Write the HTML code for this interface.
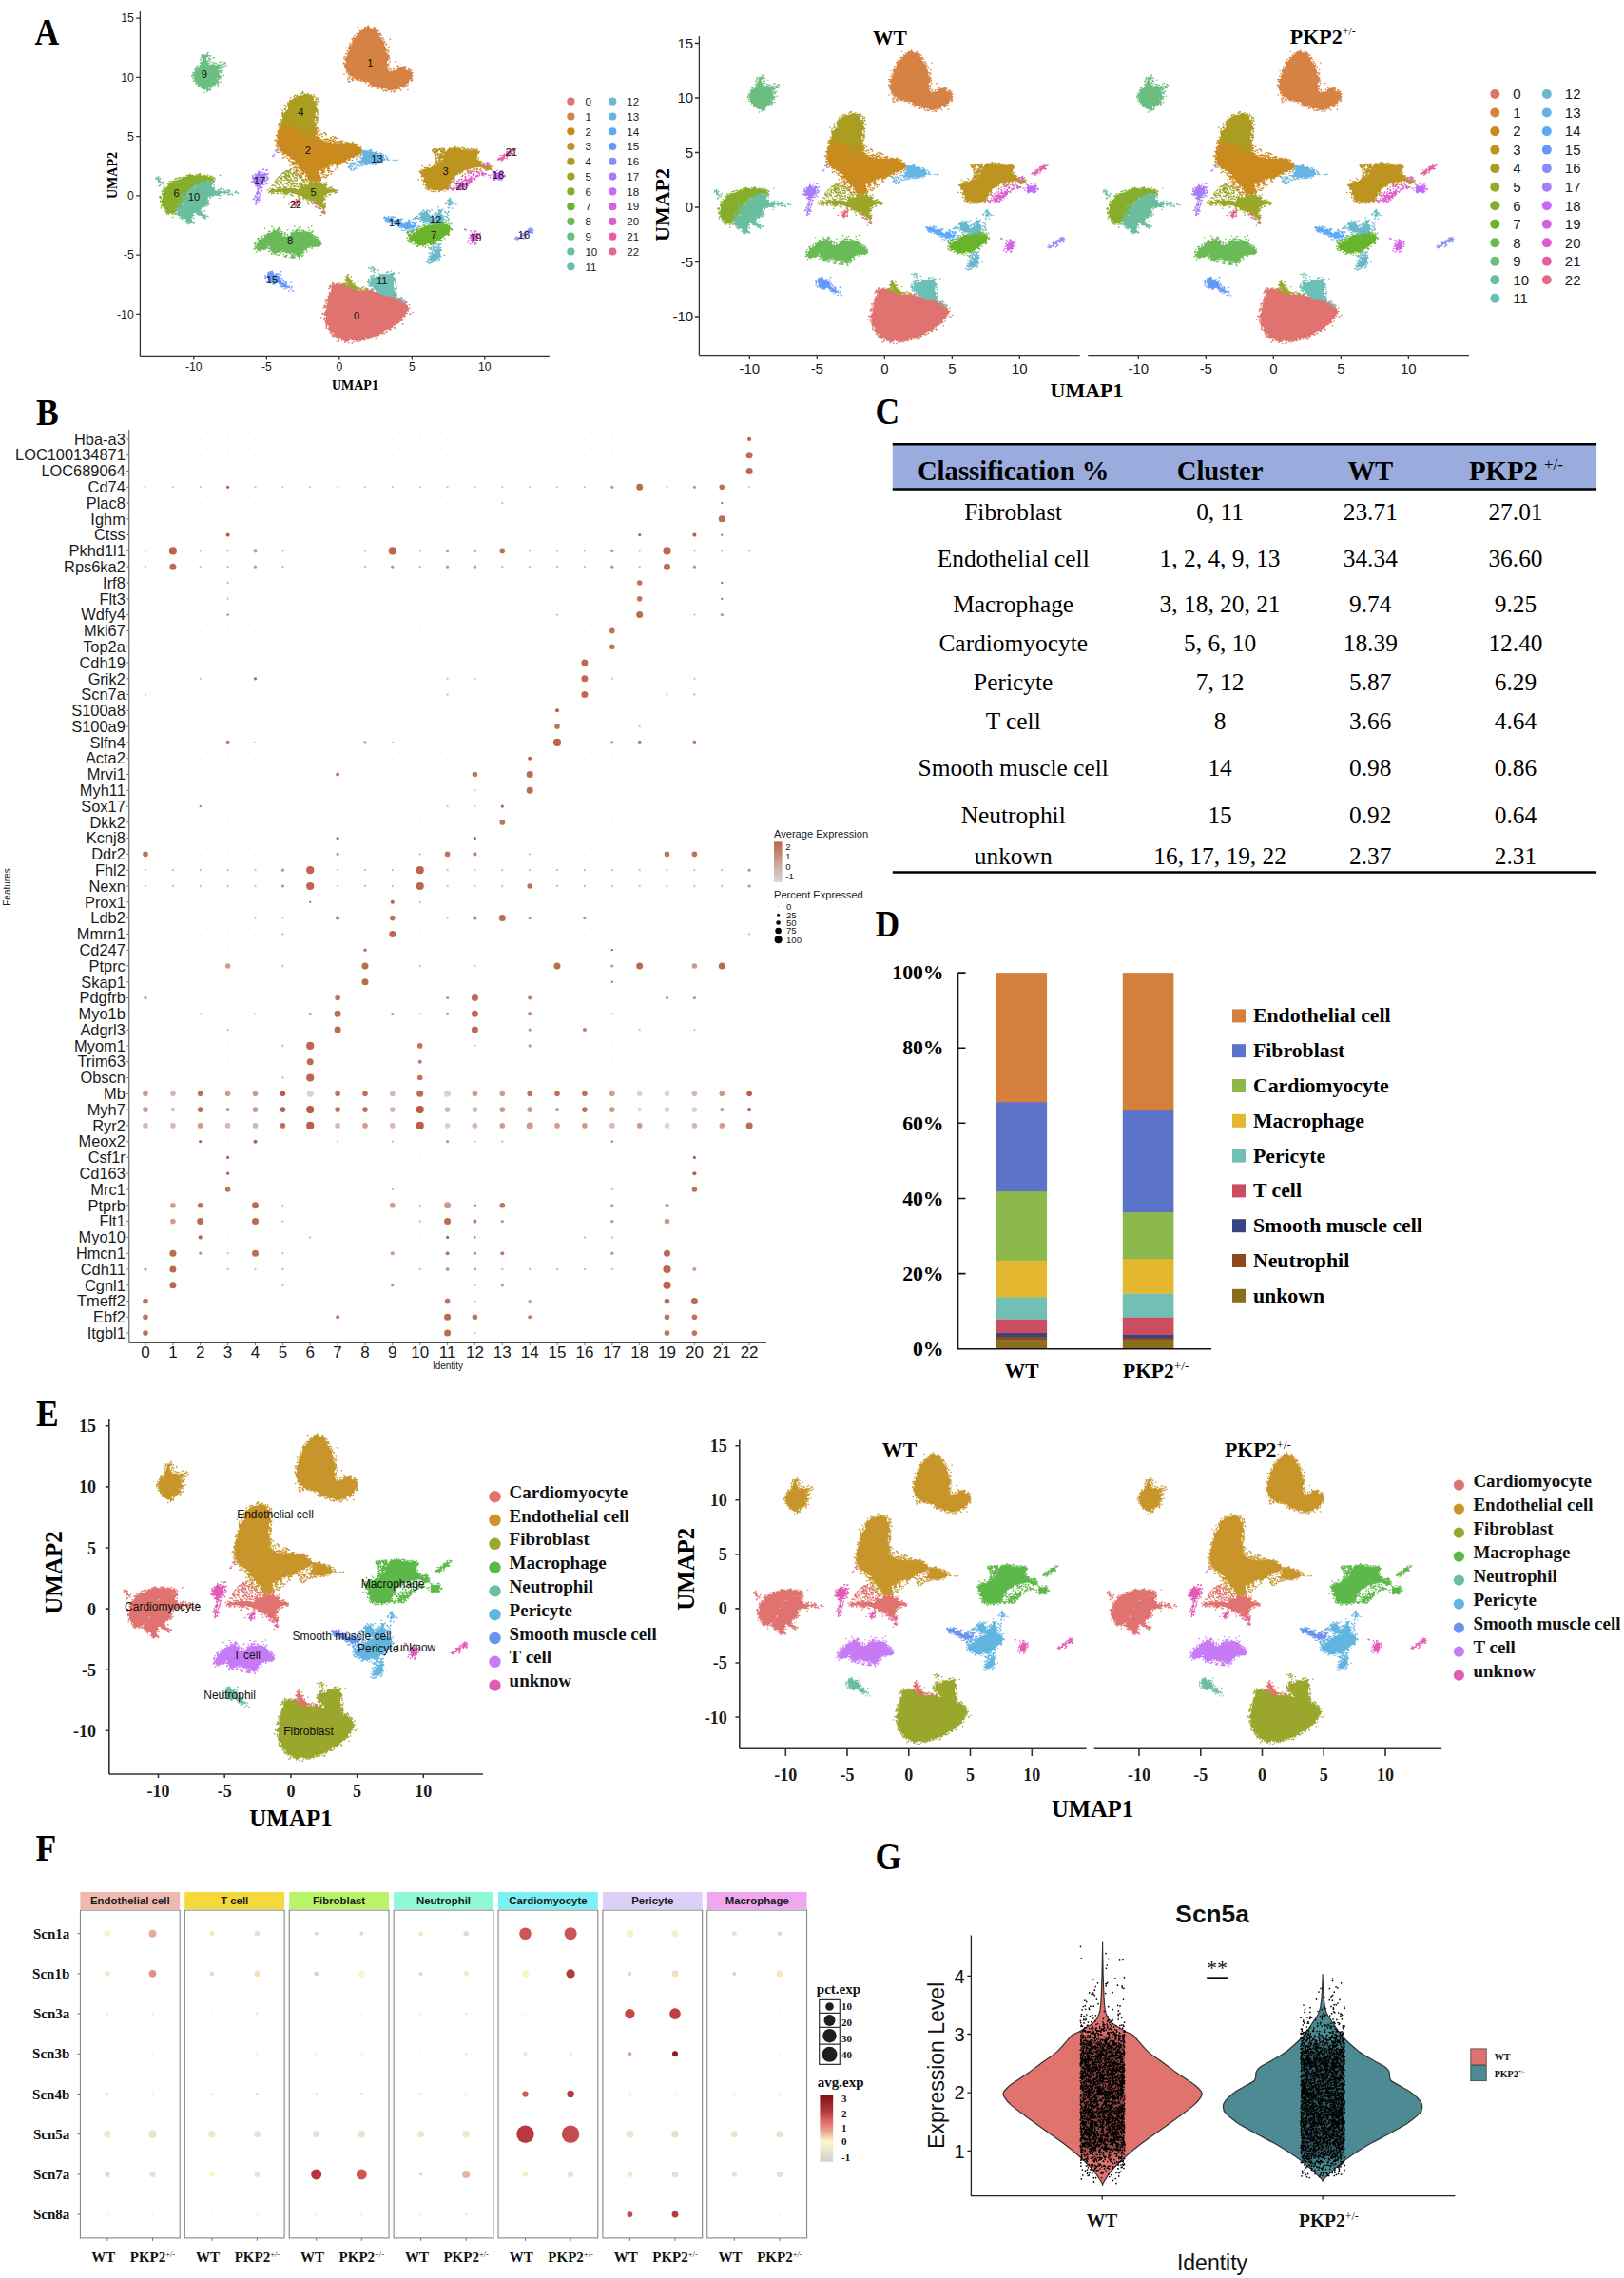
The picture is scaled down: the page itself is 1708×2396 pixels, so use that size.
<!DOCTYPE html>
<html><head><meta charset="utf-8"><title>Figure</title><style>html,body{margin:0;padding:0;background:#fff}svg{display:block}</style></head><body>
<svg width="1708" height="2396" viewBox="0 0 1708 2396">
<rect width="1708" height="2396" fill="#fff"/>
<defs><g id="c0"><path d="M-5,-75.1 -2.7,-75.2 -2.7,-74.5 -0.6,-73.6 0,-75.1 2.4,-74.5 4.2,-74.5 4.9,-75.4 7.3,-76.2 6.8,-77.5 8.4,-77.6 9.3,-78.5 10.9,-78.5 12.6,-79.2 12.4,-79.3 13.9,-80.1 15.1,-80 16.8,-79.8 20.1,-79.8 20.2,-80.4 20.9,-79.3 22.3,-79.9 23.7,-81 25.2,-81.3 27.1,-81.5 27.8,-81.7 29.2,-82.5 30.5,-82.8 32,-82.9 32.8,-83.8 34.6,-83.4 36.5,-84 37.4,-83.8 38.3,-85 39.4,-86.4 39.8,-87.4 41.6,-87.2 42.8,-88.2 43.6,-89.2 44.3,-90 46.1,-91.6 45.8,-91.5 47.2,-93 47.3,-95.7 47.9,-95.8 46.5,-97.9 45.9,-99.8 45.2,-100.3 45.3,-101.2 44.2,-102 43.2,-103.4 43.2,-104.9 40.9,-106.1 41,-106.4 40.7,-108.1 39.1,-108.2 37.9,-110.7 37.4,-109.3 36.5,-111.9 34.7,-112.2 35.1,-113 32.9,-113.2 31.7,-113.7 30.3,-115.5 30,-115.2 28.9,-116.4 26.6,-117.6 25.9,-118.1 25.2,-118.7 24,-119.1 22.1,-119.7 21.2,-120 19.5,-120.8 17.8,-120.2 17.9,-121.5 15.6,-122.3 14.7,-121.9 14.4,-122 11.6,-123.5 11.4,-122.4 8.6,-122.5 7.3,-121 7.4,-122.3 5.5,-123.4 4.2,-122.9 3.3,-122.9 1.3,-121 1.5,-121.5 -1.1,-119.7 -1,-120 -2.8,-119.1 -4,-118.4 -3.6,-116.6 -4,-115.9 -5.8,-115.2 -6.6,-114.3 -8.2,-112.2 -6.9,-110.9 -7.3,-110 -8.6,-108.9 -8.8,-108.3 -9.8,-107.3 -9.2,-105.3 -9.6,-103.3 -9.3,-102.4 -8.9,-101.8 -10.6,-99.7 -10,-98.1 -9.6,-97 -9.1,-97.2 -8.8,-95.2 -9.2,-93.7 -8.2,-91.7 -7.7,-91.7 -8.2,-90.7 -7.7,-87.9 -7.8,-86.8 -7,-85.1 -7.3,-84.7 -7,-82.1 -5.8,-81.7 -5.8,-80.3 -5.5,-79.2 -5.4,-78.5 -5.1,-75.7Z" stroke="none"/><path fill="none" stroke-width="1.25" stroke-linecap="round" d="M-4.4,-73.7h0M-3.7,-74.6h0M-4.6,-74.2h0M3.9,-74.6h0M3.2,-74.3h0M-0.8,-73.9h0M3.3,-74.7h0M3.3,-74.1h0M8.7,-77.2h0M6.3,-74.2h0M8.8,-76.7h0M9.3,-77.8h0M7.9,-76.5h0M13.3,-77.8h0M13.4,-78.8h0M10.8,-77.8h0M14.9,-78.7h0M11.2,-78.5h0M16.7,-77.1h0M19.5,-79.2h0M14.7,-78.7h0M15.7,-79.3h0M19.6,-79h0M19.2,-78.9h0M26,-80.7h0M22.2,-79.7h0M22.7,-79.4h0M25.6,-80.2h0M22.9,-79.2h0M31.1,-81.6h0M29,-81.8h0M29.1,-81.3h0M26.6,-80.5h0M30.4,-82.6h0M35.7,-81.3h0M36.9,-83.6h0M33,-82.7h0M36.2,-83.1h0M34.2,-83.1h0M38.3,-83.6h0M37.4,-83.8h0M39,-84.1h0M39.4,-85.7h0M41.7,-87.5h0M42.8,-88.3h0M42.8,-88.3h0M41.6,-87.2h0M44.2,-89.2h0M45.4,-90.6h0M46.3,-90.3h0M48.1,-92.1h0M44.8,-90.6h0M48.3,-94.9h0M47.4,-97.4h0M47.5,-95.5h0M46.9,-96.8h0M50.4,-98.6h0M44.7,-102.2h0M48.9,-100h0M45.3,-101.3h0M46.6,-99.3h0M44.9,-104.4h0M48.5,-100h0M42.4,-105.6h0M41.5,-106.4h0M40.6,-107.3h0M42.9,-104.8h0M43.3,-105.3h0M43.7,-108.5h0M35.3,-113.4h0M38.5,-112.1h0M35.1,-112.6h0M34.6,-113.2h0M38,-111.5h0M34.7,-113h0M37.9,-111.5h0M32.1,-115.4h0M29.9,-116h0M32.7,-114.7h0M30,-116.5h0M31.1,-116.4h0M29.5,-116.2h0M27.4,-117.5h0M25.7,-120.2h0M26.5,-118.4h0M21.9,-120.6h0M25.2,-120.9h0M23.9,-120.3h0M27.1,-117.7h0M20.1,-121.1h0M20,-121.1h0M15,-122.3h0M17.8,-121.8h0M17,-122.1h0M19.3,-121.1h0M14.3,-122.3h0M9.9,-123.7h0M14.4,-122.9h0M8.8,-124.9h0M11.6,-123h0M13.2,-123.4h0M1.7,-122.2h0M3.9,-124h0M6.5,-124.5h0M4.5,-123.3h0M5.1,-122.8h0M4.3,-122.4h0M-3.8,-119.1h0M-1.4,-123.4h0M-2.1,-120.2h0M-0.3,-121.5h0M-1.9,-119.8h0M-0.3,-122.4h0M-4.3,-118.3h0M-4.8,-116.8h0M-6.3,-115.6h0M-4.7,-118.2h0M-5.3,-116.3h0M-4.5,-117h0M-9,-112h0M-8.9,-108.2h0M-8.7,-110.9h0M-8.8,-110.1h0M-8.6,-108.7h0M-9.5,-106.1h0M-10.2,-104.8h0M-10,-100.9h0M-11.6,-99.4h0M-10.1,-103.7h0M-10.1,-99.7h0M-10.3,-103.2h0M-12.4,-102.7h0M-11.3,-99.9h0M-10,-93.8h0M-10.7,-94.7h0M-9.3,-90.1h0M-9.7,-94.5h0M-9.8,-94.2h0M-10.2,-92.7h0M-9.3,-92.9h0M-8.6,-91.4h0M-7.4,-85.2h0M-6.7,-81.8h0M-7.5,-85.1h0M-8.4,-88.8h0M-9.5,-88.5h0M-8.2,-88.3h0M-8.2,-87.7h0M-6,-76.5h0M-6.7,-76.9h0M-5.9,-78.1h0M-7.2,-78.5h0M-5.7,-77.2h0M-6,-75.6h0"/></g>
<g id="c1"><path d="M20.7,142.7 21.9,141.4 22.6,141.6 24.5,141.2 25.5,139.6 26.2,139.1 26.2,137.9 27.3,136.6 27.7,135.7 27.8,133.7 29,133.5 28.9,132.4 30.1,130.9 30.7,129.9 30.9,128.8 31.2,126.5 31.8,126.2 32.1,124.9 32.4,122.9 31.8,121.8 32.5,120.9 33.9,118.8 33,118.8 34.1,116.9 33.5,115.9 34.2,114.2 32.8,113.6 32.8,111.9 33.9,110.6 33.1,109.5 33,108 34.2,105.7 34.2,104.9 36.2,104.9 37.4,105 37.7,105.2 39.7,106.5 39.9,107.7 41.3,108.8 42.8,109.1 43.5,109.1 44.3,109.4 45.8,108.2 45.1,107.5 46.5,105.8 48.1,106.1 48.4,104.9 51.1,103.9 50.3,102.8 49.6,100.9 49.9,99.4 49.4,98.7 48.5,98 47.8,95.9 47,95 45.8,94.5 46.4,92.9 44.4,92.4 42.8,92.3 42.3,91.8 41.2,90.5 41.1,89.8 39.1,90.1 37.6,89.6 36.1,88.7 35,88.9 33.8,88.5 32.9,90 30.7,90.7 29.2,89.7 28.2,91.2 27.6,91.2 26.6,92.1 24.6,92.1 22.6,93.6 22.1,93.6 21.3,94.6 20.6,95.3 20.2,96.1 17.6,96.5 16.6,96.2 16.1,96.9 14.4,98.2 13.9,98.2 11.7,97.3 11.1,98.3 9.9,99.7 8.7,100.8 7.8,100.9 6.5,102.2 6.7,102.1 5.9,104.1 5.7,104.5 4.7,106.7 4.5,108.1 4,108 3.4,110.7 4.3,111.8 4.6,113.2 3.9,115 4.3,116.8 4.6,117 5.6,118.4 5.4,120 6.3,121.1 7,122.1 6.3,123.5 7.2,126.1 8.5,126.2 7.8,127.4 8.5,128.4 9,129.8 8.6,130.7 10.3,132.8 10.8,133.4 12,135.8 12.7,135.2 12.5,137.3 13.7,137.2 14,138.3 16,139.9 16.4,141 17.3,141.9 19.2,142.6 20,143.2Z" stroke="none"/><path fill="none" stroke-width="1.25" stroke-linecap="round" d="M24.8,140.9h0M26.2,139.4h0M24.1,141.8h0M25.5,140.5h0M24.1,141.7h0M24,142.4h0M30,133.3h0M29.5,133h0M27.2,138.9h0M28.9,135.3h0M27.5,137h0M27.9,136h0M28.4,136.7h0M31.3,130.2h0M35,132.1h0M32.4,127.6h0M31,129.2h0M32.3,128.4h0M30.6,131.8h0M34.1,125.7h0M34.1,122.6h0M34,118.5h0M33,122h0M33.6,117.8h0M33.8,121h0M32.8,123.1h0M34.1,117.7h0M34.8,113.3h0M33.6,110.3h0M34.6,115.5h0M34,116.6h0M33.9,110.1h0M34,111.5h0M38.5,113.3h0M33.8,108.2h0M34,108.5h0M35.1,106.2h0M35.2,107.2h0M37.4,104.4h0M35.1,106.1h0M35.9,104.9h0M38.1,105.2h0M38.8,107.6h0M37.1,105.7h0M37.4,107.1h0M40.2,109.8h0M40.6,109.1h0M45.1,108.3h0M45.6,109h0M45.9,107.9h0M44.9,109.1h0M49.7,105.8h0M48.4,105.9h0M48.3,107.3h0M47.5,106.7h0M48.9,105.1h0M49.8,99.1h0M50.2,100.9h0M50.2,101.2h0M50,98.9h0M50.1,100.7h0M49.8,97.9h0M47.2,95h0M50,97.4h0M49.4,97.1h0M47,93.3h0M49.6,97.9h0M45.5,92.5h0M41.8,90h0M42.6,88.8h0M44.5,91.7h0M44.3,91.5h0M47.2,89.4h0M39.1,89.3h0M37.9,87.4h0M38.5,88.8h0M35.6,87.7h0M37.2,88.2h0M30.3,88.4h0M32,88.4h0M29.6,89.8h0M32.8,88.5h0M31.6,89.2h0M32,88.7h0M23.1,92.6h0M26,90.2h0M24.9,92h0M27.5,90.6h0M26.4,91.1h0M22,93h0M20.9,94.1h0M22.3,91.7h0M20.1,93.1h0M18.2,95.5h0M22.9,93.1h0M13.2,97.4h0M15,97h0M12.7,98.1h0M12.5,98h0M15.2,96.9h0M14.5,97.3h0M9.2,99.5h0M9.6,97.4h0M7.2,100.5h0M9.4,99.4h0M4.8,106.7h0M4.3,108.3h0M5.4,104.9h0M6.2,102h0M5.3,103.6h0M5.2,104.6h0M3.4,102.6h0M3,111.6h0M3.3,112.3h0M3.9,109.5h0M3.3,111.5h0M3.3,112h0M3.6,115.1h0M6,121.7h0M3.2,116.7h0M4.7,119.8h0M5.5,122.3h0M4.8,119.9h0M4,117.1h0M6.8,125.5h0M7.4,126.4h0M6.9,125.3h0M6.5,124.4h0M4.8,124.9h0M6.7,124.4h0M7.2,127.6h0M7.6,129h0M9.6,132.7h0M10.5,135.2h0M12,136.7h0M9.8,133.8h0M10,132.6h0M8.8,132.2h0M9.5,132.5h0M12.8,137.1h0M12.7,142.3h0M14.2,139.1h0M15.6,140.8h0M14.5,139.1h0M19.7,142.8h0M17.8,142.4h0M20,143.6h0M19.6,142.9h0M6.3,98h0M9.2,97.3h0M6.6,96.4h0M9.3,98.2h0M9,98.1h0M5.9,99.4h0M6.3,96.5h0M7.2,99.5h0M7.4,96.5h0M8.5,98.4h0"/></g>
<g id="c2"><path d="M-40.3,61.3 -38.5,60.4 -37.6,62.1 -36.9,61.3 -34.6,62.1 -34.1,61.9 -32.5,62.5 -31.3,63.3 -29.8,63.2 -29.2,63.7 -27.7,63.3 -26.7,62.7 -25.5,62.1 -23.9,62.5 -23,61.8 -21.3,61.1 -19.9,60.4 -18.7,60.4 -19.5,60 -16.2,60.3 -16.9,58.2 -16.1,56.5 -15.6,55.9 -16.5,53.9 -16.2,54.5 -14.9,50.9 -16.7,51.2 -15.8,49.4 -15.3,48.5 -14.4,48.1 -14,48 -12.5,47.4 -10.9,46.3 -9.9,46 -9.6,45.7 -7.2,44.8 -6.9,45.9 -4.5,44.4 -3.4,44.9 -1.9,44.5 -1.2,44.3 0.3,44.7 1.1,44.6 2.3,45.2 3.5,44.1 4.8,45.5 6.3,45.3 8.3,44.3 9.8,44.3 10.9,43.2 12,42 13,41.4 14.5,40.9 15,40.2 16.2,38.3 15.6,37.1 15,35.1 15.5,35.7 13.8,34.9 14.2,34.4 10.8,33.3 11,32.6 9.4,31.5 7.9,32.2 6.9,30.9 5.6,30.7 4.6,29.4 2.9,28.2 1.9,27.5 0.1,26.8 0.1,26.7 -2.1,27 -1.9,27.3 -4,25.9 -5.3,25.7 -6.5,25.7 -8,24.5 -8.9,24.2 -10.3,23.2 -11.8,22.5 -11.6,21.7 -14.1,21 -13.2,19.2 -14,17 -14.7,17.6 -12.8,16.6 -14.2,14.1 -13.5,11.9 -14.4,12.1 -16.5,11.8 -17.9,12.2 -19,11.5 -21,12.9 -22,13.5 -21.6,14.3 -22.4,16.5 -22.1,17.4 -23,17.8 -23.6,20.5 -24,19.9 -26.4,21.1 -26.2,22.1 -27.2,23.5 -27.3,24.3 -27.9,24.4 -29.1,26.3 -30.8,27.6 -31.6,27.2 -30.2,29.5 -32.3,30.6 -32.8,30.5 -34,32.8 -35.2,33.3 -36.2,34.7 -37.3,34.9 -38.7,35.6 -39.1,37.2 -40.4,37.3 -41.1,38.8 -41.1,39.9 -42.4,41.8 -41.9,43 -42.6,43.8 -42.6,45.9 -41.9,47.3 -43,48.3 -42.6,49.4 -43.2,50.3 -42.3,52.2 -41.7,53.5 -41.7,55.2 -41.4,56.5 -41.1,56.4 -40.1,58.1 -40.3,58.9Z" stroke="none"/><path fill="none" stroke-width="1.25" stroke-linecap="round" d="M-39.4,61.5h0M-29.6,64.5h0M-32.3,63.1h0M-38.7,62.2h0M-37.4,62.5h0M-30.9,64.5h0M-34.2,63.4h0M-36.1,62.3h0M-32.2,63.9h0M-30.5,67.6h0M-22.8,62.4h0M-20.5,61.1h0M-16.6,60.3h0M-18.6,60.3h0M-19.9,61.5h0M-23.8,62.4h0M-26.1,63.1h0M-26.9,63.9h0M-19.1,62.2h0M-20.8,62h0M-25.7,62.9h0M-27,64.5h0M-15.4,50h0M-15.9,55.5h0M-15.4,53.6h0M-15.3,53.9h0M-15.1,53.2h0M-15.6,56.2h0M-15.6,56.7h0M-15.8,54.5h0M-14.8,54.4h0M-10.9,47.3h0M-13.2,48.8h0M-11.8,51.7h0M-14.8,48.4h0M-5.8,49.1h0M-10,47.3h0M-3.5,45.8h0M-7.5,45.9h0M-3,45.3h0M-6.6,46.9h0M-5.9,46.6h0M-3.1,45.4h0M0.9,46.1h0M1.8,45.7h0M-1.9,45.2h0M-1.8,45.5h0M-0.4,45.6h0M0.9,45.5h0M4.3,45.1h0M-2.3,44.9h0M10.8,43.8h0M9.3,44.6h0M9.4,45.2h0M8.8,44.5h0M12.3,42.9h0M14.9,41h0M12.7,43h0M11.6,43.6h0M12.8,42.9h0M16.2,37h0M16.3,37.1h0M18,36.1h0M16.4,36.6h0M12.9,32.1h0M14.5,27.3h0M12.2,32.7h0M14.3,33.2h0M15.7,34.8h0M7.3,30.8h0M8.9,30h0M6.8,30.5h0M7.1,30.2h0M6.3,30.1h0M5.7,27.8h0M3.8,28.5h0M5,28.5h0M6.6,29.9h0M-2,26.4h0M-0.3,26.7h0M-1.3,25.6h0M-0.3,26.4h0M-1.2,26.3h0M0.7,26.3h0M-7.9,23h0M-7,24.3h0M-6.8,23h0M-10.2,22.4h0M-7.9,24.4h0M-6.7,24.7h0M-4.8,25.2h0M-11.1,21.9h0M-12.2,18.9h0M-11,21.5h0M-11.7,20h0M-12.8,13.2h0M-12.6,14.4h0M-13.3,16.8h0M-13.7,14.2h0M-13.5,15.3h0M-15.6,11.7h0M-15.9,12.1h0M-17.4,11.3h0M-19.8,10.7h0M-17.6,11.1h0M-20.3,11.6h0M-22,12.1h0M-22.6,13.4h0M-22.9,14.5h0M-22.9,16.2h0M-23,13.3h0M-26.1,15.8h0M-24.5,18.5h0M-24.7,20.2h0M-24,19.5h0M-25.3,21h0M-25.7,21.2h0M-29.9,25.1h0M-29.6,25.4h0M-30.2,26.8h0M-31.2,23.6h0M-31.6,28.5h0M-27.6,22.8h0M-32.1,27.8h0M-35.9,33.7h0M-33.9,31.4h0M-35.7,31.7h0M-32.9,28.5h0M-38.7,31.8h0M-38.2,32.1h0M-32.1,28.7h0M-40.6,36.9h0M-37.2,32.9h0M-41.7,36.4h0M-38.7,34.7h0M-37.6,35.2h0M-39.1,36.2h0M-43.3,42.2h0M-42.9,38.9h0M-42.1,40h0M-42.9,41.3h0M-42.8,44.9h0M-42.7,46h0M-43.2,50.9h0M-42.8,43.8h0M-43,47.1h0M-44.3,46.8h0M-43.6,46.9h0M-42.8,50.8h0M-43.6,46.9h0M-40.7,58.9h0M-41.2,57h0M-42.1,53.5h0M-40.8,60.1h0M-40.6,60.5h0M-40.8,58.7h0M-42.2,54.6h0M-41.9,59.1h0M-4.5,50.1h0M-13.3,48.7h0M-11.6,49.8h0M-15.2,49.2h0M-14.4,47.9h0M-14.5,49.2h0M-3.1,47h0M-4.2,47.5h0M-15.9,55.9h0M-5.9,45.4h0M-12.2,47.2h0M-12.2,52.1h0M-10.3,53.2h0M-9,46.1h0M-3.3,48.6h0M-4.2,46h0M-9.1,51.2h0M-14.3,56.4h0M-3.7,48.9h0M-7.4,47.5h0M-8.5,48.2h0M-2.9,49.7h0M0.6,45.6h0M1.2,46.3h0M-8.3,47.4h0M-13.2,55.3h0M-15,57.4h0M-2.8,49.3h0M-9.3,47.4h0M-9.1,52.3h0M-3.6,45.2h0M-9.9,47.6h0M-1.1,48.2h0M-7.8,45.7h0M-15.1,49.9h0M-5.7,48.1h0M-13.3,51h0M-9.8,52.6h0M-1.9,48.7h0M-13.7,51.6h0M-4.9,46.5h0M-0.2,45.3h0M2.4,46.5h0M-15.1,51.6h0M-8.4,47.9h0M-29.8,20.9h0M-29.3,20.2h0M-29.4,22.1h0M-31.3,25.9h0M-29.8,18.8h0M-29.2,20.4h0M-31.5,28.2h0M-25.9,21.7h0M-26.2,17.1h0M-32.1,25.7h0M-22.3,13.3h0M-27.3,17.6h0M-33.9,29.4h0M-31.1,28.2h0M-27.5,23.8h0M-26,18.5h0M-33.8,25.5h0M-29.1,23.8h0M-24.6,13.7h0M-31.5,27.4h0M-30.6,24h0M-26.1,15.3h0M-34.7,29.7h0M-24.9,17.9h0M-23.1,16.7h0M-32.7,22.6h0M-31.3,21.9h0M-26.7,15.4h0M-29.4,21.6h0M-25.8,15.8h0M-30.7,27.8h0M-22.9,17.1h0M-25.2,13.1h0M-25.5,13.4h0M-23,13.4h0M-25.5,15.9h0M-31.9,26.9h0M-25.5,19.2h0M-29,18.5h0M-27.6,19.9h0M-27.1,18h0M-34.3,30.9h0M-28.9,23.4h0M-28.5,21.2h0M-30.1,23.3h0M-28.9,23.8h0M-26.7,18.4h0M-29.2,20.9h0M-23.4,13.7h0M-27.8,23.5h0M-7.3,22.3h0M-12,21.1h0M-6.3,20.8h0M-8.2,21.4h0M-10.2,22.6h0M-1.7,24.1h0M-12.9,13.1h0M-11.1,19.8h0M-10.8,22.2h0M-9.6,23.4h0M-10.7,20.1h0M-10.7,16.2h0M-2.6,22.1h0M-7.4,23.5h0M-5.6,18.4h0M-7.6,17.6h0M-11.4,21.6h0M-5.4,20.2h0M-9.8,15.4h0M-10.7,19.7h0M-1.3,24.1h0M-13.2,14.3h0M-9,15.5h0M-12,15.6h0M-11,20.7h0M-4.3,20.3h0M-7.3,19.8h0M-10.6,17.7h0M-11.6,18.4h0M-2,26.4h0M-13.2,16.9h0M-8.9,24h0M-0.7,23.2h0M-7.1,21.1h0M-9.2,17.5h0M-7.7,23.1h0M-10.5,21h0M-8.3,16.7h0M-10,19.9h0M-1.7,25.6h0"/></g>
<g id="c3"><path d="M73.4,36.8 73.8,38.2 74.8,39.3 75.5,39.4 77.9,40.7 79.2,40 80.1,40 82.3,40.4 83.4,40.5 83.8,38.9 85.9,38.6 87.2,38.2 87.7,38.7 89.8,38.3 91.8,38.8 93.2,39.3 94.2,38.5 95.3,38.2 95.5,37.2 95.4,36.2 95,34.1 95.2,33.8 94.5,31.1 94.8,30.8 96.7,29.4 97.3,28.8 97.8,27.1 98.8,27.1 99.7,26.4 100.8,25.3 102.3,25.1 104.1,25 104.2,22.6 104,22.2 102.5,21.4 102,21.2 101.2,21.8 99,22.8 97.1,24.4 97.6,23.4 96.6,24 94.9,23.7 92.9,23.5 92.3,22.5 90.9,23.2 90,22.3 89.5,22.1 86.8,21.5 86.5,21.7 84.4,20.2 83.2,19.2 81.6,18.8 82.2,18 79.9,16.9 79.4,15.1 79.4,14.2 77,13 77.4,11.1 77.3,10.4 75.6,9.1 75.7,7.6 74.6,6.4 74.6,5.5 72,5.2 71,3.9 69.9,4.7 68.2,4.8 66,4.3 66.1,4.3 63.9,4.8 63.3,5.9 61.4,5 60.1,7.1 60,7.4 59.6,9.3 59.2,11.2 57.8,11.7 57.9,13.4 58.6,15.5 57.5,15.4 57.2,16.3 56.3,17.8 55.7,19.2 56.6,21.2 57,21.4 58.1,22.6 59.4,22.5 60.2,24.2 62.1,23.3 63.2,24.1 63.8,24.8 65.1,25.8 66.6,25.1 67.2,27.2 68.7,27.4 68.6,27.7 70.4,29.9 70.8,30.6 71.9,31.8 71.6,33.4 72.1,35.1 72.4,36.6Z" stroke="none"/><path fill="none" stroke-width="1.25" stroke-linecap="round" d="M75.5,39.3h0M72.6,38.6h0M75.9,40.2h0M75.4,39h0M79.2,41h0M81.4,40.6h0M79.9,40.5h0M79.7,41.3h0M84.4,40.4h0M86.6,38.6h0M86.3,39.9h0M85.5,39.2h0M85.1,40.4h0M89.5,39h0M90.6,39.6h0M87.7,38.7h0M88.2,39.5h0M94.4,38.7h0M94.8,39.3h0M91.9,39.3h0M96,36.4h0M95.6,35.6h0M95.2,36.9h0M96.3,37.4h0M95.2,36.9h0M97.4,28.6h0M95.6,31.8h0M97.2,29h0M97.9,28.4h0M95.7,31.4h0M99.7,27.2h0M100.3,26.9h0M101,26.9h0M99.2,27.3h0M104,25h0M101.6,25.9h0M103.5,27.1h0M104.8,24.6h0M104.5,22.9h0M104.2,22.1h0M100.5,17.9h0M101.3,21.5h0M97.1,22.3h0M97.3,22.4h0M100.7,21.3h0M97.1,22.4h0M96.8,21.7h0M95.1,22.2h0M94.8,22.8h0M93.3,22.6h0M92,21.6h0M93.3,20.3h0M94.5,21.7h0M86.5,18.2h0M88.6,21.6h0M90,21h0M87.9,20.8h0M88.9,20.2h0M83.3,18.7h0M84.6,19.7h0M84.9,17.2h0M84.6,20.1h0M83.1,18.8h0M78.1,12.5h0M78.9,14h0M78.8,12.1h0M78.1,11.8h0M79.4,13.5h0M76.3,6.8h0M76.2,8.2h0M77,5.9h0M75.1,6.7h0M76,8.6h0M74,5.2h0M74.8,6.2h0M72.6,3.8h0M74.5,6.2h0M68.4,3.8h0M68.7,3.4h0M66.3,3.5h0M68.8,4.4h0M69.4,4.3h0M63.6,3.3h0M61.7,4.6h0M64.6,3.7h0M63.1,4.7h0M59.3,6.3h0M59.1,8.8h0M61.1,5.6h0M57.8,9.2h0M60,5.4h0M59.8,7.6h0M56.9,13.5h0M58,12.4h0M58.2,11.3h0M56.8,16.5h0M56.6,16.2h0M54.5,13.4h0M55.9,20.4h0M56.2,20h0M55.1,20.4h0M56,19.6h0M57.1,25.1h0M58.6,23.4h0M56.6,22.1h0M59.2,23.8h0M60.6,23.7h0M62.3,25.2h0M61.6,26.4h0M66.4,27.2h0M65.3,26.3h0M66.9,26.9h0M66.7,27.3h0M66.8,28.5h0M67.6,27.9h0M69.3,30.9h0M67.1,28.1h0M69,31h0M69.5,31.9h0M71.1,32.3h0M71.4,34h0M71.3,35.9h0M71.2,33.9h0M67.6,37.1h0M66.4,38.5h0M66.3,32.6h0M68.5,29.4h0M66.9,29.7h0M71.2,36.7h0M70.1,34.2h0M71.7,36.3h0M70.6,37.7h0M72.8,36.7h0M69.4,34.3h0M68.4,29.5h0M66,28.7h0M66.4,34.3h0M66.6,35.2h0M72,39.8h0M71.9,38.8h0M66,37.4h0M70.3,33.2h0M64.2,38.3h0M71.2,32.7h0M68.5,38.9h0M70.3,35.7h0M66.7,36.7h0M69,31.6h0M68.5,29.6h0M66.3,38.4h0M66.9,36.7h0M67,28.3h0M70.6,39.7h0M69.3,34.5h0M65.8,28.8h0M68.2,31.6h0M67,39.3h0M66.5,37.5h0M70,37.6h0M72.1,38.9h0M67.1,38.7h0M64,38.3h0M66.9,26.8h0M66.9,28.5h0M67.7,34.5h0M67.7,37.2h0M66.1,37.4h0M68.8,33.3h0M70.3,39.2h0M66.2,33.6h0M64.7,39h0M71.5,38.3h0M65.2,36h0M64.4,37.2h0M69.3,32.5h0M69.1,34.9h0M71.1,37.5h0M70,37.2h0M68.2,38.7h0M71.4,37.5h0M70.7,32.4h0M67.6,38.1h0M72.6,36.5h0M71.8,38.9h0M66.2,34.5h0M71.2,36.2h0M71.6,32.2h0M71,33.8h0M67.4,27.7h0M67.6,27.6h0M71.3,34.4h0M71.7,33.6h0M71.4,34h0M69.6,34.7h0M67.6,37.7h0M66,26.3h0M68.8,31.5h0M65.5,25.8h0M65.9,34.4h0M72.1,36.3h0M66.2,34.3h0M66.3,36.5h0M66,38.1h0M69.9,38.4h0M66.8,39.3h0M69,29.3h0M69.6,30.1h0M69.3,29.1h0M64.6,36.8h0M64.9,36.5h0M66.2,30.8h0M72.3,37.5h0M71.4,39.7h0M69.2,39h0M69.4,34h0M66.6,31.1h0M68.9,29.2h0M69.6,38h0M67.7,37.8h0M68.7,33.1h0M69.3,33.6h0M69.9,33.6h0M68.8,29h0M71.9,39.2h0M66.4,33.9h0M68.4,32.1h0M65.3,36.9h0M66.2,28.5h0M65.4,26.8h0M68.5,28.1h0M69.6,34.2h0M69.4,32.5h0M69.3,29.9h0M67.9,35.5h0M65.6,36.1h0M69.1,39.6h0M69.4,33.5h0M67.1,31.8h0M70.5,35.9h0M65.3,39.3h0M67.2,26.9h0M70.3,34.5h0M70.9,31.9h0M70.5,34.3h0M69.5,33.5h0M69.8,33.7h0M70.2,31.8h0M67,28h0M64.5,37.9h0M69.6,32.2h0M67.7,38.1h0M68,33.6h0M71,34.2h0"/></g>
<g id="c4"><path d="M-27.1,84.4 -25,84.9 -24.9,84.5 -23.6,86.4 -21.6,85.6 -20.5,85.5 -18.9,84.1 -17.6,83.5 -17.8,82.2 -17.6,81.6 -17.7,80.3 -15.2,78.5 -16.6,77.7 -15.6,75.7 -16,75.2 -15.3,73.9 -15.2,72.2 -16,70.9 -16.4,69.6 -16.4,69.8 -16.6,69 -15.6,66.7 -16.6,65.4 -17.1,64.3 -16.8,61.8 -16.9,61.8 -16.8,60.3 -16.7,58.6 -16.1,58.1 -16.7,56.5 -18.2,56 -19.3,54.7 -19.6,53.7 -21.3,55.1 -22.8,55.4 -23.2,56 -25.4,56.3 -26.4,57.2 -27.1,56.8 -28.6,58 -29,57.5 -31.4,59.1 -32.2,59.5 -33.4,59 -34.7,60.2 -35.6,59.9 -37.2,60.5 -38.3,60.3 -39.6,60.5 -40.3,62.2 -38.9,63.8 -39.3,63.9 -38.9,65.6 -39.5,67.3 -38.4,68.6 -37.7,70.4 -36.5,71.6 -35.9,72.4 -35,73.1 -35.4,75.7 -35.7,76.6 -35.7,77.6 -34.2,78.3 -34.5,79.8 -33.2,80.6 -32.1,81.5 -30.4,83.4 -29.8,83.3 -28.7,84.2Z" stroke="none"/><path fill="none" stroke-width="1.25" stroke-linecap="round" d="M-26.3,85.9h0M-25.3,86.7h0M-24.8,87.5h0M-24.9,86.1h0M-25.2,87.2h0M-19.1,85h0M-21.5,86.4h0M-17.4,85.1h0M-19,85h0M-17.4,83.6h0M-16.2,83h0M-16.2,80.1h0M-17.5,83.6h0M-16,81.6h0M-15.8,73.3h0M-14.5,71.7h0M-14.6,71.8h0M-16,72.9h0M-15.7,73.2h0M-15.5,73.6h0M-15.8,76.9h0M-15.8,72.9h0M-15.7,66.4h0M-16.1,63.6h0M-15.7,61.6h0M-15.8,66.3h0M-15,66.4h0M-15.8,65.6h0M-16.3,66.1h0M-14.8,68.9h0M-16.5,61.4h0M-15.8,61.2h0M-16,57.1h0M-16.1,60.6h0M-16.2,58.9h0M-18.8,54.4h0M-18.3,54.4h0M-18.4,53.5h0M-18.2,54.3h0M-22.6,53.4h0M-25.9,53.1h0M-26.2,56.5h0M-24.6,54.8h0M-23.9,54.8h0M-22.4,54.7h0M-28.9,55h0M-31.6,58.4h0M-32.8,58.6h0M-32.8,58.5h0M-32.6,57.8h0M-27.7,57.1h0M-36,59.2h0M-34.5,58.8h0M-34.1,58.6h0M-36.4,58.7h0M-39.4,59.3h0M-39.8,58.9h0M-40.6,60.9h0M-41,60.6h0M-41.4,61.1h0M-39.7,63.9h0M-40.1,64.2h0M-38.7,68.6h0M-38.9,67.7h0M-38.5,69h0M-38.8,71.7h0M-39.1,69h0M-39,70.1h0M-36.9,72.6h0M-40.5,73.1h0M-37.4,72.6h0M-37.4,76.6h0M-37.2,73.5h0M-36.3,74.7h0M-34.2,79.7h0M-35.3,78.6h0M-35.1,78.3h0M-33.3,82.7h0M-33.7,80.8h0M-29.3,84.2h0M-31.1,83.7h0M-28.9,84.7h0M-30.4,84.8h0M-15.5,77.5h0M-15.1,70.2h0M-15,68.5h0M-15,64.9h0M-15.7,70.8h0M-14.6,79.9h0M-16.1,79.5h0M-14.6,82.3h0M-15.6,77.8h0M-13.7,75.7h0M-15.7,73h0M-16,64.1h0M-15.1,81.5h0M-15,64.1h0M-15.6,71.6h0M-14.9,66.1h0M-15,71.8h0M-14.5,79.1h0M-14.6,79.3h0M-15.2,62.5h0M-14.6,64h0M-14.3,75.9h0M-19.5,48.1h0M-22.4,54.6h0M-19.6,49.6h0M-25.4,55.6h0M-17.3,54.2h0M-24.1,54.7h0M-18.5,54.8h0M-16.6,52.9h0M-25.4,54.6h0M-18.2,52.3h0M-21.5,53.6h0M-17.9,53.1h0M-16.3,50h0M-19.9,53.4h0M-18.6,54.8h0M-24.5,53.9h0M-21.6,49.5h0M-23.3,50.9h0M-18.5,52.8h0M-17.9,54.8h0M-17.4,55.1h0M-21.3,50.3h0M-17.5,49.4h0M-19.8,53.3h0M-20.5,48.1h0M-20.3,52.5h0M-23,49.6h0M-24.6,52.1h0M-22.4,53.1h0M-19.1,50.1h0M-19.8,49.9h0M-18.3,49.4h0M-17.8,52.6h0M-17.8,50.9h0M-23.4,53.5h0M-25.3,53.7h0M-17.7,52.6h0M-22.6,50.5h0M-17,50.3h0M-26.2,57h0"/></g>
<g id="c5"><path d="M-21.6,11.7 -20.9,11.6 -17.8,11.5 -17,11.3 -15.2,11.2 -14.4,11.4 -12.8,11.7 -11.5,9.6 -10.1,9.5 -8.7,9.4 -9.4,7.8 -8.1,6.3 -6.6,5.9 -5,5.5 -4.4,6 -2,4.7 -1.3,4.2 -2.5,3.3 -4.7,2.6 -5.8,2.7 -6.3,2.4 -8.4,1.6 -8.9,0.3 -10.5,0 -10.6,-1.2 -11,-1.7 -10.6,-3.5 -11,-4.8 -11.8,-6.4 -10.8,-7 -10.9,-8.3 -9.4,-10.1 -10.3,-11.7 -9.9,-12.4 -8.5,-13.9 -10.1,-13 -10.4,-12.3 -11.3,-11.6 -12,-10 -13.2,-9.8 -13.7,-7.8 -14.7,-7.3 -16,-7.3 -16.2,-6.2 -17.5,-4.3 -19.3,-4.6 -20.3,-4.1 -20.9,-2.7 -22.3,-2.6 -24.1,-2.4 -24.5,-2.9 -25.7,-0.1 -27.6,-0.4 -29,0.8 -29.9,1.5 -31.1,1.6 -33,1.8 -33.7,3 -34.7,1.6 -36.3,1.8 -37.8,1.5 -39.5,3.2 -40.5,3 -41.8,3 -43,2.7 -45.1,3.3 -46.3,2.8 -46.8,2.9 -48,3.1 -48.7,3.7 -48.4,3.8 -48.1,4.5 -45.8,5.4 -45,5.5 -43.5,5.1 -41.9,6.2 -41.1,6 -39.6,5.9 -37.4,7 -36.3,6.6 -35.6,6.3 -34.3,6.4 -34.1,6.7 -31,6.4 -29.9,6.1 -28.3,5.1 -27.1,7.2 -25.9,8.4 -24.2,7.7 -24.6,8.7 -22.8,8.8 -20.9,9.6ZM3.5,-67.7 6,-68 6.7,-68.8 7.5,-70.2 8.1,-71.9 8.9,-73.4 9.7,-75 11.1,-76.3 11.3,-76.5 11.8,-77.4 12.3,-78.2 11.2,-79 10,-79.4 8.5,-77.2 7.3,-76.6 6.8,-75.5 5.7,-75.6 5.8,-72.8 4.3,-72.6 4,-70.7 5.3,-69.7Z" stroke="none"/><path fill="none" stroke-width="1.25" stroke-linecap="round" d="M-13.3,12.7h0M-18.7,12.2h0M-13.8,12.1h0M-16,11.7h0M-13.3,11.9h0M-19.6,11.7h0M-16.4,11.8h0M-9.8,9.8h0M-10.7,10.8h0M-8.7,11.3h0M-9.7,9.5h0M-5.2,7.3h0M-8.8,9h0M-8.7,8.5h0M-7.1,6.5h0M-3.6,5.1h0M-6,6.6h0M-4.8,5.9h0M-6.1,6.6h0M-1.8,4.6h0M-3,2.3h0M-6,1.3h0M-1.8,2.8h0M-2.4,2.9h0M-2.9,2.2h0M-8.6,-0.4h0M-9.7,-1h0M-6.9,0.8h0M-6.7,0.7h0M-10.7,-5.9h0M-11,-2.8h0M-10.3,-2h0M-9.8,-3.2h0M-10.5,-3.4h0M-9.6,-9.5h0M-10.2,-8.3h0M-10.2,-9h0M-10.5,-8.2h0M-10.1,-7.6h0M-9.5,-7.1h0M-9.8,-8.7h0M-12.6,-16.7h0M-11.3,-13.3h0M-10.1,-14h0M-10.8,-13.9h0M-11,-14.8h0M-11.3,-14.2h0M-14.4,-8.2h0M-16.6,-5.5h0M-15.2,-7.5h0M-16.4,-6.1h0M-17,-5.7h0M-17.7,-5.3h0M-21.1,-7.1h0M-20.8,-3.5h0M-19.2,-5.1h0M-24.8,-2.6h0M-22.6,-3.2h0M-21.6,-5h0M-24.6,-2.4h0M-21.3,-3.3h0M-27.7,-1.2h0M-26.7,-2.6h0M-27.5,-1.1h0M-27.4,-2.4h0M-28.3,-0.9h0M-37,0.8h0M-32.8,0.3h0M-35.6,1.4h0M-36.4,1.6h0M-37.8,-1h0M-31.8,-0.1h0M-37,1.9h0M-33.4,1h0M-46.4,1.7h0M-45.1,2.8h0M-40.1,2.3h0M-46.6,2.6h0M-48.4,2.6h0M-46.4,2.8h0M-42.7,1.7h0M-42.2,1.9h0M-38.9,1.4h0M-45.3,1.8h0M-49.2,4.9h0M-45.9,5.8h0M-43.1,6.6h0M-47.5,6.1h0M-46.3,5.2h0M-45.5,5.7h0M-37.1,7h0M-40,6.8h0M-37.9,7.6h0M-36.1,7.1h0M-40.7,6.5h0M-41.7,6.8h0M-30.3,7.9h0M-33.5,7.9h0M-29.1,7.6h0M-33,9.4h0M-33.1,7.6h0M-31.2,7.7h0M-28.9,10.4h0M-27.2,8.5h0M-28.2,7.3h0M-25.9,8.3h0M-25,8.6h0M-23.7,8.9h0M-23.2,10.6h0M-23.3,9.3h0M-39.9,10.4h0M-30.6,8.2h0M-31.2,18.8h0M-41.9,15.1h0M-45.9,8.6h0M-43.8,12.4h0M-35.7,10.3h0M-44.8,8.7h0M-25.6,9h0M-39.3,18.7h0M-28.5,18.2h0M-36.9,16.1h0M-29.2,10.4h0M-36.7,20.6h0M-39.6,10.3h0M-31.5,19.7h0M-44,11.4h0M-37.4,19.7h0M-26.5,15.4h0M-34.6,17.8h0M-30.3,20.1h0M-29.2,9.4h0M-32.3,9.3h0M-25.7,10.3h0M-34,21.7h0M-36.4,13.5h0M-24.8,12h0M-33,13.5h0M-35.3,19.8h0M-37.9,13h0M-38.4,19.2h0M-31.4,7.9h0M-35.8,13.6h0M-36,15.8h0M-30.7,13.3h0M-34.7,20.2h0M-31,9.9h0M-43.4,11.2h0M-24.7,13.1h0M-30.5,12.8h0M-29.5,14.9h0M-32,17.9h0M-32.1,9.6h0M-33.5,13.7h0M-31,19.4h0M-41.9,12.8h0M-35.3,14.1h0M-26.9,14.9h0M-43.7,12.8h0M-36.2,14.6h0M-42.8,9.7h0M-31,15.2h0M-37.2,14.8h0M-37.2,17.8h0M-33,7.5h0M-35.2,10.8h0M-33.2,14.3h0M-29.5,16.8h0M-34.9,8.6h0M-29.8,9.9h0M-37.9,16.3h0M-39.2,16.1h0M-31.7,16.4h0M-38.1,19h0M-33.9,11.1h0M-25.4,10.4h0M-27.8,16.7h0M-34.9,11.5h0M-42.8,14h0M-27.4,15.8h0M-34.1,16.4h0M-27.5,9.6h0M-38.3,18.9h0M-36.9,18.1h0M-35,17h0M-35.6,13.1h0M-30.2,17.6h0M-40.2,17.3h0M-42.8,11.6h0M-40.8,11.3h0M-33.6,20.8h0M-31.9,17.3h0M-29.1,13.1h0M-36.8,17.4h0M-41.5,8.9h0M-32.4,12.4h0M-34.3,15.5h0M-34.9,16.8h0M-35.8,17.2h0M-44,8.1h0M-36.2,17.8h0M-40,14.8h0M-43.1,10.8h0M-32,12.6h0M-38.7,8.9h0M-25.5,14h0M-33.3,10.7h0M-25.1,8.5h0M-30.6,7.8h0M-34.4,12h0M-38.1,7.4h0M-40.7,12.7h0M-34.5,13h0M-39.6,14.5h0M-35.8,9.7h0M-34.7,16.2h0M-33.4,18.8h0M-36.2,10.2h0M-24.9,8.7h0M-39.6,13.5h0M-37.1,10.2h0M-26.8,11.7h0M-34,16.7h0M-25,8.6h0M-36.1,17.6h0M-35.2,20.9h0M-35.2,20.7h0M-29.1,13.5h0M-30.3,15.2h0M-39.7,15h0M-37.8,15.7h0M-36.6,19.1h0M-31.5,11.3h0M-42.1,10.6h0M-39.1,13.7h0M-35,19.2h0M-24,11h0M-39.8,15.2h0M-33.1,13h0M-23.8,11.8h0M-46.2,8.5h0M-29.6,12.5h0M-26.3,9.4h0M-41.4,16.1h0M-34.4,19.6h0M-32.1,18h0M-33.4,10.2h0M-33.7,22.1h0M-39.5,10.9h0M-28.9,17.3h0M-26.4,7.8h0M-35,13.4h0M-33.6,21.6h0M-32.9,18.9h0M-35.9,21.2h0M-28.9,15h0M-39.7,11.6h0M-36.8,16.5h0M-35.5,20.3h0M-34,15.6h0M6.2,-66.4h0M5.7,-67.5h0M8.2,-68.5h0M8.1,-71.3h0M8.7,-71.8h0M9.4,-71.3h0M10.6,-75h0M12.9,-72.7h0M10.1,-73.8h0M8.9,-71.7h0M9,-71.6h0M13.3,-78.6h0M12.4,-77.9h0M11.5,-76.7h0M11.4,-79.6h0M10.5,-79.4h0M10,-79.8h0M7,-78.3h0M8.6,-79h0M8.5,-79.4h0M5.2,-73.6h0M5.3,-74.6h0M5.6,-75.9h0M4.8,-73.5h0M3.8,-71.2h0M4.4,-71.1h0M4.9,-71.9h0M4.7,-70.5h0M19.5,-79.8h0M4.3,-75.7h0M1.6,-75.2h0M6.6,-76.4h0M11.2,-77.6h0M0.7,-74h0M18.4,-80h0M12.1,-78h0M18.6,-79.9h0M10.9,-77.2h0M9.7,-76.1h0M18.3,-78h0M8.1,-77.7h0M2.5,-74.8h0M14.2,-78.2h0M19.6,-78.8h0M7.4,-77.8h0M3.4,-74.7h0M5.4,-76.8h0M15.7,-77.7h0M18.7,-78.8h0M7.4,-77.4h0M11.7,-78.4h0M9.2,-77.5h0M10,-78.8h0M14.6,-79.8h0M18.2,-79.7h0M10.8,-78.8h0M7.1,-76.6h0M17.2,-78.8h0"/></g>
<g id="c6"><path d="M-117.2,10 -117.2,10.9 -115.5,11.4 -114.5,11.8 -113.8,13.1 -112.4,12.8 -109.7,14 -109.5,13.9 -108.5,14.7 -107.1,16.4 -106.3,15.9 -105.1,16 -103.9,17.6 -102.1,17.5 -101.2,17.7 -100.2,17.5 -98.7,16.5 -96.9,18.1 -95.7,17.6 -94.6,16.9 -93.6,17.1 -92.4,16.7 -91.8,17.8 -90.3,16.3 -88.2,15.6 -86.8,15.3 -86.5,13.8 -85.5,12.8 -87.8,11.8 -89.3,12.5 -91.2,11.6 -91.9,11.7 -93.8,10.8 -94.8,10.3 -95.6,10.1 -96.5,9 -97.5,9 -99.4,7.7 -100.3,7.1 -102.2,6.1 -101.6,6.3 -103.1,3.7 -103.5,2.4 -104.6,0.4 -104.7,-0.1 -104.2,-1.1 -105.3,-3.1 -105.1,-4.5 -105.7,-4.6 -106.6,-6.3 -107.5,-7.1 -108.2,-8.5 -108.3,-9.7 -109.5,-11.1 -109.4,-12.1 -111.4,-12.8 -111.8,-14.1 -112.2,-13.7 -114.3,-15.4 -115.1,-15.1 -117.5,-15.3 -118.7,-13.4 -119.1,-11.2 -119.1,-11.8 -120.6,-11.1 -120.8,-10.5 -121.9,-8.1 -121.8,-7.4 -121.7,-5.8 -123,-4.8 -121.8,-3.6 -121.5,-1.4 -121.3,-0.1 -122,1 -120.8,2.6 -121.2,3.7 -119.8,5.5 -120.8,5.5 -118.6,7.1 -117.6,9Z" stroke="none"/><path fill="none" stroke-width="1.25" stroke-linecap="round" d="M-116.5,12.2h0M-116.4,12h0M-112.4,14.1h0M-112.9,14.1h0M-114.9,12.5h0M-106.7,16.1h0M-110.9,14.9h0M-109.3,15.1h0M-112.1,14.6h0M-110,15.1h0M-109.2,15.4h0M-102.6,17.4h0M-102.4,18.1h0M-102.8,17.1h0M-98.4,17.7h0M-98.4,17.5h0M-105,16.9h0M-103.8,17.4h0M-95.8,18.6h0M-96.9,17.9h0M-95.7,17.8h0M-92.9,17.2h0M-96.9,17.8h0M-88.6,16.5h0M-90.2,17.5h0M-87.6,16.4h0M-88.3,16.2h0M-86.3,15.4h0M-81.9,17.3h0M-85.5,14.3h0M-86.5,11.7h0M-88.7,11.5h0M-89.8,11.4h0M-91.1,10.8h0M-92.5,10.8h0M-91,7.8h0M-89.5,11.4h0M-96.8,9.1h0M-93.6,9.7h0M-94.9,9.8h0M-94.1,10.5h0M-95.7,9h0M-99.7,5.4h0M-97.6,7.8h0M-100.8,6.1h0M-100.7,5.3h0M-103.2,1.5h0M-102.1,3.9h0M-102.4,1.9h0M-100.9,3.3h0M-102.6,2.6h0M-104.7,-2.3h0M-105.3,-3.1h0M-105.1,-3.6h0M-104.3,-0.8h0M-105.3,-4.2h0M-105,-4.7h0M-107.8,-8.9h0M-105.4,-5.3h0M-106,-5.1h0M-105.8,-5.5h0M-108.3,-10.4h0M-110.5,-13.8h0M-110.7,-14.2h0M-110,-13.4h0M-112.8,-15.6h0M-112.9,-15.3h0M-112.3,-15.1h0M-114.4,-18.3h0M-117.3,-15.6h0M-114.6,-15.8h0M-118.4,-14h0M-118.3,-15.4h0M-120.2,-12.2h0M-118.9,-14.3h0M-119.3,-13h0M-122.4,-10.5h0M-122.6,-5.6h0M-121.7,-8.1h0M-122.3,-8.7h0M-122.6,-6h0M-122.4,-5.8h0M-123.6,-1.2h0M-121.6,1.9h0M-122.9,-0.6h0M-122.8,-1.7h0M-122.6,-2.3h0M-122.7,-0.8h0M-122.9,-4.5h0M-121.8,3.9h0M-119.7,7.3h0M-121.2,3.5h0M-121.1,5.4h0M-123.7,8h0M-117.4,10.3h0M-122.1,11h0M-118.1,10.3h0"/></g>
<g id="c7"><path d="M47.2,-35.1 48.1,-36.5 48.4,-34.8 50,-33.6 52.2,-32.6 52.1,-32.3 53.4,-30.6 54.6,-29.9 55.7,-28.3 56,-27.7 57.8,-26.7 57.7,-26.4 59.2,-25.2 60.2,-25.3 61.3,-24.5 63.6,-24.8 64.1,-24.2 64.6,-22.4 65.9,-22.7 68.3,-22.9 69.1,-22.9 70.5,-22.5 72,-22.7 72.4,-24 74.7,-23.8 74.6,-24.5 76,-26.1 76.8,-27.2 75.9,-29.3 76.1,-30.7 74.8,-32.4 74.5,-32.9 73,-33.6 71.6,-34.8 70.7,-36.1 69.7,-36.7 69.4,-37.9 68.1,-37.8 66.4,-39.5 64.7,-39.9 65.5,-40.7 62.8,-41.4 61.6,-41 60.6,-40.4 59.3,-42.1 57.4,-42.2 55.9,-42.1 55.4,-42.4 53.8,-41.1 51.6,-40.2 51.9,-39.2 50,-39.1 49.1,-38.3 47.9,-37.1Z" stroke="none"/><path fill="none" stroke-width="1.25" stroke-linecap="round" d="M48.9,-33.8h0M49.1,-34h0M48.6,-32.3h0M48.9,-33.5h0M49.9,-33.3h0M53.2,-29.6h0M53.6,-30.2h0M53.7,-28.9h0M53.8,-29.6h0M54.4,-29.3h0M51.9,-32.3h0M55.3,-28.2h0M57.7,-25.1h0M56.4,-26.5h0M55.1,-27.6h0M62.5,-23.9h0M63.7,-23.1h0M62.8,-23.6h0M63.8,-23.2h0M58.6,-24.9h0M65.8,-22.8h0M66.2,-21.6h0M65,-23h0M64.8,-23.1h0M69.9,-22.4h0M64.2,-22.7h0M71.3,-21.7h0M71.3,-21.8h0M73.3,-22.9h0M72.7,-22.7h0M77,-23.6h0M75.4,-23.6h0M75.8,-25h0M77.2,-28.2h0M76.9,-28.7h0M77.3,-28h0M77.5,-28.8h0M75.5,-32.7h0M74.8,-32.6h0M75.5,-32.5h0M75,-33.4h0M69.7,-37.7h0M70.6,-38.4h0M70.5,-38.3h0M72.4,-36.1h0M70.3,-37.5h0M64.6,-41h0M66.2,-39.7h0M66.9,-40.9h0M65.8,-39.9h0M59.2,-43.6h0M63,-41.5h0M63.1,-44.2h0M60.7,-42.2h0M61.5,-44.2h0M54,-42.9h0M53.4,-42.7h0M54.2,-42.4h0M57.6,-42.7h0M54.4,-41.7h0M49.7,-39.8h0M51.7,-40.9h0M51.3,-41h0M48.8,-39.4h0M47.2,-37.7h0M47.8,-39h0M47.3,-38h0M46.5,-31h0M46.8,-35.8h0M52.3,-31.5h0M48.4,-35.2h0M47.7,-30.6h0M47.2,-31.5h0M53.4,-28.6h0M49,-30h0M51.2,-31.4h0M51.6,-31.9h0M47.3,-31.3h0M51.7,-32.5h0M49.8,-30h0M49.6,-31.4h0M50.8,-30.1h0M47.1,-30.6h0M51.1,-32.4h0M47.7,-33.8h0M53.8,-28.9h0M49.9,-31h0M50.3,-30h0M53.4,-27.5h0M50.5,-32.9h0M48.2,-32.8h0M47.2,-32.3h0"/></g>
<g id="c8"><path d="M-56.7,-41.7 -57.1,-40.7 -55.6,-39.7 -55.8,-38.8 -56,-37.1 -54.1,-37.1 -53.7,-36.1 -51.7,-35.6 -51.2,-33.4 -49.9,-33 -49.2,-32.1 -48,-31.3 -46.8,-31 -45.1,-29.7 -45.1,-29.7 -43.6,-29.9 -42,-28.7 -40.9,-31.1 -40.2,-31.2 -39,-31.2 -38.9,-34.2 -38.2,-34.1 -36.6,-34.7 -35.1,-33.9 -33.9,-33.4 -33.2,-32.5 -32.7,-31.3 -30.4,-31.3 -30.5,-30.4 -29.2,-29.9 -27.9,-30.6 -26.2,-30.1 -25.4,-31.3 -25.4,-31 -23.5,-30.4 -21.5,-30.2 -21.5,-30.2 -19.7,-31.3 -18.3,-32.7 -17.4,-33.9 -17.9,-34.6 -17,-35.2 -15.5,-36.2 -14.3,-36.8 -14.3,-37.9 -12.8,-38.9 -12.3,-40.5 -13.1,-41.6 -14.6,-43.1 -16.3,-43 -17.7,-43 -18.8,-44 -19.9,-42.8 -20.6,-43.6 -22.5,-44.9 -24.4,-46.2 -23.7,-45.6 -24.7,-47.6 -24.5,-48.3 -25.4,-48.9 -26.5,-50.8 -27.4,-51.6 -28.9,-51.4 -30,-49.6 -31.3,-48.7 -32.1,-48.4 -33.2,-48.4 -35.3,-48.7 -37.3,-47.8 -38,-46.6 -41,-46.7 -40.4,-47.4 -42.2,-48.3 -43.3,-48.4 -43.8,-48.4 -45.7,-48 -46.5,-47.8 -46.7,-46.5 -47.2,-44.6 -48.3,-42.3 -49.1,-43.5 -50.2,-44.8 -51.4,-46.2 -52.7,-45.6 -54.1,-46.4 -55.6,-46.1 -56.7,-45 -58,-44.1Z" stroke="none"/><path fill="none" stroke-width="1.25" stroke-linecap="round" d="M-58.2,-40.6h0M-55.8,-36.2h0M-57.7,-40.3h0M-57.7,-41.6h0M-55.9,-36.5h0M-57.2,-38.8h0M-55,-36.1h0M-53.2,-35.3h0M-51.3,-33.1h0M-51,-33.3h0M-52.8,-34.1h0M-51.1,-27.7h0M-48.4,-30.1h0M-48.6,-32h0M-49.5,-32.3h0M-47.8,-30.1h0M-44.4,-29.5h0M-45.1,-27.6h0M-45.4,-29.2h0M-43.7,-29.3h0M-39.4,-30.4h0M-40.5,-28.7h0M-39.7,-30.4h0M-37.2,-31.2h0M-37.3,-32.5h0M-38.7,-32h0M-35.7,-33h0M-37.4,-33.6h0M-35.6,-32.7h0M-35.5,-28.9h0M-32.9,-31.8h0M-31.7,-31.2h0M-33,-31.6h0M-30.3,-30.5h0M-29.5,-29.5h0M-30.6,-30.4h0M-25.5,-30.7h0M-28.6,-29h0M-27.3,-29.1h0M-27.5,-29.6h0M-24.6,-29.6h0M-23.3,-30.1h0M-21.2,-27h0M-20.4,-29.2h0M-24.2,-30.3h0M-18.1,-33.2h0M-18.1,-29.8h0M-19.3,-30.9h0M-18.8,-31h0M-16.3,-34.8h0M-15.7,-34.9h0M-14.7,-35.5h0M-17,-34.1h0M-13.8,-37.3h0M-12.6,-38.4h0M-14.1,-36.5h0M-13.4,-41.9h0M-12.5,-40.8h0M-12.7,-41.3h0M-14.9,-43h0M-18.8,-44.6h0M-14.1,-42.5h0M-16.9,-43.1h0M-18.5,-43.3h0M-14,-42.7h0M-22.6,-45.6h0M-23.4,-45.7h0M-20.3,-43.8h0M-24.8,-50h0M-22.3,-47.2h0M-22.3,-47.4h0M-25.6,-51.1h0M-24.2,-48.1h0M-25.3,-50.9h0M-27.6,-52.2h0M-27.1,-53.4h0M-30.2,-50.8h0M-31.3,-51.5h0M-30.7,-49.7h0M-32.4,-49.7h0M-33.5,-49.2h0M-34.1,-48.3h0M-31.8,-49.2h0M-36.1,-47.7h0M-38.7,-47.5h0M-38.3,-47.3h0M-39.4,-47.1h0M-36.8,-48.2h0M-40.5,-49h0M-40.9,-49.4h0M-40.4,-48.1h0M-46.4,-49.4h0M-43.5,-49.6h0M-46.5,-48.8h0M-47.5,-44.3h0M-47.3,-45.2h0M-48.3,-47.1h0M-47.7,-46.5h0M-49.2,-44.4h0M-49.4,-44.3h0M-50.6,-45h0M-48,-44.5h0M-48.4,-44.3h0M-56.3,-45.9h0M-56.9,-47.6h0M-55.1,-45.9h0M-54.6,-46.8h0M-57.9,-43.2h0M-57.9,-44.9h0M-58.6,-45.1h0M-28.3,-28.9h0M-29.6,-28.6h0M-30.8,-26h0M-27.9,-27.3h0M-32,-29.4h0M-19,-25.7h0M-41.3,-26.9h0M-41.1,-28.5h0M-46.3,-26h0M-26.5,-26.5h0M-42.4,-28.4h0M-25.5,-29.1h0M-41.8,-27.7h0M-41.8,-28.8h0M-43.4,-49.4h0M-44.6,-49h0M-36.4,-50.8h0M-38.2,-49.6h0M-32.3,-51.6h0M-36.5,-51.8h0M-37,-50.8h0M-32.1,-52.5h0M-30.6,-52.4h0M-45.2,-48.2h0M-32.5,-50.1h0M-36,-50.1h0M-32.2,-52h0M-33.3,-52.2h0M-37.6,-51.3h0M-25.4,-50.7h0M-42.1,-50.2h0M-32.5,-50.8h0M-30.9,-52h0M-40.9,-50.2h0M-31.7,-52.3h0M-43.8,-48.1h0M-27.4,-52.3h0M-31.8,-50.5h0M-33.7,-52h0"/></g>
<g id="c9"><path d="M-93.3,119.3 -92.5,119.1 -90.6,118.8 -88.8,119 -90.3,117 -91.3,116.7 -91.1,114 -90.8,113.4 -90.3,112.5 -89.5,110.7 -88.1,111 -85.9,111.3 -84.8,110 -83.1,111.5 -82.9,111 -80.8,110.9 -80.2,111.8 -78.6,111.5 -78.4,111 -79.6,110.7 -80.8,110 -81.9,109.1 -83.4,107.6 -83.5,105.9 -81.6,105.7 -80.9,106.1 -80.1,104.9 -81.8,104.3 -82.8,104.5 -82.4,102.1 -81.7,101.2 -80.9,99.8 -83.1,99.1 -84.9,98.9 -83.3,97.4 -83.5,96.7 -81.9,94.6 -83.2,95 -84.3,95.2 -85.1,93.8 -87.2,93.2 -87.9,91.4 -89.8,92.1 -89.6,90.5 -89.3,89 -90.6,88.2 -91,88.3 -91.5,89.9 -92.7,89.6 -94.7,90.5 -95.2,92.6 -96.8,92.4 -97.4,93.2 -97.7,95.2 -98.7,96.1 -99.5,96.6 -99.6,98.2 -100.2,100.2 -99.9,100.7 -101,102.6 -99.9,103.5 -98.7,106.4 -98.5,106 -98.3,107.6 -96.9,108.8 -96.4,108.8 -94.9,110.8 -95,112.1 -94.3,113 -94,115.3 -93.3,115.7 -93.5,117.9Z" stroke="none"/><path fill="none" stroke-width="1.25" stroke-linecap="round" d="M-90.9,119.5h0M-90.1,120.8h0M-90.6,119.6h0M-90.1,114h0M-88.5,115.3h0M-89.5,115.3h0M-88.6,118h0M-89.5,116.3h0M-89.4,111.8h0M-88.7,113.4h0M-90.2,113.5h0M-86.2,116.4h0M-85,111.9h0M-87.3,112.5h0M-86.2,112.2h0M-82.2,112.6h0M-84.8,111.6h0M-81,113.3h0M-84.6,111.8h0M-78.2,112h0M-78.9,112.4h0M-80,109.1h0M-81.2,108.7h0M-78.9,109.3h0M-77.6,110.2h0M-82.5,107.9h0M-81.4,108.3h0M-83.1,106.9h0M-80.2,105.9h0M-82.7,107.2h0M-81.8,106.9h0M-83,103.1h0M-81.1,103.7h0M-81.5,103.9h0M-82.9,103.2h0M-83,103.3h0M-81.2,100.9h0M-79.5,101.6h0M-81.8,98.6h0M-83.1,96.6h0M-83.8,98.3h0M-81.4,96.1h0M-83.2,98.7h0M-83,98.7h0M-83.4,94.2h0M-83.3,92.8h0M-83.8,94.3h0M-85.4,93.8h0M-88.4,91.3h0M-87.8,91.8h0M-86.5,92.9h0M-88.3,91.3h0M-88.6,90h0M-89.1,89.5h0M-88.6,88.8h0M-90.7,88.4h0M-92.4,89.8h0M-92.7,87h0M-90.8,88h0M-96.9,92.2h0M-96.2,92h0M-96.7,93.5h0M-96.8,93.6h0M-95,91.5h0M-98.2,95.3h0M-98.5,94.7h0M-98.3,95.4h0M-100.1,96.9h0M-101.3,100.8h0M-101.1,100.4h0M-101,101.8h0M-100.5,98.9h0M-99.4,106.2h0M-99,106.3h0M-100.5,104.1h0M-98.4,107.5h0M-99.1,106.2h0M-97.4,109.6h0M-95.7,110.1h0M-97.9,109.2h0M-98.2,108.8h0M-94.8,112.1h0M-94.9,111.5h0M-95.5,112.5h0M-95,114.3h0M-94.4,117.5h0M-94.4,116.5h0M-95.4,115.5h0M-94.5,118.6h0"/></g>
<g id="c10"><path d="M-102,6.4 -99.1,7.3 -99.4,8.4 -97.5,10 -96.3,9.3 -95.4,10.5 -94.5,10.3 -93.6,10.9 -92.8,11.8 -91.9,12 -90,11.5 -87.7,11.7 -86.8,11.6 -85.7,11.7 -86,10.8 -87.7,8.2 -87,6.9 -86.1,6 -85.4,4.7 -83.6,3.9 -82.9,4.1 -81.4,4.3 -80.3,3.3 -78.6,3.8 -76.5,3.1 -76.5,4.1 -75.7,3.6 -74.2,3.3 -72.5,2.9 -71.6,3.4 -70.6,2.6 -68.9,2.6 -69.7,1.9 -71.6,2 -72,2.7 -74.4,3.4 -75.7,2.3 -75.8,2.2 -77.9,2.1 -79.2,1.9 -80.5,2.6 -81.7,1.5 -82.5,0.9 -84.3,1 -84.1,0.2 -86.2,0.3 -87,-0.6 -89.2,-0.5 -90.2,-1.4 -90.3,-3.8 -91.3,-4.7 -90.6,-5.2 -91,-5.8 -88.9,-7.2 -90.3,-7.3 -91.9,-8.1 -92.5,-8.6 -93.4,-9.3 -94.7,-10.1 -95.4,-10.2 -95.4,-12.4 -95.4,-13.6 -95.3,-14.9 -93.6,-15 -92.5,-16.2 -92,-18.5 -91.7,-19.4 -92.4,-19 -93.6,-17.2 -94.8,-17.3 -96.2,-16.5 -97.7,-15.2 -98.6,-14.9 -99.8,-14.4 -100.6,-15.9 -100.4,-16.8 -101.7,-19.2 -101.4,-20.3 -101.1,-19.8 -101,-21.9 -100.4,-23.9 -100.9,-23.3 -101.9,-23.4 -103.7,-23.1 -105.2,-22 -105.4,-21.1 -105.4,-19.9 -106.9,-19.3 -108.1,-18.9 -109.6,-17.1 -109.8,-17.1 -111.1,-15.7 -112.4,-14.3 -110.7,-14.5 -110.8,-12.4 -109,-12.1 -110.2,-11.1 -108.2,-9.8 -108.1,-7.8 -107.5,-8 -106.3,-6.3 -107.2,-5.6 -106.1,-4.8 -105.9,-2.8 -104.5,-0.7 -104.3,-0.4 -104,1.1 -104.4,2.5 -102.8,2.7 -102.8,5.7ZM-124.4,16.1 -124,15.1 -123.7,13.9 -123,12.5 -122.2,11.3 -121.8,10.5 -122.3,9.5 -122.8,10.7 -125,12.6 -124.8,13.1 -125,14.5Z" stroke="none"/><path fill="none" stroke-width="1.25" stroke-linecap="round" d="M-100.4,9.9h0M-104.1,12.4h0M-99.5,8.8h0M-99.3,9h0M-98.1,9.3h0M-94.5,12.1h0M-94.8,10.7h0M-95.1,10.8h0M-90,12.7h0M-93.6,12.2h0M-90.5,13h0M-90.8,12.9h0M-89,12.5h0M-86.1,12.1h0M-85.8,12.3h0M-85.7,10.9h0M-86,8.6h0M-86,8.7h0M-86,6.4h0M-86.5,6.6h0M-85.8,6h0M-86.4,6.3h0M-83.4,4.7h0M-81.4,6h0M-82.2,4.9h0M-81.7,5.2h0M-78.9,4h0M-83.4,5.1h0M-79.3,5.6h0M-70.7,3.9h0M-75.9,3.8h0M-75.3,4h0M-76.5,4.9h0M-71.2,3.4h0M-75.9,4.6h0M-70.7,3.9h0M-77.5,4.1h0M-74.1,1.5h0M-73.7,1.8h0M-76.2,1.4h0M-69.5,2.1h0M-73.2,0.4h0M-75.6,0.8h0M-76.5,1.3h0M-75.3,1h0M-81.5,0h0M-83,1.1h0M-82.7,0.4h0M-82.4,-2.2h0M-78.8,1.5h0M-83.5,0.4h0M-84.6,0.7h0M-88.8,-1h0M-84.1,0.8h0M-86.7,-0.4h0M-88.7,-1.9h0M-89.8,-4.2h0M-90.7,-4.1h0M-90.6,-4.6h0M-90.9,-4.1h0M-90.4,-4.3h0M-88.8,-6.4h0M-90.2,-5.4h0M-91.1,-8.8h0M-91.5,-8.4h0M-90,-8h0M-95.1,-10.5h0M-92.8,-9.1h0M-95.1,-11.3h0M-93.4,-9.9h0M-92.6,-12.9h0M-94.8,-13.7h0M-95.2,-13.2h0M-92.1,-16.3h0M-90.6,-17.2h0M-94.8,-14.2h0M-90.2,-17.6h0M-91.8,-17.3h0M-92.1,-18.6h0M-91.8,-19.4h0M-92.7,-18.8h0M-94.1,-18.2h0M-93.8,-17.9h0M-96.5,-16.2h0M-96.8,-16.3h0M-97.8,-15.7h0M-100.2,-16.5h0M-99.8,-18.9h0M-100.1,-16.7h0M-100.1,-16.5h0M-100,-23.7h0M-101.2,-18.7h0M-99.9,-23h0M-100.5,-22.2h0M-100.6,-22.3h0M-103.9,-22.5h0M-102.9,-23.4h0M-104.6,-23.5h0M-103.5,-24.1h0M-104.9,-22.2h0M-108,-20.1h0M-107.9,-19.1h0M-106.1,-21.8h0M-108.8,-18.7h0M-104.9,-22.2h0M-110.6,-16.5h0M-109.7,-18.7h0M-110.2,-16.8h0M-111.8,-15.6h0M-111.1,-10.9h0M-110.9,-12.2h0M-109.5,-9.8h0M-110.1,-9.8h0M-110.2,-11.5h0M-110.3,-5.7h0M-108.4,-8h0M-108.2,-7h0M-108.9,-7.5h0M-109,-8.7h0M-107.5,-4.7h0M-107.1,-3.7h0M-105.9,-2.2h0M-105.5,0h0M-105.4,-0.7h0M-106.1,-2h0M-103,4.3h0M-103.9,4.1h0M-102.8,5.3h0M-103.2,4.7h0M-104.6,1.9h0M-124.4,16.1h0M-123,14.2h0M-123.3,14.7h0M-120.5,12.7h0M-121.1,11.3h0M-121.2,9.6h0M-123.9,11.5h0M-123.1,8.9h0M-123.8,11.4h0M-125,14.8h0M-125.8,15.2h0M-125.9,13.9h0M-124.3,12.2h0M-107.1,-2.6h0M-107.9,-8.6h0M-107,-5.4h0M-110.6,-6.2h0M-110.6,-8h0M-111,-7.2h0M-105.4,2.6h0M-102.1,5h0M-108.7,-9.7h0M-108,1.6h0M-103.9,1.5h0M-107.5,-1.8h0M-112.4,-11.9h0M-104.4,-0.9h0M-106.2,-5.3h0M-107.4,1.9h0M-108.7,-5.2h0M-107.3,-4.5h0M-109,-10.2h0M-108.9,-6.8h0M-104.5,2.2h0M-106.2,-5.4h0M-106.7,-3.2h0M-108.5,0h0M-106.1,-4h0M-106.9,0.7h0M-108.5,-7.2h0M-102,4.3h0M-103.9,-3.3h0M-111.8,-12.4h0M-106.5,-3.4h0M-107.7,-1h0M-108.9,-3.8h0M-111.2,-11.8h0M-103.6,-1.9h0M-112.1,-11.3h0M-105.1,-3.6h0M-111.8,-11.4h0M-110.2,-6h0M-110.8,-10h0"/></g>
<g id="c11"><path d="M20.7,-74.2 22,-72.9 21.3,-71.4 22.1,-70.6 23.2,-69.7 25.3,-68.5 26.6,-68.9 26.7,-68.5 27.5,-67.4 29,-66.1 29.6,-66.4 31.9,-66 33.1,-66.6 34.7,-65.7 37.1,-65.1 37.7,-66.1 36.8,-68.1 37.9,-68.7 38.1,-69.5 38.8,-72.1 37.6,-72.6 37.3,-75.5 37.1,-76.6 37.8,-77.2 37.8,-79.3 37.8,-80.2 38,-81.6 38.4,-83.3 37,-84.4 37.1,-84.8 34.6,-85.3 34.4,-84.3 33,-84.4 31,-83.5 30,-83.6 28.5,-82.3 28.4,-82.3 26.8,-81.4 26.2,-81 24.9,-79.4 23.5,-78.4 23,-76.9 22.5,-76.3 21.6,-75.5ZM22.5,-61.1 23.1,-60.1 23.5,-61.5 23.6,-62.6 24.1,-64.2 23.4,-64.8 23.1,-63.3 22.6,-61.9Z" stroke="none"/><path fill="none" stroke-width="1.25" stroke-linecap="round" d="M20.6,-73.9h0M22,-70.5h0M20.8,-72.8h0M20.9,-73.8h0M22.2,-70h0M22.5,-69.9h0M23,-68.6h0M25.6,-67.6h0M27.4,-66h0M30.1,-66.5h0M28.1,-66.9h0M26.9,-63h0M35.8,-63.8h0M32.8,-64.5h0M32.6,-65.3h0M33.2,-64.4h0M33.9,-64.4h0M37.6,-65.3h0M37.7,-65.7h0M37.2,-66.5h0M41.3,-65.2h0M38.5,-73.5h0M38.4,-70.2h0M38.4,-70.5h0M38.8,-73.5h0M39.5,-77.1h0M38.4,-71.3h0M38.8,-75.2h0M38.2,-82.1h0M38.3,-78.9h0M38.6,-78.5h0M39,-80.9h0M38.6,-82.3h0M38.3,-81.4h0M39.3,-78.7h0M32.8,-84.3h0M34.5,-84.8h0M36.1,-85.3h0M37.3,-85.2h0M30.5,-83.6h0M30.5,-84.6h0M28,-82.9h0M32.1,-84.3h0M28.3,-83.1h0M23.2,-79.4h0M23.4,-79.9h0M23,-79.9h0M23.1,-83.5h0M23.5,-79.2h0M20.4,-76.3h0M21.9,-76.5h0M21.8,-76.9h0M22.3,-78.6h0M21.4,-75.8h0M22.4,-60.2h0M24.7,-61.8h0M23.5,-60.6h0M24,-62.7h0M24.2,-64.9h0M21.6,-61.8h0M21.4,-61.3h0M22,-63.7h0M20.1,-61.1h0M20.5,-72.4h0M22.5,-69.1h0M23.2,-71h0M23.9,-69.5h0M21.8,-73.9h0M20.6,-74.6h0M22.4,-67.5h0M23.9,-67.1h0M21.8,-69.7h0M19.4,-73h0M22.3,-72.9h0M24,-67.4h0M22.1,-72h0M20,-72.8h0M21.4,-68.3h0M23.6,-67.7h0M20.2,-70.5h0M20.1,-71.6h0M43.2,-86.6h0M39.1,-84.5h0M41.5,-86.6h0M39.1,-82.9h0M41.8,-89h0M42.6,-85.8h0M44.5,-88.8h0M40.6,-86.7h0M46,-89.8h0M43.5,-87h0M38.9,-86.4h0M39.3,-82.9h0M44.2,-90.9h0M39.1,-85.9h0M45.6,-89.4h0M38.9,-84.9h0M45.6,-92.3h0M41.1,-87.5h0M39.2,-85.1h0M41.5,-88.9h0M39.4,-83.4h0M43.2,-90.2h0"/></g>
<g id="c12"><path d="M54.4,-18.4 56.1,-17.5 56,-15.5 57.6,-14.1 58.4,-14.3 59.6,-13.1 60.5,-12.6 61.1,-14.8 62.2,-16.3 62.7,-16.6 63,-18.1 63.1,-19.4 65.4,-18.1 66.8,-17 66.8,-16.3 68.2,-14.3 68.2,-13.4 67.5,-11.6 69.6,-11.8 70.4,-12.7 70.7,-14.1 69.7,-15.1 71.6,-16.4 71.7,-17.5 71.7,-18.9 71,-21.7 72.1,-21.8 70.8,-22.6 68.9,-23.4 67.8,-23 66.5,-23.4 65.3,-23.9 63.7,-24.1 62.4,-23.1 59.8,-23.1 58.3,-22.3 58.6,-22.2 57.5,-21.3 56.4,-20.8 55.9,-18.8ZM75.6,-3.2 77,-2.7 76.8,-4.8 77.4,-7.3 77.3,-7.3 76.2,-7.9 75.9,-10 76,-9.6 75.5,-8.9 74.3,-6.9 75.9,-5.8 74.5,-4.6ZM62,-51.7 62.9,-50.2 64.6,-48.9 65.6,-48 65.2,-46.9 66.7,-46.2 67.4,-45.3 68.9,-45.1 70,-46.4 69.2,-46.9 69.6,-48.5 69.8,-51.3 69.2,-51.5 68.6,-52.1 67.3,-54.6 67.1,-54 65.9,-55.4 64.3,-55 63.7,-54.8 61.7,-56 62,-55.1 62,-53.5 62.2,-51.9Z" stroke="none"/><path fill="none" stroke-width="1.25" stroke-linecap="round" d="M56.4,-15.1h0M55.3,-16.1h0M56.7,-13.7h0M55.8,-15.3h0M58.5,-13.3h0M57.7,-12.3h0M60.3,-12.5h0M63.6,-12.1h0M61.7,-12.7h0M62.2,-13.7h0M63.9,-16.3h0M63.7,-17.5h0M64.1,-17.5h0M65.6,-15.5h0M65.7,-16.5h0M66,-16.8h0M66.2,-16.5h0M66.9,-14.9h0M66.7,-14.3h0M65.4,-16.2h0M66.1,-16.4h0M68.3,-9.6h0M71.2,-11.6h0M72.6,-13.5h0M72.6,-17.4h0M75.2,-13.5h0M70.4,-12.4h0M72.5,-20.2h0M73.7,-21.1h0M72.4,-20.1h0M71.8,-19.5h0M70,-24.2h0M68.6,-23.6h0M71.9,-23.5h0M72.4,-24.9h0M65.7,-24.1h0M64.3,-24.5h0M65.9,-23.7h0M66.1,-24.7h0M62,-25.3h0M59.4,-23.6h0M62.7,-24.3h0M61.2,-24.3h0M58.1,-23.1h0M57.5,-23h0M56.4,-20.6h0M55.8,-21.4h0M55.1,-19.4h0M76.2,-2.1h0M75.6,-3h0M77.8,-5.6h0M77.4,-4.8h0M77.9,-6.3h0M77.5,-10.7h0M80.4,-7.4h0M77.2,-7.8h0M78.9,-7.2h0M75.1,-10.4h0M75.3,-10.3h0M74.8,-10.3h0M73.8,-5.6h0M73.2,-7h0M74.7,-3.7h0M72.8,-6.4h0M64.1,-48.7h0M63.1,-48.1h0M62.5,-49.4h0M61.5,-48.6h0M67.1,-46h0M67.5,-44.1h0M65.8,-46.6h0M66,-46.6h0M70.2,-46.1h0M69.9,-46.4h0M69.7,-45.5h0M70,-46.1h0M72.3,-50.2h0M69.9,-51.3h0M68.9,-54.2h0M69,-52.8h0M67.7,-55.5h0M64.5,-56.2h0M68.2,-55.2h0M64.3,-56.1h0M62.7,-56.9h0M63.3,-56.6h0M61.9,-57.1h0M60.9,-56.3h0M60.4,-56.1h0M61.2,-53.2h0M61.4,-54.1h0M61.7,-51.4h0M65.1,-47.1h0M69,-45.2h0M64.4,-41.5h0M64.4,-46.3h0M67.1,-44.8h0M69,-41.3h0M66.4,-43.3h0M69.8,-43.9h0M68.5,-41.4h0M63.5,-45.1h0M67,-43.5h0M65.5,-43.5h0M69.8,-40.9h0M64.6,-45.6h0M65.8,-41.3h0M68.6,-44.3h0M65.8,-42.1h0M68.6,-43.3h0M62.7,-44.6h0M64.8,-44.5h0M68,-42.7h0M68.4,-42.1h0M64.2,-42.9h0M63.2,-44.9h0M67.1,-44.6h0M64.6,-43.8h0M65,-41.2h0M66,-46.4h0M68.6,-44.3h0M67.2,-40.7h0M62.9,-45.4h0M65.1,-45.8h0M62.6,-45.3h0M69.1,-41.1h0M63.8,-47.8h0M55.5,-15h0M52.2,-19.7h0M54.2,-19h0M56.4,-14.6h0M53.3,-19.1h0M52.2,-19.9h0M52.1,-18.3h0M54.6,-19.3h0M53.9,-17.3h0M55.3,-15.3h0M53.1,-17.9h0M55.1,-19.7h0M75.2,-20.2h0M73.2,-14.3h0M75.1,-19.3h0M74.3,-15.3h0M75,-14h0M74.8,-16.5h0M74.3,-18.4h0M72.8,-20.5h0M73.8,-17.5h0M74.9,-20.8h0"/></g>
<g id="c13"><path d="M17.3,37.1 18.5,37.9 20.1,38.2 20.2,37.1 22.2,37.6 23.4,36.9 24.8,36.7 26.3,36.6 27.4,34.4 28.3,34.5 29.1,35.4 30.5,33.3 31.3,31.6 31.5,32.3 31.6,30.8 30.4,30 29.8,28.6 28.8,28.1 28.1,28.1 25.9,27.5 24.9,27 23.3,27.1 21.5,27.6 21.4,26.9 19.9,26.9 17.6,27 17.3,27.5 16.1,27.7 14.5,28.1 14.2,28.2 15.4,31 15.6,32.1 16.4,33.3 15.9,34.5 16.2,36.2Z" stroke="none"/><path fill="none" stroke-width="1.25" stroke-linecap="round" d="M17.4,37.9h0M17.9,37.7h0M16.7,37.7h0M17.5,37.5h0M21.8,37.8h0M20.9,38h0M21.5,38.7h0M20.5,37.8h0M22.1,38.4h0M29.4,34.9h0M27.8,35.8h0M25.4,36.9h0M28.8,35.7h0M30.5,34.2h0M31.9,33.8h0M32.5,32.4h0M29.6,28.1h0M30.8,29.9h0M31.1,30.2h0M30.8,30h0M24.9,26.2h0M26.2,27.2h0M28,26.8h0M24.1,27h0M19,25.9h0M21.1,26.6h0M22.4,26.4h0M23.1,26.6h0M18.7,26h0M14.1,25.1h0M17.6,26.1h0M17,26.6h0M15,31.9h0M11.7,31h0M14.9,31.6h0M14.4,28.5h0M15.7,36.6h0M15.1,34.2h0M15,34.4h0M15.5,37.1h0M15,34.7h0M6.8,24.3h0M10.9,27.7h0M15.3,26.4h0M12,25.5h0M17.3,26.2h0M13.1,28.8h0M11.6,22.9h0M6.3,27h0M10.5,27.3h0M10,21.5h0M10.1,27h0M10.3,27.4h0M7.1,24h0M15.2,28.5h0M8.5,21.4h0M7.8,27.8h0M9.2,24.6h0M11.3,23.9h0M12,29.2h0M10.2,22.6h0M7.5,24.9h0M8.9,27.7h0M6.4,24.2h0M8.1,22.9h0M10,22.5h0M14.6,25.1h0M13,24.7h0M6.9,24.3h0M10.3,22.9h0M13.9,29.4h0M12.4,26.2h0M10.3,25.9h0M9.6,27.6h0M5.6,27.1h0M7,23.3h0M15.5,27.9h0M10.3,27.6h0M7.1,26.3h0M16.2,25.5h0M7.9,22.3h0M8.4,25.9h0M13.9,28.7h0M10.8,26.9h0M16.1,25.3h0M8.6,24.4h0M38.7,29.8h0M39.9,30.2h0M32.5,30.5h0M33.2,31.9h0M34.1,30.1h0M32.9,30.7h0M37.1,30h0M33.7,30.1h0"/></g>
<g id="c14"><path d="M31,-18.9 31.3,-18.4 31.6,-18.1 33.6,-18.2 34.5,-18.3 35.9,-18.6 37.2,-18.6 37.3,-20.5 39.3,-20.3 41.1,-21.2 41.9,-21.5 42.8,-22.8 45,-24.1 45,-22.4 46.5,-23.5 48.5,-23.3 49.2,-24.4 50.2,-24.9 52.3,-24.3 52.5,-25.3 54.8,-24.3 52.9,-25.1 51.3,-27.9 51.5,-28.3 49.9,-27.4 48.8,-27.7 48.5,-28.1 46.2,-28.3 45.8,-27.8 43.9,-27.3 43.2,-26.6 41.5,-25.7 41.4,-25.5 39.2,-24.7 38.6,-24 38.3,-24 35.5,-22.5 33.9,-22.2 33.4,-22.4 31.8,-20.2Z" stroke="none"/><path fill="none" stroke-width="1.25" stroke-linecap="round" d="M30.7,-18.6h0M31.1,-18.8h0M31.3,-17.8h0M37.4,-18.1h0M33.9,-17.5h0M35.8,-18.1h0M36.3,-17.4h0M38.4,-18.3h0M41.2,-20.9h0M41.9,-21h0M39.4,-20h0M40.4,-20.4h0M45.5,-22.8h0M47.7,-23.1h0M46.9,-22.7h0M48.3,-23h0M46.5,-22.7h0M47,-23h0M50.9,-22.9h0M50.6,-23.5h0M50.4,-23.3h0M51.7,-24h0M52.4,-23.6h0M50.2,-23.1h0M55.3,-25.9h0M54.1,-25.6h0M54.3,-26.9h0M50.9,-28.8h0M50.1,-28.8h0M51.8,-29.1h0M48.4,-29h0M52.4,-28.8h0M48.2,-28.5h0M45.5,-28.1h0M42.5,-27.1h0M42.2,-26.9h0M42.8,-27.2h0M40.5,-25.7h0M38.5,-24.7h0M41.3,-26.7h0M37.9,-23.8h0M39.1,-24.6h0M36.5,-24.1h0M32.9,-22.7h0M34.6,-23.2h0M33.5,-22.1h0M31.6,-20.9h0M32.6,-21.8h0M32.6,-22h0M50.7,-19.6h0M51.9,-25.7h0M53.4,-22.5h0M52.6,-22.8h0M42.2,-19.5h0M48.6,-23.9h0M48,-24h0M49.4,-26h0M43.4,-19.9h0M44.6,-29.5h0M42.4,-21.1h0M48.3,-21.7h0M49.7,-21.9h0M45.6,-27.4h0M47.1,-30h0M50.3,-29.7h0M49.9,-22.3h0M47.6,-21h0M43.9,-24.3h0M48.7,-25.2h0M43.1,-29.3h0M50.3,-25.9h0M49.8,-27.5h0M46.4,-28.5h0M51.7,-18.9h0M51.7,-22.4h0M42.7,-25.2h0M42.2,-19.9h0M48,-20.5h0M46.6,-23.8h0"/></g>
<g id="c15"><path d="M-49.3,-66.7 -48.5,-65.2 -47.5,-65 -47,-64.2 -45.5,-64.5 -44.3,-67.1 -42.6,-66.1 -42.6,-67.5 -40.8,-67.8 -40.4,-69.3 -40,-70.8 -39.8,-72.1 -39.3,-72.8 -38.3,-74.1 -37.2,-74.2 -35.9,-75.7 -34.9,-76.8 -34,-77.1 -33.2,-78.8 -32.1,-78.7 -33.1,-80.1 -33.9,-78.1 -35,-78 -35.8,-77.7 -38.6,-76.9 -39.2,-76.1 -40.1,-75 -41.2,-75 -42.4,-73.5 -44.2,-74.6 -45.4,-74.1 -45,-73.9 -48,-73.6 -49,-72.4 -48.6,-71.9 -50,-70.8 -48.4,-70.2 -50,-68.7Z" stroke="none"/><path fill="none" stroke-width="1.25" stroke-linecap="round" d="M-47.1,-64.3h0M-49.2,-66h0M-48.6,-64.7h0M-47.4,-64.6h0M-43,-66.2h0M-43.4,-66.1h0M-46.1,-63.9h0M-41.6,-66.2h0M-40.3,-67h0M-42.2,-66.2h0M-40,-64.2h0M-38.4,-71.8h0M-39.4,-69.6h0M-39,-71h0M-36.2,-74.7h0M-37.8,-73.3h0M-36.5,-73.1h0M-36.5,-73.6h0M-34.3,-76.4h0M-33.1,-73.3h0M-32.7,-77.1h0M-32.7,-77.2h0M-31.6,-80.6h0M-36.2,-78.1h0M-37.2,-77.3h0M-37.8,-78.8h0M-34.6,-80.5h0M-36.3,-78.3h0M-39.4,-77h0M-39.7,-76.7h0M-40.4,-75.6h0M-38.5,-76.9h0M-44.5,-74.2h0M-44.4,-74.9h0M-44.9,-74.8h0M-45.6,-74.6h0M-49.5,-73h0M-47.5,-73.9h0M-49.7,-72.9h0M-50.8,-71.3h0M-50.8,-67.6h0M-50.9,-67.5h0M-50.5,-68.8h0M-50.8,-69.5h0"/></g>
<g id="c16"><path d="M121.8,-35.4 122.1,-35.1 123.7,-34.9 124.6,-34 125.6,-33.7 126.4,-33.1 127.6,-31.7 129,-31.4 129.6,-29.5 129.4,-29.5 130.6,-28 132.5,-27.5 132.9,-29.5 132.5,-29.9 131.1,-31.6 130.4,-32.8 128.8,-31.8 128.4,-32.6 128.1,-33.8 125.3,-34.4 125.2,-36.2 124.4,-35.8 122,-37Z" stroke="none"/><path fill="none" stroke-width="1.25" stroke-linecap="round" d="M121.9,-34.9h0M124.7,-32.5h0M121.7,-34.8h0M125.4,-33.4h0M125,-33.4h0M131.1,-27.3h0M128.9,-29.7h0M130,-28.2h0M126.8,-32.2h0M125.6,-32.3h0M128,-30.2h0M126.4,-32.1h0M127.4,-31h0M132.7,-27.6h0M132.9,-31.4h0M131.9,-30.8h0M132.5,-32h0M133.3,-29.4h0M132.1,-30.3h0M128.4,-34.6h0M127.7,-34.7h0M127.6,-35.7h0M126.8,-36.4h0M121.9,-36.7h0M122,-37.1h0M123.1,-36.8h0M122,-37.1h0M120.9,-36.2h0"/></g>
<g id="c17"><path d="M-57.9,17.6 -56.5,18.6 -55,20.2 -53.5,18.8 -53,18.3 -49.6,18.2 -51.1,16.6 -50.9,15.3 -50.3,14.3 -50.6,12.8 -52.1,11.8 -51.7,11.1 -53.5,10 -53.5,9.1 -55.5,8.4 -56.8,10.4 -58.8,11.2 -59.3,12.8 -58.7,13.9 -59.5,15.2 -57.8,16.4ZM-55.2,8.3 -54.1,7.6 -53.7,6.5 -55.1,5.3 -55.5,3.4 -54.5,2.7 -55.5,1.4 -56.3,-0.2 -55.4,-1.5 -55,-2.2 -56.4,-4.4 -56.8,-6.1 -56,-6.1 -57.9,-7.5 -57.9,-6.7 -57.5,-5.4 -57.8,-3.3 -57,-2.9 -56.3,-1.5 -56.6,-0.1 -56.8,0.8 -56.8,3.6 -55.5,4.7 -56.6,5 -55,6.4 -55.8,8.5Z" stroke="none"/><path fill="none" stroke-width="1.25" stroke-linecap="round" d="M-57.9,18h0M-55.4,19.4h0M-55.3,20.6h0M-51.8,18.7h0M-53.5,19.7h0M-50.4,18.5h0M-53.1,19.8h0M-49.7,17.8h0M-49.4,15.1h0M-49.8,15.4h0M-49.3,15h0M-49.6,9.9h0M-50.8,10.6h0M-49.9,13h0M-53.1,9.2h0M-52.8,9.6h0M-51.7,9.2h0M-54.4,9.1h0M-58.4,10.7h0M-56.6,9.2h0M-57.3,8.1h0M-59.3,11.9h0M-59.4,11.4h0M-60.3,11.9h0M-59.6,11.6h0M-59.5,16.9h0M-59.3,15.4h0M-59.2,16.6h0M-53.4,8.9h0M-54.3,9h0M-54,1.9h0M-53.9,3.1h0M-52.9,6.8h0M-53.2,4h0M-53.6,5.3h0M-52.8,6.6h0M-54.3,-3.6h0M-54.9,-0.7h0M-54.6,0.7h0M-55.4,-3.7h0M-55,-2.4h0M-56.1,-6.2h0M-55.5,-5.8h0M-55.5,-6.1h0M-55.7,-6.2h0M-57.3,-7.4h0M-57.2,-0.9h0M-57.9,0.1h0M-58.4,-2.1h0M-57.2,-1.6h0M-58.5,-2.9h0M-57.4,-0.7h0M-59,-2.9h0M-56.5,1.9h0M-55.7,8.9h0M-56.9,2.2h0M-56.1,8.6h0M-56,7.5h0M-56.8,1.7h0M-56.1,6h0M-55.6,7.5h0M-57.5,8.6h0M-56.9,15.2h0M-50.7,11.1h0M-57.5,12.3h0M-55,9.3h0M-51.4,18.9h0M-54.9,7.9h0M-57.8,11.7h0M-52.4,21.9h0M-56,18.5h0M-50.3,21.4h0M-48.7,14.7h0M-49.2,13.5h0M-51.1,12.4h0M-59.5,14.3h0M-49.8,16.2h0M-56.1,13.6h0M-50.8,18.4h0M-57.3,14.5h0M-51.9,22.3h0M-55.5,12.5h0M-51.3,16.8h0M-50.5,18h0M-54.1,12.1h0M-56.3,9h0M-55.2,19.2h0M-50.6,10.9h0M-56.5,15.3h0M-49.4,22h0M-56.2,8.4h0M-57,8.4h0M-52.1,22.2h0M-48.6,18.5h0M-55.9,16.9h0M-42.7,36.5h0M-44.7,34.7h0M-41.7,38.6h0M-45.2,33.2h0M-41.8,38.5h0M-44,37.9h0M-42.9,37.6h0M-45.9,33.5h0"/></g>
<g id="c18"><path d="M104.9,18 107.3,20 108.3,19.6 109.4,19.6 110.6,20 111.8,19.6 112.5,19.3 112.7,17.2 111.9,15.6 112,14 110.2,13.7 109.8,14.1 108.3,13.6 106.9,13.8 105.1,14.2 105.6,16.2 104.9,18.5Z" stroke="none"/><path fill="none" stroke-width="1.25" stroke-linecap="round" d="M105.9,19.6h0M106.3,20.3h0M105.2,20.9h0M111.9,20.9h0M110.8,20.7h0M108.6,21.3h0M113.7,17.2h0M112.7,19.6h0M112.2,14.4h0M112.9,16.2h0M113.9,16.3h0M109.8,13.5h0M111.5,13.7h0M111.1,13.2h0M106.1,14.2h0M107,13.5h0M106.2,13.3h0M102.6,17.1h0M104,17.3h0M103.9,15.5h0M101.6,25h0M101.4,27.5h0M99.4,26.2h0M103,25.6h0M102.1,28.2h0M100.1,25h0M98.7,26.6h0M102.2,27.2h0M103.1,26.4h0M101.9,26.7h0M102.7,25.5h0M99.5,25.5h0M102.8,25.6h0M101.9,27.2h0M101.3,24.9h0M102.4,26.8h0M102.2,27.9h0M102.4,25.3h0"/></g>
<g id="c19"><path d="M92.2,-30.1 94,-31.7 95.4,-31.3 95.7,-32.1 95.5,-34.2 95.6,-35.4 95.5,-36.2 94.4,-37.9 93.8,-38.6 92.4,-38.9 91,-40.9 90.8,-38.9 89.8,-37.6 90.5,-37.2 90.3,-35.6 90.7,-34.8 91.6,-32.6 92.4,-32.3Z" stroke="none"/><path fill="none" stroke-width="1.25" stroke-linecap="round" d="M93.4,-29.8h0M92.8,-29.5h0M93.9,-30.2h0M96.5,-33.4h0M96.9,-34.5h0M95.7,-32.4h0M96.8,-31.7h0M94.3,-37.8h0M95,-37.5h0M94.2,-38.2h0M96.2,-35.8h0M93.3,-40h0M93.4,-41.4h0M94.3,-40.3h0M90.1,-40.9h0M88.5,-39.5h0M89.4,-35.8h0M90.3,-34.8h0M90.6,-34.4h0M89,-37.9h0M91.2,-31.7h0M90,-33.3h0M90.2,-33.3h0M87.2,-28.9h0M90.3,-29.9h0M86.2,-28.3h0M86.2,-28.6h0"/></g>
<g id="c20"><path fill="none" stroke-width="1.25" stroke-linecap="round" d="M83.1,7.2h0M78.6,6.2h0M85.4,8.3h0M88.9,16.9h0M82.9,9h0M86.4,9.4h0M89.8,12h0M98.5,17.6h0M91.3,20.5h0M98.3,19.7h0M95.8,19.8h0M95.1,19.4h0M90.7,20.4h0M93.2,14.4h0M97.6,20.7h0M79.5,6.5h0M92.7,18h0M82.2,9.9h0M99.2,18.3h0M92.1,17.2h0M87.3,10.9h0M91.9,14.4h0M90.3,18.7h0M90.8,16.1h0M85.4,7.1h0M94.4,16.7h0M83.6,5.5h0M78.8,11.2h0M79.1,8.1h0M93.2,13.4h0M80.7,8.1h0M96.2,18.1h0M91.9,18.4h0M91.6,20.5h0M89,12.9h0M98.3,18.6h0M89.8,19.1h0M83.8,10.8h0M87.9,12.3h0M78.3,6.3h0M88.9,10.3h0M85.7,10.6h0M77.6,4.8h0M79.5,10.6h0M84.5,14.1h0M100.9,18.4h0M85.6,5.8h0M86.5,15.9h0M89,19.3h0M98.9,19.1h0M82,6.1h0M94.2,16.4h0M78.1,5.1h0M88.2,9.5h0M95,17.2h0M83.4,9h0M88.3,18.9h0M99,16.9h0M94.1,15.7h0M74.6,4.9h0M80.8,9.6h0M95.6,16.3h0M86.3,7.3h0M84.8,10.4h0M81.1,12.3h0M85,5h0M78.3,4.7h0M85.5,12.4h0M82.8,13.9h0M90.6,19.8h0M87.4,13.3h0M79.6,6.3h0M83.3,7.4h0M85.3,8.5h0M87,15.4h0M86.5,14h0M84.5,16.3h0M85.5,9.2h0M86.1,13.1h0M84.3,13.8h0M80.9,6.7h0M85.6,8.6h0M99.9,18.6h0M76.1,6.6h0M86.2,8.1h0M86.5,16.1h0M85.2,10.2h0M82.5,10.8h0M76.6,6.2h0M83.2,10.3h0M81.8,8.3h0M96.6,19.1h0M81.6,11.1h0M87.1,9.3h0M82.2,12.9h0M84.7,5h0M90.3,15h0M80.2,9.9h0M89.6,11.6h0M96.6,17.1h0M85.5,7.4h0M79.5,10.8h0M83.5,8.2h0M86.9,13.8h0M85,10.4h0M76,6.2h0M94.6,20.4h0M83,9.7h0M77.8,5.4h0M98.1,18h0M89.5,12.9h0M90.2,14.9h0M86.3,8.7h0M89.6,11.9h0M90.9,12.4h0M83.1,6.5h0M88.3,12.7h0M84.4,9.1h0M84.3,12.1h0M82.8,5.7h0M82.7,5.9h0M87,13.6h0M89.8,11.1h0M84.1,7.7h0M86.9,12.8h0M89.8,13.7h0M87,6.7h0M84.2,11.8h0M87.3,12.6h0M85.7,9h0M88.8,10.4h0M81.1,5.1h0M89.1,13.6h0M88.5,8.4h0M88,12.5h0M88.1,11.3h0M90.7,13.2h0M84.7,10.8h0M85.5,8.6h0M89.1,10.3h0M87.7,8.8h0M86.8,12.7h0M89.8,10.8h0M81.7,7.3h0M90.4,14.1h0M83.7,6.6h0M83.3,5.3h0M87.5,10.4h0M88.6,10.4h0M84.3,9.6h0M87.4,13.3h0M90.9,13.5h0M90.6,13.1h0M89.1,10.1h0M87.4,13.6h0M90.8,11.7h0M84.5,11.1h0M83.9,5.4h0M85.1,10.3h0M83.1,6.8h0M85.6,9.5h0M83.4,5.3h0M82.9,7.3h0M84.7,10.6h0M90.4,13.7h0M87.1,10.2h0M90.2,15.1h0M88.2,11.6h0M82.2,7.3h0M90.2,12.3h0M81.5,5.1h0M82,6.6h0M83.1,9.1h0M90,11.6h0M86,10.7h0M82.2,8.2h0M88.9,14.3h0M88.4,10.3h0M84.8,9.8h0M90.9,15.2h0"/></g>
<g id="c21"><path d="M109.1,31.3 110.1,32 111.7,33 113,33.4 113.3,33.7 114.9,35 115.4,35.7 116,37 116.9,37.8 119,38.1 119.2,38.8 119.7,38.5 121.6,38 119.6,37.5 118.6,35.2 117.2,34.6 116.6,33.7 114.9,33.7 113.6,32.3 113.3,31.8 111.8,30.6 109.7,29.8Z" stroke="none"/><path fill="none" stroke-width="1.25" stroke-linecap="round" d="M112.7,33.8h0M109.6,31.5h0M112.3,33.8h0M110.8,34h0M113.3,34.1h0M113.5,34.9h0M115.1,36.7h0M114.9,35.6h0M116.1,37.2h0M117.9,38.2h0M119.6,39.6h0M117.9,39.2h0M120.7,39h0M121.3,39.3h0M119.5,35.3h0M118.6,35.3h0M118.4,34.9h0M119.3,35h0M115.6,33.2h0M113.2,31.3h0M115.4,32.7h0M115.2,31.3h0M113.7,31.7h0M112.5,30.6h0M111.6,29.4h0M112.3,30.1h0M109,30.4h0"/></g>
<g id="c22"><path d="M-29.8,-3.8 -28.2,-2.8 -26.8,-4.9 -29.1,-6.2 -28.2,-9 -29,-8.7 -31,-8.6 -31.5,-7.3 -31.1,-5.3 -30.8,-5.1Z" stroke="none"/><path fill="none" stroke-width="1.25" stroke-linecap="round" d="M-29.5,-3h0M-29.7,-3.1h0M-27.7,-4.7h0M-27.3,-4.5h0M-27.3,-3h0M-27.8,-7.5h0M-27.5,-8.3h0M-27.4,-6.7h0M-30.4,-9h0M-30,-9.6h0M-31.6,-7.6h0M-34.5,-7.4h0M-32.4,-5h0M-31.3,-4.4h0M-15.9,-6.9h0M-14.3,-10.6h0M-11.4,-14.2h0M-16.4,-9h0M-17,-6h0M-12,-13.8h0M-18.4,-6.6h0M-9.6,-14.6h0M-16.2,-9.4h0M-10.9,-13.1h0M-11.8,-13.8h0M-11.8,-13.8h0M-16.6,-6.8h0M-10.1,-15.2h0M-14.2,-10.2h0M-13.9,-10.3h0M-11,-13.4h0M-17.3,-6h0M-15.9,-9.7h0M-13.1,-11h0M-13.7,-9.9h0M-18.2,-7h0M-12.7,-11.1h0M-15.5,-9.6h0M-13.7,-9.7h0"/></g></defs>
<text transform="translate(36.5 47) scale(0.9 1)" font-family="Liberation Serif, serif" font-weight="bold" font-size="39.5" fill="#000">A</text>
<use href="#c0" fill="#E0736F" stroke="#E0736F" transform="matrix(1.5300 0 0 -1.2450 356.8 205.8)"/>
<use href="#c11" fill="#6BBFB6" stroke="#6BBFB6" transform="matrix(1.5300 0 0 -1.2450 356.8 205.8)"/>
<use href="#c1" fill="#D68244" stroke="#D68244" transform="matrix(1.5300 0 0 -1.2450 356.8 205.8)"/>
<use href="#c9" fill="#6BBD80" stroke="#6BBD80" transform="matrix(1.5300 0 0 -1.2450 356.8 205.8)"/>
<use href="#c2" fill="#CB8A1E" stroke="#CB8A1E" transform="matrix(1.5300 0 0 -1.2450 356.8 205.8)"/>
<use href="#c4" fill="#AB9C22" stroke="#AB9C22" transform="matrix(1.5300 0 0 -1.2450 356.8 205.8)"/>
<use href="#c13" fill="#66B4E3" stroke="#66B4E3" transform="matrix(1.5300 0 0 -1.2450 356.8 205.8)"/>
<use href="#c5" fill="#9CA628" stroke="#9CA628" transform="matrix(1.5300 0 0 -1.2450 356.8 205.8)"/>
<use href="#c22" fill="#E26A87" stroke="#E26A87" transform="matrix(1.5300 0 0 -1.2450 356.8 205.8)"/>
<use href="#c17" fill="#A97CF8" stroke="#A97CF8" transform="matrix(1.5300 0 0 -1.2450 356.8 205.8)"/>
<use href="#c6" fill="#86AE2B" stroke="#86AE2B" transform="matrix(1.5300 0 0 -1.2450 356.8 205.8)"/>
<use href="#c10" fill="#6BBE9D" stroke="#6BBE9D" transform="matrix(1.5300 0 0 -1.2450 356.8 205.8)"/>
<use href="#c3" fill="#BE9420" stroke="#BE9420" transform="matrix(1.5300 0 0 -1.2450 356.8 205.8)"/>
<use href="#c20" fill="#E05CCB" stroke="#E05CCB" transform="matrix(1.5300 0 0 -1.2450 356.8 205.8)"/>
<use href="#c18" fill="#C46CF5" stroke="#C46CF5" transform="matrix(1.5300 0 0 -1.2450 356.8 205.8)"/>
<use href="#c21" fill="#E35FA8" stroke="#E35FA8" transform="matrix(1.5300 0 0 -1.2450 356.8 205.8)"/>
<use href="#c8" fill="#6ABA58" stroke="#6ABA58" transform="matrix(1.5300 0 0 -1.2450 356.8 205.8)"/>
<use href="#c15" fill="#6498FA" stroke="#6498FA" transform="matrix(1.5300 0 0 -1.2450 356.8 205.8)"/>
<use href="#c7" fill="#68B42A" stroke="#68B42A" transform="matrix(1.5300 0 0 -1.2450 356.8 205.8)"/>
<use href="#c12" fill="#6AB8CC" stroke="#6AB8CC" transform="matrix(1.5300 0 0 -1.2450 356.8 205.8)"/>
<use href="#c14" fill="#5CAAF5" stroke="#5CAAF5" transform="matrix(1.5300 0 0 -1.2450 356.8 205.8)"/>
<use href="#c19" fill="#D561E5" stroke="#D561E5" transform="matrix(1.5300 0 0 -1.2450 356.8 205.8)"/>
<use href="#c16" fill="#8A8CF8" stroke="#8A8CF8" transform="matrix(1.5300 0 0 -1.2450 356.8 205.8)"/>
<path d="M147.4 11.9V374.4M147.4 374.4H578.0M203.8 374.4v4.2M280.3 374.4v4.2M356.8 374.4v4.2M433.3 374.4v4.2M509.8 374.4v4.2M147.4 330.3h-4.2M147.4 268.1h-4.2M147.4 205.8h-4.2M147.4 143.6h-4.2M147.4 81.3h-4.2M147.4 19.1h-4.2" fill="none" stroke="#333" stroke-width="1.3"/>
<g font-family="Liberation Sans, sans-serif" font-size="12.2" fill="#1a1a1a">
<text x="203.8" y="390.0" text-anchor="middle">-10</text>
<text x="280.3" y="390.0" text-anchor="middle">-5</text>
<text x="356.8" y="390.0" text-anchor="middle">0</text>
<text x="433.3" y="390.0" text-anchor="middle">5</text>
<text x="509.8" y="390.0" text-anchor="middle">10</text>
<text x="140.7" y="334.7" text-anchor="end">-10</text>
<text x="140.7" y="272.4" text-anchor="end">-5</text>
<text x="140.7" y="210.2" text-anchor="end">0</text>
<text x="140.7" y="147.9" text-anchor="end">5</text>
<text x="140.7" y="85.7" text-anchor="end">10</text>
<text x="140.7" y="23.4" text-anchor="end">15</text>
</g>
<text x="373.4" y="409.5" font-family="Liberation Serif, serif" font-weight="bold" font-size="14" text-anchor="middle">UMAP1</text>
<text transform="translate(123 184.5) rotate(-90)" font-family="Liberation Serif, serif" font-weight="bold" font-size="14" text-anchor="middle">UMAP2</text>
<g font-family="Liberation Sans, sans-serif" font-size="11.2" fill="#111" text-anchor="middle">
<text x="375.0" y="336.0">0</text>
<text x="389.4" y="69.6">1</text>
<text x="323.8" y="162.0">2</text>
<text x="468.5" y="183.5">3</text>
<text x="316.4" y="122.2">4</text>
<text x="329.7" y="206.3">5</text>
<text x="185.6" y="207.2">6</text>
<text x="456.2" y="250.6">7</text>
<text x="305.0" y="257.4">8</text>
<text x="214.8" y="81.6">9</text>
<text x="204.0" y="210.9">10</text>
<text x="401.7" y="299.0">11</text>
<text x="458.0" y="235.0">12</text>
<text x="396.5" y="170.9">13</text>
<text x="415.0" y="238.0">14</text>
<text x="286.0" y="298.0">15</text>
<text x="551.0" y="251.0">16</text>
<text x="273.0" y="194.0">17</text>
<text x="524.0" y="188.0">18</text>
<text x="500.2" y="254.0">19</text>
<text x="485.5" y="200.4">20</text>
<text x="537.8" y="163.5">21</text>
<text x="310.9" y="218.6">22</text>
</g>
<g font-family="Liberation Sans, sans-serif" font-size="11.6" fill="#1a1a1a">
<circle cx="600.4" cy="106.7" r="4.1" fill="#E0736F"/><text x="615.4" y="110.9">0</text>
<circle cx="600.4" cy="122.5" r="4.1" fill="#D68244"/><text x="615.4" y="126.7">1</text>
<circle cx="600.4" cy="138.3" r="4.1" fill="#CB8A1E"/><text x="615.4" y="142.5">2</text>
<circle cx="600.4" cy="154.0" r="4.1" fill="#BE9420"/><text x="615.4" y="158.2">3</text>
<circle cx="600.4" cy="169.8" r="4.1" fill="#AB9C22"/><text x="615.4" y="174.0">4</text>
<circle cx="600.4" cy="185.6" r="4.1" fill="#9CA628"/><text x="615.4" y="189.8">5</text>
<circle cx="600.4" cy="201.4" r="4.1" fill="#86AE2B"/><text x="615.4" y="205.6">6</text>
<circle cx="600.4" cy="217.2" r="4.1" fill="#68B42A"/><text x="615.4" y="221.4">7</text>
<circle cx="600.4" cy="232.9" r="4.1" fill="#6ABA58"/><text x="615.4" y="237.1">8</text>
<circle cx="600.4" cy="248.7" r="4.1" fill="#6BBD80"/><text x="615.4" y="252.9">9</text>
<circle cx="600.4" cy="264.5" r="4.1" fill="#6BBE9D"/><text x="615.4" y="268.7">10</text>
<circle cx="600.4" cy="280.3" r="4.1" fill="#6BBFB6"/><text x="615.4" y="284.5">11</text>
<circle cx="644.3" cy="106.7" r="4.1" fill="#6AB8CC"/><text x="659.3" y="110.9">12</text>
<circle cx="644.3" cy="122.5" r="4.1" fill="#66B4E3"/><text x="659.3" y="126.7">13</text>
<circle cx="644.3" cy="138.3" r="4.1" fill="#5CAAF5"/><text x="659.3" y="142.5">14</text>
<circle cx="644.3" cy="154.0" r="4.1" fill="#6498FA"/><text x="659.3" y="158.2">15</text>
<circle cx="644.3" cy="169.8" r="4.1" fill="#8A8CF8"/><text x="659.3" y="174.0">16</text>
<circle cx="644.3" cy="185.6" r="4.1" fill="#A97CF8"/><text x="659.3" y="189.8">17</text>
<circle cx="644.3" cy="201.4" r="4.1" fill="#C46CF5"/><text x="659.3" y="205.6">18</text>
<circle cx="644.3" cy="217.2" r="4.1" fill="#D561E5"/><text x="659.3" y="221.4">19</text>
<circle cx="644.3" cy="232.9" r="4.1" fill="#E05CCB"/><text x="659.3" y="237.1">20</text>
<circle cx="644.3" cy="248.7" r="4.1" fill="#E35FA8"/><text x="659.3" y="252.9">21</text>
<circle cx="644.3" cy="264.5" r="4.1" fill="#E26A87"/><text x="659.3" y="268.7">22</text>
</g>
<use href="#c0" fill="#E0736F" stroke="#E0736F" transform="matrix(1.4200 0 0 -1.1500 930.3 218.0)"/>
<use href="#c11" fill="#6BBFB6" stroke="#6BBFB6" transform="matrix(1.4200 0 0 -1.1500 930.3 218.0)"/>
<use href="#c1" fill="#D68244" stroke="#D68244" transform="matrix(1.4200 0 0 -1.1500 930.3 218.0)"/>
<use href="#c9" fill="#6BBD80" stroke="#6BBD80" transform="matrix(1.4200 0 0 -1.1500 930.3 218.0)"/>
<use href="#c2" fill="#CB8A1E" stroke="#CB8A1E" transform="matrix(1.4200 0 0 -1.1500 930.3 218.0)"/>
<use href="#c4" fill="#AB9C22" stroke="#AB9C22" transform="matrix(1.4200 0 0 -1.1500 930.3 218.0)"/>
<use href="#c13" fill="#66B4E3" stroke="#66B4E3" transform="matrix(1.4200 0 0 -1.1500 930.3 218.0)"/>
<use href="#c5" fill="#9CA628" stroke="#9CA628" transform="matrix(1.4200 0 0 -1.1500 930.3 218.0)"/>
<use href="#c22" fill="#E26A87" stroke="#E26A87" transform="matrix(1.4200 0 0 -1.1500 930.3 218.0)"/>
<use href="#c17" fill="#A97CF8" stroke="#A97CF8" transform="matrix(1.4200 0 0 -1.1500 930.3 218.0)"/>
<use href="#c6" fill="#86AE2B" stroke="#86AE2B" transform="matrix(1.4200 0 0 -1.1500 930.3 218.0)"/>
<use href="#c10" fill="#6BBE9D" stroke="#6BBE9D" transform="matrix(1.4200 0 0 -1.1500 930.3 218.0)"/>
<use href="#c3" fill="#BE9420" stroke="#BE9420" transform="matrix(1.4200 0 0 -1.1500 930.3 218.0)"/>
<use href="#c20" fill="#E05CCB" stroke="#E05CCB" transform="matrix(1.4200 0 0 -1.1500 930.3 218.0)"/>
<use href="#c18" fill="#C46CF5" stroke="#C46CF5" transform="matrix(1.4200 0 0 -1.1500 930.3 218.0)"/>
<use href="#c21" fill="#E35FA8" stroke="#E35FA8" transform="matrix(1.4200 0 0 -1.1500 930.3 218.0)"/>
<use href="#c8" fill="#6ABA58" stroke="#6ABA58" transform="matrix(1.4200 0 0 -1.1500 930.3 218.0)"/>
<use href="#c15" fill="#6498FA" stroke="#6498FA" transform="matrix(1.4200 0 0 -1.1500 930.3 218.0)"/>
<use href="#c7" fill="#68B42A" stroke="#68B42A" transform="matrix(1.4200 0 0 -1.1500 930.3 218.0)"/>
<use href="#c12" fill="#6AB8CC" stroke="#6AB8CC" transform="matrix(1.4200 0 0 -1.1500 930.3 218.0)"/>
<use href="#c14" fill="#5CAAF5" stroke="#5CAAF5" transform="matrix(1.4200 0 0 -1.1500 930.3 218.0)"/>
<use href="#c19" fill="#D561E5" stroke="#D561E5" transform="matrix(1.4200 0 0 -1.1500 930.3 218.0)"/>
<use href="#c16" fill="#8A8CF8" stroke="#8A8CF8" transform="matrix(1.4200 0 0 -1.1500 930.3 218.0)"/>
<path d="M735.4 38.0V373.6M735.4 373.6H1135.7M788.3 373.6v4.5M859.3 373.6v4.5M930.3 373.6v4.5M1001.3 373.6v4.5M1072.3 373.6v4.5M735.4 333.0h-4.5M735.4 275.5h-4.5M735.4 218.0h-4.5M735.4 160.5h-4.5M735.4 103.0h-4.5M735.4 45.5h-4.5" fill="none" stroke="#333" stroke-width="1.3"/>
<g font-family="Liberation Sans, sans-serif" font-size="15" fill="#1a1a1a">
<text x="788.3" y="393.0" text-anchor="middle">-10</text>
<text x="859.3" y="393.0" text-anchor="middle">-5</text>
<text x="930.3" y="393.0" text-anchor="middle">0</text>
<text x="1001.3" y="393.0" text-anchor="middle">5</text>
<text x="1072.3" y="393.0" text-anchor="middle">10</text>
<text x="729.1" y="338.4" text-anchor="end">-10</text>
<text x="729.1" y="280.9" text-anchor="end">-5</text>
<text x="729.1" y="223.4" text-anchor="end">0</text>
<text x="729.1" y="165.9" text-anchor="end">5</text>
<text x="729.1" y="108.4" text-anchor="end">10</text>
<text x="729.1" y="50.9" text-anchor="end">15</text>
</g>
<use href="#c0" fill="#E0736F" stroke="#E0736F" transform="matrix(1.4200 0 0 -1.1500 1339.3 218.0)"/>
<use href="#c11" fill="#6BBFB6" stroke="#6BBFB6" transform="matrix(1.4200 0 0 -1.1500 1339.3 218.0)"/>
<use href="#c1" fill="#D68244" stroke="#D68244" transform="matrix(1.4200 0 0 -1.1500 1339.3 218.0)"/>
<use href="#c9" fill="#6BBD80" stroke="#6BBD80" transform="matrix(1.4200 0 0 -1.1500 1339.3 218.0)"/>
<use href="#c2" fill="#CB8A1E" stroke="#CB8A1E" transform="matrix(1.4200 0 0 -1.1500 1339.3 218.0)"/>
<use href="#c4" fill="#AB9C22" stroke="#AB9C22" transform="matrix(1.4200 0 0 -1.1500 1339.3 218.0)"/>
<use href="#c13" fill="#66B4E3" stroke="#66B4E3" transform="matrix(1.4200 0 0 -1.1500 1339.3 218.0)"/>
<use href="#c5" fill="#9CA628" stroke="#9CA628" transform="matrix(1.4200 0 0 -1.1500 1339.3 218.0)"/>
<use href="#c22" fill="#E26A87" stroke="#E26A87" transform="matrix(1.4200 0 0 -1.1500 1339.3 218.0)"/>
<use href="#c17" fill="#A97CF8" stroke="#A97CF8" transform="matrix(1.4200 0 0 -1.1500 1339.3 218.0)"/>
<use href="#c6" fill="#86AE2B" stroke="#86AE2B" transform="matrix(1.4200 0 0 -1.1500 1339.3 218.0)"/>
<use href="#c10" fill="#6BBE9D" stroke="#6BBE9D" transform="matrix(1.4200 0 0 -1.1500 1339.3 218.0)"/>
<use href="#c3" fill="#BE9420" stroke="#BE9420" transform="matrix(1.4200 0 0 -1.1500 1339.3 218.0)"/>
<use href="#c20" fill="#E05CCB" stroke="#E05CCB" transform="matrix(1.4200 0 0 -1.1500 1339.3 218.0)"/>
<use href="#c18" fill="#C46CF5" stroke="#C46CF5" transform="matrix(1.4200 0 0 -1.1500 1339.3 218.0)"/>
<use href="#c21" fill="#E35FA8" stroke="#E35FA8" transform="matrix(1.4200 0 0 -1.1500 1339.3 218.0)"/>
<use href="#c8" fill="#6ABA58" stroke="#6ABA58" transform="matrix(1.4200 0 0 -1.1500 1339.3 218.0)"/>
<use href="#c15" fill="#6498FA" stroke="#6498FA" transform="matrix(1.4200 0 0 -1.1500 1339.3 218.0)"/>
<use href="#c7" fill="#68B42A" stroke="#68B42A" transform="matrix(1.4200 0 0 -1.1500 1339.3 218.0)"/>
<use href="#c12" fill="#6AB8CC" stroke="#6AB8CC" transform="matrix(1.4200 0 0 -1.1500 1339.3 218.0)"/>
<use href="#c14" fill="#5CAAF5" stroke="#5CAAF5" transform="matrix(1.4200 0 0 -1.1500 1339.3 218.0)"/>
<use href="#c19" fill="#D561E5" stroke="#D561E5" transform="matrix(1.4200 0 0 -1.1500 1339.3 218.0)"/>
<use href="#c16" fill="#8A8CF8" stroke="#8A8CF8" transform="matrix(1.4200 0 0 -1.1500 1339.3 218.0)"/>
<path d="M1144.2 373.6H1545.0M1197.3 373.6v4.5M1268.3 373.6v4.5M1339.3 373.6v4.5M1410.3 373.6v4.5M1481.3 373.6v4.5" fill="none" stroke="#333" stroke-width="1.3"/>
<g font-family="Liberation Sans, sans-serif" font-size="15" fill="#1a1a1a">
<text x="1197.3" y="393.0" text-anchor="middle">-10</text>
<text x="1268.3" y="393.0" text-anchor="middle">-5</text>
<text x="1339.3" y="393.0" text-anchor="middle">0</text>
<text x="1410.3" y="393.0" text-anchor="middle">5</text>
<text x="1481.3" y="393.0" text-anchor="middle">10</text>
</g>
<text x="936" y="46.8" font-family="Liberation Serif, serif" font-weight="bold" font-size="21.5" text-anchor="middle">WT</text>
<text x="1356.7" y="45.6" font-family="Liberation Serif, serif" font-weight="bold" font-size="22">PKP2<tspan font-weight="normal" font-size="12" dy="-9">+/-</tspan></text>
<text x="1143" y="417.5" font-family="Liberation Serif, serif" font-weight="bold" font-size="22" text-anchor="middle">UMAP1</text>
<text transform="translate(704 215.5) rotate(-90)" font-family="Liberation Serif, serif" font-weight="bold" font-size="22" text-anchor="middle">UMAP2</text>
<g font-family="Liberation Sans, sans-serif" font-size="15" fill="#1a1a1a">
<circle cx="1572.3" cy="99.0" r="5" fill="#E0736F"/><text x="1591.3" y="104.3">0</text>
<circle cx="1572.3" cy="118.5" r="5" fill="#D68244"/><text x="1591.3" y="123.8">1</text>
<circle cx="1572.3" cy="138.1" r="5" fill="#CB8A1E"/><text x="1591.3" y="143.4">2</text>
<circle cx="1572.3" cy="157.6" r="5" fill="#BE9420"/><text x="1591.3" y="162.9">3</text>
<circle cx="1572.3" cy="177.1" r="5" fill="#AB9C22"/><text x="1591.3" y="182.4">4</text>
<circle cx="1572.3" cy="196.7" r="5" fill="#9CA628"/><text x="1591.3" y="202.0">5</text>
<circle cx="1572.3" cy="216.2" r="5" fill="#86AE2B"/><text x="1591.3" y="221.5">6</text>
<circle cx="1572.3" cy="235.7" r="5" fill="#68B42A"/><text x="1591.3" y="241.0">7</text>
<circle cx="1572.3" cy="255.2" r="5" fill="#6ABA58"/><text x="1591.3" y="260.5">8</text>
<circle cx="1572.3" cy="274.8" r="5" fill="#6BBD80"/><text x="1591.3" y="280.1">9</text>
<circle cx="1572.3" cy="294.3" r="5" fill="#6BBE9D"/><text x="1591.3" y="299.6">10</text>
<circle cx="1572.3" cy="313.8" r="5" fill="#6BBFB6"/><text x="1591.3" y="319.1">11</text>
<circle cx="1626.8" cy="99.0" r="5" fill="#6AB8CC"/><text x="1645.8" y="104.3">12</text>
<circle cx="1626.8" cy="118.5" r="5" fill="#66B4E3"/><text x="1645.8" y="123.8">13</text>
<circle cx="1626.8" cy="138.1" r="5" fill="#5CAAF5"/><text x="1645.8" y="143.4">14</text>
<circle cx="1626.8" cy="157.6" r="5" fill="#6498FA"/><text x="1645.8" y="162.9">15</text>
<circle cx="1626.8" cy="177.1" r="5" fill="#8A8CF8"/><text x="1645.8" y="182.4">16</text>
<circle cx="1626.8" cy="196.7" r="5" fill="#A97CF8"/><text x="1645.8" y="202.0">17</text>
<circle cx="1626.8" cy="216.2" r="5" fill="#C46CF5"/><text x="1645.8" y="221.5">18</text>
<circle cx="1626.8" cy="235.7" r="5" fill="#D561E5"/><text x="1645.8" y="241.0">19</text>
<circle cx="1626.8" cy="255.2" r="5" fill="#E05CCB"/><text x="1645.8" y="260.5">20</text>
<circle cx="1626.8" cy="274.8" r="5" fill="#E35FA8"/><text x="1645.8" y="280.1">21</text>
<circle cx="1626.8" cy="294.3" r="5" fill="#E26A87"/><text x="1645.8" y="299.6">22</text>
</g>
<text transform="translate(38 446.6) scale(0.9 1)" font-family="Liberation Serif, serif" font-weight="bold" font-size="39.5" fill="#000">B</text>
<path d="M135.8 452V1412.5H806" fill="none" stroke="#4d4d4d" stroke-width="1"/>
<g font-family="Liberation Sans, sans-serif" font-size="16.4" fill="#1a1a1a" text-anchor="end">
<text x="131.8" y="467.6">Hba-a3</text>
<text x="131.8" y="484.4">LOC100134871</text>
<text x="131.8" y="501.2">LOC689064</text>
<text x="131.8" y="518.0">Cd74</text>
<text x="131.8" y="534.8">Plac8</text>
<text x="131.8" y="551.5">Ighm</text>
<text x="131.8" y="568.3">Ctss</text>
<text x="131.8" y="585.1">Pkhd1l1</text>
<text x="131.8" y="601.9">Rps6ka2</text>
<text x="131.8" y="618.7">Irf8</text>
<text x="131.8" y="635.5">Flt3</text>
<text x="131.8" y="652.3">Wdfy4</text>
<text x="131.8" y="669.1">Mki67</text>
<text x="131.8" y="685.9">Top2a</text>
<text x="131.8" y="702.7">Cdh19</text>
<text x="131.8" y="719.5">Grik2</text>
<text x="131.8" y="736.2">Scn7a</text>
<text x="131.8" y="753.0">S100a8</text>
<text x="131.8" y="769.8">S100a9</text>
<text x="131.8" y="786.6">Slfn4</text>
<text x="131.8" y="803.4">Acta2</text>
<text x="131.8" y="820.2">Mrvi1</text>
<text x="131.8" y="837.0">Myh11</text>
<text x="131.8" y="853.8">Sox17</text>
<text x="131.8" y="870.6">Dkk2</text>
<text x="131.8" y="887.4">Kcnj8</text>
<text x="131.8" y="904.1">Ddr2</text>
<text x="131.8" y="920.9">Fhl2</text>
<text x="131.8" y="937.7">Nexn</text>
<text x="131.8" y="954.5">Prox1</text>
<text x="131.8" y="971.3">Ldb2</text>
<text x="131.8" y="988.1">Mmrn1</text>
<text x="131.8" y="1004.9">Cd247</text>
<text x="131.8" y="1021.7">Ptprc</text>
<text x="131.8" y="1038.5">Skap1</text>
<text x="131.8" y="1055.2">Pdgfrb</text>
<text x="131.8" y="1072.0">Myo1b</text>
<text x="131.8" y="1088.8">Adgrl3</text>
<text x="131.8" y="1105.6">Myom1</text>
<text x="131.8" y="1122.4">Trim63</text>
<text x="131.8" y="1139.2">Obscn</text>
<text x="131.8" y="1156.0">Mb</text>
<text x="131.8" y="1172.8">Myh7</text>
<text x="131.8" y="1189.6">Ryr2</text>
<text x="131.8" y="1206.4">Meox2</text>
<text x="131.8" y="1223.1">Csf1r</text>
<text x="131.8" y="1239.9">Cd163</text>
<text x="131.8" y="1256.7">Mrc1</text>
<text x="131.8" y="1273.5">Ptprb</text>
<text x="131.8" y="1290.3">Flt1</text>
<text x="131.8" y="1307.1">Myo10</text>
<text x="131.8" y="1323.9">Hmcn1</text>
<text x="131.8" y="1340.7">Cdh11</text>
<text x="131.8" y="1357.5">Cgnl1</text>
<text x="131.8" y="1374.3">Tmeff2</text>
<text x="131.8" y="1391.0">Ebf2</text>
<text x="131.8" y="1407.8">Itgbl1</text>
</g>
<path d="M133.3 461.9h2.5M133.3 478.7h2.5M133.3 495.5h2.5M133.3 512.3h2.5M133.3 529.1h2.5M133.3 545.8h2.5M133.3 562.6h2.5M133.3 579.4h2.5M133.3 596.2h2.5M133.3 613.0h2.5M133.3 629.8h2.5M133.3 646.6h2.5M133.3 663.4h2.5M133.3 680.2h2.5M133.3 697.0h2.5M133.3 713.8h2.5M133.3 730.5h2.5M133.3 747.3h2.5M133.3 764.1h2.5M133.3 780.9h2.5M133.3 797.7h2.5M133.3 814.5h2.5M133.3 831.3h2.5M133.3 848.1h2.5M133.3 864.9h2.5M133.3 881.6h2.5M133.3 898.4h2.5M133.3 915.2h2.5M133.3 932.0h2.5M133.3 948.8h2.5M133.3 965.6h2.5M133.3 982.4h2.5M133.3 999.2h2.5M133.3 1016.0h2.5M133.3 1032.8h2.5M133.3 1049.5h2.5M133.3 1066.3h2.5M133.3 1083.1h2.5M133.3 1099.9h2.5M133.3 1116.7h2.5M133.3 1133.5h2.5M133.3 1150.3h2.5M133.3 1167.1h2.5M133.3 1183.9h2.5M133.3 1200.7h2.5M133.3 1217.4h2.5M133.3 1234.2h2.5M133.3 1251.0h2.5M133.3 1267.8h2.5M133.3 1284.6h2.5M133.3 1301.4h2.5M133.3 1318.2h2.5M133.3 1335.0h2.5M133.3 1351.8h2.5M133.3 1368.6h2.5M133.3 1385.3h2.5M133.3 1402.1h2.5M153.0 1412.5v2.5M181.9 1412.5v2.5M210.7 1412.5v2.5M239.6 1412.5v2.5M268.5 1412.5v2.5M297.4 1412.5v2.5M326.2 1412.5v2.5M355.1 1412.5v2.5M384.0 1412.5v2.5M412.8 1412.5v2.5M441.7 1412.5v2.5M470.6 1412.5v2.5M499.4 1412.5v2.5M528.3 1412.5v2.5M557.2 1412.5v2.5M586.0 1412.5v2.5M614.9 1412.5v2.5M643.8 1412.5v2.5M672.7 1412.5v2.5M701.5 1412.5v2.5M730.4 1412.5v2.5M759.3 1412.5v2.5M788.1 1412.5v2.5" stroke="#4d4d4d" stroke-width="0.8"/>
<g font-family="Liberation Sans, sans-serif" font-size="17" fill="#1a1a1a" text-anchor="middle">
<text x="153.0" y="1428.2">0</text>
<text x="181.9" y="1428.2">1</text>
<text x="210.7" y="1428.2">2</text>
<text x="239.6" y="1428.2">3</text>
<text x="268.5" y="1428.2">4</text>
<text x="297.4" y="1428.2">5</text>
<text x="326.2" y="1428.2">6</text>
<text x="355.1" y="1428.2">7</text>
<text x="384.0" y="1428.2">8</text>
<text x="412.8" y="1428.2">9</text>
<text x="441.7" y="1428.2">10</text>
<text x="470.6" y="1428.2">11</text>
<text x="499.4" y="1428.2">12</text>
<text x="528.3" y="1428.2">13</text>
<text x="557.2" y="1428.2">14</text>
<text x="586.0" y="1428.2">15</text>
<text x="614.9" y="1428.2">16</text>
<text x="643.8" y="1428.2">17</text>
<text x="672.7" y="1428.2">18</text>
<text x="701.5" y="1428.2">19</text>
<text x="730.4" y="1428.2">20</text>
<text x="759.3" y="1428.2">21</text>
<text x="788.1" y="1428.2">22</text>
</g>
<text x="471" y="1440" font-family="Liberation Sans, sans-serif" font-size="10" fill="#222" text-anchor="middle">Identity</text>
<text transform="translate(10.5 933) rotate(-90)" font-family="Liberation Sans, sans-serif" font-size="10" fill="#222" text-anchor="middle">Features</text>
<circle cx="153.0" cy="461.9" r="0.60" fill="#ecd8d0"/>
<circle cx="181.9" cy="461.9" r="0.60" fill="#ecd8d0"/>
<circle cx="210.7" cy="461.9" r="0.60" fill="#ecd8d0"/>
<circle cx="239.6" cy="461.9" r="0.60" fill="#ecd8d0"/>
<circle cx="268.5" cy="461.9" r="0.60" fill="#ecd8d0"/>
<circle cx="297.4" cy="461.9" r="0.60" fill="#ecd8d0"/>
<circle cx="326.2" cy="461.9" r="0.60" fill="#ecd8d0"/>
<circle cx="355.1" cy="461.9" r="0.60" fill="#ecd8d0"/>
<circle cx="384.0" cy="461.9" r="0.60" fill="#ecd8d0"/>
<circle cx="412.8" cy="461.9" r="0.60" fill="#ecd8d0"/>
<circle cx="441.7" cy="461.9" r="0.60" fill="#ecd8d0"/>
<circle cx="470.6" cy="461.9" r="0.60" fill="#ecd8d0"/>
<circle cx="499.4" cy="461.9" r="0.60" fill="#ecd8d0"/>
<circle cx="528.3" cy="461.9" r="0.60" fill="#ecd8d0"/>
<circle cx="557.2" cy="461.9" r="0.60" fill="#ecd8d0"/>
<circle cx="586.0" cy="461.9" r="0.60" fill="#ecd8d0"/>
<circle cx="614.9" cy="461.9" r="0.60" fill="#ecd8d0"/>
<circle cx="643.8" cy="461.9" r="0.60" fill="#ecd8d0"/>
<circle cx="672.7" cy="461.9" r="0.60" fill="#ecd8d0"/>
<circle cx="701.5" cy="461.9" r="0.60" fill="#ecd8d0"/>
<circle cx="730.4" cy="461.9" r="0.60" fill="#ecd8d0"/>
<circle cx="759.3" cy="461.9" r="0.60" fill="#ecd8d0"/>
<circle cx="788.1" cy="461.9" r="2.05" fill="#b95f44"/>
<circle cx="153.0" cy="478.7" r="0.60" fill="#ecd8d0"/>
<circle cx="181.9" cy="478.7" r="0.60" fill="#ecd8d0"/>
<circle cx="210.7" cy="478.7" r="0.60" fill="#ecd8d0"/>
<circle cx="239.6" cy="478.7" r="0.60" fill="#ecd8d0"/>
<circle cx="268.5" cy="478.7" r="0.60" fill="#ecd8d0"/>
<circle cx="297.4" cy="478.7" r="0.60" fill="#ecd8d0"/>
<circle cx="326.2" cy="478.7" r="0.60" fill="#ecd8d0"/>
<circle cx="355.1" cy="478.7" r="0.60" fill="#ecd8d0"/>
<circle cx="384.0" cy="478.7" r="0.60" fill="#ecd8d0"/>
<circle cx="412.8" cy="478.7" r="0.60" fill="#ecd8d0"/>
<circle cx="441.7" cy="478.7" r="0.60" fill="#ecd8d0"/>
<circle cx="470.6" cy="478.7" r="0.60" fill="#ecd8d0"/>
<circle cx="499.4" cy="478.7" r="0.60" fill="#ecd8d0"/>
<circle cx="528.3" cy="478.7" r="0.60" fill="#ecd8d0"/>
<circle cx="557.2" cy="478.7" r="0.60" fill="#ecd8d0"/>
<circle cx="586.0" cy="478.7" r="0.60" fill="#ecd8d0"/>
<circle cx="614.9" cy="478.7" r="0.60" fill="#ecd8d0"/>
<circle cx="643.8" cy="478.7" r="0.60" fill="#ecd8d0"/>
<circle cx="672.7" cy="478.7" r="0.60" fill="#ecd8d0"/>
<circle cx="701.5" cy="478.7" r="0.60" fill="#ecd8d0"/>
<circle cx="730.4" cy="478.7" r="0.60" fill="#ecd8d0"/>
<circle cx="759.3" cy="478.7" r="0.60" fill="#ecd8d0"/>
<circle cx="788.1" cy="478.7" r="3.50" fill="#bd6b50"/>
<circle cx="153.0" cy="495.5" r="0.60" fill="#ecd8d0"/>
<circle cx="181.9" cy="495.5" r="0.60" fill="#ecd8d0"/>
<circle cx="210.7" cy="495.5" r="0.60" fill="#ecd8d0"/>
<circle cx="239.6" cy="495.5" r="0.60" fill="#ecd8d0"/>
<circle cx="268.5" cy="495.5" r="0.60" fill="#ecd8d0"/>
<circle cx="297.4" cy="495.5" r="0.60" fill="#ecd8d0"/>
<circle cx="326.2" cy="495.5" r="0.60" fill="#ecd8d0"/>
<circle cx="355.1" cy="495.5" r="0.60" fill="#ecd8d0"/>
<circle cx="384.0" cy="495.5" r="0.60" fill="#ecd8d0"/>
<circle cx="412.8" cy="495.5" r="0.60" fill="#ecd8d0"/>
<circle cx="441.7" cy="495.5" r="0.60" fill="#ecd8d0"/>
<circle cx="470.6" cy="495.5" r="0.60" fill="#ecd8d0"/>
<circle cx="499.4" cy="495.5" r="0.60" fill="#ecd8d0"/>
<circle cx="528.3" cy="495.5" r="0.60" fill="#ecd8d0"/>
<circle cx="557.2" cy="495.5" r="0.60" fill="#ecd8d0"/>
<circle cx="586.0" cy="495.5" r="0.60" fill="#ecd8d0"/>
<circle cx="614.9" cy="495.5" r="0.60" fill="#ecd8d0"/>
<circle cx="643.8" cy="495.5" r="0.60" fill="#ecd8d0"/>
<circle cx="672.7" cy="495.5" r="0.60" fill="#ecd8d0"/>
<circle cx="701.5" cy="495.5" r="0.60" fill="#ecd8d0"/>
<circle cx="730.4" cy="495.5" r="0.60" fill="#ecd8d0"/>
<circle cx="759.3" cy="495.5" r="0.60" fill="#ecd8d0"/>
<circle cx="788.1" cy="495.5" r="3.50" fill="#bd6b50"/>
<circle cx="153.0" cy="512.3" r="1.15" fill="#dfb5a6"/>
<circle cx="181.9" cy="512.3" r="1.15" fill="#dfb5a6"/>
<circle cx="210.7" cy="512.3" r="1.15" fill="#dfb5a6"/>
<circle cx="239.6" cy="512.3" r="1.60" fill="#b95f44"/>
<circle cx="268.5" cy="512.3" r="1.15" fill="#dfb5a6"/>
<circle cx="297.4" cy="512.3" r="1.15" fill="#dfb5a6"/>
<circle cx="326.2" cy="512.3" r="1.15" fill="#dfb5a6"/>
<circle cx="355.1" cy="512.3" r="1.15" fill="#dfb5a6"/>
<circle cx="384.0" cy="512.3" r="1.15" fill="#dfb5a6"/>
<circle cx="412.8" cy="512.3" r="1.15" fill="#dfb5a6"/>
<circle cx="441.7" cy="512.3" r="1.15" fill="#dfb5a6"/>
<circle cx="470.6" cy="512.3" r="1.15" fill="#dfb5a6"/>
<circle cx="499.4" cy="512.3" r="1.15" fill="#dfb5a6"/>
<circle cx="528.3" cy="512.3" r="1.15" fill="#dfb5a6"/>
<circle cx="557.2" cy="512.3" r="1.15" fill="#dfb5a6"/>
<circle cx="586.0" cy="512.3" r="1.15" fill="#dfb5a6"/>
<circle cx="614.9" cy="512.3" r="1.15" fill="#dfb5a6"/>
<circle cx="643.8" cy="512.3" r="1.60" fill="#cf8e77"/>
<circle cx="672.7" cy="512.3" r="3.50" fill="#bd6b50"/>
<circle cx="701.5" cy="512.3" r="1.15" fill="#dfb5a6"/>
<circle cx="730.4" cy="512.3" r="1.60" fill="#cf8e77"/>
<circle cx="759.3" cy="512.3" r="2.80" fill="#c07258"/>
<circle cx="788.1" cy="512.3" r="1.15" fill="#dfb5a6"/>
<circle cx="153.0" cy="529.1" r="0.60" fill="#ecd8d0"/>
<circle cx="181.9" cy="529.1" r="0.60" fill="#ecd8d0"/>
<circle cx="210.7" cy="529.1" r="0.60" fill="#ecd8d0"/>
<circle cx="239.6" cy="529.1" r="0.60" fill="#ecd8d0"/>
<circle cx="268.5" cy="529.1" r="0.60" fill="#ecd8d0"/>
<circle cx="297.4" cy="529.1" r="0.60" fill="#ecd8d0"/>
<circle cx="326.2" cy="529.1" r="0.60" fill="#ecd8d0"/>
<circle cx="355.1" cy="529.1" r="0.60" fill="#ecd8d0"/>
<circle cx="384.0" cy="529.1" r="0.60" fill="#ecd8d0"/>
<circle cx="412.8" cy="529.1" r="0.60" fill="#ecd8d0"/>
<circle cx="441.7" cy="529.1" r="0.60" fill="#ecd8d0"/>
<circle cx="470.6" cy="529.1" r="0.60" fill="#ecd8d0"/>
<circle cx="499.4" cy="529.1" r="0.60" fill="#ecd8d0"/>
<circle cx="528.3" cy="529.1" r="1.15" fill="#dfb5a6"/>
<circle cx="557.2" cy="529.1" r="0.60" fill="#ecd8d0"/>
<circle cx="586.0" cy="529.1" r="0.60" fill="#ecd8d0"/>
<circle cx="614.9" cy="529.1" r="0.60" fill="#ecd8d0"/>
<circle cx="643.8" cy="529.1" r="0.60" fill="#ecd8d0"/>
<circle cx="672.7" cy="529.1" r="0.60" fill="#ecd8d0"/>
<circle cx="701.5" cy="529.1" r="0.60" fill="#ecd8d0"/>
<circle cx="730.4" cy="529.1" r="0.60" fill="#ecd8d0"/>
<circle cx="759.3" cy="529.1" r="1.15" fill="#b95f44"/>
<circle cx="788.1" cy="529.1" r="0.60" fill="#ecd8d0"/>
<circle cx="153.0" cy="545.8" r="0.60" fill="#ecd8d0"/>
<circle cx="181.9" cy="545.8" r="0.60" fill="#ecd8d0"/>
<circle cx="210.7" cy="545.8" r="0.60" fill="#ecd8d0"/>
<circle cx="239.6" cy="545.8" r="0.60" fill="#ecd8d0"/>
<circle cx="268.5" cy="545.8" r="0.60" fill="#ecd8d0"/>
<circle cx="297.4" cy="545.8" r="0.60" fill="#ecd8d0"/>
<circle cx="326.2" cy="545.8" r="0.60" fill="#ecd8d0"/>
<circle cx="355.1" cy="545.8" r="0.60" fill="#ecd8d0"/>
<circle cx="384.0" cy="545.8" r="0.60" fill="#ecd8d0"/>
<circle cx="412.8" cy="545.8" r="0.60" fill="#ecd8d0"/>
<circle cx="441.7" cy="545.8" r="0.60" fill="#ecd8d0"/>
<circle cx="470.6" cy="545.8" r="0.60" fill="#ecd8d0"/>
<circle cx="499.4" cy="545.8" r="0.60" fill="#ecd8d0"/>
<circle cx="528.3" cy="545.8" r="0.60" fill="#ecd8d0"/>
<circle cx="557.2" cy="545.8" r="0.60" fill="#ecd8d0"/>
<circle cx="586.0" cy="545.8" r="0.60" fill="#ecd8d0"/>
<circle cx="614.9" cy="545.8" r="0.60" fill="#ecd8d0"/>
<circle cx="643.8" cy="545.8" r="0.60" fill="#ecd8d0"/>
<circle cx="672.7" cy="545.8" r="0.60" fill="#ecd8d0"/>
<circle cx="701.5" cy="545.8" r="0.60" fill="#ecd8d0"/>
<circle cx="730.4" cy="545.8" r="0.60" fill="#ecd8d0"/>
<circle cx="759.3" cy="545.8" r="3.50" fill="#bd6b50"/>
<circle cx="788.1" cy="545.8" r="0.60" fill="#ecd8d0"/>
<circle cx="153.0" cy="562.6" r="0.60" fill="#ecd8d0"/>
<circle cx="181.9" cy="562.6" r="0.60" fill="#ecd8d0"/>
<circle cx="210.7" cy="562.6" r="0.60" fill="#ecd8d0"/>
<circle cx="239.6" cy="562.6" r="2.05" fill="#b95f44"/>
<circle cx="268.5" cy="562.6" r="0.60" fill="#ecd8d0"/>
<circle cx="297.4" cy="562.6" r="0.60" fill="#ecd8d0"/>
<circle cx="326.2" cy="562.6" r="0.60" fill="#ecd8d0"/>
<circle cx="355.1" cy="562.6" r="0.60" fill="#ecd8d0"/>
<circle cx="384.0" cy="562.6" r="0.60" fill="#ecd8d0"/>
<circle cx="412.8" cy="562.6" r="0.60" fill="#ecd8d0"/>
<circle cx="441.7" cy="562.6" r="0.60" fill="#ecd8d0"/>
<circle cx="470.6" cy="562.6" r="0.60" fill="#ecd8d0"/>
<circle cx="499.4" cy="562.6" r="0.60" fill="#ecd8d0"/>
<circle cx="528.3" cy="562.6" r="0.60" fill="#ecd8d0"/>
<circle cx="557.2" cy="562.6" r="0.60" fill="#ecd8d0"/>
<circle cx="586.0" cy="562.6" r="0.60" fill="#ecd8d0"/>
<circle cx="614.9" cy="562.6" r="0.60" fill="#ecd8d0"/>
<circle cx="643.8" cy="562.6" r="0.60" fill="#ecd8d0"/>
<circle cx="672.7" cy="562.6" r="1.60" fill="#b95f44"/>
<circle cx="701.5" cy="562.6" r="0.60" fill="#ecd8d0"/>
<circle cx="730.4" cy="562.6" r="2.05" fill="#b95f44"/>
<circle cx="759.3" cy="562.6" r="1.15" fill="#b95f44"/>
<circle cx="788.1" cy="562.6" r="0.60" fill="#ecd8d0"/>
<circle cx="153.0" cy="579.4" r="1.15" fill="#dfb5a6"/>
<circle cx="181.9" cy="579.4" r="4.10" fill="#bb674b"/>
<circle cx="210.7" cy="579.4" r="1.15" fill="#dfb5a6"/>
<circle cx="239.6" cy="579.4" r="1.15" fill="#dfb5a6"/>
<circle cx="268.5" cy="579.4" r="2.05" fill="#d09a87"/>
<circle cx="297.4" cy="579.4" r="1.15" fill="#dfb5a6"/>
<circle cx="326.2" cy="579.4" r="0.60" fill="#ecd8d0"/>
<circle cx="355.1" cy="579.4" r="0.60" fill="#ecd8d0"/>
<circle cx="384.0" cy="579.4" r="1.15" fill="#dfb5a6"/>
<circle cx="412.8" cy="579.4" r="4.10" fill="#bb674b"/>
<circle cx="441.7" cy="579.4" r="1.15" fill="#dfb5a6"/>
<circle cx="470.6" cy="579.4" r="1.60" fill="#cf8e77"/>
<circle cx="499.4" cy="579.4" r="1.60" fill="#cf8e77"/>
<circle cx="528.3" cy="579.4" r="2.80" fill="#c07258"/>
<circle cx="557.2" cy="579.4" r="1.15" fill="#dfb5a6"/>
<circle cx="586.0" cy="579.4" r="1.15" fill="#dfb5a6"/>
<circle cx="614.9" cy="579.4" r="1.15" fill="#dfb5a6"/>
<circle cx="643.8" cy="579.4" r="1.60" fill="#cf8e77"/>
<circle cx="672.7" cy="579.4" r="1.15" fill="#dfb5a6"/>
<circle cx="701.5" cy="579.4" r="4.10" fill="#bb674b"/>
<circle cx="730.4" cy="579.4" r="1.15" fill="#dfb5a6"/>
<circle cx="759.3" cy="579.4" r="1.15" fill="#dfb5a6"/>
<circle cx="788.1" cy="579.4" r="1.15" fill="#dfb5a6"/>
<circle cx="153.0" cy="596.2" r="1.15" fill="#dfb5a6"/>
<circle cx="181.9" cy="596.2" r="3.50" fill="#bd6b50"/>
<circle cx="210.7" cy="596.2" r="1.15" fill="#dfb5a6"/>
<circle cx="239.6" cy="596.2" r="1.15" fill="#dfb5a6"/>
<circle cx="268.5" cy="596.2" r="1.60" fill="#cf8e77"/>
<circle cx="297.4" cy="596.2" r="1.15" fill="#dfb5a6"/>
<circle cx="326.2" cy="596.2" r="0.60" fill="#ecd8d0"/>
<circle cx="355.1" cy="596.2" r="0.60" fill="#ecd8d0"/>
<circle cx="384.0" cy="596.2" r="1.15" fill="#dfb5a6"/>
<circle cx="412.8" cy="596.2" r="1.60" fill="#cf8e77"/>
<circle cx="441.7" cy="596.2" r="1.15" fill="#dfb5a6"/>
<circle cx="470.6" cy="596.2" r="1.60" fill="#cf8e77"/>
<circle cx="499.4" cy="596.2" r="1.60" fill="#cf8e77"/>
<circle cx="528.3" cy="596.2" r="1.15" fill="#dfb5a6"/>
<circle cx="557.2" cy="596.2" r="1.15" fill="#dfb5a6"/>
<circle cx="586.0" cy="596.2" r="1.15" fill="#dfb5a6"/>
<circle cx="614.9" cy="596.2" r="1.15" fill="#dfb5a6"/>
<circle cx="643.8" cy="596.2" r="1.60" fill="#cf8e77"/>
<circle cx="672.7" cy="596.2" r="1.15" fill="#dfb5a6"/>
<circle cx="701.5" cy="596.2" r="3.50" fill="#bd6b50"/>
<circle cx="730.4" cy="596.2" r="1.60" fill="#cf8e77"/>
<circle cx="759.3" cy="596.2" r="0.60" fill="#ecd8d0"/>
<circle cx="788.1" cy="596.2" r="0.60" fill="#ecd8d0"/>
<circle cx="153.0" cy="613.0" r="0.60" fill="#ecd8d0"/>
<circle cx="181.9" cy="613.0" r="0.60" fill="#ecd8d0"/>
<circle cx="210.7" cy="613.0" r="0.60" fill="#ecd8d0"/>
<circle cx="239.6" cy="613.0" r="1.15" fill="#dfb5a6"/>
<circle cx="268.5" cy="613.0" r="0.60" fill="#ecd8d0"/>
<circle cx="297.4" cy="613.0" r="0.60" fill="#ecd8d0"/>
<circle cx="326.2" cy="613.0" r="0.60" fill="#ecd8d0"/>
<circle cx="355.1" cy="613.0" r="0.60" fill="#ecd8d0"/>
<circle cx="384.0" cy="613.0" r="0.60" fill="#ecd8d0"/>
<circle cx="412.8" cy="613.0" r="0.60" fill="#ecd8d0"/>
<circle cx="441.7" cy="613.0" r="0.60" fill="#ecd8d0"/>
<circle cx="470.6" cy="613.0" r="0.60" fill="#ecd8d0"/>
<circle cx="499.4" cy="613.0" r="0.60" fill="#ecd8d0"/>
<circle cx="528.3" cy="613.0" r="0.60" fill="#ecd8d0"/>
<circle cx="557.2" cy="613.0" r="0.60" fill="#ecd8d0"/>
<circle cx="586.0" cy="613.0" r="0.60" fill="#ecd8d0"/>
<circle cx="614.9" cy="613.0" r="0.60" fill="#ecd8d0"/>
<circle cx="643.8" cy="613.0" r="0.60" fill="#ecd8d0"/>
<circle cx="672.7" cy="613.0" r="2.80" fill="#c07258"/>
<circle cx="701.5" cy="613.0" r="0.60" fill="#ecd8d0"/>
<circle cx="730.4" cy="613.0" r="0.60" fill="#ecd8d0"/>
<circle cx="759.3" cy="613.0" r="1.15" fill="#b95f44"/>
<circle cx="788.1" cy="613.0" r="0.60" fill="#ecd8d0"/>
<circle cx="153.0" cy="629.8" r="0.60" fill="#ecd8d0"/>
<circle cx="181.9" cy="629.8" r="0.60" fill="#ecd8d0"/>
<circle cx="210.7" cy="629.8" r="0.60" fill="#ecd8d0"/>
<circle cx="239.6" cy="629.8" r="1.15" fill="#dfb5a6"/>
<circle cx="268.5" cy="629.8" r="0.60" fill="#ecd8d0"/>
<circle cx="297.4" cy="629.8" r="0.60" fill="#ecd8d0"/>
<circle cx="326.2" cy="629.8" r="0.60" fill="#ecd8d0"/>
<circle cx="355.1" cy="629.8" r="0.60" fill="#ecd8d0"/>
<circle cx="384.0" cy="629.8" r="0.60" fill="#ecd8d0"/>
<circle cx="412.8" cy="629.8" r="0.60" fill="#ecd8d0"/>
<circle cx="441.7" cy="629.8" r="0.60" fill="#ecd8d0"/>
<circle cx="470.6" cy="629.8" r="0.60" fill="#ecd8d0"/>
<circle cx="499.4" cy="629.8" r="0.60" fill="#ecd8d0"/>
<circle cx="528.3" cy="629.8" r="0.60" fill="#ecd8d0"/>
<circle cx="557.2" cy="629.8" r="0.60" fill="#ecd8d0"/>
<circle cx="586.0" cy="629.8" r="0.60" fill="#ecd8d0"/>
<circle cx="614.9" cy="629.8" r="0.60" fill="#ecd8d0"/>
<circle cx="643.8" cy="629.8" r="0.60" fill="#ecd8d0"/>
<circle cx="672.7" cy="629.8" r="2.80" fill="#c07258"/>
<circle cx="701.5" cy="629.8" r="0.60" fill="#ecd8d0"/>
<circle cx="730.4" cy="629.8" r="0.60" fill="#ecd8d0"/>
<circle cx="759.3" cy="629.8" r="1.15" fill="#b95f44"/>
<circle cx="788.1" cy="629.8" r="0.60" fill="#ecd8d0"/>
<circle cx="153.0" cy="646.6" r="0.60" fill="#ecd8d0"/>
<circle cx="181.9" cy="646.6" r="0.60" fill="#ecd8d0"/>
<circle cx="210.7" cy="646.6" r="0.60" fill="#ecd8d0"/>
<circle cx="239.6" cy="646.6" r="1.15" fill="#b95f44"/>
<circle cx="268.5" cy="646.6" r="0.60" fill="#ecd8d0"/>
<circle cx="297.4" cy="646.6" r="0.60" fill="#ecd8d0"/>
<circle cx="326.2" cy="646.6" r="0.60" fill="#ecd8d0"/>
<circle cx="355.1" cy="646.6" r="0.60" fill="#ecd8d0"/>
<circle cx="384.0" cy="646.6" r="0.60" fill="#ecd8d0"/>
<circle cx="412.8" cy="646.6" r="0.60" fill="#ecd8d0"/>
<circle cx="441.7" cy="646.6" r="0.60" fill="#ecd8d0"/>
<circle cx="470.6" cy="646.6" r="0.60" fill="#ecd8d0"/>
<circle cx="499.4" cy="646.6" r="0.60" fill="#ecd8d0"/>
<circle cx="528.3" cy="646.6" r="0.60" fill="#ecd8d0"/>
<circle cx="557.2" cy="646.6" r="0.60" fill="#ecd8d0"/>
<circle cx="586.0" cy="646.6" r="1.15" fill="#dfb5a6"/>
<circle cx="614.9" cy="646.6" r="0.60" fill="#ecd8d0"/>
<circle cx="643.8" cy="646.6" r="0.60" fill="#ecd8d0"/>
<circle cx="672.7" cy="646.6" r="3.50" fill="#bd6b50"/>
<circle cx="701.5" cy="646.6" r="0.60" fill="#ecd8d0"/>
<circle cx="730.4" cy="646.6" r="1.15" fill="#dfb5a6"/>
<circle cx="759.3" cy="646.6" r="1.60" fill="#cf8e77"/>
<circle cx="788.1" cy="646.6" r="0.60" fill="#ecd8d0"/>
<circle cx="153.0" cy="663.4" r="0.60" fill="#ecd8d0"/>
<circle cx="181.9" cy="663.4" r="0.60" fill="#ecd8d0"/>
<circle cx="210.7" cy="663.4" r="0.60" fill="#ecd8d0"/>
<circle cx="239.6" cy="663.4" r="0.60" fill="#ecd8d0"/>
<circle cx="268.5" cy="663.4" r="0.60" fill="#ecd8d0"/>
<circle cx="297.4" cy="663.4" r="0.60" fill="#ecd8d0"/>
<circle cx="326.2" cy="663.4" r="0.60" fill="#ecd8d0"/>
<circle cx="355.1" cy="663.4" r="0.60" fill="#ecd8d0"/>
<circle cx="384.0" cy="663.4" r="0.60" fill="#ecd8d0"/>
<circle cx="412.8" cy="663.4" r="0.60" fill="#ecd8d0"/>
<circle cx="441.7" cy="663.4" r="0.60" fill="#ecd8d0"/>
<circle cx="470.6" cy="663.4" r="0.60" fill="#ecd8d0"/>
<circle cx="499.4" cy="663.4" r="0.60" fill="#ecd8d0"/>
<circle cx="528.3" cy="663.4" r="0.60" fill="#ecd8d0"/>
<circle cx="557.2" cy="663.4" r="0.60" fill="#ecd8d0"/>
<circle cx="586.0" cy="663.4" r="0.60" fill="#ecd8d0"/>
<circle cx="614.9" cy="663.4" r="0.60" fill="#ecd8d0"/>
<circle cx="643.8" cy="663.4" r="2.80" fill="#c07258"/>
<circle cx="672.7" cy="663.4" r="0.60" fill="#ecd8d0"/>
<circle cx="701.5" cy="663.4" r="0.60" fill="#ecd8d0"/>
<circle cx="730.4" cy="663.4" r="0.60" fill="#ecd8d0"/>
<circle cx="759.3" cy="663.4" r="0.60" fill="#ecd8d0"/>
<circle cx="788.1" cy="663.4" r="0.60" fill="#ecd8d0"/>
<circle cx="153.0" cy="680.2" r="0.60" fill="#ecd8d0"/>
<circle cx="181.9" cy="680.2" r="0.60" fill="#ecd8d0"/>
<circle cx="210.7" cy="680.2" r="0.60" fill="#ecd8d0"/>
<circle cx="239.6" cy="680.2" r="0.60" fill="#ecd8d0"/>
<circle cx="268.5" cy="680.2" r="0.60" fill="#ecd8d0"/>
<circle cx="297.4" cy="680.2" r="0.60" fill="#ecd8d0"/>
<circle cx="326.2" cy="680.2" r="0.60" fill="#ecd8d0"/>
<circle cx="355.1" cy="680.2" r="0.60" fill="#ecd8d0"/>
<circle cx="384.0" cy="680.2" r="0.60" fill="#ecd8d0"/>
<circle cx="412.8" cy="680.2" r="0.60" fill="#ecd8d0"/>
<circle cx="441.7" cy="680.2" r="0.60" fill="#ecd8d0"/>
<circle cx="470.6" cy="680.2" r="0.60" fill="#ecd8d0"/>
<circle cx="499.4" cy="680.2" r="0.60" fill="#ecd8d0"/>
<circle cx="528.3" cy="680.2" r="0.60" fill="#ecd8d0"/>
<circle cx="557.2" cy="680.2" r="0.60" fill="#ecd8d0"/>
<circle cx="586.0" cy="680.2" r="0.60" fill="#ecd8d0"/>
<circle cx="614.9" cy="680.2" r="0.60" fill="#ecd8d0"/>
<circle cx="643.8" cy="680.2" r="2.80" fill="#c07258"/>
<circle cx="672.7" cy="680.2" r="0.60" fill="#ecd8d0"/>
<circle cx="701.5" cy="680.2" r="0.60" fill="#ecd8d0"/>
<circle cx="730.4" cy="680.2" r="0.60" fill="#ecd8d0"/>
<circle cx="759.3" cy="680.2" r="0.60" fill="#ecd8d0"/>
<circle cx="788.1" cy="680.2" r="0.60" fill="#ecd8d0"/>
<circle cx="153.0" cy="697.0" r="0.60" fill="#ecd8d0"/>
<circle cx="181.9" cy="697.0" r="0.60" fill="#ecd8d0"/>
<circle cx="210.7" cy="697.0" r="0.60" fill="#ecd8d0"/>
<circle cx="239.6" cy="697.0" r="0.60" fill="#ecd8d0"/>
<circle cx="268.5" cy="697.0" r="0.60" fill="#ecd8d0"/>
<circle cx="297.4" cy="697.0" r="0.60" fill="#ecd8d0"/>
<circle cx="326.2" cy="697.0" r="0.60" fill="#ecd8d0"/>
<circle cx="355.1" cy="697.0" r="0.60" fill="#ecd8d0"/>
<circle cx="384.0" cy="697.0" r="0.60" fill="#ecd8d0"/>
<circle cx="412.8" cy="697.0" r="0.60" fill="#ecd8d0"/>
<circle cx="441.7" cy="697.0" r="0.60" fill="#ecd8d0"/>
<circle cx="470.6" cy="697.0" r="0.60" fill="#ecd8d0"/>
<circle cx="499.4" cy="697.0" r="0.60" fill="#ecd8d0"/>
<circle cx="528.3" cy="697.0" r="0.60" fill="#ecd8d0"/>
<circle cx="557.2" cy="697.0" r="0.60" fill="#ecd8d0"/>
<circle cx="586.0" cy="697.0" r="0.60" fill="#ecd8d0"/>
<circle cx="614.9" cy="697.0" r="3.50" fill="#bd6b50"/>
<circle cx="643.8" cy="697.0" r="0.60" fill="#ecd8d0"/>
<circle cx="672.7" cy="697.0" r="0.60" fill="#ecd8d0"/>
<circle cx="701.5" cy="697.0" r="0.60" fill="#ecd8d0"/>
<circle cx="730.4" cy="697.0" r="0.60" fill="#ecd8d0"/>
<circle cx="759.3" cy="697.0" r="0.60" fill="#ecd8d0"/>
<circle cx="788.1" cy="697.0" r="0.60" fill="#ecd8d0"/>
<circle cx="153.0" cy="713.8" r="0.60" fill="#ecd8d0"/>
<circle cx="181.9" cy="713.8" r="0.60" fill="#ecd8d0"/>
<circle cx="210.7" cy="713.8" r="1.15" fill="#dfb5a6"/>
<circle cx="239.6" cy="713.8" r="0.60" fill="#ecd8d0"/>
<circle cx="268.5" cy="713.8" r="1.60" fill="#b95f44"/>
<circle cx="297.4" cy="713.8" r="0.60" fill="#ecd8d0"/>
<circle cx="326.2" cy="713.8" r="0.60" fill="#ecd8d0"/>
<circle cx="355.1" cy="713.8" r="0.60" fill="#ecd8d0"/>
<circle cx="384.0" cy="713.8" r="0.60" fill="#ecd8d0"/>
<circle cx="412.8" cy="713.8" r="0.60" fill="#ecd8d0"/>
<circle cx="441.7" cy="713.8" r="0.60" fill="#ecd8d0"/>
<circle cx="470.6" cy="713.8" r="1.15" fill="#dfb5a6"/>
<circle cx="499.4" cy="713.8" r="1.15" fill="#dfb5a6"/>
<circle cx="528.3" cy="713.8" r="0.60" fill="#ecd8d0"/>
<circle cx="557.2" cy="713.8" r="0.60" fill="#ecd8d0"/>
<circle cx="586.0" cy="713.8" r="0.60" fill="#ecd8d0"/>
<circle cx="614.9" cy="713.8" r="3.50" fill="#bd6b50"/>
<circle cx="643.8" cy="713.8" r="1.15" fill="#dfb5a6"/>
<circle cx="672.7" cy="713.8" r="0.60" fill="#ecd8d0"/>
<circle cx="701.5" cy="713.8" r="0.60" fill="#ecd8d0"/>
<circle cx="730.4" cy="713.8" r="1.15" fill="#dfb5a6"/>
<circle cx="759.3" cy="713.8" r="0.60" fill="#ecd8d0"/>
<circle cx="788.1" cy="713.8" r="0.60" fill="#ecd8d0"/>
<circle cx="153.0" cy="730.5" r="1.15" fill="#dfb5a6"/>
<circle cx="181.9" cy="730.5" r="0.60" fill="#ecd8d0"/>
<circle cx="210.7" cy="730.5" r="0.60" fill="#ecd8d0"/>
<circle cx="239.6" cy="730.5" r="0.60" fill="#ecd8d0"/>
<circle cx="268.5" cy="730.5" r="0.60" fill="#ecd8d0"/>
<circle cx="297.4" cy="730.5" r="0.60" fill="#ecd8d0"/>
<circle cx="326.2" cy="730.5" r="0.60" fill="#ecd8d0"/>
<circle cx="355.1" cy="730.5" r="0.60" fill="#ecd8d0"/>
<circle cx="384.0" cy="730.5" r="0.60" fill="#ecd8d0"/>
<circle cx="412.8" cy="730.5" r="0.60" fill="#ecd8d0"/>
<circle cx="441.7" cy="730.5" r="0.60" fill="#ecd8d0"/>
<circle cx="470.6" cy="730.5" r="1.15" fill="#dfb5a6"/>
<circle cx="499.4" cy="730.5" r="0.60" fill="#ecd8d0"/>
<circle cx="528.3" cy="730.5" r="0.60" fill="#ecd8d0"/>
<circle cx="557.2" cy="730.5" r="0.60" fill="#ecd8d0"/>
<circle cx="586.0" cy="730.5" r="0.60" fill="#ecd8d0"/>
<circle cx="614.9" cy="730.5" r="3.50" fill="#bd6b50"/>
<circle cx="643.8" cy="730.5" r="0.60" fill="#ecd8d0"/>
<circle cx="672.7" cy="730.5" r="0.60" fill="#ecd8d0"/>
<circle cx="701.5" cy="730.5" r="1.15" fill="#dfb5a6"/>
<circle cx="730.4" cy="730.5" r="1.15" fill="#dfb5a6"/>
<circle cx="759.3" cy="730.5" r="0.60" fill="#ecd8d0"/>
<circle cx="788.1" cy="730.5" r="0.60" fill="#ecd8d0"/>
<circle cx="153.0" cy="747.3" r="0.60" fill="#ecd8d0"/>
<circle cx="181.9" cy="747.3" r="0.60" fill="#ecd8d0"/>
<circle cx="210.7" cy="747.3" r="0.60" fill="#ecd8d0"/>
<circle cx="239.6" cy="747.3" r="0.60" fill="#ecd8d0"/>
<circle cx="268.5" cy="747.3" r="0.60" fill="#ecd8d0"/>
<circle cx="297.4" cy="747.3" r="0.60" fill="#ecd8d0"/>
<circle cx="326.2" cy="747.3" r="0.60" fill="#ecd8d0"/>
<circle cx="355.1" cy="747.3" r="0.60" fill="#ecd8d0"/>
<circle cx="384.0" cy="747.3" r="0.60" fill="#ecd8d0"/>
<circle cx="412.8" cy="747.3" r="0.60" fill="#ecd8d0"/>
<circle cx="441.7" cy="747.3" r="0.60" fill="#ecd8d0"/>
<circle cx="470.6" cy="747.3" r="0.60" fill="#ecd8d0"/>
<circle cx="499.4" cy="747.3" r="0.60" fill="#ecd8d0"/>
<circle cx="528.3" cy="747.3" r="0.60" fill="#ecd8d0"/>
<circle cx="557.2" cy="747.3" r="0.60" fill="#ecd8d0"/>
<circle cx="586.0" cy="747.3" r="2.05" fill="#b95f44"/>
<circle cx="614.9" cy="747.3" r="0.60" fill="#ecd8d0"/>
<circle cx="643.8" cy="747.3" r="0.60" fill="#ecd8d0"/>
<circle cx="672.7" cy="747.3" r="0.60" fill="#ecd8d0"/>
<circle cx="701.5" cy="747.3" r="0.60" fill="#ecd8d0"/>
<circle cx="730.4" cy="747.3" r="0.60" fill="#ecd8d0"/>
<circle cx="759.3" cy="747.3" r="0.60" fill="#ecd8d0"/>
<circle cx="788.1" cy="747.3" r="0.60" fill="#ecd8d0"/>
<circle cx="153.0" cy="764.1" r="0.60" fill="#ecd8d0"/>
<circle cx="181.9" cy="764.1" r="0.60" fill="#ecd8d0"/>
<circle cx="210.7" cy="764.1" r="0.60" fill="#ecd8d0"/>
<circle cx="239.6" cy="764.1" r="0.60" fill="#ecd8d0"/>
<circle cx="268.5" cy="764.1" r="0.60" fill="#ecd8d0"/>
<circle cx="297.4" cy="764.1" r="0.60" fill="#ecd8d0"/>
<circle cx="326.2" cy="764.1" r="0.60" fill="#ecd8d0"/>
<circle cx="355.1" cy="764.1" r="0.60" fill="#ecd8d0"/>
<circle cx="384.0" cy="764.1" r="0.60" fill="#ecd8d0"/>
<circle cx="412.8" cy="764.1" r="0.60" fill="#ecd8d0"/>
<circle cx="441.7" cy="764.1" r="0.60" fill="#ecd8d0"/>
<circle cx="470.6" cy="764.1" r="0.60" fill="#ecd8d0"/>
<circle cx="499.4" cy="764.1" r="0.60" fill="#ecd8d0"/>
<circle cx="528.3" cy="764.1" r="0.60" fill="#ecd8d0"/>
<circle cx="557.2" cy="764.1" r="0.60" fill="#ecd8d0"/>
<circle cx="586.0" cy="764.1" r="2.80" fill="#c07258"/>
<circle cx="614.9" cy="764.1" r="0.60" fill="#ecd8d0"/>
<circle cx="643.8" cy="764.1" r="0.60" fill="#ecd8d0"/>
<circle cx="672.7" cy="764.1" r="1.15" fill="#dfb5a6"/>
<circle cx="701.5" cy="764.1" r="0.60" fill="#ecd8d0"/>
<circle cx="730.4" cy="764.1" r="0.60" fill="#ecd8d0"/>
<circle cx="759.3" cy="764.1" r="0.60" fill="#ecd8d0"/>
<circle cx="788.1" cy="764.1" r="0.60" fill="#ecd8d0"/>
<circle cx="153.0" cy="780.9" r="0.60" fill="#ecd8d0"/>
<circle cx="181.9" cy="780.9" r="0.60" fill="#ecd8d0"/>
<circle cx="210.7" cy="780.9" r="0.60" fill="#ecd8d0"/>
<circle cx="239.6" cy="780.9" r="2.05" fill="#c67c62"/>
<circle cx="268.5" cy="780.9" r="1.15" fill="#dfb5a6"/>
<circle cx="297.4" cy="780.9" r="0.60" fill="#ecd8d0"/>
<circle cx="326.2" cy="780.9" r="0.60" fill="#ecd8d0"/>
<circle cx="355.1" cy="780.9" r="0.60" fill="#ecd8d0"/>
<circle cx="384.0" cy="780.9" r="1.60" fill="#cf8e77"/>
<circle cx="412.8" cy="780.9" r="1.15" fill="#dfb5a6"/>
<circle cx="441.7" cy="780.9" r="0.60" fill="#ecd8d0"/>
<circle cx="470.6" cy="780.9" r="0.60" fill="#ecd8d0"/>
<circle cx="499.4" cy="780.9" r="0.60" fill="#ecd8d0"/>
<circle cx="528.3" cy="780.9" r="0.60" fill="#ecd8d0"/>
<circle cx="557.2" cy="780.9" r="0.60" fill="#ecd8d0"/>
<circle cx="586.0" cy="780.9" r="4.10" fill="#bb674b"/>
<circle cx="614.9" cy="780.9" r="0.60" fill="#ecd8d0"/>
<circle cx="643.8" cy="780.9" r="1.60" fill="#cf8e77"/>
<circle cx="672.7" cy="780.9" r="2.05" fill="#c67c62"/>
<circle cx="701.5" cy="780.9" r="0.60" fill="#ecd8d0"/>
<circle cx="730.4" cy="780.9" r="2.05" fill="#c67c62"/>
<circle cx="759.3" cy="780.9" r="0.60" fill="#ecd8d0"/>
<circle cx="788.1" cy="780.9" r="0.60" fill="#ecd8d0"/>
<circle cx="153.0" cy="797.7" r="0.60" fill="#ecd8d0"/>
<circle cx="181.9" cy="797.7" r="0.60" fill="#ecd8d0"/>
<circle cx="210.7" cy="797.7" r="0.60" fill="#ecd8d0"/>
<circle cx="239.6" cy="797.7" r="0.60" fill="#ecd8d0"/>
<circle cx="268.5" cy="797.7" r="0.60" fill="#ecd8d0"/>
<circle cx="297.4" cy="797.7" r="0.60" fill="#ecd8d0"/>
<circle cx="326.2" cy="797.7" r="0.60" fill="#ecd8d0"/>
<circle cx="355.1" cy="797.7" r="0.60" fill="#ecd8d0"/>
<circle cx="384.0" cy="797.7" r="0.60" fill="#ecd8d0"/>
<circle cx="412.8" cy="797.7" r="0.60" fill="#ecd8d0"/>
<circle cx="441.7" cy="797.7" r="0.60" fill="#ecd8d0"/>
<circle cx="470.6" cy="797.7" r="0.60" fill="#ecd8d0"/>
<circle cx="499.4" cy="797.7" r="0.60" fill="#ecd8d0"/>
<circle cx="528.3" cy="797.7" r="0.60" fill="#ecd8d0"/>
<circle cx="557.2" cy="797.7" r="2.05" fill="#b95f44"/>
<circle cx="586.0" cy="797.7" r="0.60" fill="#ecd8d0"/>
<circle cx="614.9" cy="797.7" r="0.60" fill="#ecd8d0"/>
<circle cx="643.8" cy="797.7" r="0.60" fill="#ecd8d0"/>
<circle cx="672.7" cy="797.7" r="0.60" fill="#ecd8d0"/>
<circle cx="701.5" cy="797.7" r="0.60" fill="#ecd8d0"/>
<circle cx="730.4" cy="797.7" r="0.60" fill="#ecd8d0"/>
<circle cx="759.3" cy="797.7" r="0.60" fill="#ecd8d0"/>
<circle cx="788.1" cy="797.7" r="0.60" fill="#ecd8d0"/>
<circle cx="153.0" cy="814.5" r="0.60" fill="#ecd8d0"/>
<circle cx="181.9" cy="814.5" r="0.60" fill="#ecd8d0"/>
<circle cx="210.7" cy="814.5" r="0.60" fill="#ecd8d0"/>
<circle cx="239.6" cy="814.5" r="0.60" fill="#ecd8d0"/>
<circle cx="268.5" cy="814.5" r="0.60" fill="#ecd8d0"/>
<circle cx="297.4" cy="814.5" r="0.60" fill="#ecd8d0"/>
<circle cx="326.2" cy="814.5" r="0.60" fill="#ecd8d0"/>
<circle cx="355.1" cy="814.5" r="2.05" fill="#c67c62"/>
<circle cx="384.0" cy="814.5" r="0.60" fill="#ecd8d0"/>
<circle cx="412.8" cy="814.5" r="0.60" fill="#ecd8d0"/>
<circle cx="441.7" cy="814.5" r="0.60" fill="#ecd8d0"/>
<circle cx="470.6" cy="814.5" r="0.60" fill="#ecd8d0"/>
<circle cx="499.4" cy="814.5" r="2.80" fill="#c07258"/>
<circle cx="528.3" cy="814.5" r="0.60" fill="#ecd8d0"/>
<circle cx="557.2" cy="814.5" r="3.50" fill="#bd6b50"/>
<circle cx="586.0" cy="814.5" r="0.60" fill="#ecd8d0"/>
<circle cx="614.9" cy="814.5" r="0.60" fill="#ecd8d0"/>
<circle cx="643.8" cy="814.5" r="0.60" fill="#ecd8d0"/>
<circle cx="672.7" cy="814.5" r="0.60" fill="#ecd8d0"/>
<circle cx="701.5" cy="814.5" r="0.60" fill="#ecd8d0"/>
<circle cx="730.4" cy="814.5" r="0.60" fill="#ecd8d0"/>
<circle cx="759.3" cy="814.5" r="0.60" fill="#ecd8d0"/>
<circle cx="788.1" cy="814.5" r="0.60" fill="#ecd8d0"/>
<circle cx="153.0" cy="831.3" r="0.60" fill="#ecd8d0"/>
<circle cx="181.9" cy="831.3" r="0.60" fill="#ecd8d0"/>
<circle cx="210.7" cy="831.3" r="0.60" fill="#ecd8d0"/>
<circle cx="239.6" cy="831.3" r="0.60" fill="#ecd8d0"/>
<circle cx="268.5" cy="831.3" r="0.60" fill="#ecd8d0"/>
<circle cx="297.4" cy="831.3" r="0.60" fill="#ecd8d0"/>
<circle cx="326.2" cy="831.3" r="0.60" fill="#ecd8d0"/>
<circle cx="355.1" cy="831.3" r="0.60" fill="#ecd8d0"/>
<circle cx="384.0" cy="831.3" r="0.60" fill="#ecd8d0"/>
<circle cx="412.8" cy="831.3" r="0.60" fill="#ecd8d0"/>
<circle cx="441.7" cy="831.3" r="0.60" fill="#ecd8d0"/>
<circle cx="470.6" cy="831.3" r="0.60" fill="#ecd8d0"/>
<circle cx="499.4" cy="831.3" r="1.15" fill="#dfb5a6"/>
<circle cx="528.3" cy="831.3" r="0.60" fill="#ecd8d0"/>
<circle cx="557.2" cy="831.3" r="3.50" fill="#bd6b50"/>
<circle cx="586.0" cy="831.3" r="0.60" fill="#ecd8d0"/>
<circle cx="614.9" cy="831.3" r="0.60" fill="#ecd8d0"/>
<circle cx="643.8" cy="831.3" r="0.60" fill="#ecd8d0"/>
<circle cx="672.7" cy="831.3" r="0.60" fill="#ecd8d0"/>
<circle cx="701.5" cy="831.3" r="0.60" fill="#ecd8d0"/>
<circle cx="730.4" cy="831.3" r="0.60" fill="#ecd8d0"/>
<circle cx="759.3" cy="831.3" r="0.60" fill="#ecd8d0"/>
<circle cx="788.1" cy="831.3" r="0.60" fill="#ecd8d0"/>
<circle cx="153.0" cy="848.1" r="0.60" fill="#ecd8d0"/>
<circle cx="181.9" cy="848.1" r="0.60" fill="#ecd8d0"/>
<circle cx="210.7" cy="848.1" r="1.15" fill="#b95f44"/>
<circle cx="239.6" cy="848.1" r="0.60" fill="#ecd8d0"/>
<circle cx="268.5" cy="848.1" r="0.60" fill="#ecd8d0"/>
<circle cx="297.4" cy="848.1" r="0.60" fill="#ecd8d0"/>
<circle cx="326.2" cy="848.1" r="0.60" fill="#ecd8d0"/>
<circle cx="355.1" cy="848.1" r="0.60" fill="#ecd8d0"/>
<circle cx="384.0" cy="848.1" r="0.60" fill="#ecd8d0"/>
<circle cx="412.8" cy="848.1" r="0.60" fill="#ecd8d0"/>
<circle cx="441.7" cy="848.1" r="0.60" fill="#ecd8d0"/>
<circle cx="470.6" cy="848.1" r="1.15" fill="#dfb5a6"/>
<circle cx="499.4" cy="848.1" r="1.15" fill="#dfb5a6"/>
<circle cx="528.3" cy="848.1" r="1.60" fill="#b95f44"/>
<circle cx="557.2" cy="848.1" r="0.60" fill="#ecd8d0"/>
<circle cx="586.0" cy="848.1" r="0.60" fill="#ecd8d0"/>
<circle cx="614.9" cy="848.1" r="0.60" fill="#ecd8d0"/>
<circle cx="643.8" cy="848.1" r="0.60" fill="#ecd8d0"/>
<circle cx="672.7" cy="848.1" r="0.60" fill="#ecd8d0"/>
<circle cx="701.5" cy="848.1" r="0.60" fill="#ecd8d0"/>
<circle cx="730.4" cy="848.1" r="0.60" fill="#ecd8d0"/>
<circle cx="759.3" cy="848.1" r="0.60" fill="#ecd8d0"/>
<circle cx="788.1" cy="848.1" r="0.60" fill="#ecd8d0"/>
<circle cx="153.0" cy="864.9" r="0.60" fill="#ecd8d0"/>
<circle cx="181.9" cy="864.9" r="0.60" fill="#ecd8d0"/>
<circle cx="210.7" cy="864.9" r="0.60" fill="#ecd8d0"/>
<circle cx="239.6" cy="864.9" r="0.60" fill="#ecd8d0"/>
<circle cx="268.5" cy="864.9" r="0.60" fill="#ecd8d0"/>
<circle cx="297.4" cy="864.9" r="0.60" fill="#ecd8d0"/>
<circle cx="326.2" cy="864.9" r="0.60" fill="#ecd8d0"/>
<circle cx="355.1" cy="864.9" r="0.60" fill="#ecd8d0"/>
<circle cx="384.0" cy="864.9" r="0.60" fill="#ecd8d0"/>
<circle cx="412.8" cy="864.9" r="0.60" fill="#ecd8d0"/>
<circle cx="441.7" cy="864.9" r="0.60" fill="#ecd8d0"/>
<circle cx="470.6" cy="864.9" r="0.60" fill="#ecd8d0"/>
<circle cx="499.4" cy="864.9" r="0.60" fill="#ecd8d0"/>
<circle cx="528.3" cy="864.9" r="2.80" fill="#c07258"/>
<circle cx="557.2" cy="864.9" r="0.60" fill="#ecd8d0"/>
<circle cx="586.0" cy="864.9" r="0.60" fill="#ecd8d0"/>
<circle cx="614.9" cy="864.9" r="0.60" fill="#ecd8d0"/>
<circle cx="643.8" cy="864.9" r="0.60" fill="#ecd8d0"/>
<circle cx="672.7" cy="864.9" r="0.60" fill="#ecd8d0"/>
<circle cx="701.5" cy="864.9" r="0.60" fill="#ecd8d0"/>
<circle cx="730.4" cy="864.9" r="0.60" fill="#ecd8d0"/>
<circle cx="759.3" cy="864.9" r="0.60" fill="#ecd8d0"/>
<circle cx="788.1" cy="864.9" r="0.60" fill="#ecd8d0"/>
<circle cx="153.0" cy="881.6" r="0.60" fill="#ecd8d0"/>
<circle cx="181.9" cy="881.6" r="0.60" fill="#ecd8d0"/>
<circle cx="210.7" cy="881.6" r="0.60" fill="#ecd8d0"/>
<circle cx="239.6" cy="881.6" r="0.60" fill="#ecd8d0"/>
<circle cx="268.5" cy="881.6" r="0.60" fill="#ecd8d0"/>
<circle cx="297.4" cy="881.6" r="0.60" fill="#ecd8d0"/>
<circle cx="326.2" cy="881.6" r="0.60" fill="#ecd8d0"/>
<circle cx="355.1" cy="881.6" r="1.60" fill="#b95f44"/>
<circle cx="384.0" cy="881.6" r="0.60" fill="#ecd8d0"/>
<circle cx="412.8" cy="881.6" r="0.60" fill="#ecd8d0"/>
<circle cx="441.7" cy="881.6" r="0.60" fill="#ecd8d0"/>
<circle cx="470.6" cy="881.6" r="0.60" fill="#ecd8d0"/>
<circle cx="499.4" cy="881.6" r="1.60" fill="#b95f44"/>
<circle cx="528.3" cy="881.6" r="0.60" fill="#ecd8d0"/>
<circle cx="557.2" cy="881.6" r="0.60" fill="#ecd8d0"/>
<circle cx="586.0" cy="881.6" r="0.60" fill="#ecd8d0"/>
<circle cx="614.9" cy="881.6" r="0.60" fill="#ecd8d0"/>
<circle cx="643.8" cy="881.6" r="0.60" fill="#ecd8d0"/>
<circle cx="672.7" cy="881.6" r="0.60" fill="#ecd8d0"/>
<circle cx="701.5" cy="881.6" r="0.60" fill="#ecd8d0"/>
<circle cx="730.4" cy="881.6" r="0.60" fill="#ecd8d0"/>
<circle cx="759.3" cy="881.6" r="0.60" fill="#ecd8d0"/>
<circle cx="788.1" cy="881.6" r="0.60" fill="#ecd8d0"/>
<circle cx="153.0" cy="898.4" r="2.80" fill="#c07258"/>
<circle cx="181.9" cy="898.4" r="0.60" fill="#ecd8d0"/>
<circle cx="210.7" cy="898.4" r="0.60" fill="#ecd8d0"/>
<circle cx="239.6" cy="898.4" r="0.60" fill="#ecd8d0"/>
<circle cx="268.5" cy="898.4" r="0.60" fill="#ecd8d0"/>
<circle cx="297.4" cy="898.4" r="0.60" fill="#ecd8d0"/>
<circle cx="326.2" cy="898.4" r="0.60" fill="#ecd8d0"/>
<circle cx="355.1" cy="898.4" r="1.60" fill="#cf8e77"/>
<circle cx="384.0" cy="898.4" r="0.60" fill="#ecd8d0"/>
<circle cx="412.8" cy="898.4" r="0.60" fill="#ecd8d0"/>
<circle cx="441.7" cy="898.4" r="1.15" fill="#dfb5a6"/>
<circle cx="470.6" cy="898.4" r="2.80" fill="#c07258"/>
<circle cx="499.4" cy="898.4" r="2.05" fill="#c67c62"/>
<circle cx="528.3" cy="898.4" r="0.60" fill="#ecd8d0"/>
<circle cx="557.2" cy="898.4" r="1.15" fill="#dfb5a6"/>
<circle cx="586.0" cy="898.4" r="0.60" fill="#ecd8d0"/>
<circle cx="614.9" cy="898.4" r="0.60" fill="#ecd8d0"/>
<circle cx="643.8" cy="898.4" r="0.60" fill="#ecd8d0"/>
<circle cx="672.7" cy="898.4" r="0.60" fill="#ecd8d0"/>
<circle cx="701.5" cy="898.4" r="2.80" fill="#c07258"/>
<circle cx="730.4" cy="898.4" r="2.80" fill="#c07258"/>
<circle cx="759.3" cy="898.4" r="0.60" fill="#ecd8d0"/>
<circle cx="788.1" cy="898.4" r="0.60" fill="#ecd8d0"/>
<circle cx="153.0" cy="915.2" r="1.15" fill="#dfb5a6"/>
<circle cx="181.9" cy="915.2" r="1.15" fill="#dfb5a6"/>
<circle cx="210.7" cy="915.2" r="1.15" fill="#dfb5a6"/>
<circle cx="239.6" cy="915.2" r="1.15" fill="#dfb5a6"/>
<circle cx="268.5" cy="915.2" r="1.15" fill="#dfb5a6"/>
<circle cx="297.4" cy="915.2" r="1.60" fill="#cf8e77"/>
<circle cx="326.2" cy="915.2" r="4.10" fill="#bb674b"/>
<circle cx="355.1" cy="915.2" r="1.15" fill="#dfb5a6"/>
<circle cx="384.0" cy="915.2" r="1.15" fill="#dfb5a6"/>
<circle cx="412.8" cy="915.2" r="1.15" fill="#dfb5a6"/>
<circle cx="441.7" cy="915.2" r="4.10" fill="#bb674b"/>
<circle cx="470.6" cy="915.2" r="1.15" fill="#dfb5a6"/>
<circle cx="499.4" cy="915.2" r="1.15" fill="#dfb5a6"/>
<circle cx="528.3" cy="915.2" r="1.15" fill="#dfb5a6"/>
<circle cx="557.2" cy="915.2" r="1.15" fill="#dfb5a6"/>
<circle cx="586.0" cy="915.2" r="1.15" fill="#dfb5a6"/>
<circle cx="614.9" cy="915.2" r="1.15" fill="#dfb5a6"/>
<circle cx="643.8" cy="915.2" r="1.15" fill="#dfb5a6"/>
<circle cx="672.7" cy="915.2" r="1.15" fill="#dfb5a6"/>
<circle cx="701.5" cy="915.2" r="1.15" fill="#dfb5a6"/>
<circle cx="730.4" cy="915.2" r="1.15" fill="#dfb5a6"/>
<circle cx="759.3" cy="915.2" r="1.15" fill="#dfb5a6"/>
<circle cx="788.1" cy="915.2" r="1.60" fill="#cf8e77"/>
<circle cx="153.0" cy="932.0" r="1.15" fill="#dfb5a6"/>
<circle cx="181.9" cy="932.0" r="1.15" fill="#dfb5a6"/>
<circle cx="210.7" cy="932.0" r="1.15" fill="#dfb5a6"/>
<circle cx="239.6" cy="932.0" r="1.15" fill="#dfb5a6"/>
<circle cx="268.5" cy="932.0" r="1.15" fill="#dfb5a6"/>
<circle cx="297.4" cy="932.0" r="1.60" fill="#cf8e77"/>
<circle cx="326.2" cy="932.0" r="4.10" fill="#bb674b"/>
<circle cx="355.1" cy="932.0" r="1.15" fill="#dfb5a6"/>
<circle cx="384.0" cy="932.0" r="1.15" fill="#dfb5a6"/>
<circle cx="412.8" cy="932.0" r="1.15" fill="#dfb5a6"/>
<circle cx="441.7" cy="932.0" r="4.10" fill="#bb674b"/>
<circle cx="470.6" cy="932.0" r="1.15" fill="#dfb5a6"/>
<circle cx="499.4" cy="932.0" r="1.15" fill="#dfb5a6"/>
<circle cx="528.3" cy="932.0" r="1.15" fill="#dfb5a6"/>
<circle cx="557.2" cy="932.0" r="2.80" fill="#c07258"/>
<circle cx="586.0" cy="932.0" r="1.15" fill="#dfb5a6"/>
<circle cx="614.9" cy="932.0" r="1.15" fill="#dfb5a6"/>
<circle cx="643.8" cy="932.0" r="1.15" fill="#dfb5a6"/>
<circle cx="672.7" cy="932.0" r="1.15" fill="#dfb5a6"/>
<circle cx="701.5" cy="932.0" r="1.15" fill="#dfb5a6"/>
<circle cx="730.4" cy="932.0" r="1.15" fill="#dfb5a6"/>
<circle cx="759.3" cy="932.0" r="1.15" fill="#dfb5a6"/>
<circle cx="788.1" cy="932.0" r="1.60" fill="#cf8e77"/>
<circle cx="153.0" cy="948.8" r="0.60" fill="#ecd8d0"/>
<circle cx="181.9" cy="948.8" r="0.60" fill="#ecd8d0"/>
<circle cx="210.7" cy="948.8" r="0.60" fill="#ecd8d0"/>
<circle cx="239.6" cy="948.8" r="0.60" fill="#ecd8d0"/>
<circle cx="268.5" cy="948.8" r="0.60" fill="#ecd8d0"/>
<circle cx="297.4" cy="948.8" r="0.60" fill="#ecd8d0"/>
<circle cx="326.2" cy="948.8" r="1.15" fill="#b95f44"/>
<circle cx="355.1" cy="948.8" r="0.60" fill="#ecd8d0"/>
<circle cx="384.0" cy="948.8" r="0.60" fill="#ecd8d0"/>
<circle cx="412.8" cy="948.8" r="2.05" fill="#b95f44"/>
<circle cx="441.7" cy="948.8" r="1.15" fill="#dfb5a6"/>
<circle cx="470.6" cy="948.8" r="0.60" fill="#ecd8d0"/>
<circle cx="499.4" cy="948.8" r="0.60" fill="#ecd8d0"/>
<circle cx="528.3" cy="948.8" r="0.60" fill="#ecd8d0"/>
<circle cx="557.2" cy="948.8" r="0.60" fill="#ecd8d0"/>
<circle cx="586.0" cy="948.8" r="0.60" fill="#ecd8d0"/>
<circle cx="614.9" cy="948.8" r="0.60" fill="#ecd8d0"/>
<circle cx="643.8" cy="948.8" r="0.60" fill="#ecd8d0"/>
<circle cx="672.7" cy="948.8" r="0.60" fill="#ecd8d0"/>
<circle cx="701.5" cy="948.8" r="0.60" fill="#ecd8d0"/>
<circle cx="730.4" cy="948.8" r="0.60" fill="#ecd8d0"/>
<circle cx="759.3" cy="948.8" r="0.60" fill="#ecd8d0"/>
<circle cx="788.1" cy="948.8" r="0.60" fill="#ecd8d0"/>
<circle cx="153.0" cy="965.6" r="0.60" fill="#ecd8d0"/>
<circle cx="181.9" cy="965.6" r="0.60" fill="#ecd8d0"/>
<circle cx="210.7" cy="965.6" r="0.60" fill="#ecd8d0"/>
<circle cx="239.6" cy="965.6" r="0.60" fill="#ecd8d0"/>
<circle cx="268.5" cy="965.6" r="1.15" fill="#dfb5a6"/>
<circle cx="297.4" cy="965.6" r="1.15" fill="#dfb5a6"/>
<circle cx="326.2" cy="965.6" r="0.60" fill="#ecd8d0"/>
<circle cx="355.1" cy="965.6" r="2.05" fill="#c67c62"/>
<circle cx="384.0" cy="965.6" r="0.60" fill="#ecd8d0"/>
<circle cx="412.8" cy="965.6" r="2.80" fill="#c07258"/>
<circle cx="441.7" cy="965.6" r="0.60" fill="#ecd8d0"/>
<circle cx="470.6" cy="965.6" r="1.15" fill="#dfb5a6"/>
<circle cx="499.4" cy="965.6" r="2.05" fill="#c67c62"/>
<circle cx="528.3" cy="965.6" r="3.50" fill="#bd6b50"/>
<circle cx="557.2" cy="965.6" r="1.60" fill="#cf8e77"/>
<circle cx="586.0" cy="965.6" r="0.60" fill="#ecd8d0"/>
<circle cx="614.9" cy="965.6" r="1.60" fill="#cf8e77"/>
<circle cx="643.8" cy="965.6" r="0.60" fill="#ecd8d0"/>
<circle cx="672.7" cy="965.6" r="0.60" fill="#ecd8d0"/>
<circle cx="701.5" cy="965.6" r="0.60" fill="#ecd8d0"/>
<circle cx="730.4" cy="965.6" r="0.60" fill="#ecd8d0"/>
<circle cx="759.3" cy="965.6" r="0.60" fill="#ecd8d0"/>
<circle cx="788.1" cy="965.6" r="0.60" fill="#ecd8d0"/>
<circle cx="153.0" cy="982.4" r="0.60" fill="#ecd8d0"/>
<circle cx="181.9" cy="982.4" r="0.60" fill="#ecd8d0"/>
<circle cx="210.7" cy="982.4" r="0.60" fill="#ecd8d0"/>
<circle cx="239.6" cy="982.4" r="0.60" fill="#ecd8d0"/>
<circle cx="268.5" cy="982.4" r="0.60" fill="#ecd8d0"/>
<circle cx="297.4" cy="982.4" r="1.15" fill="#dfb5a6"/>
<circle cx="326.2" cy="982.4" r="0.60" fill="#ecd8d0"/>
<circle cx="355.1" cy="982.4" r="0.60" fill="#ecd8d0"/>
<circle cx="384.0" cy="982.4" r="0.60" fill="#ecd8d0"/>
<circle cx="412.8" cy="982.4" r="3.50" fill="#bd6b50"/>
<circle cx="441.7" cy="982.4" r="0.60" fill="#ecd8d0"/>
<circle cx="470.6" cy="982.4" r="0.60" fill="#ecd8d0"/>
<circle cx="499.4" cy="982.4" r="0.60" fill="#ecd8d0"/>
<circle cx="528.3" cy="982.4" r="0.60" fill="#ecd8d0"/>
<circle cx="557.2" cy="982.4" r="0.60" fill="#ecd8d0"/>
<circle cx="586.0" cy="982.4" r="0.60" fill="#ecd8d0"/>
<circle cx="614.9" cy="982.4" r="0.60" fill="#ecd8d0"/>
<circle cx="643.8" cy="982.4" r="0.60" fill="#ecd8d0"/>
<circle cx="672.7" cy="982.4" r="0.60" fill="#ecd8d0"/>
<circle cx="701.5" cy="982.4" r="0.60" fill="#ecd8d0"/>
<circle cx="730.4" cy="982.4" r="0.60" fill="#ecd8d0"/>
<circle cx="759.3" cy="982.4" r="0.60" fill="#ecd8d0"/>
<circle cx="788.1" cy="982.4" r="1.15" fill="#dfb5a6"/>
<circle cx="153.0" cy="999.2" r="0.60" fill="#ecd8d0"/>
<circle cx="181.9" cy="999.2" r="0.60" fill="#ecd8d0"/>
<circle cx="210.7" cy="999.2" r="0.60" fill="#ecd8d0"/>
<circle cx="239.6" cy="999.2" r="0.60" fill="#ecd8d0"/>
<circle cx="268.5" cy="999.2" r="0.60" fill="#ecd8d0"/>
<circle cx="297.4" cy="999.2" r="0.60" fill="#ecd8d0"/>
<circle cx="326.2" cy="999.2" r="0.60" fill="#ecd8d0"/>
<circle cx="355.1" cy="999.2" r="0.60" fill="#ecd8d0"/>
<circle cx="384.0" cy="999.2" r="1.60" fill="#b95f44"/>
<circle cx="412.8" cy="999.2" r="0.60" fill="#ecd8d0"/>
<circle cx="441.7" cy="999.2" r="0.60" fill="#ecd8d0"/>
<circle cx="470.6" cy="999.2" r="0.60" fill="#ecd8d0"/>
<circle cx="499.4" cy="999.2" r="0.60" fill="#ecd8d0"/>
<circle cx="528.3" cy="999.2" r="0.60" fill="#ecd8d0"/>
<circle cx="557.2" cy="999.2" r="0.60" fill="#ecd8d0"/>
<circle cx="586.0" cy="999.2" r="0.60" fill="#ecd8d0"/>
<circle cx="614.9" cy="999.2" r="0.60" fill="#ecd8d0"/>
<circle cx="643.8" cy="999.2" r="1.15" fill="#b95f44"/>
<circle cx="672.7" cy="999.2" r="0.60" fill="#ecd8d0"/>
<circle cx="701.5" cy="999.2" r="0.60" fill="#ecd8d0"/>
<circle cx="730.4" cy="999.2" r="0.60" fill="#ecd8d0"/>
<circle cx="759.3" cy="999.2" r="0.60" fill="#ecd8d0"/>
<circle cx="788.1" cy="999.2" r="0.60" fill="#ecd8d0"/>
<circle cx="153.0" cy="1016.0" r="0.60" fill="#ecd8d0"/>
<circle cx="181.9" cy="1016.0" r="0.60" fill="#ecd8d0"/>
<circle cx="210.7" cy="1016.0" r="0.60" fill="#ecd8d0"/>
<circle cx="239.6" cy="1016.0" r="2.80" fill="#d09a87"/>
<circle cx="268.5" cy="1016.0" r="0.60" fill="#ecd8d0"/>
<circle cx="297.4" cy="1016.0" r="1.15" fill="#dfb5a6"/>
<circle cx="326.2" cy="1016.0" r="0.60" fill="#ecd8d0"/>
<circle cx="355.1" cy="1016.0" r="0.60" fill="#ecd8d0"/>
<circle cx="384.0" cy="1016.0" r="3.50" fill="#bd6b50"/>
<circle cx="412.8" cy="1016.0" r="0.60" fill="#ecd8d0"/>
<circle cx="441.7" cy="1016.0" r="1.15" fill="#dfb5a6"/>
<circle cx="470.6" cy="1016.0" r="0.60" fill="#ecd8d0"/>
<circle cx="499.4" cy="1016.0" r="1.15" fill="#dfb5a6"/>
<circle cx="528.3" cy="1016.0" r="0.60" fill="#ecd8d0"/>
<circle cx="557.2" cy="1016.0" r="0.60" fill="#ecd8d0"/>
<circle cx="586.0" cy="1016.0" r="3.50" fill="#bd6b50"/>
<circle cx="614.9" cy="1016.0" r="0.60" fill="#ecd8d0"/>
<circle cx="643.8" cy="1016.0" r="1.60" fill="#cf8e77"/>
<circle cx="672.7" cy="1016.0" r="3.50" fill="#bd6b50"/>
<circle cx="701.5" cy="1016.0" r="0.60" fill="#ecd8d0"/>
<circle cx="730.4" cy="1016.0" r="2.80" fill="#d09a87"/>
<circle cx="759.3" cy="1016.0" r="3.50" fill="#bd6b50"/>
<circle cx="788.1" cy="1016.0" r="0.60" fill="#ecd8d0"/>
<circle cx="153.0" cy="1032.8" r="0.60" fill="#ecd8d0"/>
<circle cx="181.9" cy="1032.8" r="0.60" fill="#ecd8d0"/>
<circle cx="210.7" cy="1032.8" r="0.60" fill="#ecd8d0"/>
<circle cx="239.6" cy="1032.8" r="0.60" fill="#ecd8d0"/>
<circle cx="268.5" cy="1032.8" r="0.60" fill="#ecd8d0"/>
<circle cx="297.4" cy="1032.8" r="0.60" fill="#ecd8d0"/>
<circle cx="326.2" cy="1032.8" r="0.60" fill="#ecd8d0"/>
<circle cx="355.1" cy="1032.8" r="0.60" fill="#ecd8d0"/>
<circle cx="384.0" cy="1032.8" r="3.50" fill="#bd6b50"/>
<circle cx="412.8" cy="1032.8" r="0.60" fill="#ecd8d0"/>
<circle cx="441.7" cy="1032.8" r="0.60" fill="#ecd8d0"/>
<circle cx="470.6" cy="1032.8" r="0.60" fill="#ecd8d0"/>
<circle cx="499.4" cy="1032.8" r="0.60" fill="#ecd8d0"/>
<circle cx="528.3" cy="1032.8" r="0.60" fill="#ecd8d0"/>
<circle cx="557.2" cy="1032.8" r="0.60" fill="#ecd8d0"/>
<circle cx="586.0" cy="1032.8" r="0.60" fill="#ecd8d0"/>
<circle cx="614.9" cy="1032.8" r="0.60" fill="#ecd8d0"/>
<circle cx="643.8" cy="1032.8" r="1.15" fill="#b95f44"/>
<circle cx="672.7" cy="1032.8" r="0.60" fill="#ecd8d0"/>
<circle cx="701.5" cy="1032.8" r="0.60" fill="#ecd8d0"/>
<circle cx="730.4" cy="1032.8" r="0.60" fill="#ecd8d0"/>
<circle cx="759.3" cy="1032.8" r="0.60" fill="#ecd8d0"/>
<circle cx="788.1" cy="1032.8" r="0.60" fill="#ecd8d0"/>
<circle cx="153.0" cy="1049.5" r="1.60" fill="#cf8e77"/>
<circle cx="181.9" cy="1049.5" r="0.60" fill="#ecd8d0"/>
<circle cx="210.7" cy="1049.5" r="0.60" fill="#ecd8d0"/>
<circle cx="239.6" cy="1049.5" r="0.60" fill="#ecd8d0"/>
<circle cx="268.5" cy="1049.5" r="0.60" fill="#ecd8d0"/>
<circle cx="297.4" cy="1049.5" r="0.60" fill="#ecd8d0"/>
<circle cx="326.2" cy="1049.5" r="0.60" fill="#ecd8d0"/>
<circle cx="355.1" cy="1049.5" r="2.80" fill="#c07258"/>
<circle cx="384.0" cy="1049.5" r="0.60" fill="#ecd8d0"/>
<circle cx="412.8" cy="1049.5" r="0.60" fill="#ecd8d0"/>
<circle cx="441.7" cy="1049.5" r="0.60" fill="#ecd8d0"/>
<circle cx="470.6" cy="1049.5" r="1.60" fill="#cf8e77"/>
<circle cx="499.4" cy="1049.5" r="3.50" fill="#bd6b50"/>
<circle cx="528.3" cy="1049.5" r="0.60" fill="#ecd8d0"/>
<circle cx="557.2" cy="1049.5" r="2.05" fill="#c67c62"/>
<circle cx="586.0" cy="1049.5" r="0.60" fill="#ecd8d0"/>
<circle cx="614.9" cy="1049.5" r="0.60" fill="#ecd8d0"/>
<circle cx="643.8" cy="1049.5" r="0.60" fill="#ecd8d0"/>
<circle cx="672.7" cy="1049.5" r="0.60" fill="#ecd8d0"/>
<circle cx="701.5" cy="1049.5" r="1.60" fill="#cf8e77"/>
<circle cx="730.4" cy="1049.5" r="1.60" fill="#cf8e77"/>
<circle cx="759.3" cy="1049.5" r="0.60" fill="#ecd8d0"/>
<circle cx="788.1" cy="1049.5" r="0.60" fill="#ecd8d0"/>
<circle cx="153.0" cy="1066.3" r="0.60" fill="#ecd8d0"/>
<circle cx="181.9" cy="1066.3" r="0.60" fill="#ecd8d0"/>
<circle cx="210.7" cy="1066.3" r="1.15" fill="#dfb5a6"/>
<circle cx="239.6" cy="1066.3" r="0.60" fill="#ecd8d0"/>
<circle cx="268.5" cy="1066.3" r="1.15" fill="#dfb5a6"/>
<circle cx="297.4" cy="1066.3" r="0.60" fill="#ecd8d0"/>
<circle cx="326.2" cy="1066.3" r="1.60" fill="#cf8e77"/>
<circle cx="355.1" cy="1066.3" r="3.50" fill="#bd6b50"/>
<circle cx="384.0" cy="1066.3" r="0.60" fill="#ecd8d0"/>
<circle cx="412.8" cy="1066.3" r="1.60" fill="#cf8e77"/>
<circle cx="441.7" cy="1066.3" r="1.15" fill="#dfb5a6"/>
<circle cx="470.6" cy="1066.3" r="1.60" fill="#cf8e77"/>
<circle cx="499.4" cy="1066.3" r="3.50" fill="#bd6b50"/>
<circle cx="528.3" cy="1066.3" r="0.60" fill="#ecd8d0"/>
<circle cx="557.2" cy="1066.3" r="2.05" fill="#c67c62"/>
<circle cx="586.0" cy="1066.3" r="0.60" fill="#ecd8d0"/>
<circle cx="614.9" cy="1066.3" r="0.60" fill="#ecd8d0"/>
<circle cx="643.8" cy="1066.3" r="1.15" fill="#dfb5a6"/>
<circle cx="672.7" cy="1066.3" r="0.60" fill="#ecd8d0"/>
<circle cx="701.5" cy="1066.3" r="0.60" fill="#ecd8d0"/>
<circle cx="730.4" cy="1066.3" r="0.60" fill="#ecd8d0"/>
<circle cx="759.3" cy="1066.3" r="0.60" fill="#ecd8d0"/>
<circle cx="788.1" cy="1066.3" r="0.60" fill="#ecd8d0"/>
<circle cx="153.0" cy="1083.1" r="0.60" fill="#ecd8d0"/>
<circle cx="181.9" cy="1083.1" r="0.60" fill="#ecd8d0"/>
<circle cx="210.7" cy="1083.1" r="0.60" fill="#ecd8d0"/>
<circle cx="239.6" cy="1083.1" r="1.15" fill="#dfb5a6"/>
<circle cx="268.5" cy="1083.1" r="0.60" fill="#ecd8d0"/>
<circle cx="297.4" cy="1083.1" r="0.60" fill="#ecd8d0"/>
<circle cx="326.2" cy="1083.1" r="0.60" fill="#ecd8d0"/>
<circle cx="355.1" cy="1083.1" r="3.50" fill="#bd6b50"/>
<circle cx="384.0" cy="1083.1" r="0.60" fill="#ecd8d0"/>
<circle cx="412.8" cy="1083.1" r="0.60" fill="#ecd8d0"/>
<circle cx="441.7" cy="1083.1" r="0.60" fill="#ecd8d0"/>
<circle cx="470.6" cy="1083.1" r="0.60" fill="#ecd8d0"/>
<circle cx="499.4" cy="1083.1" r="3.50" fill="#bd6b50"/>
<circle cx="528.3" cy="1083.1" r="0.60" fill="#ecd8d0"/>
<circle cx="557.2" cy="1083.1" r="1.60" fill="#cf8e77"/>
<circle cx="586.0" cy="1083.1" r="0.60" fill="#ecd8d0"/>
<circle cx="614.9" cy="1083.1" r="2.05" fill="#c67c62"/>
<circle cx="643.8" cy="1083.1" r="0.60" fill="#ecd8d0"/>
<circle cx="672.7" cy="1083.1" r="1.15" fill="#dfb5a6"/>
<circle cx="701.5" cy="1083.1" r="0.60" fill="#ecd8d0"/>
<circle cx="730.4" cy="1083.1" r="1.15" fill="#dfb5a6"/>
<circle cx="759.3" cy="1083.1" r="0.60" fill="#ecd8d0"/>
<circle cx="788.1" cy="1083.1" r="0.60" fill="#ecd8d0"/>
<circle cx="153.0" cy="1099.9" r="0.60" fill="#ecd8d0"/>
<circle cx="181.9" cy="1099.9" r="0.60" fill="#ecd8d0"/>
<circle cx="210.7" cy="1099.9" r="0.60" fill="#ecd8d0"/>
<circle cx="239.6" cy="1099.9" r="0.60" fill="#ecd8d0"/>
<circle cx="268.5" cy="1099.9" r="0.60" fill="#ecd8d0"/>
<circle cx="297.4" cy="1099.9" r="1.15" fill="#dfb5a6"/>
<circle cx="326.2" cy="1099.9" r="4.10" fill="#bb674b"/>
<circle cx="355.1" cy="1099.9" r="0.60" fill="#ecd8d0"/>
<circle cx="384.0" cy="1099.9" r="0.60" fill="#ecd8d0"/>
<circle cx="412.8" cy="1099.9" r="0.60" fill="#ecd8d0"/>
<circle cx="441.7" cy="1099.9" r="2.80" fill="#c07258"/>
<circle cx="470.6" cy="1099.9" r="0.60" fill="#ecd8d0"/>
<circle cx="499.4" cy="1099.9" r="1.15" fill="#dfb5a6"/>
<circle cx="528.3" cy="1099.9" r="0.60" fill="#ecd8d0"/>
<circle cx="557.2" cy="1099.9" r="1.60" fill="#cf8e77"/>
<circle cx="586.0" cy="1099.9" r="0.60" fill="#ecd8d0"/>
<circle cx="614.9" cy="1099.9" r="0.60" fill="#ecd8d0"/>
<circle cx="643.8" cy="1099.9" r="0.60" fill="#ecd8d0"/>
<circle cx="672.7" cy="1099.9" r="0.60" fill="#ecd8d0"/>
<circle cx="701.5" cy="1099.9" r="0.60" fill="#ecd8d0"/>
<circle cx="730.4" cy="1099.9" r="0.60" fill="#ecd8d0"/>
<circle cx="759.3" cy="1099.9" r="0.60" fill="#ecd8d0"/>
<circle cx="788.1" cy="1099.9" r="0.60" fill="#ecd8d0"/>
<circle cx="153.0" cy="1116.7" r="0.60" fill="#ecd8d0"/>
<circle cx="181.9" cy="1116.7" r="0.60" fill="#ecd8d0"/>
<circle cx="210.7" cy="1116.7" r="0.60" fill="#ecd8d0"/>
<circle cx="239.6" cy="1116.7" r="0.60" fill="#ecd8d0"/>
<circle cx="268.5" cy="1116.7" r="0.60" fill="#ecd8d0"/>
<circle cx="297.4" cy="1116.7" r="0.60" fill="#ecd8d0"/>
<circle cx="326.2" cy="1116.7" r="3.50" fill="#bd6b50"/>
<circle cx="355.1" cy="1116.7" r="0.60" fill="#ecd8d0"/>
<circle cx="384.0" cy="1116.7" r="0.60" fill="#ecd8d0"/>
<circle cx="412.8" cy="1116.7" r="0.60" fill="#ecd8d0"/>
<circle cx="441.7" cy="1116.7" r="2.05" fill="#c67c62"/>
<circle cx="470.6" cy="1116.7" r="0.60" fill="#ecd8d0"/>
<circle cx="499.4" cy="1116.7" r="0.60" fill="#ecd8d0"/>
<circle cx="528.3" cy="1116.7" r="0.60" fill="#ecd8d0"/>
<circle cx="557.2" cy="1116.7" r="0.60" fill="#ecd8d0"/>
<circle cx="586.0" cy="1116.7" r="0.60" fill="#ecd8d0"/>
<circle cx="614.9" cy="1116.7" r="0.60" fill="#ecd8d0"/>
<circle cx="643.8" cy="1116.7" r="0.60" fill="#ecd8d0"/>
<circle cx="672.7" cy="1116.7" r="0.60" fill="#ecd8d0"/>
<circle cx="701.5" cy="1116.7" r="0.60" fill="#ecd8d0"/>
<circle cx="730.4" cy="1116.7" r="0.60" fill="#ecd8d0"/>
<circle cx="759.3" cy="1116.7" r="0.60" fill="#ecd8d0"/>
<circle cx="788.1" cy="1116.7" r="0.60" fill="#ecd8d0"/>
<circle cx="153.0" cy="1133.5" r="0.60" fill="#ecd8d0"/>
<circle cx="181.9" cy="1133.5" r="0.60" fill="#ecd8d0"/>
<circle cx="210.7" cy="1133.5" r="0.60" fill="#ecd8d0"/>
<circle cx="239.6" cy="1133.5" r="0.60" fill="#ecd8d0"/>
<circle cx="268.5" cy="1133.5" r="0.60" fill="#ecd8d0"/>
<circle cx="297.4" cy="1133.5" r="1.15" fill="#dfb5a6"/>
<circle cx="326.2" cy="1133.5" r="4.10" fill="#bb674b"/>
<circle cx="355.1" cy="1133.5" r="0.60" fill="#ecd8d0"/>
<circle cx="384.0" cy="1133.5" r="0.60" fill="#ecd8d0"/>
<circle cx="412.8" cy="1133.5" r="0.60" fill="#ecd8d0"/>
<circle cx="441.7" cy="1133.5" r="2.80" fill="#c07258"/>
<circle cx="470.6" cy="1133.5" r="0.60" fill="#ecd8d0"/>
<circle cx="499.4" cy="1133.5" r="0.60" fill="#ecd8d0"/>
<circle cx="528.3" cy="1133.5" r="0.60" fill="#ecd8d0"/>
<circle cx="557.2" cy="1133.5" r="0.60" fill="#ecd8d0"/>
<circle cx="586.0" cy="1133.5" r="0.60" fill="#ecd8d0"/>
<circle cx="614.9" cy="1133.5" r="0.60" fill="#ecd8d0"/>
<circle cx="643.8" cy="1133.5" r="0.60" fill="#ecd8d0"/>
<circle cx="672.7" cy="1133.5" r="0.60" fill="#ecd8d0"/>
<circle cx="701.5" cy="1133.5" r="0.60" fill="#ecd8d0"/>
<circle cx="730.4" cy="1133.5" r="0.60" fill="#ecd8d0"/>
<circle cx="759.3" cy="1133.5" r="0.60" fill="#ecd8d0"/>
<circle cx="788.1" cy="1133.5" r="0.60" fill="#ecd8d0"/>
<circle cx="153.0" cy="1150.3" r="2.80" fill="#d09a87"/>
<circle cx="181.9" cy="1150.3" r="2.80" fill="#d8b8ae"/>
<circle cx="210.7" cy="1150.3" r="2.80" fill="#c07258"/>
<circle cx="239.6" cy="1150.3" r="2.80" fill="#d09a87"/>
<circle cx="268.5" cy="1150.3" r="2.80" fill="#d09a87"/>
<circle cx="297.4" cy="1150.3" r="2.80" fill="#b95f44"/>
<circle cx="326.2" cy="1150.3" r="3.50" fill="#d9d5d3"/>
<circle cx="355.1" cy="1150.3" r="2.80" fill="#c07258"/>
<circle cx="384.0" cy="1150.3" r="2.80" fill="#c07258"/>
<circle cx="412.8" cy="1150.3" r="2.80" fill="#d8b8ae"/>
<circle cx="441.7" cy="1150.3" r="3.50" fill="#bd6b50"/>
<circle cx="470.6" cy="1150.3" r="3.50" fill="#d9d5d3"/>
<circle cx="499.4" cy="1150.3" r="2.80" fill="#d09a87"/>
<circle cx="528.3" cy="1150.3" r="2.80" fill="#d09a87"/>
<circle cx="557.2" cy="1150.3" r="2.80" fill="#c07258"/>
<circle cx="586.0" cy="1150.3" r="2.80" fill="#c07258"/>
<circle cx="614.9" cy="1150.3" r="2.80" fill="#c07258"/>
<circle cx="643.8" cy="1150.3" r="2.80" fill="#d09a87"/>
<circle cx="672.7" cy="1150.3" r="2.80" fill="#d9d5d3"/>
<circle cx="701.5" cy="1150.3" r="2.80" fill="#d9d5d3"/>
<circle cx="730.4" cy="1150.3" r="2.80" fill="#d8b8ae"/>
<circle cx="759.3" cy="1150.3" r="2.80" fill="#d09a87"/>
<circle cx="788.1" cy="1150.3" r="2.80" fill="#b95f44"/>
<circle cx="153.0" cy="1167.1" r="2.80" fill="#d09a87"/>
<circle cx="181.9" cy="1167.1" r="2.05" fill="#d8b8ae"/>
<circle cx="210.7" cy="1167.1" r="2.80" fill="#c07258"/>
<circle cx="239.6" cy="1167.1" r="2.05" fill="#d09a87"/>
<circle cx="268.5" cy="1167.1" r="2.80" fill="#d09a87"/>
<circle cx="297.4" cy="1167.1" r="2.80" fill="#b95f44"/>
<circle cx="326.2" cy="1167.1" r="4.10" fill="#b95f44"/>
<circle cx="355.1" cy="1167.1" r="2.80" fill="#c07258"/>
<circle cx="384.0" cy="1167.1" r="2.80" fill="#c07258"/>
<circle cx="412.8" cy="1167.1" r="2.80" fill="#d8b8ae"/>
<circle cx="441.7" cy="1167.1" r="4.10" fill="#b95f44"/>
<circle cx="470.6" cy="1167.1" r="2.80" fill="#d8b8ae"/>
<circle cx="499.4" cy="1167.1" r="2.80" fill="#d8b8ae"/>
<circle cx="528.3" cy="1167.1" r="2.80" fill="#d09a87"/>
<circle cx="557.2" cy="1167.1" r="2.80" fill="#d09a87"/>
<circle cx="586.0" cy="1167.1" r="2.05" fill="#d09a87"/>
<circle cx="614.9" cy="1167.1" r="2.80" fill="#c07258"/>
<circle cx="643.8" cy="1167.1" r="2.80" fill="#d09a87"/>
<circle cx="672.7" cy="1167.1" r="2.05" fill="#d9d5d3"/>
<circle cx="701.5" cy="1167.1" r="2.80" fill="#d9d5d3"/>
<circle cx="730.4" cy="1167.1" r="2.80" fill="#d9d5d3"/>
<circle cx="759.3" cy="1167.1" r="2.05" fill="#d09a87"/>
<circle cx="788.1" cy="1167.1" r="2.05" fill="#b95f44"/>
<circle cx="153.0" cy="1183.9" r="2.80" fill="#d8b8ae"/>
<circle cx="181.9" cy="1183.9" r="2.80" fill="#d8b8ae"/>
<circle cx="210.7" cy="1183.9" r="2.80" fill="#d09a87"/>
<circle cx="239.6" cy="1183.9" r="2.80" fill="#d8b8ae"/>
<circle cx="268.5" cy="1183.9" r="2.80" fill="#d8b8ae"/>
<circle cx="297.4" cy="1183.9" r="2.80" fill="#c07258"/>
<circle cx="326.2" cy="1183.9" r="4.10" fill="#b95f44"/>
<circle cx="355.1" cy="1183.9" r="2.80" fill="#d8b8ae"/>
<circle cx="384.0" cy="1183.9" r="2.80" fill="#d09a87"/>
<circle cx="412.8" cy="1183.9" r="2.80" fill="#d8b8ae"/>
<circle cx="441.7" cy="1183.9" r="4.10" fill="#b95f44"/>
<circle cx="470.6" cy="1183.9" r="2.80" fill="#d9d5d3"/>
<circle cx="499.4" cy="1183.9" r="2.80" fill="#d8b8ae"/>
<circle cx="528.3" cy="1183.9" r="2.80" fill="#d09a87"/>
<circle cx="557.2" cy="1183.9" r="3.50" fill="#d09a87"/>
<circle cx="586.0" cy="1183.9" r="2.80" fill="#d09a87"/>
<circle cx="614.9" cy="1183.9" r="2.80" fill="#d09a87"/>
<circle cx="643.8" cy="1183.9" r="2.80" fill="#d8b8ae"/>
<circle cx="672.7" cy="1183.9" r="2.80" fill="#d09a87"/>
<circle cx="701.5" cy="1183.9" r="2.80" fill="#d9d5d3"/>
<circle cx="730.4" cy="1183.9" r="2.80" fill="#d8b8ae"/>
<circle cx="759.3" cy="1183.9" r="2.80" fill="#d09a87"/>
<circle cx="788.1" cy="1183.9" r="3.50" fill="#bd6b50"/>
<circle cx="153.0" cy="1200.7" r="0.60" fill="#ecd8d0"/>
<circle cx="181.9" cy="1200.7" r="0.60" fill="#ecd8d0"/>
<circle cx="210.7" cy="1200.7" r="1.60" fill="#b95f44"/>
<circle cx="239.6" cy="1200.7" r="0.60" fill="#ecd8d0"/>
<circle cx="268.5" cy="1200.7" r="2.05" fill="#b95f44"/>
<circle cx="297.4" cy="1200.7" r="0.60" fill="#ecd8d0"/>
<circle cx="326.2" cy="1200.7" r="0.60" fill="#ecd8d0"/>
<circle cx="355.1" cy="1200.7" r="1.15" fill="#dfb5a6"/>
<circle cx="384.0" cy="1200.7" r="0.60" fill="#ecd8d0"/>
<circle cx="412.8" cy="1200.7" r="1.15" fill="#dfb5a6"/>
<circle cx="441.7" cy="1200.7" r="0.60" fill="#ecd8d0"/>
<circle cx="470.6" cy="1200.7" r="1.60" fill="#cf8e77"/>
<circle cx="499.4" cy="1200.7" r="1.15" fill="#dfb5a6"/>
<circle cx="528.3" cy="1200.7" r="1.15" fill="#dfb5a6"/>
<circle cx="557.2" cy="1200.7" r="0.60" fill="#ecd8d0"/>
<circle cx="586.0" cy="1200.7" r="0.60" fill="#ecd8d0"/>
<circle cx="614.9" cy="1200.7" r="0.60" fill="#ecd8d0"/>
<circle cx="643.8" cy="1200.7" r="1.15" fill="#b95f44"/>
<circle cx="672.7" cy="1200.7" r="0.60" fill="#ecd8d0"/>
<circle cx="701.5" cy="1200.7" r="0.60" fill="#ecd8d0"/>
<circle cx="730.4" cy="1200.7" r="0.60" fill="#ecd8d0"/>
<circle cx="759.3" cy="1200.7" r="0.60" fill="#ecd8d0"/>
<circle cx="788.1" cy="1200.7" r="0.60" fill="#ecd8d0"/>
<circle cx="153.0" cy="1217.4" r="0.60" fill="#ecd8d0"/>
<circle cx="181.9" cy="1217.4" r="0.60" fill="#ecd8d0"/>
<circle cx="210.7" cy="1217.4" r="0.60" fill="#ecd8d0"/>
<circle cx="239.6" cy="1217.4" r="1.60" fill="#b95f44"/>
<circle cx="268.5" cy="1217.4" r="0.60" fill="#ecd8d0"/>
<circle cx="297.4" cy="1217.4" r="0.60" fill="#ecd8d0"/>
<circle cx="326.2" cy="1217.4" r="0.60" fill="#ecd8d0"/>
<circle cx="355.1" cy="1217.4" r="0.60" fill="#ecd8d0"/>
<circle cx="384.0" cy="1217.4" r="0.60" fill="#ecd8d0"/>
<circle cx="412.8" cy="1217.4" r="0.60" fill="#ecd8d0"/>
<circle cx="441.7" cy="1217.4" r="0.60" fill="#ecd8d0"/>
<circle cx="470.6" cy="1217.4" r="0.60" fill="#ecd8d0"/>
<circle cx="499.4" cy="1217.4" r="0.60" fill="#ecd8d0"/>
<circle cx="528.3" cy="1217.4" r="0.60" fill="#ecd8d0"/>
<circle cx="557.2" cy="1217.4" r="0.60" fill="#ecd8d0"/>
<circle cx="586.0" cy="1217.4" r="0.60" fill="#ecd8d0"/>
<circle cx="614.9" cy="1217.4" r="0.60" fill="#ecd8d0"/>
<circle cx="643.8" cy="1217.4" r="0.60" fill="#ecd8d0"/>
<circle cx="672.7" cy="1217.4" r="0.60" fill="#ecd8d0"/>
<circle cx="701.5" cy="1217.4" r="0.60" fill="#ecd8d0"/>
<circle cx="730.4" cy="1217.4" r="1.60" fill="#b95f44"/>
<circle cx="759.3" cy="1217.4" r="0.60" fill="#ecd8d0"/>
<circle cx="788.1" cy="1217.4" r="0.60" fill="#ecd8d0"/>
<circle cx="153.0" cy="1234.2" r="0.60" fill="#ecd8d0"/>
<circle cx="181.9" cy="1234.2" r="0.60" fill="#ecd8d0"/>
<circle cx="210.7" cy="1234.2" r="0.60" fill="#ecd8d0"/>
<circle cx="239.6" cy="1234.2" r="1.60" fill="#b95f44"/>
<circle cx="268.5" cy="1234.2" r="0.60" fill="#ecd8d0"/>
<circle cx="297.4" cy="1234.2" r="0.60" fill="#ecd8d0"/>
<circle cx="326.2" cy="1234.2" r="0.60" fill="#ecd8d0"/>
<circle cx="355.1" cy="1234.2" r="0.60" fill="#ecd8d0"/>
<circle cx="384.0" cy="1234.2" r="0.60" fill="#ecd8d0"/>
<circle cx="412.8" cy="1234.2" r="0.60" fill="#ecd8d0"/>
<circle cx="441.7" cy="1234.2" r="0.60" fill="#ecd8d0"/>
<circle cx="470.6" cy="1234.2" r="0.60" fill="#ecd8d0"/>
<circle cx="499.4" cy="1234.2" r="0.60" fill="#ecd8d0"/>
<circle cx="528.3" cy="1234.2" r="0.60" fill="#ecd8d0"/>
<circle cx="557.2" cy="1234.2" r="0.60" fill="#ecd8d0"/>
<circle cx="586.0" cy="1234.2" r="0.60" fill="#ecd8d0"/>
<circle cx="614.9" cy="1234.2" r="0.60" fill="#ecd8d0"/>
<circle cx="643.8" cy="1234.2" r="0.60" fill="#ecd8d0"/>
<circle cx="672.7" cy="1234.2" r="0.60" fill="#ecd8d0"/>
<circle cx="701.5" cy="1234.2" r="0.60" fill="#ecd8d0"/>
<circle cx="730.4" cy="1234.2" r="2.05" fill="#b95f44"/>
<circle cx="759.3" cy="1234.2" r="0.60" fill="#ecd8d0"/>
<circle cx="788.1" cy="1234.2" r="0.60" fill="#ecd8d0"/>
<circle cx="153.0" cy="1251.0" r="0.60" fill="#ecd8d0"/>
<circle cx="181.9" cy="1251.0" r="0.60" fill="#ecd8d0"/>
<circle cx="210.7" cy="1251.0" r="0.60" fill="#ecd8d0"/>
<circle cx="239.6" cy="1251.0" r="2.80" fill="#c07258"/>
<circle cx="268.5" cy="1251.0" r="0.60" fill="#ecd8d0"/>
<circle cx="297.4" cy="1251.0" r="0.60" fill="#ecd8d0"/>
<circle cx="326.2" cy="1251.0" r="0.60" fill="#ecd8d0"/>
<circle cx="355.1" cy="1251.0" r="0.60" fill="#ecd8d0"/>
<circle cx="384.0" cy="1251.0" r="0.60" fill="#ecd8d0"/>
<circle cx="412.8" cy="1251.0" r="1.15" fill="#dfb5a6"/>
<circle cx="441.7" cy="1251.0" r="0.60" fill="#ecd8d0"/>
<circle cx="470.6" cy="1251.0" r="0.60" fill="#ecd8d0"/>
<circle cx="499.4" cy="1251.0" r="0.60" fill="#ecd8d0"/>
<circle cx="528.3" cy="1251.0" r="0.60" fill="#ecd8d0"/>
<circle cx="557.2" cy="1251.0" r="0.60" fill="#ecd8d0"/>
<circle cx="586.0" cy="1251.0" r="0.60" fill="#ecd8d0"/>
<circle cx="614.9" cy="1251.0" r="0.60" fill="#ecd8d0"/>
<circle cx="643.8" cy="1251.0" r="1.15" fill="#dfb5a6"/>
<circle cx="672.7" cy="1251.0" r="0.60" fill="#ecd8d0"/>
<circle cx="701.5" cy="1251.0" r="0.60" fill="#ecd8d0"/>
<circle cx="730.4" cy="1251.0" r="2.80" fill="#c07258"/>
<circle cx="759.3" cy="1251.0" r="0.60" fill="#ecd8d0"/>
<circle cx="788.1" cy="1251.0" r="0.60" fill="#ecd8d0"/>
<circle cx="153.0" cy="1267.8" r="0.60" fill="#ecd8d0"/>
<circle cx="181.9" cy="1267.8" r="2.80" fill="#d09a87"/>
<circle cx="210.7" cy="1267.8" r="2.80" fill="#c07258"/>
<circle cx="239.6" cy="1267.8" r="0.60" fill="#ecd8d0"/>
<circle cx="268.5" cy="1267.8" r="3.50" fill="#bd6b50"/>
<circle cx="297.4" cy="1267.8" r="1.15" fill="#dfb5a6"/>
<circle cx="326.2" cy="1267.8" r="0.60" fill="#ecd8d0"/>
<circle cx="355.1" cy="1267.8" r="0.60" fill="#ecd8d0"/>
<circle cx="384.0" cy="1267.8" r="0.60" fill="#ecd8d0"/>
<circle cx="412.8" cy="1267.8" r="2.80" fill="#d09a87"/>
<circle cx="441.7" cy="1267.8" r="1.15" fill="#dfb5a6"/>
<circle cx="470.6" cy="1267.8" r="3.50" fill="#d09a87"/>
<circle cx="499.4" cy="1267.8" r="1.60" fill="#cf8e77"/>
<circle cx="528.3" cy="1267.8" r="2.80" fill="#c07258"/>
<circle cx="557.2" cy="1267.8" r="0.60" fill="#ecd8d0"/>
<circle cx="586.0" cy="1267.8" r="0.60" fill="#ecd8d0"/>
<circle cx="614.9" cy="1267.8" r="0.60" fill="#ecd8d0"/>
<circle cx="643.8" cy="1267.8" r="1.60" fill="#cf8e77"/>
<circle cx="672.7" cy="1267.8" r="0.60" fill="#ecd8d0"/>
<circle cx="701.5" cy="1267.8" r="2.05" fill="#d09a87"/>
<circle cx="730.4" cy="1267.8" r="0.60" fill="#ecd8d0"/>
<circle cx="759.3" cy="1267.8" r="0.60" fill="#ecd8d0"/>
<circle cx="788.1" cy="1267.8" r="0.60" fill="#ecd8d0"/>
<circle cx="153.0" cy="1284.6" r="0.60" fill="#ecd8d0"/>
<circle cx="181.9" cy="1284.6" r="2.80" fill="#d09a87"/>
<circle cx="210.7" cy="1284.6" r="3.50" fill="#bd6b50"/>
<circle cx="239.6" cy="1284.6" r="0.60" fill="#ecd8d0"/>
<circle cx="268.5" cy="1284.6" r="3.50" fill="#bd6b50"/>
<circle cx="297.4" cy="1284.6" r="1.15" fill="#dfb5a6"/>
<circle cx="326.2" cy="1284.6" r="0.60" fill="#ecd8d0"/>
<circle cx="355.1" cy="1284.6" r="0.60" fill="#ecd8d0"/>
<circle cx="384.0" cy="1284.6" r="0.60" fill="#ecd8d0"/>
<circle cx="412.8" cy="1284.6" r="0.60" fill="#ecd8d0"/>
<circle cx="441.7" cy="1284.6" r="1.15" fill="#dfb5a6"/>
<circle cx="470.6" cy="1284.6" r="3.50" fill="#bd6b50"/>
<circle cx="499.4" cy="1284.6" r="2.05" fill="#c67c62"/>
<circle cx="528.3" cy="1284.6" r="1.60" fill="#cf8e77"/>
<circle cx="557.2" cy="1284.6" r="0.60" fill="#ecd8d0"/>
<circle cx="586.0" cy="1284.6" r="0.60" fill="#ecd8d0"/>
<circle cx="614.9" cy="1284.6" r="0.60" fill="#ecd8d0"/>
<circle cx="643.8" cy="1284.6" r="1.60" fill="#cf8e77"/>
<circle cx="672.7" cy="1284.6" r="0.60" fill="#ecd8d0"/>
<circle cx="701.5" cy="1284.6" r="2.80" fill="#d09a87"/>
<circle cx="730.4" cy="1284.6" r="0.60" fill="#ecd8d0"/>
<circle cx="759.3" cy="1284.6" r="0.60" fill="#ecd8d0"/>
<circle cx="788.1" cy="1284.6" r="0.60" fill="#ecd8d0"/>
<circle cx="153.0" cy="1301.4" r="0.60" fill="#ecd8d0"/>
<circle cx="181.9" cy="1301.4" r="0.60" fill="#ecd8d0"/>
<circle cx="210.7" cy="1301.4" r="2.05" fill="#b95f44"/>
<circle cx="239.6" cy="1301.4" r="0.60" fill="#ecd8d0"/>
<circle cx="268.5" cy="1301.4" r="0.60" fill="#ecd8d0"/>
<circle cx="297.4" cy="1301.4" r="0.60" fill="#ecd8d0"/>
<circle cx="326.2" cy="1301.4" r="1.15" fill="#dfb5a6"/>
<circle cx="355.1" cy="1301.4" r="0.60" fill="#ecd8d0"/>
<circle cx="384.0" cy="1301.4" r="0.60" fill="#ecd8d0"/>
<circle cx="412.8" cy="1301.4" r="0.60" fill="#ecd8d0"/>
<circle cx="441.7" cy="1301.4" r="0.60" fill="#ecd8d0"/>
<circle cx="470.6" cy="1301.4" r="1.60" fill="#b95f44"/>
<circle cx="499.4" cy="1301.4" r="1.15" fill="#b95f44"/>
<circle cx="528.3" cy="1301.4" r="0.60" fill="#ecd8d0"/>
<circle cx="557.2" cy="1301.4" r="0.60" fill="#ecd8d0"/>
<circle cx="586.0" cy="1301.4" r="0.60" fill="#ecd8d0"/>
<circle cx="614.9" cy="1301.4" r="1.15" fill="#dfb5a6"/>
<circle cx="643.8" cy="1301.4" r="1.15" fill="#dfb5a6"/>
<circle cx="672.7" cy="1301.4" r="0.60" fill="#ecd8d0"/>
<circle cx="701.5" cy="1301.4" r="0.60" fill="#ecd8d0"/>
<circle cx="730.4" cy="1301.4" r="0.60" fill="#ecd8d0"/>
<circle cx="759.3" cy="1301.4" r="0.60" fill="#ecd8d0"/>
<circle cx="788.1" cy="1301.4" r="0.60" fill="#ecd8d0"/>
<circle cx="153.0" cy="1318.2" r="0.60" fill="#ecd8d0"/>
<circle cx="181.9" cy="1318.2" r="3.50" fill="#bd6b50"/>
<circle cx="210.7" cy="1318.2" r="1.60" fill="#cf8e77"/>
<circle cx="239.6" cy="1318.2" r="1.15" fill="#dfb5a6"/>
<circle cx="268.5" cy="1318.2" r="3.50" fill="#bd6b50"/>
<circle cx="297.4" cy="1318.2" r="1.15" fill="#dfb5a6"/>
<circle cx="326.2" cy="1318.2" r="0.60" fill="#ecd8d0"/>
<circle cx="355.1" cy="1318.2" r="0.60" fill="#ecd8d0"/>
<circle cx="384.0" cy="1318.2" r="0.60" fill="#ecd8d0"/>
<circle cx="412.8" cy="1318.2" r="2.05" fill="#d09a87"/>
<circle cx="441.7" cy="1318.2" r="0.60" fill="#ecd8d0"/>
<circle cx="470.6" cy="1318.2" r="2.05" fill="#c67c62"/>
<circle cx="499.4" cy="1318.2" r="1.60" fill="#cf8e77"/>
<circle cx="528.3" cy="1318.2" r="2.05" fill="#c67c62"/>
<circle cx="557.2" cy="1318.2" r="0.60" fill="#ecd8d0"/>
<circle cx="586.0" cy="1318.2" r="0.60" fill="#ecd8d0"/>
<circle cx="614.9" cy="1318.2" r="0.60" fill="#ecd8d0"/>
<circle cx="643.8" cy="1318.2" r="1.60" fill="#cf8e77"/>
<circle cx="672.7" cy="1318.2" r="0.60" fill="#ecd8d0"/>
<circle cx="701.5" cy="1318.2" r="3.50" fill="#bd6b50"/>
<circle cx="730.4" cy="1318.2" r="0.60" fill="#ecd8d0"/>
<circle cx="759.3" cy="1318.2" r="0.60" fill="#ecd8d0"/>
<circle cx="788.1" cy="1318.2" r="0.60" fill="#ecd8d0"/>
<circle cx="153.0" cy="1335.0" r="1.60" fill="#cf8e77"/>
<circle cx="181.9" cy="1335.0" r="3.50" fill="#bd6b50"/>
<circle cx="210.7" cy="1335.0" r="0.60" fill="#ecd8d0"/>
<circle cx="239.6" cy="1335.0" r="1.15" fill="#dfb5a6"/>
<circle cx="268.5" cy="1335.0" r="1.15" fill="#dfb5a6"/>
<circle cx="297.4" cy="1335.0" r="1.15" fill="#dfb5a6"/>
<circle cx="326.2" cy="1335.0" r="0.60" fill="#ecd8d0"/>
<circle cx="355.1" cy="1335.0" r="0.60" fill="#ecd8d0"/>
<circle cx="384.0" cy="1335.0" r="0.60" fill="#ecd8d0"/>
<circle cx="412.8" cy="1335.0" r="0.60" fill="#ecd8d0"/>
<circle cx="441.7" cy="1335.0" r="1.15" fill="#dfb5a6"/>
<circle cx="470.6" cy="1335.0" r="2.05" fill="#d09a87"/>
<circle cx="499.4" cy="1335.0" r="1.60" fill="#cf8e77"/>
<circle cx="528.3" cy="1335.0" r="1.15" fill="#dfb5a6"/>
<circle cx="557.2" cy="1335.0" r="1.15" fill="#dfb5a6"/>
<circle cx="586.0" cy="1335.0" r="1.15" fill="#dfb5a6"/>
<circle cx="614.9" cy="1335.0" r="1.15" fill="#dfb5a6"/>
<circle cx="643.8" cy="1335.0" r="1.15" fill="#dfb5a6"/>
<circle cx="672.7" cy="1335.0" r="0.60" fill="#ecd8d0"/>
<circle cx="701.5" cy="1335.0" r="4.10" fill="#bb674b"/>
<circle cx="730.4" cy="1335.0" r="2.05" fill="#d09a87"/>
<circle cx="759.3" cy="1335.0" r="0.60" fill="#ecd8d0"/>
<circle cx="788.1" cy="1335.0" r="0.60" fill="#ecd8d0"/>
<circle cx="153.0" cy="1351.8" r="0.60" fill="#ecd8d0"/>
<circle cx="181.9" cy="1351.8" r="3.50" fill="#bd6b50"/>
<circle cx="210.7" cy="1351.8" r="0.60" fill="#ecd8d0"/>
<circle cx="239.6" cy="1351.8" r="0.60" fill="#ecd8d0"/>
<circle cx="268.5" cy="1351.8" r="0.60" fill="#ecd8d0"/>
<circle cx="297.4" cy="1351.8" r="1.15" fill="#dfb5a6"/>
<circle cx="326.2" cy="1351.8" r="0.60" fill="#ecd8d0"/>
<circle cx="355.1" cy="1351.8" r="0.60" fill="#ecd8d0"/>
<circle cx="384.0" cy="1351.8" r="0.60" fill="#ecd8d0"/>
<circle cx="412.8" cy="1351.8" r="1.60" fill="#cf8e77"/>
<circle cx="441.7" cy="1351.8" r="0.60" fill="#ecd8d0"/>
<circle cx="470.6" cy="1351.8" r="0.60" fill="#ecd8d0"/>
<circle cx="499.4" cy="1351.8" r="1.15" fill="#dfb5a6"/>
<circle cx="528.3" cy="1351.8" r="1.60" fill="#cf8e77"/>
<circle cx="557.2" cy="1351.8" r="0.60" fill="#ecd8d0"/>
<circle cx="586.0" cy="1351.8" r="0.60" fill="#ecd8d0"/>
<circle cx="614.9" cy="1351.8" r="0.60" fill="#ecd8d0"/>
<circle cx="643.8" cy="1351.8" r="0.60" fill="#ecd8d0"/>
<circle cx="672.7" cy="1351.8" r="0.60" fill="#ecd8d0"/>
<circle cx="701.5" cy="1351.8" r="4.10" fill="#bb674b"/>
<circle cx="730.4" cy="1351.8" r="0.60" fill="#ecd8d0"/>
<circle cx="759.3" cy="1351.8" r="0.60" fill="#ecd8d0"/>
<circle cx="788.1" cy="1351.8" r="0.60" fill="#ecd8d0"/>
<circle cx="153.0" cy="1368.6" r="2.80" fill="#c07258"/>
<circle cx="181.9" cy="1368.6" r="0.60" fill="#ecd8d0"/>
<circle cx="210.7" cy="1368.6" r="0.60" fill="#ecd8d0"/>
<circle cx="239.6" cy="1368.6" r="0.60" fill="#ecd8d0"/>
<circle cx="268.5" cy="1368.6" r="0.60" fill="#ecd8d0"/>
<circle cx="297.4" cy="1368.6" r="0.60" fill="#ecd8d0"/>
<circle cx="326.2" cy="1368.6" r="0.60" fill="#ecd8d0"/>
<circle cx="355.1" cy="1368.6" r="0.60" fill="#ecd8d0"/>
<circle cx="384.0" cy="1368.6" r="0.60" fill="#ecd8d0"/>
<circle cx="412.8" cy="1368.6" r="0.60" fill="#ecd8d0"/>
<circle cx="441.7" cy="1368.6" r="0.60" fill="#ecd8d0"/>
<circle cx="470.6" cy="1368.6" r="2.80" fill="#c07258"/>
<circle cx="499.4" cy="1368.6" r="1.15" fill="#dfb5a6"/>
<circle cx="528.3" cy="1368.6" r="0.60" fill="#ecd8d0"/>
<circle cx="557.2" cy="1368.6" r="1.60" fill="#cf8e77"/>
<circle cx="586.0" cy="1368.6" r="0.60" fill="#ecd8d0"/>
<circle cx="614.9" cy="1368.6" r="0.60" fill="#ecd8d0"/>
<circle cx="643.8" cy="1368.6" r="0.60" fill="#ecd8d0"/>
<circle cx="672.7" cy="1368.6" r="0.60" fill="#ecd8d0"/>
<circle cx="701.5" cy="1368.6" r="2.80" fill="#c07258"/>
<circle cx="730.4" cy="1368.6" r="3.50" fill="#bd6b50"/>
<circle cx="759.3" cy="1368.6" r="0.60" fill="#ecd8d0"/>
<circle cx="788.1" cy="1368.6" r="0.60" fill="#ecd8d0"/>
<circle cx="153.0" cy="1385.3" r="2.80" fill="#c07258"/>
<circle cx="181.9" cy="1385.3" r="0.60" fill="#ecd8d0"/>
<circle cx="210.7" cy="1385.3" r="0.60" fill="#ecd8d0"/>
<circle cx="239.6" cy="1385.3" r="0.60" fill="#ecd8d0"/>
<circle cx="268.5" cy="1385.3" r="0.60" fill="#ecd8d0"/>
<circle cx="297.4" cy="1385.3" r="0.60" fill="#ecd8d0"/>
<circle cx="326.2" cy="1385.3" r="0.60" fill="#ecd8d0"/>
<circle cx="355.1" cy="1385.3" r="2.05" fill="#c67c62"/>
<circle cx="384.0" cy="1385.3" r="0.60" fill="#ecd8d0"/>
<circle cx="412.8" cy="1385.3" r="0.60" fill="#ecd8d0"/>
<circle cx="441.7" cy="1385.3" r="0.60" fill="#ecd8d0"/>
<circle cx="470.6" cy="1385.3" r="3.50" fill="#bd6b50"/>
<circle cx="499.4" cy="1385.3" r="2.80" fill="#c07258"/>
<circle cx="528.3" cy="1385.3" r="0.60" fill="#ecd8d0"/>
<circle cx="557.2" cy="1385.3" r="2.05" fill="#c67c62"/>
<circle cx="586.0" cy="1385.3" r="0.60" fill="#ecd8d0"/>
<circle cx="614.9" cy="1385.3" r="0.60" fill="#ecd8d0"/>
<circle cx="643.8" cy="1385.3" r="0.60" fill="#ecd8d0"/>
<circle cx="672.7" cy="1385.3" r="0.60" fill="#ecd8d0"/>
<circle cx="701.5" cy="1385.3" r="2.80" fill="#c07258"/>
<circle cx="730.4" cy="1385.3" r="2.80" fill="#c07258"/>
<circle cx="759.3" cy="1385.3" r="0.60" fill="#ecd8d0"/>
<circle cx="788.1" cy="1385.3" r="0.60" fill="#ecd8d0"/>
<circle cx="153.0" cy="1402.1" r="2.80" fill="#c07258"/>
<circle cx="181.9" cy="1402.1" r="0.60" fill="#ecd8d0"/>
<circle cx="210.7" cy="1402.1" r="0.60" fill="#ecd8d0"/>
<circle cx="239.6" cy="1402.1" r="0.60" fill="#ecd8d0"/>
<circle cx="268.5" cy="1402.1" r="0.60" fill="#ecd8d0"/>
<circle cx="297.4" cy="1402.1" r="0.60" fill="#ecd8d0"/>
<circle cx="326.2" cy="1402.1" r="0.60" fill="#ecd8d0"/>
<circle cx="355.1" cy="1402.1" r="0.60" fill="#ecd8d0"/>
<circle cx="384.0" cy="1402.1" r="0.60" fill="#ecd8d0"/>
<circle cx="412.8" cy="1402.1" r="0.60" fill="#ecd8d0"/>
<circle cx="441.7" cy="1402.1" r="0.60" fill="#ecd8d0"/>
<circle cx="470.6" cy="1402.1" r="3.50" fill="#bd6b50"/>
<circle cx="499.4" cy="1402.1" r="1.15" fill="#dfb5a6"/>
<circle cx="528.3" cy="1402.1" r="0.60" fill="#ecd8d0"/>
<circle cx="557.2" cy="1402.1" r="0.60" fill="#ecd8d0"/>
<circle cx="586.0" cy="1402.1" r="0.60" fill="#ecd8d0"/>
<circle cx="614.9" cy="1402.1" r="0.60" fill="#ecd8d0"/>
<circle cx="643.8" cy="1402.1" r="0.60" fill="#ecd8d0"/>
<circle cx="672.7" cy="1402.1" r="0.60" fill="#ecd8d0"/>
<circle cx="701.5" cy="1402.1" r="2.80" fill="#c07258"/>
<circle cx="730.4" cy="1402.1" r="2.80" fill="#c07258"/>
<circle cx="759.3" cy="1402.1" r="0.60" fill="#ecd8d0"/>
<circle cx="788.1" cy="1402.1" r="0.60" fill="#ecd8d0"/>
<defs><linearGradient id="gB" x1="0" y1="0" x2="0" y2="1"><stop offset="0" stop-color="#bb674b"/><stop offset="1" stop-color="#d9d9d9"/></linearGradient></defs>
<g font-family="Liberation Sans, sans-serif" fill="#1a1a1a">
<text x="814" y="880.7" font-size="11.1">Average Expression</text>
<rect x="814" y="885.4" width="8.6" height="42.6" fill="url(#gB)"/>
<text x="826.3" y="894.1" font-size="9.6">2</text>
<text x="826.3" y="904.3" font-size="9.6">1</text>
<text x="826.3" y="914.6" font-size="9.6">0</text>
<text x="826.3" y="925.3" font-size="9.6">-1</text>
<text x="814" y="944.5" font-size="11.1">Percent Expressed</text>
<circle cx="818.6" cy="953.6" r="0.50" fill="#999"/>
<text x="827" y="957.0" font-size="9.6">0</text>
<circle cx="818.6" cy="962.3" r="1.50" fill="#000"/>
<text x="827" y="965.7" font-size="9.6">25</text>
<circle cx="818.6" cy="970.5" r="2.35" fill="#000"/>
<text x="827" y="973.9" font-size="9.6">50</text>
<circle cx="818.6" cy="979.0" r="3.30" fill="#000"/>
<text x="827" y="982.4" font-size="9.6">75</text>
<circle cx="818.6" cy="988.3" r="4.00" fill="#000"/>
<text x="827" y="991.7" font-size="9.6">100</text>
</g>
<text transform="translate(920.5 445.8) scale(0.9 1)" font-family="Liberation Serif, serif" font-weight="bold" font-size="39.5" fill="#000">C</text>
<rect x="938.8" y="467.2" width="740.3" height="47.3" fill="#9aabdd"/>
<path d="M938.8 467.2H1679.1M938.8 514.5H1679.1M938.8 917.5H1679.1" stroke="#000" stroke-width="2.6"/>
<g font-family="Liberation Serif, serif" font-weight="bold" font-size="28.7" text-anchor="middle" fill="#000">
<text x="1065.7" y="504.5">Classification %</text><text x="1283.1" y="504.5">Cluster</text><text x="1441.3" y="504.5">WT</text>
<text x="1594.5" y="504.5">PKP2 <tspan font-weight="normal" font-size="17" dy="-11">+/-</tspan></text>
</g>
<g font-family="Liberation Serif, serif" font-size="25.4" text-anchor="middle" fill="#000">
<text x="1065.7" y="546.8">Fibroblast</text><text x="1283.1" y="546.8">0, 11</text><text x="1441.3" y="546.8">23.71</text><text x="1594" y="546.8">27.01</text>
<text x="1065.7" y="595.6">Endothelial cell</text><text x="1283.1" y="595.6">1, 2, 4, 9, 13</text><text x="1441.3" y="595.6">34.34</text><text x="1594" y="595.6">36.60</text>
<text x="1065.7" y="644.3">Macrophage</text><text x="1283.1" y="644.3">3, 18, 20, 21</text><text x="1441.3" y="644.3">9.74</text><text x="1594" y="644.3">9.25</text>
<text x="1065.7" y="685.1">Cardiomyocyte</text><text x="1283.1" y="685.1">5, 6, 10</text><text x="1441.3" y="685.1">18.39</text><text x="1594" y="685.1">12.40</text>
<text x="1065.7" y="725.9">Pericyte</text><text x="1283.1" y="725.9">7, 12</text><text x="1441.3" y="725.9">5.87</text><text x="1594" y="725.9">6.29</text>
<text x="1065.7" y="766.7">T cell</text><text x="1283.1" y="766.7">8</text><text x="1441.3" y="766.7">3.66</text><text x="1594" y="766.7">4.64</text>
<text x="1065.7" y="815.5">Smooth muscle cell</text><text x="1283.1" y="815.5">14</text><text x="1441.3" y="815.5">0.98</text><text x="1594" y="815.5">0.86</text>
<text x="1065.7" y="866.2">Neutrophil</text><text x="1283.1" y="866.2">15</text><text x="1441.3" y="866.2">0.92</text><text x="1594" y="866.2">0.64</text>
<text x="1065.7" y="909">unkown</text><text x="1283.1" y="909">16, 17, 19, 22</text><text x="1441.3" y="909">2.37</text><text x="1594" y="909">2.31</text>
</g>
<text transform="translate(920.5 984.8) scale(0.9 1)" font-family="Liberation Serif, serif" font-weight="bold" font-size="39.5" fill="#000">D</text>
<rect x="1047.5" y="1409.3" width="53.6" height="9.7" fill="#8a6e1e"/>
<rect x="1047.5" y="1405.7" width="53.6" height="3.9" fill="#8b4a1c"/>
<rect x="1047.5" y="1401.8" width="53.6" height="4.2" fill="#374480"/>
<rect x="1047.5" y="1387.3" width="53.6" height="14.8" fill="#cb4d62"/>
<rect x="1047.5" y="1364.1" width="53.6" height="23.5" fill="#72bfb3"/>
<rect x="1047.5" y="1325.6" width="53.6" height="38.8" fill="#e3b72f"/>
<rect x="1047.5" y="1252.8" width="53.6" height="73.1" fill="#8db84c"/>
<rect x="1047.5" y="1159.0" width="53.6" height="94.1" fill="#5b73c8"/>
<rect x="1047.5" y="1023.1" width="53.6" height="136.2" fill="#d4803c"/>
<rect x="1180.8" y="1409.6" width="53.6" height="9.4" fill="#8a6e1e"/>
<rect x="1180.8" y="1407.0" width="53.6" height="2.8" fill="#8b4a1c"/>
<rect x="1180.8" y="1403.6" width="53.6" height="3.7" fill="#374480"/>
<rect x="1180.8" y="1385.3" width="53.6" height="18.7" fill="#cb4d62"/>
<rect x="1180.8" y="1360.4" width="53.6" height="25.2" fill="#72bfb3"/>
<rect x="1180.8" y="1323.8" width="53.6" height="36.9" fill="#e3b72f"/>
<rect x="1180.8" y="1274.7" width="53.6" height="49.4" fill="#8db84c"/>
<rect x="1180.8" y="1167.9" width="53.6" height="107.2" fill="#5b73c8"/>
<rect x="1180.8" y="1023.1" width="53.6" height="145.1" fill="#d4803c"/>
<path d="M1007.5 1023.1V1418.7H1274.1M1007.5 1023.1h8M1007.5 1102.2h8M1007.5 1181.3h8M1007.5 1260.5h8M1007.5 1339.6h8M1007.5 1418.7h8" fill="none" stroke="#111" stroke-width="1.6"/>
<g font-family="Liberation Serif, serif" font-weight="bold" font-size="21.7" fill="#000">
<text x="992.5" y="1030.3" text-anchor="end">100%</text>
<text x="992.5" y="1109.4" text-anchor="end">80%</text>
<text x="992.5" y="1188.5" text-anchor="end">60%</text>
<text x="992.5" y="1267.7" text-anchor="end">40%</text>
<text x="992.5" y="1346.8" text-anchor="end">20%</text>
<text x="992.5" y="1425.9" text-anchor="end">0%</text>
<text x="1074.6" y="1449" text-anchor="middle" font-size="21.5">WT</text>
<text x="1181" y="1449" font-size="21.5">PKP2<tspan font-weight="normal" font-size="13.5" dy="-8">+/-</tspan></text>
<rect x="1296" y="1061.4" width="14" height="14" fill="#d4803c"/><text x="1317.9" y="1075.4" font-size="21.8">Endothelial cell</text>
<rect x="1296" y="1098.2" width="14" height="14" fill="#5b73c8"/><text x="1317.9" y="1112.2" font-size="21.8">Fibroblast</text>
<rect x="1296" y="1135.0" width="14" height="14" fill="#8db84c"/><text x="1317.9" y="1149.0" font-size="21.8">Cardiomyocyte</text>
<rect x="1296" y="1171.8" width="14" height="14" fill="#e3b72f"/><text x="1317.9" y="1185.8" font-size="21.8">Macrophage</text>
<rect x="1296" y="1208.6" width="14" height="14" fill="#72bfb3"/><text x="1317.9" y="1222.6" font-size="21.8">Pericyte</text>
<rect x="1296" y="1245.4" width="14" height="14" fill="#cb4d62"/><text x="1317.9" y="1259.4" font-size="21.8">T cell</text>
<rect x="1296" y="1282.2" width="14" height="14" fill="#374480"/><text x="1317.9" y="1296.2" font-size="21.8">Smooth muscle cell</text>
<rect x="1296" y="1319.0" width="14" height="14" fill="#8b4a1c"/><text x="1317.9" y="1333.0" font-size="21.8">Neutrophil</text>
<rect x="1296" y="1355.8" width="14" height="14" fill="#8a6e1e"/><text x="1317.9" y="1369.8" font-size="21.8">unkown</text>
</g>
<text transform="translate(38 1500.2) scale(0.9 1)" font-family="Liberation Serif, serif" font-weight="bold" font-size="39.5" fill="#000">E</text>
<use href="#c0" fill="#9AA62C" stroke="#9AA62C" transform="matrix(1.3940 0 0 -1.2820 305.9 1692.1)"/>
<use href="#c11" fill="#9AA62C" stroke="#9AA62C" transform="matrix(1.3940 0 0 -1.2820 305.9 1692.1)"/>
<use href="#c1" fill="#C8952A" stroke="#C8952A" transform="matrix(1.3940 0 0 -1.2820 305.9 1692.1)"/>
<use href="#c9" fill="#C8952A" stroke="#C8952A" transform="matrix(1.3940 0 0 -1.2820 305.9 1692.1)"/>
<use href="#c2" fill="#C8952A" stroke="#C8952A" transform="matrix(1.3940 0 0 -1.2820 305.9 1692.1)"/>
<use href="#c4" fill="#C8952A" stroke="#C8952A" transform="matrix(1.3940 0 0 -1.2820 305.9 1692.1)"/>
<use href="#c13" fill="#C8952A" stroke="#C8952A" transform="matrix(1.3940 0 0 -1.2820 305.9 1692.1)"/>
<use href="#c5" fill="#E0736F" stroke="#E0736F" transform="matrix(1.3940 0 0 -1.2820 305.9 1692.1)"/>
<use href="#c22" fill="#E35BB8" stroke="#E35BB8" transform="matrix(1.3940 0 0 -1.2820 305.9 1692.1)"/>
<use href="#c17" fill="#E35BB8" stroke="#E35BB8" transform="matrix(1.3940 0 0 -1.2820 305.9 1692.1)"/>
<use href="#c6" fill="#E0736F" stroke="#E0736F" transform="matrix(1.3940 0 0 -1.2820 305.9 1692.1)"/>
<use href="#c10" fill="#E0736F" stroke="#E0736F" transform="matrix(1.3940 0 0 -1.2820 305.9 1692.1)"/>
<use href="#c3" fill="#5DB84A" stroke="#5DB84A" transform="matrix(1.3940 0 0 -1.2820 305.9 1692.1)"/>
<use href="#c20" fill="#5DB84A" stroke="#5DB84A" transform="matrix(1.3940 0 0 -1.2820 305.9 1692.1)"/>
<use href="#c18" fill="#5DB84A" stroke="#5DB84A" transform="matrix(1.3940 0 0 -1.2820 305.9 1692.1)"/>
<use href="#c21" fill="#5DB84A" stroke="#5DB84A" transform="matrix(1.3940 0 0 -1.2820 305.9 1692.1)"/>
<use href="#c8" fill="#C77AF5" stroke="#C77AF5" transform="matrix(1.3940 0 0 -1.2820 305.9 1692.1)"/>
<use href="#c15" fill="#6BBFA0" stroke="#6BBFA0" transform="matrix(1.3940 0 0 -1.2820 305.9 1692.1)"/>
<use href="#c7" fill="#62B5E0" stroke="#62B5E0" transform="matrix(1.3940 0 0 -1.2820 305.9 1692.1)"/>
<use href="#c12" fill="#62B5E0" stroke="#62B5E0" transform="matrix(1.3940 0 0 -1.2820 305.9 1692.1)"/>
<use href="#c14" fill="#6B94F0" stroke="#6B94F0" transform="matrix(1.3940 0 0 -1.2820 305.9 1692.1)"/>
<use href="#c19" fill="#E35BB8" stroke="#E35BB8" transform="matrix(1.3940 0 0 -1.2820 305.9 1692.1)"/>
<use href="#c16" fill="#E35BB8" stroke="#E35BB8" transform="matrix(1.3940 0 0 -1.2820 305.9 1692.1)"/>
<path d="M114.8 1492.5V1866.0M114.8 1866.0H508.0M166.5 1866.0v4.0M236.2 1866.0v4.0M305.9 1866.0v4.0M375.6 1866.0v4.0M445.3 1866.0v4.0M114.8 1820.3h-4.0M114.8 1756.2h-4.0M114.8 1692.1h-4.0M114.8 1628.0h-4.0M114.8 1563.9h-4.0M114.8 1499.8h-4.0" fill="none" stroke="#333" stroke-width="1.6"/>
<g font-family="Liberation Serif, serif" font-size="18" font-weight="bold" fill="#1a1a1a">
<text x="166.5" y="1890.3" text-anchor="middle">-10</text>
<text x="236.2" y="1890.3" text-anchor="middle">-5</text>
<text x="305.9" y="1890.3" text-anchor="middle">0</text>
<text x="375.6" y="1890.3" text-anchor="middle">5</text>
<text x="445.3" y="1890.3" text-anchor="middle">10</text>
<text x="101.1" y="1826.8" text-anchor="end">-10</text>
<text x="101.1" y="1762.7" text-anchor="end">-5</text>
<text x="101.1" y="1698.6" text-anchor="end">0</text>
<text x="101.1" y="1634.5" text-anchor="end">5</text>
<text x="101.1" y="1570.4" text-anchor="end">10</text>
<text x="101.1" y="1506.3" text-anchor="end">15</text>
</g>
<text x="306" y="1921" font-family="Liberation Serif, serif" font-weight="bold" font-size="25" text-anchor="middle">UMAP1</text>
<text transform="translate(64.5 1654) rotate(-90)" font-family="Liberation Serif, serif" font-weight="bold" font-size="25" text-anchor="middle">UMAP2</text>
<g font-family="Liberation Sans, sans-serif" font-size="12" fill="#111" text-anchor="middle">
<text x="289.5" y="1597.2">Endothelial cell</text>
<text x="413.2" y="1670.4">Macrophage</text>
<text x="171.1" y="1693.5">Cardiomyocyte</text>
<text x="359.5" y="1724.9">Smooth muscle cell</text>
<text x="397.7" y="1738.2">Pericyte</text>
<text x="437.6" y="1736.9">unknow</text>
<text x="259.8" y="1744.9">T cell</text>
<text x="241.6" y="1787.4">Neutrophil</text>
<text x="324.5" y="1825.1">Fibroblast</text>
</g>
<g font-family="Liberation Serif, serif" font-weight="bold" font-size="19" fill="#111">
<circle cx="520.5" cy="1574.2" r="6.2" fill="#E0736F"/><text x="535.6" y="1575.7">Cardiomyocyte</text>
<circle cx="520.5" cy="1599.0" r="6.2" fill="#C8952A"/><text x="535.6" y="1600.5">Endothelial cell</text>
<circle cx="520.5" cy="1623.8" r="6.2" fill="#9AA62C"/><text x="535.6" y="1625.3">Fibroblast</text>
<circle cx="520.5" cy="1648.6" r="6.2" fill="#5DB84A"/><text x="535.6" y="1650.1">Macrophage</text>
<circle cx="520.5" cy="1673.4" r="6.2" fill="#6BBFA0"/><text x="535.6" y="1674.9">Neutrophil</text>
<circle cx="520.5" cy="1698.2" r="6.2" fill="#62B5E0"/><text x="535.6" y="1699.7">Pericyte</text>
<circle cx="520.5" cy="1723.0" r="6.2" fill="#6B94F0"/><text x="535.6" y="1724.5">Smooth muscle cell</text>
<circle cx="520.5" cy="1747.8" r="6.2" fill="#C77AF5"/><text x="535.6" y="1749.3">T cell</text>
<circle cx="520.5" cy="1772.6" r="6.2" fill="#E35BB8"/><text x="535.6" y="1774.1">unknow</text>
</g>
<use href="#c0" fill="#9AA62C" stroke="#9AA62C" transform="matrix(1.2950 0 0 -1.1410 955.8 1691.9)"/>
<use href="#c11" fill="#9AA62C" stroke="#9AA62C" transform="matrix(1.2950 0 0 -1.1410 955.8 1691.9)"/>
<use href="#c1" fill="#C8952A" stroke="#C8952A" transform="matrix(1.2950 0 0 -1.1410 955.8 1691.9)"/>
<use href="#c9" fill="#C8952A" stroke="#C8952A" transform="matrix(1.2950 0 0 -1.1410 955.8 1691.9)"/>
<use href="#c2" fill="#C8952A" stroke="#C8952A" transform="matrix(1.2950 0 0 -1.1410 955.8 1691.9)"/>
<use href="#c4" fill="#C8952A" stroke="#C8952A" transform="matrix(1.2950 0 0 -1.1410 955.8 1691.9)"/>
<use href="#c13" fill="#C8952A" stroke="#C8952A" transform="matrix(1.2950 0 0 -1.1410 955.8 1691.9)"/>
<use href="#c5" fill="#E0736F" stroke="#E0736F" transform="matrix(1.2950 0 0 -1.1410 955.8 1691.9)"/>
<use href="#c22" fill="#E35BB8" stroke="#E35BB8" transform="matrix(1.2950 0 0 -1.1410 955.8 1691.9)"/>
<use href="#c17" fill="#E35BB8" stroke="#E35BB8" transform="matrix(1.2950 0 0 -1.1410 955.8 1691.9)"/>
<use href="#c6" fill="#E0736F" stroke="#E0736F" transform="matrix(1.2950 0 0 -1.1410 955.8 1691.9)"/>
<use href="#c10" fill="#E0736F" stroke="#E0736F" transform="matrix(1.2950 0 0 -1.1410 955.8 1691.9)"/>
<use href="#c3" fill="#5DB84A" stroke="#5DB84A" transform="matrix(1.2950 0 0 -1.1410 955.8 1691.9)"/>
<use href="#c20" fill="#5DB84A" stroke="#5DB84A" transform="matrix(1.2950 0 0 -1.1410 955.8 1691.9)"/>
<use href="#c18" fill="#5DB84A" stroke="#5DB84A" transform="matrix(1.2950 0 0 -1.1410 955.8 1691.9)"/>
<use href="#c21" fill="#5DB84A" stroke="#5DB84A" transform="matrix(1.2950 0 0 -1.1410 955.8 1691.9)"/>
<use href="#c8" fill="#C77AF5" stroke="#C77AF5" transform="matrix(1.2950 0 0 -1.1410 955.8 1691.9)"/>
<use href="#c15" fill="#6BBFA0" stroke="#6BBFA0" transform="matrix(1.2950 0 0 -1.1410 955.8 1691.9)"/>
<use href="#c7" fill="#62B5E0" stroke="#62B5E0" transform="matrix(1.2950 0 0 -1.1410 955.8 1691.9)"/>
<use href="#c12" fill="#62B5E0" stroke="#62B5E0" transform="matrix(1.2950 0 0 -1.1410 955.8 1691.9)"/>
<use href="#c14" fill="#6B94F0" stroke="#6B94F0" transform="matrix(1.2950 0 0 -1.1410 955.8 1691.9)"/>
<use href="#c19" fill="#E35BB8" stroke="#E35BB8" transform="matrix(1.2950 0 0 -1.1410 955.8 1691.9)"/>
<use href="#c16" fill="#E35BB8" stroke="#E35BB8" transform="matrix(1.2950 0 0 -1.1410 955.8 1691.9)"/>
<path d="M777.8 1514.5V1839.2M777.8 1839.2H1142.6M826.3 1839.2v7.8M891.0 1839.2v7.8M955.8 1839.2v7.8M1020.5 1839.2v7.8M1085.3 1839.2v7.8M777.8 1806.0h-4.4M777.8 1749.0h-4.4M777.8 1691.9h-4.4M777.8 1634.9h-4.4M777.8 1577.8h-4.4M777.8 1520.8h-4.4" fill="none" stroke="#333" stroke-width="1.6"/>
<g font-family="Liberation Serif, serif" font-size="18" font-weight="bold" fill="#1a1a1a">
<text x="826.3" y="1872.5" text-anchor="middle">-10</text>
<text x="891.0" y="1872.5" text-anchor="middle">-5</text>
<text x="955.8" y="1872.5" text-anchor="middle">0</text>
<text x="1020.5" y="1872.5" text-anchor="middle">5</text>
<text x="1085.3" y="1872.5" text-anchor="middle">10</text>
<text x="764.7" y="1812.5" text-anchor="end">-10</text>
<text x="764.7" y="1755.4" text-anchor="end">-5</text>
<text x="764.7" y="1698.4" text-anchor="end">0</text>
<text x="764.7" y="1641.3" text-anchor="end">5</text>
<text x="764.7" y="1584.3" text-anchor="end">10</text>
<text x="764.7" y="1527.2" text-anchor="end">15</text>
</g>
<use href="#c0" fill="#9AA62C" stroke="#9AA62C" transform="matrix(1.2950 0 0 -1.1410 1327.5 1691.9)"/>
<use href="#c11" fill="#9AA62C" stroke="#9AA62C" transform="matrix(1.2950 0 0 -1.1410 1327.5 1691.9)"/>
<use href="#c1" fill="#C8952A" stroke="#C8952A" transform="matrix(1.2950 0 0 -1.1410 1327.5 1691.9)"/>
<use href="#c9" fill="#C8952A" stroke="#C8952A" transform="matrix(1.2950 0 0 -1.1410 1327.5 1691.9)"/>
<use href="#c2" fill="#C8952A" stroke="#C8952A" transform="matrix(1.2950 0 0 -1.1410 1327.5 1691.9)"/>
<use href="#c4" fill="#C8952A" stroke="#C8952A" transform="matrix(1.2950 0 0 -1.1410 1327.5 1691.9)"/>
<use href="#c13" fill="#C8952A" stroke="#C8952A" transform="matrix(1.2950 0 0 -1.1410 1327.5 1691.9)"/>
<use href="#c5" fill="#E0736F" stroke="#E0736F" transform="matrix(1.2950 0 0 -1.1410 1327.5 1691.9)"/>
<use href="#c22" fill="#E35BB8" stroke="#E35BB8" transform="matrix(1.2950 0 0 -1.1410 1327.5 1691.9)"/>
<use href="#c17" fill="#E35BB8" stroke="#E35BB8" transform="matrix(1.2950 0 0 -1.1410 1327.5 1691.9)"/>
<use href="#c6" fill="#E0736F" stroke="#E0736F" transform="matrix(1.2950 0 0 -1.1410 1327.5 1691.9)"/>
<use href="#c10" fill="#E0736F" stroke="#E0736F" transform="matrix(1.2950 0 0 -1.1410 1327.5 1691.9)"/>
<use href="#c3" fill="#5DB84A" stroke="#5DB84A" transform="matrix(1.2950 0 0 -1.1410 1327.5 1691.9)"/>
<use href="#c20" fill="#5DB84A" stroke="#5DB84A" transform="matrix(1.2950 0 0 -1.1410 1327.5 1691.9)"/>
<use href="#c18" fill="#5DB84A" stroke="#5DB84A" transform="matrix(1.2950 0 0 -1.1410 1327.5 1691.9)"/>
<use href="#c21" fill="#5DB84A" stroke="#5DB84A" transform="matrix(1.2950 0 0 -1.1410 1327.5 1691.9)"/>
<use href="#c8" fill="#C77AF5" stroke="#C77AF5" transform="matrix(1.2950 0 0 -1.1410 1327.5 1691.9)"/>
<use href="#c15" fill="#6BBFA0" stroke="#6BBFA0" transform="matrix(1.2950 0 0 -1.1410 1327.5 1691.9)"/>
<use href="#c7" fill="#62B5E0" stroke="#62B5E0" transform="matrix(1.2950 0 0 -1.1410 1327.5 1691.9)"/>
<use href="#c12" fill="#62B5E0" stroke="#62B5E0" transform="matrix(1.2950 0 0 -1.1410 1327.5 1691.9)"/>
<use href="#c14" fill="#6B94F0" stroke="#6B94F0" transform="matrix(1.2950 0 0 -1.1410 1327.5 1691.9)"/>
<use href="#c19" fill="#E35BB8" stroke="#E35BB8" transform="matrix(1.2950 0 0 -1.1410 1327.5 1691.9)"/>
<use href="#c16" fill="#E35BB8" stroke="#E35BB8" transform="matrix(1.2950 0 0 -1.1410 1327.5 1691.9)"/>
<path d="M1150.7 1839.2H1516.2M1198.0 1839.2v7.8M1262.8 1839.2v7.8M1327.5 1839.2v7.8M1392.2 1839.2v7.8M1457.0 1839.2v7.8" fill="none" stroke="#333" stroke-width="1.6"/>
<g font-family="Liberation Serif, serif" font-size="18" font-weight="bold" fill="#1a1a1a">
<text x="1198.0" y="1872.5" text-anchor="middle">-10</text>
<text x="1262.8" y="1872.5" text-anchor="middle">-5</text>
<text x="1327.5" y="1872.5" text-anchor="middle">0</text>
<text x="1392.2" y="1872.5" text-anchor="middle">5</text>
<text x="1457.0" y="1872.5" text-anchor="middle">10</text>
</g>
<text x="946" y="1531.5" font-family="Liberation Serif, serif" font-weight="bold" font-size="21.8" text-anchor="middle">WT</text>
<text x="1288" y="1531.5" font-family="Liberation Serif, serif" font-weight="bold" font-size="21.8">PKP2<tspan font-weight="normal" font-size="13" dy="-8">+/-</tspan></text>
<text x="1149" y="1911" font-family="Liberation Serif, serif" font-weight="bold" font-size="24.6" text-anchor="middle">UMAP1</text>
<text transform="translate(729.5 1650.3) rotate(-90)" font-family="Liberation Serif, serif" font-weight="bold" font-size="24.8" text-anchor="middle">UMAP2</text>
<g font-family="Liberation Serif, serif" font-weight="bold" font-size="19" fill="#111">
<circle cx="1534.4" cy="1562.1" r="5.6" fill="#E0736F"/><text x="1549.4" y="1564.1">Cardiomyocyte</text>
<circle cx="1534.4" cy="1587.1" r="5.6" fill="#C8952A"/><text x="1549.4" y="1589.1">Endothelial cell</text>
<circle cx="1534.4" cy="1612.1" r="5.6" fill="#9AA62C"/><text x="1549.4" y="1614.1">Fibroblast</text>
<circle cx="1534.4" cy="1637.1" r="5.6" fill="#5DB84A"/><text x="1549.4" y="1639.1">Macrophage</text>
<circle cx="1534.4" cy="1662.1" r="5.6" fill="#6BBFA0"/><text x="1549.4" y="1664.1">Neutrophil</text>
<circle cx="1534.4" cy="1687.1" r="5.6" fill="#62B5E0"/><text x="1549.4" y="1689.1">Pericyte</text>
<circle cx="1534.4" cy="1712.1" r="5.6" fill="#6B94F0"/><text x="1549.4" y="1714.1">Smooth muscle cell</text>
<circle cx="1534.4" cy="1737.1" r="5.6" fill="#C77AF5"/><text x="1549.4" y="1739.1">T cell</text>
<circle cx="1534.4" cy="1762.1" r="5.6" fill="#E35BB8"/><text x="1549.4" y="1764.1">unknow</text>
</g>
<text transform="translate(37.5 1957) scale(0.9 1)" font-family="Liberation Serif, serif" font-weight="bold" font-size="39.5" fill="#000">F</text>
<rect x="84.4" y="1990" width="104.8" height="18" fill="#efb9b0"/>
<text x="136.8" y="2003" font-family="Liberation Sans, sans-serif" font-weight="bold" font-size="11.4" text-anchor="middle" fill="#1a1a1a">Endothelial cell</text>
<rect x="84.4" y="2009.1" width="104.8" height="344.8" fill="#fff" stroke="#7a7a7a" stroke-width="1"/>
<path d="M112.9 2353.9v3M160.5 2353.9v3" stroke="#555" stroke-width="0.8"/>
<circle cx="112.9" cy="2033.7" r="3.4" fill="#fbf5c5"/><circle cx="160.5" cy="2033.7" r="4" fill="#eba899"/>
<circle cx="112.9" cy="2075.9" r="2.8" fill="#eeebc8"/><circle cx="160.5" cy="2075.9" r="3.8" fill="#e48f86"/>
<circle cx="112.9" cy="2118.1" r="1.2" fill="#eeebc8"/><circle cx="160.5" cy="2118.1" r="1.7" fill="#fbf5c5"/>
<circle cx="112.9" cy="2160.3" r="0.9" fill="#eeebc8"/><circle cx="160.5" cy="2160.3" r="1.3" fill="#fbf5c5"/>
<circle cx="112.9" cy="2202.5" r="1.3" fill="#dddccb"/><circle cx="160.5" cy="2202.5" r="1.7" fill="#fbf5c5"/>
<circle cx="112.9" cy="2244.7" r="3.7" fill="#ebe7cc"/><circle cx="160.5" cy="2244.7" r="4.2" fill="#e8e4cc"/>
<circle cx="112.9" cy="2286.9" r="2.8" fill="#e0dec8"/><circle cx="160.5" cy="2286.9" r="3" fill="#e3dfcf"/>
<circle cx="112.9" cy="2329.1" r="1.3" fill="#fbf5c5"/><circle cx="160.5" cy="2329.1" r="1.3" fill="#fbf5c5"/>
<text x="108.7" y="2378.6" font-family="Liberation Serif, serif" font-weight="bold" font-size="15" text-anchor="middle" fill="#111">WT</text>
<text x="160.5" y="2378.6" font-family="Liberation Serif, serif" font-weight="bold" font-size="15" text-anchor="middle" fill="#111">PKP2<tspan font-weight="normal" font-size="8.5" dy="-5">+/-</tspan></text>
<rect x="194.3" y="1990" width="104.8" height="18" fill="#f5d93a"/>
<text x="246.7" y="2003" font-family="Liberation Sans, sans-serif" font-weight="bold" font-size="11.4" text-anchor="middle" fill="#1a1a1a">T cell</text>
<rect x="194.3" y="2009.1" width="104.8" height="344.8" fill="#fff" stroke="#7a7a7a" stroke-width="1"/>
<path d="M222.8 2353.9v3M270.4 2353.9v3" stroke="#555" stroke-width="0.8"/>
<circle cx="222.8" cy="2033.7" r="2.6" fill="#eeebc8"/><circle cx="270.4" cy="2033.7" r="2.8" fill="#e5e3cf"/>
<circle cx="222.8" cy="2075.9" r="2.3" fill="#e0dfcc"/><circle cx="270.4" cy="2075.9" r="3.1" fill="#fadfb8"/>
<circle cx="222.8" cy="2118.1" r="0.9" fill="#eeebc8"/><circle cx="270.4" cy="2118.1" r="1.5" fill="#eeebc8"/>
<circle cx="222.8" cy="2160.3" r="0.8" fill="#eeebc8"/><circle cx="270.4" cy="2160.3" r="1.2" fill="#eeebc8"/>
<circle cx="222.8" cy="2202.5" r="1.1" fill="#dddccb"/><circle cx="270.4" cy="2202.5" r="1.5" fill="#dddccb"/>
<circle cx="222.8" cy="2244.7" r="3.7" fill="#eeeacb"/><circle cx="270.4" cy="2244.7" r="3.5" fill="#e8e5ce"/>
<circle cx="222.8" cy="2286.9" r="2.8" fill="#fbf5c5"/><circle cx="270.4" cy="2286.9" r="2.8" fill="#e8e5cc"/>
<circle cx="222.8" cy="2329.1" r="0.9" fill="#eeebc8"/><circle cx="270.4" cy="2329.1" r="1.1" fill="#eeebc8"/>
<text x="218.6" y="2378.6" font-family="Liberation Serif, serif" font-weight="bold" font-size="15" text-anchor="middle" fill="#111">WT</text>
<text x="270.4" y="2378.6" font-family="Liberation Serif, serif" font-weight="bold" font-size="15" text-anchor="middle" fill="#111">PKP2<tspan font-weight="normal" font-size="8.5" dy="-5">+/-</tspan></text>
<rect x="304.2" y="1990" width="104.8" height="18" fill="#b8f566"/>
<text x="356.6" y="2003" font-family="Liberation Sans, sans-serif" font-weight="bold" font-size="11.4" text-anchor="middle" fill="#1a1a1a">Fibroblast</text>
<rect x="304.2" y="2009.1" width="104.8" height="344.8" fill="#fff" stroke="#7a7a7a" stroke-width="1"/>
<path d="M332.7 2353.9v3M380.3 2353.9v3" stroke="#555" stroke-width="0.8"/>
<circle cx="332.7" cy="2033.7" r="2" fill="#d9dacc"/><circle cx="380.3" cy="2033.7" r="2" fill="#d9d9d4"/>
<circle cx="332.7" cy="2075.9" r="2.3" fill="#d2d2d0"/><circle cx="380.3" cy="2075.9" r="3.4" fill="#fbf5c5"/>
<circle cx="332.7" cy="2118.1" r="0.6" fill="#eeebc8"/><circle cx="380.3" cy="2118.1" r="0.9" fill="#eeebc8"/>
<circle cx="332.7" cy="2160.3" r="1.1" fill="#eeebc8"/><circle cx="380.3" cy="2160.3" r="1.4" fill="#fbf5c5"/>
<circle cx="332.7" cy="2202.5" r="1.2" fill="#dddccb"/><circle cx="380.3" cy="2202.5" r="1.6" fill="#eeebc8"/>
<circle cx="332.7" cy="2244.7" r="3.4" fill="#e5e3ce"/><circle cx="380.3" cy="2244.7" r="3.7" fill="#e5e3cf"/>
<circle cx="332.7" cy="2286.9" r="5.5" fill="#b5373a"/><circle cx="380.3" cy="2286.9" r="5.5" fill="#cd5558"/>
<circle cx="332.7" cy="2329.1" r="1.5" fill="#fbf5c5"/><circle cx="380.3" cy="2329.1" r="1.8" fill="#fbf5c5"/>
<text x="328.5" y="2378.6" font-family="Liberation Serif, serif" font-weight="bold" font-size="15" text-anchor="middle" fill="#111">WT</text>
<text x="380.3" y="2378.6" font-family="Liberation Serif, serif" font-weight="bold" font-size="15" text-anchor="middle" fill="#111">PKP2<tspan font-weight="normal" font-size="8.5" dy="-5">+/-</tspan></text>
<rect x="414.1" y="1990" width="104.8" height="18" fill="#8ff9d7"/>
<text x="466.5" y="2003" font-family="Liberation Sans, sans-serif" font-weight="bold" font-size="11.4" text-anchor="middle" fill="#1a1a1a">Neutrophil</text>
<rect x="414.1" y="2009.1" width="104.8" height="344.8" fill="#fff" stroke="#7a7a7a" stroke-width="1"/>
<path d="M442.6 2353.9v3M490.2 2353.9v3" stroke="#555" stroke-width="0.8"/>
<circle cx="442.6" cy="2033.7" r="2.5" fill="#eeebc8"/><circle cx="490.2" cy="2033.7" r="2.8" fill="#dddccb"/>
<circle cx="442.6" cy="2075.9" r="2" fill="#d9d9d0"/><circle cx="490.2" cy="2075.9" r="2.8" fill="#f2eecb"/>
<circle cx="442.6" cy="2118.1" r="1.5" fill="#fbf5c5"/><circle cx="490.2" cy="2118.1" r="1.4" fill="#eeebc8"/>
<circle cx="442.6" cy="2160.3" r="0.9" fill="#eeebc8"/><circle cx="490.2" cy="2160.3" r="1.4" fill="#fadfb8"/>
<circle cx="442.6" cy="2202.5" r="1.4" fill="#fadfb8"/><circle cx="490.2" cy="2202.5" r="1.8" fill="#fbf5c5"/>
<circle cx="442.6" cy="2244.7" r="3.4" fill="#eae7cb"/><circle cx="490.2" cy="2244.7" r="4" fill="#eeebcc"/>
<circle cx="442.6" cy="2286.9" r="1.4" fill="#ccc"/><circle cx="490.2" cy="2286.9" r="4" fill="#edb09b"/>
<circle cx="442.6" cy="2329.1" r="1.2" fill="#eeebc8"/><circle cx="490.2" cy="2329.1" r="1.4" fill="#eeebc8"/>
<text x="438.4" y="2378.6" font-family="Liberation Serif, serif" font-weight="bold" font-size="15" text-anchor="middle" fill="#111">WT</text>
<text x="490.2" y="2378.6" font-family="Liberation Serif, serif" font-weight="bold" font-size="15" text-anchor="middle" fill="#111">PKP2<tspan font-weight="normal" font-size="8.5" dy="-5">+/-</tspan></text>
<rect x="524.0" y="1990" width="104.8" height="18" fill="#7df0f5"/>
<text x="576.4" y="2003" font-family="Liberation Sans, sans-serif" font-weight="bold" font-size="11.4" text-anchor="middle" fill="#1a1a1a">Cardiomyocyte</text>
<rect x="524.0" y="2009.1" width="104.8" height="344.8" fill="#fff" stroke="#7a7a7a" stroke-width="1"/>
<path d="M552.5 2353.9v3M600.1 2353.9v3" stroke="#555" stroke-width="0.8"/>
<circle cx="552.5" cy="2033.7" r="6.3" fill="#cc5557"/><circle cx="600.1" cy="2033.7" r="6.5" fill="#cd5558"/>
<circle cx="552.5" cy="2075.9" r="3.7" fill="#fbf5c5"/><circle cx="600.1" cy="2075.9" r="4.6" fill="#b03a3e"/>
<circle cx="552.5" cy="2118.1" r="1" fill="#eeebc8"/><circle cx="600.1" cy="2118.1" r="1.1" fill="#eeebc8"/>
<circle cx="552.5" cy="2160.3" r="2.3" fill="#eeebc8"/><circle cx="600.1" cy="2160.3" r="2.3" fill="#fbf5c5"/>
<circle cx="552.5" cy="2202.5" r="3.1" fill="#d2595b"/><circle cx="600.1" cy="2202.5" r="3.7" fill="#b23a40"/>
<circle cx="552.5" cy="2244.7" r="9.2" fill="#b8383e"/><circle cx="600.1" cy="2244.7" r="9.2" fill="#c44c50"/>
<circle cx="552.5" cy="2286.9" r="2.8" fill="#f0eccb"/><circle cx="600.1" cy="2286.9" r="3.1" fill="#e8e4cc"/>
<circle cx="552.5" cy="2329.1" r="0.9" fill="#eeebc8"/><circle cx="600.1" cy="2329.1" r="1" fill="#eeebc8"/>
<text x="548.3" y="2378.6" font-family="Liberation Serif, serif" font-weight="bold" font-size="15" text-anchor="middle" fill="#111">WT</text>
<text x="600.1" y="2378.6" font-family="Liberation Serif, serif" font-weight="bold" font-size="15" text-anchor="middle" fill="#111">PKP2<tspan font-weight="normal" font-size="8.5" dy="-5">+/-</tspan></text>
<rect x="633.9" y="1990" width="104.8" height="18" fill="#ddd0f8"/>
<text x="686.3" y="2003" font-family="Liberation Sans, sans-serif" font-weight="bold" font-size="11.4" text-anchor="middle" fill="#1a1a1a">Pericyte</text>
<rect x="633.9" y="2009.1" width="104.8" height="344.8" fill="#fff" stroke="#7a7a7a" stroke-width="1"/>
<path d="M662.4 2353.9v3M710.0 2353.9v3" stroke="#555" stroke-width="0.8"/>
<circle cx="662.4" cy="2033.7" r="3.7" fill="#f6f1c6"/><circle cx="710.0" cy="2033.7" r="3.7" fill="#f5f0ca"/>
<circle cx="662.4" cy="2075.9" r="2" fill="#dadad0"/><circle cx="710.0" cy="2075.9" r="3.4" fill="#fadcc0"/>
<circle cx="662.4" cy="2118.1" r="5.2" fill="#c74549"/><circle cx="710.0" cy="2118.1" r="5.8" fill="#be3e44"/>
<circle cx="662.4" cy="2160.3" r="2" fill="#eca090"/><circle cx="710.0" cy="2160.3" r="3" fill="#8c1a1e"/>
<circle cx="662.4" cy="2202.5" r="1.2" fill="#eeebc8"/><circle cx="710.0" cy="2202.5" r="1.7" fill="#fbf5c5"/>
<circle cx="662.4" cy="2244.7" r="4" fill="#eae7cb"/><circle cx="710.0" cy="2244.7" r="3.7" fill="#e3e1cc"/>
<circle cx="662.4" cy="2286.9" r="2.9" fill="#eeebc8"/><circle cx="710.0" cy="2286.9" r="3.2" fill="#e3e1cc"/>
<circle cx="662.4" cy="2329.1" r="2.9" fill="#c8484c"/><circle cx="710.0" cy="2329.1" r="3.4" fill="#b93a40"/>
<text x="658.2" y="2378.6" font-family="Liberation Serif, serif" font-weight="bold" font-size="15" text-anchor="middle" fill="#111">WT</text>
<text x="710.0" y="2378.6" font-family="Liberation Serif, serif" font-weight="bold" font-size="15" text-anchor="middle" fill="#111">PKP2<tspan font-weight="normal" font-size="8.5" dy="-5">+/-</tspan></text>
<rect x="743.8" y="1990" width="104.8" height="18" fill="#efa7f0"/>
<text x="796.2" y="2003" font-family="Liberation Sans, sans-serif" font-weight="bold" font-size="11.4" text-anchor="middle" fill="#1a1a1a">Macrophage</text>
<rect x="743.8" y="2009.1" width="104.8" height="344.8" fill="#fff" stroke="#7a7a7a" stroke-width="1"/>
<path d="M772.3 2353.9v3M819.9 2353.9v3" stroke="#555" stroke-width="0.8"/>
<circle cx="772.3" cy="2033.7" r="2.5" fill="#e5e3cc"/><circle cx="819.9" cy="2033.7" r="2.2" fill="#ddddd0"/>
<circle cx="772.3" cy="2075.9" r="2" fill="#d2d2d0"/><circle cx="819.9" cy="2075.9" r="3.4" fill="#fbe3be"/>
<circle cx="772.3" cy="2118.1" r="0.5" fill="#eeebc8"/><circle cx="819.9" cy="2118.1" r="0.8" fill="#eeebc8"/>
<circle cx="772.3" cy="2160.3" r="0.9" fill="#eeebc8"/><circle cx="819.9" cy="2160.3" r="0.9" fill="#eeebc8"/>
<circle cx="772.3" cy="2202.5" r="1.1" fill="#eeebc8"/><circle cx="819.9" cy="2202.5" r="1.7" fill="#fbf5c5"/>
<circle cx="772.3" cy="2244.7" r="3.5" fill="#e8e5cc"/><circle cx="819.9" cy="2244.7" r="3.5" fill="#e5e3cd"/>
<circle cx="772.3" cy="2286.9" r="2.6" fill="#e3e1cc"/><circle cx="819.9" cy="2286.9" r="3.1" fill="#e5e2d0"/>
<circle cx="772.3" cy="2329.1" r="0.8" fill="#eeebc8"/><circle cx="819.9" cy="2329.1" r="0.9" fill="#eeebc8"/>
<text x="768.1" y="2378.6" font-family="Liberation Serif, serif" font-weight="bold" font-size="15" text-anchor="middle" fill="#111">WT</text>
<text x="819.9" y="2378.6" font-family="Liberation Serif, serif" font-weight="bold" font-size="15" text-anchor="middle" fill="#111">PKP2<tspan font-weight="normal" font-size="8.5" dy="-5">+/-</tspan></text>
<g font-family="Liberation Serif, serif" font-weight="bold" font-size="15" text-anchor="end" fill="#111">
<text x="73.3" y="2038.7">Scn1a</text>
<text x="73.3" y="2080.9">Scn1b</text>
<text x="73.3" y="2123.1">Scn3a</text>
<text x="73.3" y="2165.3">Scn3b</text>
<text x="73.3" y="2207.5">Scn4b</text>
<text x="73.3" y="2249.7">Scn5a</text>
<text x="73.3" y="2291.9">Scn7a</text>
<text x="73.3" y="2334.1">Scn8a</text>
</g>
<path d="M81.4 2033.7h3M81.4 2075.9h3M81.4 2118.1h3M81.4 2160.3h3M81.4 2202.5h3M81.4 2244.7h3M81.4 2286.9h3M81.4 2329.1h3" stroke="#555" stroke-width="0.8"/>
<text x="858.8" y="2097.2" font-family="Liberation Serif, serif" font-weight="bold" font-size="15" fill="#111">pct.exp</text>
<path d="M861.7 2103.3H883.3V2171.4H861.7ZM861.7 2117.3H883.3M861.7 2132.3H883.3M861.7 2150.1H883.3" fill="none" stroke="#333" stroke-width="1.2"/>
<circle cx="872.5" cy="2110.5" r="4.3" fill="#1e1e1e"/><text x="885" y="2114.2" font-family="Liberation Serif, serif" font-weight="bold" font-size="11" fill="#111">10</text>
<circle cx="872.5" cy="2125" r="6" fill="#1e1e1e"/><text x="885" y="2131" font-family="Liberation Serif, serif" font-weight="bold" font-size="11" fill="#111">20</text>
<circle cx="872.5" cy="2141.2" r="7.2" fill="#1e1e1e"/><text x="885" y="2147.8" font-family="Liberation Serif, serif" font-weight="bold" font-size="11" fill="#111">30</text>
<circle cx="872.5" cy="2160.8" r="8" fill="#1e1e1e"/><text x="885" y="2164.7" font-family="Liberation Serif, serif" font-weight="bold" font-size="11" fill="#111">40</text>
<text x="859.8" y="2194.5" font-family="Liberation Serif, serif" font-weight="bold" font-size="15" fill="#111">avg.exp</text>
<defs><linearGradient id="gF" x1="0" y1="0" x2="0" y2="1"><stop offset="0" stop-color="#7a0e10"/><stop offset="0.25" stop-color="#b53a3c"/><stop offset="0.42" stop-color="#e2726e"/><stop offset="0.56" stop-color="#edaa92"/><stop offset="0.7" stop-color="#fbf7cb"/><stop offset="0.87" stop-color="#e2e0cc"/><stop offset="1" stop-color="#cfcfcf"/></linearGradient></defs>
<rect x="862.4" y="2203.2" width="13.8" height="70.5" fill="url(#gF)"/>
<text x="885" y="2210.8" font-family="Liberation Serif, serif" font-weight="bold" font-size="11" fill="#111">3</text>
<text x="885" y="2226.7" font-family="Liberation Serif, serif" font-weight="bold" font-size="11" fill="#111">2</text>
<text x="885" y="2242.2" font-family="Liberation Serif, serif" font-weight="bold" font-size="11" fill="#111">1</text>
<text x="885" y="2256.2" font-family="Liberation Serif, serif" font-weight="bold" font-size="11" fill="#111">0</text>
<text x="885" y="2272.6" font-family="Liberation Serif, serif" font-weight="bold" font-size="11" fill="#111">-1</text>
<text transform="translate(920.5 1966) scale(0.9 1)" font-family="Liberation Serif, serif" font-weight="bold" font-size="39.5" fill="#000">G</text>
<text x="1275.1" y="2021.5" font-family="Liberation Sans, sans-serif" font-weight="bold" font-size="26.3" text-anchor="middle" fill="#111">Scn5a</text>
<path d="M1159.6 2046.7C1159.7 2051.9 1160.0 2068.5 1160.2 2078.0C1160.5 2087.5 1160.8 2097.2 1161.2 2103.6C1161.6 2110.1 1161.7 2112.7 1162.8 2116.5C1163.9 2120.2 1164.4 2122.9 1167.6 2126.1C1170.8 2129.3 1178.0 2133.3 1182.0 2135.7C1186.0 2138.1 1189.1 2138.6 1191.6 2140.5C1194.2 2142.3 1194.7 2143.9 1197.4 2146.9C1200.1 2149.8 1203.0 2154.1 1207.6 2158.1C1212.3 2162.1 1220.2 2167.2 1225.2 2170.9C1230.3 2174.6 1233.5 2177.3 1238.1 2180.5C1242.6 2183.7 1248.7 2187.4 1252.5 2190.1C1256.2 2192.8 1258.5 2194.6 1260.5 2196.5C1262.4 2198.4 1263.6 2199.7 1264.0 2201.3C1264.4 2202.9 1264.1 2204.0 1262.7 2206.1C1261.3 2208.2 1259.2 2210.9 1255.7 2214.1C1252.1 2217.3 1246.6 2221.3 1241.3 2225.3C1235.9 2229.3 1230.3 2233.3 1223.6 2238.1C1217.0 2242.9 1207.6 2249.3 1201.2 2254.1C1194.8 2258.9 1190.1 2262.7 1185.2 2267.0C1180.3 2271.2 1175.2 2276.0 1171.8 2279.8C1168.3 2283.5 1166.4 2286.4 1164.4 2289.4C1162.4 2292.3 1160.4 2296.0 1159.6 2297.4C1158.8 2298.7 1160.4 2298.7 1159.6 2297.4C1158.8 2296.0 1156.8 2292.3 1154.8 2289.4C1152.8 2286.4 1150.9 2283.5 1147.4 2279.8C1144.0 2276.0 1138.9 2271.2 1134.0 2267.0C1129.1 2262.7 1124.4 2258.9 1118.0 2254.1C1111.6 2249.3 1102.2 2242.9 1095.6 2238.1C1088.9 2233.3 1083.3 2229.3 1077.9 2225.3C1072.6 2221.3 1067.1 2217.3 1063.5 2214.1C1060.0 2210.9 1057.9 2208.2 1056.5 2206.1C1055.1 2204.0 1054.8 2202.9 1055.2 2201.3C1055.6 2199.7 1056.8 2198.4 1058.7 2196.5C1060.7 2194.6 1063.0 2192.8 1066.7 2190.1C1070.5 2187.4 1076.6 2183.7 1081.1 2180.5C1085.7 2177.3 1088.9 2174.6 1094.0 2170.9C1099.0 2167.2 1106.9 2162.1 1111.6 2158.1C1116.2 2154.1 1119.1 2149.8 1121.8 2146.9C1124.5 2143.9 1125.0 2142.3 1127.6 2140.5C1130.1 2138.6 1133.2 2138.1 1137.2 2135.7C1141.2 2133.3 1148.4 2129.3 1151.6 2126.1C1154.8 2122.9 1155.3 2120.2 1156.4 2116.5C1157.5 2112.7 1157.6 2110.1 1158.0 2103.6C1158.4 2097.2 1158.7 2087.5 1159.0 2078.0C1159.2 2068.5 1159.5 2051.9 1159.6 2046.7C1159.7 2041.4 1159.5 2041.4 1159.6 2046.7Z" fill="#e0736e" stroke="#333" stroke-width="1.2"/>
<path d="M1391.1 2079.6C1391.3 2083.6 1391.7 2097.5 1392.4 2103.6C1393.0 2109.8 1393.6 2112.7 1394.9 2116.5C1396.3 2120.2 1398.7 2122.9 1400.7 2126.1C1402.7 2129.3 1404.7 2132.5 1407.1 2135.7C1409.5 2138.9 1411.4 2141.5 1415.1 2145.3C1418.9 2149.0 1424.5 2154.3 1429.5 2158.1C1434.6 2161.8 1441.0 2165.0 1445.5 2167.7C1450.1 2170.4 1454.2 2172.2 1456.7 2174.1C1459.3 2176.0 1460.1 2177.3 1460.9 2178.9C1461.7 2180.5 1461.2 2182.1 1461.5 2183.7C1461.9 2185.3 1461.5 2186.9 1463.1 2188.5C1464.7 2190.1 1467.9 2191.4 1471.2 2193.3C1474.4 2195.2 1479.2 2197.6 1482.4 2199.7C1485.6 2201.8 1488.2 2204.0 1490.4 2206.1C1492.5 2208.2 1494.3 2210.6 1495.2 2212.5C1496.0 2214.4 1495.8 2215.7 1495.5 2217.3C1495.2 2218.9 1495.8 2219.7 1493.6 2222.1C1491.4 2224.5 1486.9 2228.5 1482.4 2231.7C1477.8 2234.9 1473.0 2237.6 1466.3 2241.3C1459.7 2245.1 1449.8 2249.9 1442.3 2254.1C1434.9 2258.4 1427.1 2263.2 1421.5 2267.0C1415.9 2270.7 1412.6 2273.4 1408.7 2276.6C1404.8 2279.8 1401.1 2283.4 1398.1 2286.2C1395.2 2288.9 1392.3 2292.0 1391.1 2293.2C1389.9 2294.4 1392.3 2294.4 1391.1 2293.2C1389.9 2292.0 1387.0 2288.9 1384.1 2286.2C1381.1 2283.4 1377.4 2279.8 1373.5 2276.6C1369.6 2273.4 1366.3 2270.7 1360.7 2267.0C1355.1 2263.2 1347.3 2258.4 1339.9 2254.1C1332.4 2249.9 1322.5 2245.1 1315.9 2241.3C1309.2 2237.6 1304.4 2234.9 1299.8 2231.7C1295.3 2228.5 1290.8 2224.5 1288.6 2222.1C1286.4 2219.7 1287.0 2218.9 1286.7 2217.3C1286.4 2215.7 1286.2 2214.4 1287.0 2212.5C1287.9 2210.6 1289.7 2208.2 1291.8 2206.1C1294.0 2204.0 1296.6 2201.8 1299.8 2199.7C1303.0 2197.6 1307.8 2195.2 1311.0 2193.3C1314.3 2191.4 1317.5 2190.1 1319.1 2188.5C1320.7 2186.9 1320.3 2185.3 1320.7 2183.7C1321.0 2182.1 1320.5 2180.5 1321.3 2178.9C1322.1 2177.3 1322.9 2176.0 1325.5 2174.1C1328.0 2172.2 1332.1 2170.4 1336.7 2167.7C1341.2 2165.0 1347.6 2161.8 1352.7 2158.1C1357.7 2154.3 1363.3 2149.0 1367.1 2145.3C1370.8 2141.5 1372.7 2138.9 1375.1 2135.7C1377.5 2132.5 1379.5 2129.3 1381.5 2126.1C1383.5 2122.9 1385.9 2120.2 1387.3 2116.5C1388.6 2112.7 1389.2 2109.8 1389.8 2103.6C1390.5 2097.5 1390.9 2083.6 1391.1 2079.6C1391.3 2075.6 1390.9 2075.6 1391.1 2079.6Z" fill="#4d8a93" stroke="#333" stroke-width="1.2"/>
<defs><linearGradient id="gJ" x1="0" y1="0" x2="0" y2="1"><stop offset="0" stop-color="#000" stop-opacity="0"/><stop offset="0.12" stop-color="#000" stop-opacity="0.38"/><stop offset="0.88" stop-color="#000" stop-opacity="0.38"/><stop offset="1" stop-color="#000" stop-opacity="0"/></linearGradient></defs>
<rect x="1136.3" y="2137.3" width="46.6" height="136.1" fill="url(#gJ)"/>
<rect x="1368" y="2142.1" width="46.2" height="136.1" fill="url(#gJ)"/>
<path d="M1177.1 2198.7h0M1160.7 2200.9h0M1141.8 2113.3h0M1162.4 2195.2h0M1169.8 2280.5h0M1168.0 2146.6h0M1162.8 2193.2h0M1136.1 2171.9h0M1145.3 2112.0h0M1169.1 2270.6h0M1155.6 2226.7h0M1145.8 2223.1h0M1150.0 2200.5h0M1155.4 2196.5h0M1169.8 2158.8h0M1136.3 2221.2h0M1166.9 2142.8h0M1164.5 2178.5h0M1178.7 2176.4h0M1150.8 2255.6h0M1178.9 2217.6h0M1145.4 2163.0h0M1137.5 2118.5h0M1141.6 2145.4h0M1136.9 2172.0h0M1137.4 2186.0h0M1147.9 2222.1h0M1166.4 2238.7h0M1153.1 2234.7h0M1152.6 2234.2h0M1152.7 2155.2h0M1175.6 2184.9h0M1153.0 2185.3h0M1136.2 2256.8h0M1168.2 2192.8h0M1137.0 2178.5h0M1162.8 2142.6h0M1180.1 2201.2h0M1145.1 2164.2h0M1182.7 2147.9h0M1156.2 2202.1h0M1165.5 2138.8h0M1137.8 2167.5h0M1164.8 2173.0h0M1181.7 2151.1h0M1182.3 2152.3h0M1174.3 2236.1h0M1172.3 2199.2h0M1154.3 2203.7h0M1167.8 2158.3h0M1150.8 2169.6h0M1165.0 2239.9h0M1151.7 2260.2h0M1141.4 2232.9h0M1174.3 2268.1h0M1158.0 2166.1h0M1166.8 2264.7h0M1181.5 2175.4h0M1138.9 2222.2h0M1156.6 2270.9h0M1139.9 2218.4h0M1175.1 2202.6h0M1160.7 2160.6h0M1178.2 2194.9h0M1158.0 2172.1h0M1170.4 2293.4h0M1176.3 2170.6h0M1178.1 2160.7h0M1149.5 2139.0h0M1156.5 2176.9h0M1149.2 2247.5h0M1154.8 2234.7h0M1149.0 2146.2h0M1174.4 2248.1h0M1166.1 2221.4h0M1145.1 2147.1h0M1162.8 2214.8h0M1160.2 2240.3h0M1172.7 2148.7h0M1152.4 2209.4h0M1142.8 2219.5h0M1144.3 2210.3h0M1161.2 2131.9h0M1149.5 2221.2h0M1168.8 2153.1h0M1165.5 2232.3h0M1151.5 2221.3h0M1182.3 2161.4h0M1169.4 2199.6h0M1165.5 2189.1h0M1151.0 2153.1h0M1160.6 2254.3h0M1174.9 2177.9h0M1171.5 2252.8h0M1163.3 2162.5h0M1170.3 2177.3h0M1178.6 2150.7h0M1145.8 2239.4h0M1152.6 2186.9h0M1151.7 2281.6h0M1157.1 2276.3h0M1154.3 2278.1h0M1174.5 2219.4h0M1166.3 2164.5h0M1154.7 2216.9h0M1149.8 2269.7h0M1141.6 2178.8h0M1182.5 2171.4h0M1180.5 2215.9h0M1141.0 2224.3h0M1139.7 2134.4h0M1181.2 2160.1h0M1178.8 2284.1h0M1148.0 2155.2h0M1174.1 2244.4h0M1137.7 2181.4h0M1157.6 2232.5h0M1182.0 2178.8h0M1152.8 2153.8h0M1141.3 2241.1h0M1176.8 2212.0h0M1163.0 2216.4h0M1136.8 2168.5h0M1155.6 2161.7h0M1172.1 2177.5h0M1177.3 2145.2h0M1158.4 2198.7h0M1160.9 2224.7h0M1178.0 2157.7h0M1173.6 2195.7h0M1169.2 2251.0h0M1138.1 2193.3h0M1139.7 2207.9h0M1158.8 2161.9h0M1150.1 2081.8h0M1163.2 2200.9h0M1154.2 2166.0h0M1174.0 2179.8h0M1146.6 2209.4h0M1178.7 2251.3h0M1170.3 2170.6h0M1151.0 2215.4h0M1175.1 2243.2h0M1167.6 2225.0h0M1136.4 2208.1h0M1177.5 2235.1h0M1174.7 2164.6h0M1146.8 2239.5h0M1143.7 2249.8h0M1137.7 2271.9h0M1178.3 2141.3h0M1144.0 2277.6h0M1153.2 2228.0h0M1172.0 2205.1h0M1142.4 2156.9h0M1175.0 2241.4h0M1144.3 2202.2h0M1163.9 2244.6h0M1138.0 2181.3h0M1166.4 2163.4h0M1142.1 2191.5h0M1169.8 2186.8h0M1143.9 2211.8h0M1181.0 2061.5h0M1175.0 2228.9h0M1145.5 2188.6h0M1170.7 2182.6h0M1147.0 2203.0h0M1161.2 2228.0h0M1158.4 2181.8h0M1179.2 2194.1h0M1141.8 2168.6h0M1150.9 2244.5h0M1182.3 2229.1h0M1159.0 2235.9h0M1136.3 2213.3h0M1160.3 2206.8h0M1172.9 2191.8h0M1154.6 2206.0h0M1153.5 2214.0h0M1144.5 2184.6h0M1155.4 2264.3h0M1164.0 2178.5h0M1177.1 2145.6h0M1178.0 2259.9h0M1160.8 2225.4h0M1150.0 2227.9h0M1155.7 2174.1h0M1165.1 2132.5h0M1136.5 2165.6h0M1141.6 2197.1h0M1161.8 2152.3h0M1142.6 2175.7h0M1163.9 2160.7h0M1181.8 2191.7h0M1170.6 2243.6h0M1162.0 2174.7h0M1172.5 2207.0h0M1142.8 2160.1h0M1155.3 2161.3h0M1164.8 2210.4h0M1144.0 2284.8h0M1172.7 2234.5h0M1174.2 2198.8h0M1150.7 2261.5h0M1181.0 2181.0h0M1154.9 2168.0h0M1178.7 2167.6h0M1141.8 2136.9h0M1169.1 2267.1h0M1180.3 2203.8h0M1148.7 2221.6h0M1171.3 2234.4h0M1149.9 2233.2h0M1156.2 2179.8h0M1150.9 2177.8h0M1156.0 2171.9h0M1148.7 2163.8h0M1156.2 2136.0h0M1171.9 2138.5h0M1163.3 2135.1h0M1163.9 2229.8h0M1172.8 2212.0h0M1179.1 2182.1h0M1142.1 2132.7h0M1148.5 2228.0h0M1168.0 2188.3h0M1158.7 2168.7h0M1170.9 2169.9h0M1182.6 2191.1h0M1160.4 2266.6h0M1142.2 2266.6h0M1144.9 2162.4h0M1144.3 2165.0h0M1162.4 2220.7h0M1157.3 2180.2h0M1151.3 2098.7h0M1152.1 2215.4h0M1153.4 2180.2h0M1139.8 2148.7h0M1145.2 2159.3h0M1180.1 2229.4h0M1148.1 2223.8h0M1145.0 2205.7h0M1157.8 2246.4h0M1158.6 2259.1h0M1161.7 2167.2h0M1182.8 2258.6h0M1153.2 2223.5h0M1136.5 2241.9h0M1145.0 2196.7h0M1142.0 2194.6h0M1178.0 2174.8h0M1156.7 2151.0h0M1158.6 2135.2h0M1139.1 2206.6h0M1141.3 2217.2h0M1173.9 2186.1h0M1148.7 2210.5h0M1176.1 2201.5h0M1141.3 2150.0h0M1154.2 2185.2h0M1153.7 2180.1h0M1172.3 2170.7h0M1158.3 2237.3h0M1174.5 2140.6h0M1181.7 2254.7h0M1169.9 2236.2h0M1143.7 2205.9h0M1180.2 2195.3h0M1151.5 2152.7h0M1142.7 2244.6h0M1144.1 2136.6h0M1176.0 2171.5h0M1138.5 2167.1h0M1149.2 2210.7h0M1179.5 2194.2h0M1167.5 2200.2h0M1171.1 2150.2h0M1172.8 2176.9h0M1154.5 2269.4h0M1165.3 2151.7h0M1141.0 2251.3h0M1155.9 2221.6h0M1143.6 2160.0h0M1173.2 2199.2h0M1138.1 2257.3h0M1144.8 2188.6h0M1171.2 2137.0h0M1137.1 2120.3h0M1163.2 2205.1h0M1161.9 2156.1h0M1149.7 2166.7h0M1160.2 2245.4h0M1140.5 2220.2h0M1150.6 2227.2h0M1178.7 2207.2h0M1137.9 2264.1h0M1143.3 2151.3h0M1178.9 2203.9h0M1166.5 2231.2h0M1143.6 2203.2h0M1148.0 2195.1h0M1149.5 2221.9h0M1150.2 2262.2h0M1157.7 2255.8h0M1148.7 2167.6h0M1168.1 2183.2h0M1148.1 2097.3h0M1181.6 2189.9h0M1169.9 2180.3h0M1176.2 2159.0h0M1136.2 2169.9h0M1152.4 2226.2h0M1166.8 2161.8h0M1136.5 2213.9h0M1157.9 2226.5h0M1159.6 2197.9h0M1139.9 2160.2h0M1178.1 2170.3h0M1177.7 2142.5h0M1175.4 2256.3h0M1169.0 2195.2h0M1176.6 2274.2h0M1168.9 2227.7h0M1171.8 2271.7h0M1174.8 2151.7h0M1174.8 2267.3h0M1145.6 2162.1h0M1140.9 2197.4h0M1180.6 2215.7h0M1138.5 2254.5h0M1160.4 2161.4h0M1178.9 2161.8h0M1169.1 2146.2h0M1136.5 2210.2h0M1139.2 2209.6h0M1153.2 2206.5h0M1177.0 2158.2h0M1175.0 2238.9h0M1181.8 2183.5h0M1154.7 2128.5h0M1173.8 2229.5h0M1149.8 2187.6h0M1166.2 2260.1h0M1136.4 2137.0h0M1158.0 2236.9h0M1142.2 2232.0h0M1143.4 2227.0h0M1181.5 2103.1h0M1174.2 2157.6h0M1140.7 2152.4h0M1169.8 2181.5h0M1156.7 2185.1h0M1150.3 2284.2h0M1157.4 2164.0h0M1142.2 2123.8h0M1144.8 2166.6h0M1181.9 2195.3h0M1166.7 2144.0h0M1174.5 2222.7h0M1158.7 2239.8h0M1140.0 2127.9h0M1171.6 2207.9h0M1164.3 2178.2h0M1177.9 2144.3h0M1145.3 2250.1h0M1170.0 2140.2h0M1170.2 2226.6h0M1179.9 2228.8h0M1161.4 2115.5h0M1143.9 2164.9h0M1156.3 2250.9h0M1158.8 2221.5h0M1153.5 2231.9h0M1173.4 2253.8h0M1162.5 2258.8h0M1175.2 2158.4h0M1137.0 2249.1h0M1148.3 2177.1h0M1140.8 2245.0h0M1160.7 2178.5h0M1142.2 2242.0h0M1178.4 2190.2h0M1141.4 2165.5h0M1161.7 2210.0h0M1143.9 2266.3h0M1147.1 2190.3h0M1146.3 2234.9h0M1156.6 2177.2h0M1160.3 2201.6h0M1156.7 2136.1h0M1179.5 2162.9h0M1151.6 2216.4h0M1152.3 2134.1h0M1156.1 2249.8h0M1138.1 2186.9h0M1173.0 2144.6h0M1169.7 2260.6h0M1166.7 2227.1h0M1148.1 2182.8h0M1145.5 2252.1h0M1177.6 2236.4h0M1155.4 2217.2h0M1164.7 2085.4h0M1164.6 2126.3h0M1157.1 2183.6h0M1159.4 2157.1h0M1180.7 2191.5h0M1145.1 2216.4h0M1153.7 2186.7h0M1155.8 2272.4h0M1159.4 2152.6h0M1180.4 2220.4h0M1179.2 2174.2h0M1170.5 2262.0h0M1167.5 2129.6h0M1154.8 2147.5h0M1150.8 2248.1h0M1145.8 2133.5h0M1170.6 2148.7h0M1165.2 2246.3h0M1152.1 2245.3h0M1177.5 2193.5h0M1143.8 2258.6h0M1142.0 2243.0h0M1177.7 2173.6h0M1143.4 2180.7h0M1175.9 2280.8h0M1137.1 2140.8h0M1151.6 2151.7h0M1179.2 2273.0h0M1169.8 2164.0h0M1163.5 2163.7h0M1171.7 2147.2h0M1178.6 2186.0h0M1166.2 2192.1h0M1136.8 2170.6h0M1168.2 2224.3h0M1155.1 2239.1h0M1180.3 2180.8h0M1161.3 2157.6h0M1145.0 2229.7h0M1151.9 2234.2h0M1164.2 2067.0h0M1146.1 2183.8h0M1180.9 2140.7h0M1156.3 2184.0h0M1154.6 2191.9h0M1148.1 2178.2h0M1157.9 2181.5h0M1139.5 2202.3h0M1173.3 2230.1h0M1162.5 2150.2h0M1180.4 2261.7h0M1170.7 2275.4h0M1162.3 2165.0h0M1156.7 2165.5h0M1171.2 2146.5h0M1175.6 2205.9h0M1141.9 2124.7h0M1140.5 2237.8h0M1167.1 2267.0h0M1152.4 2178.1h0M1149.4 2174.2h0M1159.5 2257.9h0M1154.5 2188.5h0M1146.1 2204.6h0M1158.4 2251.7h0M1170.2 2161.1h0M1156.1 2249.0h0M1157.2 2157.5h0M1171.9 2150.0h0M1174.8 2221.8h0M1174.4 2273.6h0M1178.6 2179.1h0M1176.7 2288.9h0M1142.3 2202.4h0M1170.0 2160.7h0M1179.1 2182.7h0M1154.8 2246.3h0M1137.3 2251.5h0M1171.6 2246.1h0M1165.7 2247.5h0M1171.8 2206.7h0M1153.1 2266.3h0M1161.9 2132.8h0M1141.0 2267.8h0M1173.3 2188.4h0M1177.6 2150.2h0M1145.3 2241.4h0M1164.6 2130.6h0M1166.2 2266.7h0M1166.8 2236.9h0M1164.6 2250.2h0M1159.7 2207.2h0M1179.8 2237.0h0M1166.9 2210.6h0M1156.3 2226.4h0M1136.2 2250.3h0M1155.7 2223.5h0M1145.7 2162.4h0M1163.7 2255.9h0M1169.5 2224.7h0M1169.1 2206.4h0M1148.9 2284.8h0M1140.3 2148.5h0M1179.7 2193.1h0M1154.5 2199.8h0M1179.4 2130.0h0M1148.8 2171.2h0M1177.2 2226.9h0M1152.6 2174.7h0M1160.5 2273.0h0M1150.3 2223.3h0M1140.8 2104.2h0M1141.4 2257.9h0M1182.9 2242.6h0M1143.3 2240.6h0M1151.2 2241.7h0M1175.4 2259.1h0M1154.3 2253.8h0M1137.7 2271.3h0M1170.2 2147.1h0M1165.9 2163.0h0M1156.3 2198.6h0M1168.5 2235.5h0M1179.0 2205.0h0M1165.1 2162.5h0M1162.4 2222.2h0M1143.6 2143.3h0M1149.2 2187.2h0M1180.1 2263.6h0M1159.0 2247.7h0M1160.3 2182.0h0M1151.7 2176.2h0M1138.6 2258.0h0M1145.0 2247.4h0M1169.3 2151.5h0M1142.4 2228.9h0M1168.0 2197.7h0M1138.8 2180.1h0M1145.2 2221.6h0M1174.7 2153.1h0M1147.0 2159.8h0M1169.0 2223.7h0M1156.6 2155.8h0M1176.7 2269.0h0M1155.9 2163.0h0M1151.3 2246.7h0M1166.8 2158.9h0M1165.2 2154.4h0M1137.9 2170.7h0M1158.9 2140.1h0M1176.6 2176.9h0M1176.2 2231.0h0M1176.4 2185.2h0M1167.8 2214.8h0M1158.7 2200.9h0M1152.0 2163.5h0M1164.3 2239.1h0M1168.8 2251.4h0M1154.4 2150.4h0M1146.9 2242.8h0M1136.7 2164.2h0M1164.0 2199.9h0M1142.2 2183.9h0M1148.3 2199.8h0M1151.2 2144.2h0M1150.3 2249.3h0M1179.7 2191.3h0M1164.6 2138.5h0M1171.6 2204.5h0M1144.8 2239.8h0M1155.5 2177.8h0M1171.9 2222.0h0M1154.7 2244.9h0M1160.5 2233.1h0M1182.0 2156.9h0M1155.8 2200.4h0M1143.9 2229.9h0M1182.4 2079.8h0M1180.0 2230.8h0M1170.3 2206.3h0M1163.2 2210.8h0M1140.6 2245.3h0M1181.8 2225.4h0M1164.2 2223.4h0M1151.8 2243.8h0M1160.3 2155.1h0M1148.3 2206.2h0M1163.5 2157.2h0M1141.0 2159.1h0M1162.6 2161.7h0M1137.3 2262.2h0M1161.8 2129.7h0M1164.8 2203.0h0M1167.3 2157.7h0M1142.7 2253.4h0M1159.8 2153.7h0M1138.2 2263.7h0M1149.2 2250.5h0M1162.1 2186.5h0M1164.6 2175.3h0M1181.6 2146.4h0M1167.3 2271.6h0M1170.3 2170.2h0M1176.4 2205.8h0M1148.0 2258.1h0M1150.6 2199.3h0M1175.9 2244.7h0M1164.2 2187.2h0M1149.0 2119.6h0M1165.6 2237.3h0M1145.7 2161.7h0M1156.2 2159.9h0M1161.9 2181.5h0M1175.6 2225.9h0M1180.3 2190.6h0M1166.2 2192.6h0M1160.6 2184.5h0M1143.6 2250.7h0M1164.2 2129.0h0M1182.2 2172.0h0M1155.6 2194.8h0M1137.2 2226.0h0M1175.0 2172.4h0M1163.2 2207.8h0M1145.2 2248.1h0M1166.9 2163.1h0M1138.2 2178.5h0M1179.4 2224.8h0M1162.6 2162.7h0M1180.9 2201.0h0M1181.4 2190.5h0M1155.9 2202.5h0M1137.7 2150.8h0M1157.1 2196.1h0M1147.2 2165.0h0M1179.7 2122.2h0M1148.4 2175.1h0M1149.2 2183.3h0M1160.8 2253.5h0M1142.0 2150.1h0M1175.3 2239.6h0M1176.9 2153.1h0M1181.7 2236.0h0M1171.4 2199.7h0M1173.5 2141.5h0M1146.7 2237.2h0M1178.8 2232.7h0M1170.2 2240.9h0M1160.4 2185.7h0M1141.0 2193.7h0M1165.0 2180.0h0M1158.0 2148.3h0M1143.3 2177.6h0M1137.1 2196.5h0M1138.2 2257.6h0M1161.1 2226.8h0M1172.5 2178.1h0M1145.2 2220.5h0M1153.1 2157.7h0M1141.4 2200.3h0M1159.7 2217.2h0M1167.5 2255.4h0M1181.9 2249.0h0M1180.7 2217.8h0M1153.8 2184.1h0M1166.1 2193.1h0M1137.2 2184.0h0M1181.7 2222.2h0M1158.9 2210.1h0M1171.1 2219.6h0M1168.6 2222.0h0M1140.0 2120.6h0M1168.5 2194.3h0M1138.4 2248.3h0M1154.3 2201.7h0M1158.5 2202.6h0M1149.6 2194.2h0M1149.2 2257.9h0M1177.9 2117.7h0M1161.6 2226.1h0M1168.4 2250.1h0M1171.9 2185.7h0M1157.8 2251.2h0M1146.0 2187.3h0M1140.0 2237.5h0M1161.0 2174.3h0M1177.6 2220.9h0M1167.3 2201.7h0M1147.8 2163.3h0M1182.5 2220.1h0M1136.9 2204.7h0M1173.8 2153.6h0M1145.9 2199.6h0M1145.9 2249.2h0M1140.1 2168.0h0M1139.0 2181.8h0M1139.2 2149.6h0M1143.1 2171.6h0M1164.4 2145.7h0M1145.5 2240.6h0M1160.1 2194.3h0M1161.8 2257.5h0M1181.3 2220.6h0M1147.3 2200.3h0M1139.0 2210.2h0M1179.1 2188.5h0M1146.9 2218.8h0M1141.2 2164.0h0M1164.5 2223.7h0M1173.8 2160.3h0M1173.2 2247.5h0M1178.9 2171.5h0M1166.3 2232.8h0M1138.8 2234.0h0M1156.8 2187.4h0M1143.3 2237.1h0M1136.9 2278.2h0M1169.9 2244.3h0M1182.6 2153.4h0M1178.7 2168.7h0M1142.4 2274.6h0M1139.5 2244.0h0M1162.2 2271.2h0M1155.2 2252.0h0M1137.0 2191.1h0M1181.7 2159.2h0M1155.3 2226.2h0M1147.4 2227.6h0M1158.0 2277.1h0M1173.8 2247.5h0M1178.9 2191.0h0M1180.0 2147.1h0M1176.8 2245.4h0M1181.0 2144.7h0M1147.8 2126.7h0M1149.8 2160.3h0M1138.2 2247.7h0M1143.9 2200.1h0M1158.2 2189.3h0M1177.5 2171.2h0M1150.8 2163.0h0M1152.1 2247.3h0M1136.8 2245.8h0M1178.8 2247.6h0M1176.3 2121.5h0M1172.0 2154.6h0M1174.3 2258.1h0M1180.5 2248.2h0M1156.8 2237.3h0M1157.8 2201.0h0M1155.4 2246.3h0M1141.6 2170.4h0M1174.5 2225.5h0M1156.7 2255.9h0M1173.0 2232.1h0M1142.4 2211.3h0M1142.4 2221.2h0M1136.3 2188.8h0M1140.7 2241.9h0M1180.4 2219.3h0M1160.6 2266.9h0M1138.3 2227.2h0M1162.8 2229.6h0M1166.0 2183.7h0M1142.6 2192.0h0M1137.3 2240.3h0M1148.0 2256.0h0M1159.4 2151.6h0M1154.1 2217.7h0M1146.6 2223.5h0M1167.3 2216.3h0M1141.3 2283.1h0M1163.5 2155.9h0M1155.8 2178.4h0M1180.2 2226.1h0M1182.3 2152.0h0M1157.9 2162.5h0M1164.6 2154.8h0M1159.8 2177.9h0M1146.5 2178.5h0M1140.3 2150.5h0M1156.8 2261.3h0M1161.4 2150.9h0M1161.0 2226.8h0M1179.2 2151.2h0M1169.0 2193.9h0M1143.8 2244.0h0M1164.8 2200.0h0M1150.7 2190.3h0M1143.8 2268.6h0M1163.5 2246.8h0M1164.2 2239.6h0M1145.9 2189.2h0M1166.0 2177.3h0M1151.6 2257.0h0M1164.3 2183.1h0M1165.5 2230.0h0M1156.4 2227.7h0M1148.9 2243.7h0M1136.3 2234.5h0M1177.2 2155.5h0M1155.1 2223.7h0M1162.5 2257.4h0M1171.7 2244.1h0M1180.8 2225.4h0M1166.8 2263.4h0M1178.0 2256.0h0M1181.8 2188.8h0M1145.6 2150.9h0M1177.4 2158.5h0M1155.2 2166.7h0M1145.9 2172.1h0M1136.4 2238.6h0M1137.7 2148.3h0M1143.2 2166.6h0M1164.0 2219.4h0M1136.7 2169.4h0M1155.0 2222.5h0M1163.6 2169.6h0M1160.1 2231.0h0M1141.5 2217.8h0M1150.6 2138.1h0M1173.3 2145.1h0M1167.1 2243.0h0M1166.6 2218.1h0M1165.1 2242.6h0M1172.8 2080.8h0M1147.8 2279.4h0M1161.6 2255.2h0M1146.7 2253.3h0M1162.2 2166.4h0M1138.3 2282.1h0M1181.3 2140.2h0M1179.2 2159.2h0M1172.2 2139.8h0M1178.4 2273.7h0M1161.3 2172.3h0M1149.1 2197.6h0M1165.7 2269.3h0M1138.9 2152.7h0M1178.0 2217.6h0M1176.1 2238.5h0M1145.3 2254.4h0M1177.6 2183.0h0M1158.7 2279.0h0M1157.3 2152.0h0M1136.8 2140.8h0M1159.4 2258.7h0M1153.9 2188.8h0M1155.6 2257.3h0M1144.8 2142.3h0M1159.0 2196.8h0M1174.2 2246.0h0M1138.9 2187.6h0M1153.2 2232.1h0M1150.7 2206.2h0M1164.9 2245.8h0M1141.4 2226.8h0M1181.3 2192.1h0M1151.5 2231.7h0M1157.7 2136.2h0M1157.1 2148.1h0M1170.3 2183.2h0M1163.1 2283.1h0M1136.4 2125.4h0M1154.9 2219.4h0M1143.0 2166.7h0M1179.6 2244.8h0M1155.4 2246.4h0M1174.3 2260.2h0M1162.7 2165.3h0M1149.8 2259.8h0M1138.5 2137.0h0M1140.4 2226.1h0M1166.9 2228.0h0M1155.8 2139.6h0M1155.4 2275.8h0M1166.2 2213.7h0M1164.3 2166.2h0M1143.5 2282.2h0M1167.5 2238.8h0M1172.5 2220.7h0M1137.8 2159.7h0M1156.1 2174.5h0M1150.5 2294.9h0M1173.9 2192.6h0M1154.3 2184.0h0M1142.7 2196.5h0M1167.5 2185.4h0M1139.8 2179.2h0M1165.0 2225.2h0M1136.6 2236.7h0M1142.9 2237.8h0M1173.5 2242.4h0M1143.9 2203.0h0M1156.5 2199.1h0M1162.4 2213.3h0M1162.9 2146.2h0M1169.1 2202.9h0M1138.0 2226.1h0M1157.7 2137.5h0M1170.0 2139.8h0M1180.8 2257.2h0M1162.6 2148.8h0M1148.2 2221.7h0M1150.2 2200.8h0M1174.3 2247.3h0M1162.3 2210.1h0M1178.2 2248.0h0M1149.1 2196.9h0M1138.1 2249.6h0M1173.2 2162.1h0M1145.2 2197.4h0M1142.1 2235.6h0M1169.3 2165.6h0M1164.8 2184.0h0M1182.2 2159.9h0M1137.5 2210.9h0M1180.4 2190.4h0M1164.4 2181.4h0M1137.7 2170.3h0M1154.5 2163.2h0M1159.2 2185.4h0M1177.9 2215.8h0M1159.8 2225.0h0M1173.0 2207.5h0M1179.2 2269.8h0M1172.7 2168.8h0M1146.6 2228.4h0M1160.8 2273.5h0M1179.8 2255.8h0M1137.6 2238.6h0M1171.3 2246.3h0M1174.0 2261.3h0M1139.2 2219.7h0M1151.4 2199.4h0M1157.9 2166.7h0M1149.9 2173.8h0M1153.1 2209.0h0M1146.5 2224.9h0M1174.0 2157.3h0M1178.3 2197.1h0M1164.4 2158.6h0M1150.0 2216.3h0M1179.0 2189.4h0M1140.4 2194.5h0M1181.2 2130.0h0M1180.1 2175.0h0M1177.0 2192.5h0M1149.9 2225.2h0M1149.2 2168.5h0M1155.1 2177.3h0M1145.3 2287.8h0M1175.9 2194.7h0M1152.1 2240.4h0M1149.7 2242.2h0M1141.9 2171.5h0M1164.3 2204.8h0M1140.8 2176.5h0M1137.3 2059.9h0M1142.7 2246.3h0M1175.9 2193.0h0M1143.7 2158.5h0M1163.0 2172.1h0M1173.0 2184.2h0M1145.0 2225.0h0M1171.5 2161.5h0M1166.0 2165.7h0M1166.4 2156.4h0M1175.1 2191.2h0M1176.1 2157.4h0M1182.0 2214.6h0M1168.9 2173.3h0M1163.5 2209.3h0M1154.8 2255.3h0M1143.0 2196.0h0M1169.0 2186.1h0M1177.6 2216.9h0M1146.9 2213.2h0M1143.8 2219.0h0M1180.7 2239.3h0M1145.7 2276.8h0M1137.1 2260.8h0M1143.3 2153.7h0M1152.6 2208.3h0M1162.9 2260.1h0M1180.3 2191.3h0M1146.5 2155.4h0M1162.2 2269.1h0M1164.6 2227.3h0M1175.0 2229.4h0M1157.3 2221.4h0M1136.8 2147.2h0M1142.5 2192.2h0M1168.0 2244.4h0M1178.5 2163.8h0M1162.7 2261.8h0M1181.2 2200.8h0M1179.8 2265.6h0M1155.9 2178.8h0M1178.3 2247.7h0M1149.3 2239.2h0M1171.2 2185.4h0M1136.8 2269.4h0M1163.0 2054.6h0M1182.6 2234.5h0M1150.7 2170.7h0M1141.5 2254.3h0M1147.8 2245.9h0M1147.1 2167.0h0M1143.2 2175.0h0M1170.6 2192.4h0M1148.7 2208.9h0M1142.0 2219.3h0M1157.3 2269.4h0M1167.4 2226.1h0M1163.1 2258.7h0M1147.8 2181.4h0M1182.9 2137.2h0M1136.8 2272.1h0M1167.0 2270.9h0M1147.0 2154.3h0M1180.3 2090.6h0M1151.5 2170.0h0M1145.0 2155.0h0M1151.8 2141.4h0M1159.4 2235.3h0M1140.8 2235.6h0M1158.9 2218.6h0M1172.0 2151.6h0M1144.6 2219.0h0M1158.7 2250.5h0M1175.9 2167.7h0M1152.3 2143.2h0M1146.1 2226.6h0M1155.0 2156.7h0M1179.4 2218.5h0M1141.5 2241.8h0M1152.3 2139.0h0M1180.5 2253.3h0M1181.6 2240.5h0M1141.0 2142.0h0M1180.8 2276.6h0M1136.9 2162.6h0M1179.8 2235.0h0M1163.6 2146.8h0M1142.0 2142.3h0M1179.1 2232.0h0M1148.6 2285.9h0M1156.2 2263.6h0M1143.3 2181.1h0M1159.0 2186.1h0M1181.7 2183.4h0M1163.6 2221.1h0M1160.3 2241.8h0M1157.2 2186.4h0M1137.3 2263.9h0M1156.6 2232.0h0M1139.0 2178.3h0M1173.0 2222.6h0M1164.6 2214.4h0M1156.9 2281.1h0M1177.0 2239.6h0M1179.7 2191.6h0M1172.0 2253.5h0M1175.1 2241.8h0M1173.3 2291.5h0M1166.9 2197.0h0M1155.0 2107.7h0M1161.9 2147.8h0M1160.1 2201.4h0M1158.9 2157.7h0M1157.5 2263.6h0M1181.3 2185.2h0M1152.5 2253.5h0M1178.1 2170.4h0M1168.5 2181.7h0M1170.9 2181.4h0M1147.8 2194.6h0M1148.4 2138.6h0M1159.8 2165.6h0M1161.3 2152.0h0M1172.0 2222.6h0M1175.4 2211.6h0M1181.3 2174.6h0M1174.9 2250.8h0M1168.6 2222.6h0M1152.4 2259.1h0M1160.3 2123.4h0M1144.1 2230.7h0M1150.6 2261.4h0M1181.0 2276.4h0M1179.9 2194.8h0M1141.3 2109.7h0M1182.1 2185.4h0M1182.9 2177.4h0M1152.6 2175.2h0M1140.6 2172.3h0M1168.1 2172.0h0M1139.6 2254.6h0M1151.6 2154.7h0M1160.4 2220.8h0M1146.5 2194.8h0M1146.1 2229.6h0M1167.7 2177.2h0M1150.2 2171.1h0M1163.3 2149.1h0M1161.5 2280.9h0M1167.4 2176.2h0M1175.3 2230.0h0M1149.4 2194.6h0M1169.7 2183.2h0M1151.8 2173.2h0M1159.7 2264.9h0M1165.3 2179.4h0M1171.9 2149.1h0M1139.2 2154.4h0M1143.8 2219.2h0M1157.2 2230.8h0M1142.2 2200.4h0M1137.4 2216.0h0M1166.3 2229.1h0M1165.7 2158.5h0M1163.8 2086.6h0M1158.0 2271.5h0M1151.5 2273.0h0M1158.8 2259.1h0M1147.3 2149.6h0M1149.5 2152.9h0M1181.1 2176.9h0M1163.7 2219.8h0M1158.2 2216.6h0M1150.9 2191.5h0M1155.7 2195.5h0M1170.3 2215.5h0M1179.9 2202.4h0M1168.1 2253.0h0M1171.1 2242.7h0M1154.8 2210.1h0M1145.2 2213.5h0M1165.1 2145.1h0M1165.1 2203.0h0M1151.8 2204.0h0M1166.7 2241.5h0M1141.2 2196.3h0M1166.1 2197.1h0M1168.9 2131.1h0M1166.7 2139.8h0M1137.2 2185.9h0M1154.1 2195.4h0M1171.3 2155.5h0M1180.7 2173.8h0M1146.2 2246.9h0M1178.3 2247.9h0M1166.4 2134.6h0M1145.9 2148.4h0M1141.7 2244.2h0M1151.8 2232.7h0M1164.8 2145.0h0M1146.1 2151.4h0M1174.9 2204.8h0M1152.2 2140.9h0M1162.2 2169.1h0M1175.3 2220.1h0M1177.1 2152.0h0M1159.8 2227.0h0M1158.3 2247.4h0M1173.8 2243.5h0M1161.3 2220.6h0M1182.6 2141.6h0M1153.6 2162.8h0M1164.5 2247.4h0M1173.1 2155.2h0M1145.1 2198.8h0M1150.3 2258.5h0M1157.1 2168.2h0M1146.0 2207.3h0M1161.2 2201.6h0M1142.7 2211.2h0M1161.8 2258.1h0M1180.5 2141.2h0M1159.8 2184.0h0M1154.4 2241.8h0M1162.3 2246.6h0M1169.8 2211.3h0M1159.2 2202.9h0M1146.3 2214.6h0M1165.6 2228.5h0M1152.6 2165.7h0M1166.3 2259.9h0M1175.6 2260.7h0M1150.7 2174.3h0M1170.8 2158.6h0M1163.0 2171.8h0M1143.4 2172.2h0M1162.1 2206.3h0M1146.4 2253.3h0M1168.5 2221.3h0M1144.5 2279.8h0M1182.6 2204.9h0M1181.8 2148.6h0M1148.0 2236.6h0M1141.4 2231.4h0M1172.9 2240.1h0M1167.9 2205.4h0M1138.2 2167.8h0M1164.9 2260.6h0M1137.9 2243.1h0M1172.5 2237.8h0M1156.9 2260.7h0M1138.3 2233.3h0M1152.9 2159.0h0M1162.8 2186.2h0M1140.0 2257.0h0M1161.7 2257.8h0M1147.3 2197.8h0M1150.1 2188.1h0M1150.2 2186.9h0M1138.0 2245.8h0M1183.0 2255.3h0M1137.7 2184.3h0M1166.7 2197.6h0M1181.2 2273.9h0M1167.4 2195.3h0M1181.9 2232.3h0M1171.4 2191.2h0M1149.9 2244.2h0M1148.7 2204.7h0M1177.4 2219.2h0M1142.2 2213.4h0M1179.9 2232.2h0M1142.4 2278.0h0M1146.3 2158.5h0M1147.7 2133.8h0M1148.8 2143.3h0M1156.9 2236.8h0M1180.6 2216.9h0M1160.0 2241.9h0M1163.7 2245.6h0M1151.2 2191.7h0M1177.5 2150.0h0M1160.4 2134.3h0M1158.6 2218.3h0M1153.0 2161.6h0M1158.9 2178.6h0M1178.9 2238.4h0M1169.9 2251.5h0M1176.6 2262.9h0M1178.9 2204.0h0M1176.6 2230.8h0M1161.4 2164.4h0M1160.7 2128.8h0M1157.9 2159.5h0M1149.1 2131.3h0M1139.5 2142.5h0M1177.2 2231.2h0M1150.8 2245.4h0M1164.6 2166.2h0M1145.6 2113.4h0M1156.6 2160.8h0M1145.8 2185.2h0M1163.1 2169.9h0M1147.5 2208.2h0M1147.6 2226.9h0M1152.6 2290.6h0M1159.0 2160.3h0M1177.7 2202.7h0M1145.3 2174.3h0M1138.7 2196.6h0M1169.6 2179.2h0M1170.4 2181.3h0M1156.3 2200.2h0M1166.6 2142.6h0M1169.7 2191.2h0M1152.4 2141.1h0M1146.4 2184.0h0M1181.9 2146.4h0M1160.6 2263.8h0M1179.3 2184.4h0M1179.1 2191.6h0M1163.0 2199.3h0M1151.5 2146.0h0M1165.6 2060.4h0M1163.0 2166.5h0M1169.3 2156.9h0M1147.0 2146.0h0M1172.1 2208.3h0M1168.0 2152.5h0M1171.1 2242.6h0M1138.8 2163.5h0M1161.3 2197.0h0M1149.7 2233.7h0M1165.5 2234.0h0M1152.3 2206.2h0M1152.1 2244.9h0M1172.7 2242.8h0M1177.5 2212.0h0M1168.3 2158.4h0M1148.7 2133.1h0M1167.5 2205.8h0M1160.9 2236.9h0M1139.4 2142.2h0M1174.8 2171.0h0M1177.2 2174.0h0M1180.9 2183.4h0M1148.3 2153.6h0M1167.4 2170.1h0M1173.6 2143.5h0M1169.2 2175.4h0M1149.2 2237.1h0M1181.2 2177.0h0M1169.9 2128.6h0M1181.4 2182.6h0M1165.6 2227.4h0M1139.9 2166.8h0M1160.2 2252.0h0M1173.3 2140.2h0M1167.7 2201.3h0M1141.5 2258.0h0M1170.4 2254.0h0M1167.0 2152.7h0M1166.7 2222.3h0M1141.1 2136.6h0M1146.9 2167.6h0M1157.0 2218.2h0M1174.5 2228.1h0M1172.5 2238.5h0M1148.4 2231.7h0M1161.1 2259.6h0M1140.5 2200.3h0M1171.8 2249.8h0M1180.0 2227.6h0M1165.9 2236.2h0M1159.9 2236.6h0M1172.9 2172.3h0M1180.6 2249.3h0M1180.5 2249.8h0M1159.8 2159.7h0M1153.7 2201.8h0M1170.1 2162.7h0M1160.4 2243.9h0M1144.5 2190.0h0M1175.5 2224.4h0M1137.3 2143.2h0M1148.9 2138.9h0M1169.3 2153.1h0M1182.6 2158.7h0M1169.9 2231.5h0M1140.3 2216.1h0M1163.1 2260.5h0M1178.2 2192.5h0M1170.5 2161.7h0M1157.0 2194.6h0M1165.2 2225.0h0M1166.4 2152.4h0M1155.9 2258.1h0M1171.3 2245.1h0M1176.0 2223.2h0M1148.7 2223.8h0M1180.6 2214.5h0M1145.4 2172.1h0M1139.2 2218.9h0M1167.7 2153.3h0M1141.2 2261.4h0M1172.3 2180.7h0M1180.8 2272.9h0M1161.6 2223.1h0M1148.2 2216.7h0M1151.6 2125.7h0M1181.1 2172.4h0M1167.2 2204.7h0M1166.7 2175.1h0M1163.7 2262.6h0M1166.8 2127.6h0M1170.4 2207.2h0M1175.0 2176.1h0M1151.6 2210.1h0M1156.4 2160.0h0M1159.8 2173.6h0M1167.5 2264.5h0M1156.7 2188.1h0M1160.5 2223.8h0M1167.0 2137.9h0M1178.7 2237.7h0M1154.1 2169.6h0M1168.2 2273.6h0M1153.7 2273.4h0M1161.5 2220.2h0M1137.9 2166.0h0M1155.9 2201.8h0M1158.4 2253.2h0M1167.9 2172.8h0M1167.8 2216.7h0M1146.5 2262.2h0M1141.6 2244.1h0M1147.3 2147.8h0M1162.5 2216.4h0M1176.7 2261.3h0M1166.6 2281.0h0M1145.9 2285.5h0M1146.8 2156.7h0M1143.5 2199.1h0M1155.2 2191.2h0M1171.1 2238.5h0M1148.8 2203.7h0M1146.0 2204.5h0M1169.6 2247.3h0M1146.4 2136.7h0M1139.1 2235.7h0M1136.4 2258.2h0M1170.9 2204.0h0M1179.2 2200.2h0M1151.7 2214.8h0M1177.7 2130.5h0M1154.1 2249.2h0M1146.8 2218.6h0M1165.1 2242.8h0M1146.9 2265.4h0M1176.0 2249.6h0M1151.2 2169.8h0M1139.3 2140.5h0M1141.5 2158.7h0M1155.9 2261.8h0M1141.5 2188.8h0M1176.9 2270.5h0M1138.5 2181.7h0M1152.1 2206.5h0M1170.2 2280.1h0M1180.4 2179.1h0M1169.7 2235.9h0M1172.0 2163.6h0M1149.2 2264.4h0M1158.5 2241.9h0M1156.1 2188.0h0M1158.2 2149.0h0M1140.1 2169.8h0M1157.2 2166.0h0M1169.5 2200.6h0M1138.9 2238.6h0M1176.8 2218.1h0M1180.8 2173.1h0M1142.7 2149.9h0M1179.1 2200.2h0M1168.3 2210.7h0M1162.5 2258.7h0M1143.5 2163.2h0M1163.5 2186.2h0M1158.4 2171.8h0M1136.5 2196.7h0M1139.3 2207.6h0M1170.8 2229.2h0M1169.7 2216.9h0M1167.5 2181.5h0M1180.3 2249.9h0M1169.9 2137.4h0M1152.7 2246.2h0M1143.8 2137.5h0M1144.6 2149.4h0M1172.7 2169.5h0M1140.1 2238.3h0M1151.0 2253.8h0M1138.7 2260.8h0M1143.1 2187.3h0M1157.8 2252.5h0M1141.2 2136.8h0M1167.9 2163.5h0M1176.3 2255.1h0M1159.1 2215.1h0M1158.3 2208.6h0M1138.7 2135.8h0M1169.6 2222.8h0M1139.8 2245.6h0M1168.6 2137.6h0M1179.9 2160.3h0M1145.4 2198.0h0M1165.2 2220.7h0M1158.2 2182.6h0M1137.7 2210.5h0M1177.5 2202.0h0M1139.7 2167.1h0M1157.1 2200.9h0M1182.2 2184.4h0M1159.9 2155.2h0M1172.1 2186.0h0M1157.7 2252.4h0M1148.9 2260.1h0M1148.9 2177.8h0M1141.3 2271.0h0M1174.1 2191.1h0M1163.6 2145.6h0M1143.5 2258.4h0M1161.9 2250.5h0M1156.0 2199.8h0M1145.2 2200.8h0M1173.2 2184.4h0M1139.3 2175.5h0M1180.8 2190.9h0M1148.2 2264.6h0M1173.7 2150.1h0M1166.7 2203.0h0M1136.8 2145.9h0M1148.4 2174.5h0M1143.5 2253.7h0M1175.7 2181.8h0M1145.2 2174.6h0M1178.5 2191.5h0M1136.3 2185.3h0M1164.1 2170.1h0M1141.9 2253.7h0M1176.5 2235.1h0M1178.9 2247.8h0M1157.8 2202.5h0M1149.7 2233.8h0M1152.9 2129.4h0M1137.0 2131.3h0M1161.8 2211.3h0M1165.4 2165.1h0M1170.6 2242.3h0M1162.6 2206.8h0M1170.4 2254.4h0M1169.4 2141.8h0M1157.5 2208.3h0M1166.2 2259.3h0M1157.4 2163.4h0M1167.9 2172.5h0M1168.6 2225.5h0M1136.5 2218.2h0M1177.4 2186.1h0M1179.5 2253.6h0M1144.8 2254.4h0M1159.0 2284.4h0M1161.8 2201.9h0M1175.7 2276.8h0M1140.1 2184.4h0M1180.3 2200.6h0M1182.0 2157.4h0M1139.5 2155.0h0M1139.6 2248.5h0M1143.7 2195.1h0M1180.1 2184.2h0M1175.6 2222.5h0M1160.8 2186.7h0M1140.0 2219.4h0M1149.6 2214.7h0M1180.4 2174.2h0M1163.8 2215.1h0M1170.4 2175.8h0M1144.2 2255.8h0M1173.8 2143.7h0M1171.5 2132.0h0M1175.6 2198.4h0M1147.5 2151.5h0M1150.4 2254.5h0M1154.5 2223.6h0M1179.6 2199.7h0M1144.5 2230.2h0M1168.2 2126.1h0M1143.6 2148.1h0M1159.6 2214.1h0M1137.1 2233.1h0M1156.2 2262.0h0M1171.1 2251.6h0M1163.3 2215.5h0M1147.4 2237.7h0M1175.2 2239.4h0M1142.5 2170.3h0M1149.7 2192.6h0M1153.6 2235.6h0M1152.3 2278.1h0M1165.6 2179.9h0M1140.4 2250.0h0M1177.9 2158.0h0M1166.1 2150.4h0M1147.3 2238.9h0M1154.7 2234.6h0M1170.3 2210.8h0M1149.0 2192.1h0M1160.3 2232.8h0M1170.1 2125.1h0M1167.5 2250.3h0M1170.4 2196.6h0M1150.8 2253.4h0M1180.8 2231.5h0M1138.9 2141.6h0M1162.4 2147.9h0M1159.0 2184.0h0M1159.8 2246.2h0M1168.6 2243.5h0M1137.2 2222.9h0M1140.5 2185.8h0M1147.7 2216.1h0M1159.4 2152.5h0M1144.1 2224.1h0M1156.0 2251.9h0M1164.7 2217.5h0M1172.7 2240.8h0M1153.1 2149.2h0M1180.8 2192.3h0M1179.7 2258.6h0M1160.2 2178.2h0M1181.9 2136.9h0M1173.2 2165.4h0M1142.3 2250.1h0M1168.8 2218.6h0M1141.9 2121.4h0M1175.8 2205.9h0M1150.8 2181.5h0M1176.1 2280.9h0M1175.9 2218.0h0M1157.0 2202.1h0M1166.3 2240.2h0M1157.7 2188.4h0M1148.7 2240.1h0M1173.8 2158.8h0M1172.7 2134.7h0M1172.7 2223.9h0M1147.1 2184.8h0M1150.0 2249.9h0M1168.5 2220.8h0M1163.2 2088.8h0M1149.0 2234.6h0M1165.7 2252.5h0M1156.3 2277.4h0M1147.9 2199.3h0M1182.7 2222.8h0M1179.6 2214.4h0M1149.1 2138.1h0M1164.3 2190.0h0M1146.6 2211.9h0M1164.5 2228.1h0M1141.4 2223.9h0M1177.2 2202.7h0M1147.4 2235.2h0M1153.6 2144.8h0M1169.3 2247.3h0M1172.4 2169.5h0M1158.1 2245.8h0M1146.9 2176.7h0M1160.2 2214.0h0M1175.8 2177.2h0M1176.3 2238.3h0M1149.9 2223.5h0M1144.4 2204.0h0M1177.5 2177.2h0M1151.6 2226.0h0M1147.9 2233.6h0M1172.7 2210.8h0M1175.0 2236.8h0M1175.0 2202.6h0M1176.3 2220.8h0M1137.1 2269.0h0M1168.7 2213.8h0M1142.0 2124.3h0M1178.8 2203.3h0M1168.0 2216.9h0M1158.6 2157.9h0M1136.6 2237.0h0M1180.7 2133.2h0M1140.9 2177.2h0M1137.7 2270.4h0M1159.2 2181.3h0M1141.9 2171.8h0M1172.4 2168.0h0M1151.9 2192.1h0M1157.9 2242.6h0M1173.2 2142.7h0M1163.1 2172.5h0M1150.3 2189.6h0M1164.1 2259.7h0M1164.8 2258.8h0M1165.5 2169.3h0M1157.4 2148.1h0M1180.6 2243.5h0M1143.3 2237.6h0M1144.1 2270.8h0M1178.8 2218.0h0M1179.2 2196.8h0M1152.6 2261.8h0M1181.2 2187.7h0M1144.6 2177.7h0M1175.9 2229.7h0M1171.4 2250.5h0M1181.8 2175.6h0M1176.1 2233.1h0M1176.9 2152.6h0M1157.3 2251.4h0M1140.8 2183.9h0M1155.4 2201.8h0M1143.3 2194.0h0M1158.4 2145.1h0M1171.4 2248.1h0M1145.0 2151.0h0M1141.8 2239.8h0M1152.1 2258.4h0M1141.7 2180.5h0M1158.5 2203.5h0M1162.9 2235.2h0M1146.3 2180.9h0M1155.2 2149.2h0M1146.6 2210.1h0M1147.2 2211.2h0M1152.3 2177.3h0M1155.6 2198.2h0M1142.1 2199.5h0M1140.0 2136.0h0M1141.0 2164.2h0M1162.8 2204.7h0M1141.4 2135.8h0M1142.5 2186.7h0M1179.2 2178.8h0M1174.4 2216.7h0M1182.2 2185.7h0M1148.3 2178.8h0M1177.9 2190.1h0M1149.6 2263.7h0M1164.4 2242.6h0M1145.4 2193.4h0M1143.1 2183.1h0M1136.2 2223.3h0M1151.8 2204.9h0M1182.1 2253.0h0M1143.9 2130.2h0M1171.3 2204.8h0M1136.2 2229.7h0M1162.2 2278.4h0M1150.3 2290.7h0M1161.5 2167.2h0M1160.5 2156.7h0M1148.1 2199.6h0M1169.5 2206.1h0M1179.6 2216.0h0M1152.9 2279.8h0M1136.5 2213.3h0M1159.0 2286.3h0M1171.4 2181.2h0M1147.3 2243.7h0M1138.1 2226.3h0M1144.3 2221.1h0M1170.3 2227.3h0M1176.3 2242.8h0M1166.1 2214.1h0M1147.2 2158.4h0M1152.6 2250.0h0M1152.3 2261.1h0M1144.9 2150.4h0M1170.9 2211.9h0M1145.5 2246.7h0M1165.3 2144.0h0M1141.5 2216.6h0M1162.9 2173.6h0M1149.2 2231.5h0M1182.2 2160.9h0M1158.0 2150.2h0M1170.7 2234.3h0M1141.8 2181.1h0M1151.6 2252.2h0M1176.1 2212.2h0M1145.0 2257.4h0M1137.5 2154.0h0M1154.5 2197.0h0M1148.1 2129.7h0M1176.1 2233.6h0M1138.6 2165.2h0M1181.9 2213.5h0M1167.7 2182.4h0M1176.1 2161.9h0M1145.3 2162.3h0M1158.0 2263.7h0M1172.1 2217.9h0M1148.6 2210.3h0M1143.7 2180.9h0M1178.6 2194.4h0M1147.9 2218.3h0M1151.5 2243.3h0M1165.4 2278.4h0M1176.4 2200.4h0M1162.6 2169.9h0M1156.7 2131.5h0M1167.0 2158.4h0M1166.4 2181.0h0M1149.1 2218.4h0M1181.0 2256.1h0M1156.4 2262.4h0M1168.4 2180.1h0M1150.5 2139.0h0M1149.4 2171.7h0M1172.8 2274.9h0M1176.4 2225.7h0M1158.2 2135.1h0M1170.8 2212.4h0M1160.1 2186.1h0M1144.6 2176.9h0M1141.4 2257.3h0M1177.3 2188.2h0M1171.0 2237.2h0M1176.7 2257.7h0M1169.9 2281.5h0M1138.6 2158.4h0M1155.4 2230.6h0M1137.5 2193.2h0M1140.6 2190.5h0M1150.3 2171.0h0M1164.9 2219.8h0M1167.2 2252.0h0M1140.9 2178.2h0M1149.6 2159.9h0M1153.4 2282.8h0M1154.2 2157.6h0M1140.1 2249.5h0M1162.8 2159.7h0M1162.5 2200.3h0M1154.9 2163.0h0M1174.9 2178.8h0M1157.1 2181.9h0M1136.6 2173.1h0M1139.5 2190.1h0M1149.7 2235.6h0M1176.9 2248.3h0M1156.7 2261.2h0M1139.1 2244.8h0M1180.8 2142.8h0M1165.9 2183.6h0M1182.3 2217.1h0M1160.0 2170.3h0M1154.7 2191.0h0M1140.9 2224.6h0M1141.1 2169.4h0M1166.0 2166.9h0M1173.1 2159.8h0M1161.0 2211.9h0M1181.9 2280.5h0M1136.6 2149.8h0M1146.9 2219.2h0M1174.8 2149.2h0M1167.6 2229.0h0M1176.5 2277.0h0M1183.0 2261.7h0M1142.8 2153.0h0M1138.8 2287.8h0M1177.7 2248.1h0M1172.8 2169.8h0M1142.5 2215.3h0M1146.1 2199.1h0M1141.9 2193.2h0M1141.4 2249.7h0M1153.5 2173.3h0M1163.5 2239.8h0M1156.7 2173.7h0M1166.6 2192.7h0M1179.3 2279.6h0M1168.8 2153.6h0M1141.3 2261.7h0M1168.1 2218.0h0M1158.7 2188.9h0M1147.6 2260.8h0M1155.2 2191.2h0M1153.6 2278.6h0M1136.6 2203.1h0M1153.2 2271.8h0M1172.1 2251.3h0M1170.9 2172.1h0M1165.2 2172.9h0M1157.4 2225.5h0M1146.3 2172.1h0M1152.4 2221.4h0M1138.1 2166.7h0M1167.8 2181.2h0M1159.5 2174.1h0M1178.2 2247.2h0M1155.3 2196.5h0M1140.8 2193.8h0M1166.2 2202.3h0M1153.7 2198.9h0M1147.0 2212.6h0M1143.6 2250.9h0M1171.2 2176.8h0M1181.7 2236.5h0M1174.6 2187.7h0M1153.1 2176.6h0M1156.3 2186.6h0M1142.7 2256.0h0M1170.3 2256.4h0M1151.1 2192.3h0M1181.4 2192.0h0M1161.7 2170.6h0M1163.6 2157.3h0M1179.6 2253.9h0M1139.4 2156.6h0M1147.6 2163.4h0M1182.7 2243.4h0M1148.2 2167.4h0M1139.5 2142.3h0M1157.3 2197.3h0M1177.3 2137.8h0M1163.7 2159.4h0M1139.0 2195.7h0M1158.5 2162.5h0M1176.4 2114.9h0M1138.3 2241.4h0M1175.5 2200.6h0M1167.0 2154.8h0M1143.3 2242.8h0M1141.1 2203.0h0M1160.4 2245.5h0M1147.6 2152.5h0M1141.8 2233.5h0M1153.8 2234.7h0M1178.1 2228.6h0M1146.5 2250.2h0M1141.5 2163.8h0M1147.1 2244.8h0M1181.3 2184.9h0M1148.9 2192.2h0M1160.0 2196.3h0M1171.5 2199.1h0M1180.4 2187.2h0M1156.7 2188.5h0M1176.5 2146.2h0M1180.6 2155.4h0M1148.4 2198.6h0M1179.1 2269.3h0M1161.5 2135.9h0M1136.4 2229.8h0M1175.5 2174.4h0M1176.9 2149.1h0M1138.7 2255.8h0M1168.2 2201.3h0M1137.2 2194.8h0M1140.4 2215.4h0M1163.8 2166.7h0M1158.9 2269.9h0M1158.9 2218.0h0M1142.7 2168.5h0M1173.7 2162.4h0M1150.3 2261.2h0M1152.1 2158.5h0M1139.4 2146.5h0M1176.3 2151.6h0M1151.4 2171.6h0M1159.6 2201.3h0M1173.3 2201.4h0M1151.6 2277.3h0M1168.3 2246.1h0M1142.6 2213.7h0M1178.7 2257.8h0M1153.8 2136.0h0M1160.7 2135.8h0M1157.6 2140.1h0M1147.6 2230.9h0M1160.8 2267.2h0M1177.4 2237.5h0M1150.7 2254.9h0M1181.9 2143.9h0M1161.7 2229.3h0M1182.8 2159.7h0M1162.0 2258.2h0M1143.5 2137.0h0M1159.9 2126.9h0M1142.8 2272.3h0M1172.3 2204.6h0M1137.0 2145.7h0M1155.3 2213.9h0M1166.5 2173.2h0M1149.0 2234.8h0M1171.7 2246.5h0M1152.3 2202.7h0M1171.2 2234.4h0M1144.1 2221.9h0M1151.5 2198.1h0M1158.6 2217.7h0M1138.9 2144.3h0M1149.5 2242.9h0M1170.2 2186.2h0M1147.4 2245.9h0M1169.8 2209.0h0M1152.3 2089.5h0M1152.4 2251.4h0M1168.1 2261.3h0M1143.7 2264.6h0M1170.5 2233.5h0M1150.2 2272.7h0M1180.4 2233.3h0M1150.2 2136.8h0M1162.7 2096.6h0M1172.3 2260.3h0M1160.8 2189.3h0M1172.5 2176.1h0M1146.1 2142.3h0M1150.2 2163.4h0M1155.0 2282.7h0M1168.7 2167.3h0M1181.7 2277.2h0M1155.2 2168.9h0M1174.5 2169.4h0M1138.3 2131.3h0M1165.7 2189.8h0M1145.8 2208.2h0M1178.0 2235.1h0M1162.0 2190.5h0M1138.1 2156.7h0M1143.8 2161.0h0M1155.3 2164.5h0M1182.5 2242.3h0M1154.8 2157.6h0M1180.4 2214.9h0M1144.4 2232.5h0M1180.3 2169.1h0M1156.7 2196.4h0M1144.5 2237.9h0M1178.7 2198.4h0M1164.5 2176.2h0M1171.3 2207.1h0M1174.9 2192.3h0M1148.3 2179.6h0M1147.3 2196.3h0M1147.1 2175.1h0M1137.2 2226.2h0M1144.9 2163.9h0M1173.8 2233.2h0M1168.0 2231.9h0M1143.7 2270.4h0M1149.4 2206.0h0M1166.3 2219.6h0M1136.8 2274.8h0M1136.2 2180.4h0M1159.3 2191.0h0M1172.7 2205.4h0M1179.5 2184.6h0M1165.2 2252.5h0M1153.3 2213.2h0M1154.6 2226.4h0M1155.2 2257.2h0M1174.6 2135.3h0M1139.9 2166.4h0M1144.4 2127.1h0M1150.9 2148.3h0M1145.5 2245.8h0M1181.7 2235.7h0M1144.6 2173.9h0M1180.3 2200.9h0M1182.6 2127.2h0M1179.0 2277.1h0M1176.6 2250.4h0M1172.5 2236.3h0M1157.6 2234.4h0M1150.0 2097.5h0M1178.2 2170.3h0M1156.4 2252.9h0M1144.2 2228.7h0M1144.8 2174.9h0M1143.4 2218.0h0M1175.7 2216.8h0M1153.6 2242.0h0M1159.6 2190.1h0M1179.1 2228.2h0M1139.0 2174.1h0M1149.6 2187.9h0M1155.0 2190.1h0M1172.9 2249.3h0M1136.4 2149.7h0M1137.8 2168.4h0M1164.5 2133.1h0M1147.1 2211.4h0M1168.8 2157.3h0M1150.3 2170.6h0M1149.7 2163.4h0M1177.8 2222.6h0M1157.2 2146.0h0M1175.8 2159.2h0M1157.9 2236.6h0M1175.4 2162.3h0M1179.8 2221.2h0M1173.5 2228.3h0M1141.0 2243.1h0M1153.3 2208.2h0M1140.3 2179.3h0M1139.7 2257.0h0M1178.0 2227.1h0M1136.5 2194.3h0M1166.6 2148.3h0M1155.1 2153.6h0M1145.3 2183.5h0M1136.7 2127.6h0M1151.0 2237.6h0M1167.6 2133.8h0M1158.9 2155.7h0M1145.9 2143.5h0M1177.1 2215.1h0M1173.9 2206.9h0M1143.7 2189.4h0M1179.3 2173.9h0M1147.0 2190.3h0M1179.5 2159.5h0M1143.8 2177.1h0M1140.8 2208.2h0M1145.2 2203.2h0M1152.7 2152.5h0M1174.3 2255.0h0M1167.1 2214.9h0M1176.5 2223.2h0M1181.9 2131.2h0M1139.9 2166.5h0M1139.8 2174.7h0M1178.4 2152.9h0M1151.5 2256.4h0M1164.7 2259.2h0M1182.8 2135.9h0M1157.0 2160.9h0M1178.1 2153.7h0M1165.2 2124.9h0M1159.7 2181.5h0M1164.8 2178.8h0M1176.9 2225.4h0M1155.8 2196.6h0M1181.6 2251.3h0M1155.0 2191.5h0M1146.2 2219.9h0M1162.7 2149.0h0M1137.3 2211.4h0M1144.5 2242.9h0M1142.5 2220.9h0M1181.3 2227.6h0M1150.5 2190.9h0M1143.3 2239.5h0M1146.7 2200.9h0M1145.2 2183.1h0M1160.7 2260.1h0M1148.4 2143.1h0M1166.7 2207.4h0M1136.3 2160.5h0M1161.1 2243.2h0M1177.9 2133.3h0M1142.7 2250.3h0M1140.2 2234.3h0M1154.2 2176.8h0M1160.9 2156.1h0M1139.5 2220.6h0M1158.4 2250.1h0M1177.2 2221.4h0M1140.2 2199.9h0M1147.2 2259.8h0M1151.3 2093.2h0M1163.0 2086.7h0M1141.4 2213.5h0M1140.1 2189.6h0M1173.6 2177.6h0M1140.7 2241.8h0M1152.4 2146.5h0M1177.1 2231.6h0M1157.3 2199.9h0M1171.3 2148.4h0M1158.5 2182.9h0M1181.0 2177.7h0M1157.5 2180.0h0M1179.5 2237.9h0M1148.6 2251.1h0M1153.7 2232.5h0M1148.6 2143.6h0M1180.0 2268.3h0M1180.2 2193.7h0M1181.9 2242.7h0M1144.2 2255.3h0M1173.2 2139.4h0M1169.3 2243.2h0M1174.6 2140.1h0M1170.9 2230.7h0M1158.3 2184.3h0M1149.6 2213.9h0M1169.8 2143.1h0M1172.1 2242.6h0M1168.9 2215.5h0M1140.6 2232.9h0M1136.6 2221.1h0M1143.0 2146.5h0M1148.4 2158.8h0M1138.0 2195.1h0M1179.4 2218.3h0M1164.6 2149.0h0M1144.6 2183.7h0M1163.4 2204.3h0M1148.4 2170.9h0M1174.8 2249.0h0M1167.5 2190.6h0M1180.5 2205.8h0M1177.8 2138.4h0M1161.3 2261.0h0M1163.5 2159.7h0M1174.7 2257.9h0M1164.5 2229.7h0M1149.0 2206.9h0M1139.9 2232.8h0M1169.5 2228.4h0M1140.0 2266.0h0M1143.9 2165.5h0M1176.1 2171.1h0M1163.0 2227.1h0M1161.6 2171.6h0M1181.5 2209.5h0M1163.1 2214.3h0M1145.4 2173.7h0M1162.2 2260.7h0M1138.8 2193.3h0M1164.7 2209.9h0M1153.3 2243.9h0M1150.8 2209.9h0M1176.2 2124.1h0M1162.1 2176.7h0M1151.3 2203.1h0M1139.1 2247.0h0M1146.6 2220.8h0M1180.0 2228.5h0M1176.0 2164.6h0M1160.1 2222.6h0M1160.4 2161.2h0M1153.8 2266.4h0M1151.2 2139.5h0M1179.0 2150.6h0M1159.6 2238.3h0M1153.0 2247.2h0M1168.9 2155.2h0M1167.9 2192.5h0M1162.1 2121.5h0M1140.9 2175.7h0M1168.7 2250.4h0M1179.7 2198.1h0M1142.9 2119.0h0M1160.5 2230.5h0M1148.2 2182.5h0M1148.6 2174.1h0M1151.6 2239.3h0M1165.9 2163.6h0M1145.4 2255.7h0M1139.6 2158.2h0M1164.6 2251.4h0M1139.8 2179.1h0M1153.8 2256.0h0M1158.8 2236.7h0M1154.3 2175.5h0M1157.1 2194.8h0M1173.9 2213.1h0M1144.5 2247.3h0M1164.0 2204.6h0M1160.8 2232.0h0M1168.1 2260.6h0M1163.1 2211.5h0M1162.3 2187.0h0M1176.6 2251.3h0M1145.6 2176.3h0M1175.2 2235.1h0M1137.9 2268.1h0M1141.1 2232.1h0M1153.9 2181.3h0M1160.7 2225.3h0M1177.2 2163.2h0M1149.1 2201.6h0M1163.0 2221.0h0M1173.1 2245.3h0M1175.8 2227.6h0M1165.8 2216.0h0M1173.0 2261.0h0M1167.7 2272.2h0M1152.9 2256.2h0M1172.5 2252.2h0M1180.3 2189.3h0M1158.0 2285.6h0M1159.9 2181.6h0M1137.0 2233.6h0M1156.7 2185.5h0M1170.2 2202.2h0M1168.9 2254.9h0M1168.7 2134.7h0M1150.1 2178.2h0M1156.3 2177.3h0M1170.4 2171.3h0M1169.2 2239.3h0M1144.1 2140.6h0M1151.6 2280.4h0M1181.9 2254.2h0M1175.5 2284.6h0M1174.5 2177.5h0M1170.4 2151.0h0M1153.5 2211.1h0M1148.5 2219.0h0M1141.2 2241.5h0M1169.0 2270.8h0M1137.3 2130.0h0M1145.5 2255.8h0M1178.2 2248.2h0M1180.0 2199.1h0M1152.8 2138.6h0M1146.4 2191.2h0M1171.4 2189.5h0M1177.6 2212.0h0M1149.5 2278.3h0M1172.2 2242.8h0M1147.5 2153.0h0M1169.1 2199.4h0M1157.6 2209.6h0M1169.1 2178.0h0M1145.3 2157.3h0M1141.7 2143.0h0M1146.0 2226.8h0M1172.5 2231.4h0M1139.4 2231.6h0M1172.8 2150.3h0M1178.2 2160.8h0M1159.4 2195.3h0M1159.2 2252.6h0M1164.5 2207.2h0M1146.4 2179.8h0M1136.7 2170.5h0M1150.0 2259.2h0M1160.0 2188.7h0M1163.2 2148.1h0M1151.5 2244.8h0M1167.6 2133.0h0M1151.2 2271.3h0M1162.3 2223.1h0M1141.1 2146.3h0M1148.5 2210.6h0M1172.0 2138.0h0M1160.9 2199.8h0M1165.8 2200.6h0M1182.4 2148.2h0M1146.5 2140.7h0M1175.1 2228.4h0M1169.5 2180.4h0M1178.4 2261.5h0M1151.0 2186.0h0M1150.3 2110.2h0M1156.6 2160.4h0M1136.7 2150.4h0M1163.0 2202.3h0M1176.8 2249.5h0M1145.3 2239.1h0M1149.7 2096.1h0M1181.2 2169.6h0M1151.6 2273.1h0M1140.9 2168.8h0M1180.0 2168.4h0M1159.5 2249.8h0M1158.0 2242.2h0M1170.3 2204.9h0M1136.5 2047.3h0M1139.8 2239.3h0M1149.6 2194.1h0M1140.2 2169.5h0M1160.5 2136.0h0M1153.3 2257.4h0M1144.1 2288.5h0M1168.3 2264.2h0M1181.0 2181.7h0M1166.5 2124.7h0M1160.7 2233.7h0M1140.3 2237.5h0M1137.6 2160.0h0M1147.2 2138.3h0M1149.9 2226.1h0M1149.4 2253.8h0M1155.2 2198.3h0M1151.8 2235.4h0M1169.9 2180.5h0M1163.3 2212.6h0M1146.3 2236.9h0M1148.8 2155.3h0M1153.3 2231.8h0M1155.6 2177.5h0M1156.8 2168.5h0M1180.3 2179.6h0M1160.6 2156.2h0M1151.3 2220.9h0M1181.2 2253.0h0M1149.8 2230.9h0M1148.1 2231.7h0M1160.2 2285.5h0M1147.3 2191.5h0M1157.0 2220.0h0M1156.9 2201.0h0M1170.4 2200.7h0M1170.8 2189.5h0M1142.0 2207.2h0M1141.6 2173.0h0M1167.6 2219.1h0M1146.6 2257.0h0M1163.5 2160.5h0M1176.2 2220.4h0M1145.8 2095.9h0M1158.4 2254.3h0M1155.0 2135.9h0M1146.0 2260.2h0M1163.6 2239.3h0M1142.2 2270.8h0M1155.3 2164.5h0M1178.4 2241.3h0M1145.1 2185.1h0M1159.3 2152.9h0M1138.0 2231.3h0M1174.8 2247.8h0M1161.9 2181.6h0M1168.5 2231.5h0M1165.2 2200.9h0M1175.0 2172.4h0M1143.4 2219.1h0M1153.4 2169.1h0M1173.2 2191.1h0M1152.4 2167.6h0M1146.6 2150.6h0M1155.3 2236.7h0M1151.7 2211.7h0M1152.7 2196.2h0M1180.5 2181.3h0M1172.1 2239.4h0M1170.9 2251.5h0M1165.4 2154.3h0M1161.5 2133.3h0M1165.7 2209.8h0M1142.8 2173.3h0M1179.6 2248.3h0M1181.8 2241.7h0M1138.3 2217.1h0M1144.5 2243.2h0M1180.7 2166.3h0M1150.1 2193.6h0M1182.5 2184.9h0M1139.3 2218.6h0M1157.3 2173.5h0M1181.7 2246.7h0M1156.5 2263.6h0M1137.3 2195.0h0M1151.5 2187.3h0M1154.9 2199.6h0M1151.3 2246.1h0M1176.7 2187.1h0M1160.3 2242.6h0M1169.6 2216.7h0M1163.4 2213.4h0M1157.6 2186.6h0M1137.9 2254.8h0M1143.4 2258.5h0M1168.4 2260.1h0M1173.7 2178.9h0M1170.2 2200.7h0M1142.2 2232.5h0M1180.7 2250.3h0M1148.8 2172.3h0M1179.9 2189.6h0M1176.1 2274.9h0M1147.8 2145.7h0M1163.7 2142.5h0M1149.0 2135.1h0M1146.2 2218.3h0M1171.8 2259.9h0M1170.8 2188.9h0M1159.2 2178.4h0M1170.9 2278.9h0M1137.9 2139.1h0M1152.1 2190.2h0M1157.3 2250.5h0M1145.6 2246.9h0M1150.6 2182.9h0M1175.9 2248.2h0M1175.3 2250.5h0M1176.1 2118.4h0M1179.0 2242.5h0M1163.5 2182.0h0M1182.7 2253.9h0M1158.6 2174.7h0M1140.4 2254.4h0M1178.4 2208.1h0M1161.4 2221.1h0M1141.7 2284.0h0M1139.0 2223.2h0M1156.9 2170.3h0M1142.4 2216.4h0M1137.3 2245.0h0M1159.3 2217.4h0M1174.0 2153.7h0M1173.9 2296.6h0M1136.7 2145.0h0M1174.3 2157.6h0M1160.2 2218.5h0M1165.9 2193.1h0M1143.6 2273.3h0M1148.5 2195.2h0M1183.0 2218.0h0M1140.7 2228.9h0M1160.4 2202.9h0M1181.8 2209.0h0M1145.0 2187.4h0M1178.7 2270.1h0M1142.2 2254.5h0M1147.9 2262.6h0M1137.5 2232.6h0M1139.2 2198.3h0M1155.1 2141.0h0M1163.6 2166.4h0M1153.9 2220.3h0M1172.9 2210.6h0M1143.0 2162.6h0M1146.1 2249.9h0M1140.4 2211.4h0M1173.0 2265.7h0M1160.7 2154.6h0M1166.8 2162.2h0M1175.6 2109.3h0M1163.6 2189.8h0M1148.6 2149.7h0M1171.1 2236.7h0M1151.1 2143.6h0M1146.4 2165.9h0M1146.7 2193.8h0M1145.0 2167.2h0M1143.7 2181.8h0M1176.2 2207.1h0M1177.2 2178.3h0M1180.1 2179.2h0M1136.6 2213.8h0M1163.8 2186.4h0M1170.4 2254.8h0M1172.2 2142.0h0M1148.2 2203.4h0M1137.1 2239.2h0M1160.7 2192.5h0M1139.9 2205.0h0M1158.7 2290.5h0M1165.4 2211.1h0M1160.4 2150.0h0M1173.7 2130.7h0M1140.4 2239.3h0M1160.4 2131.4h0M1157.3 2172.8h0M1149.5 2227.8h0M1152.4 2252.8h0M1169.8 2148.3h0M1159.7 2231.3h0M1137.3 2291.8h0M1169.0 2244.5h0M1147.9 2221.7h0M1181.4 2217.8h0M1162.3 2207.6h0M1145.9 2218.9h0M1160.3 2221.5h0M1137.1 2224.6h0M1150.6 2224.6h0M1176.9 2165.2h0M1178.1 2237.8h0M1168.7 2177.8h0M1170.7 2175.8h0M1146.3 2227.0h0M1181.7 2172.7h0M1147.9 2196.8h0M1167.2 2278.2h0M1180.8 2256.8h0M1179.2 2184.3h0M1149.4 2155.2h0M1177.3 2188.8h0M1162.2 2199.4h0M1164.2 2151.3h0M1154.3 2212.5h0M1139.1 2143.1h0M1168.8 2195.3h0M1165.0 2149.6h0M1181.4 2272.0h0M1142.6 2211.7h0M1168.4 2152.5h0M1168.7 2287.6h0M1150.9 2274.0h0M1177.9 2193.6h0M1174.3 2256.6h0M1141.8 2167.2h0M1153.3 2163.4h0M1136.7 2210.2h0M1136.7 2221.8h0M1154.0 2215.3h0M1180.2 2279.1h0M1166.4 2236.8h0M1139.9 2123.9h0M1177.2 2231.9h0M1179.0 2165.7h0M1178.2 2216.4h0M1180.6 2235.3h0M1145.9 2252.1h0M1138.2 2175.0h0M1142.9 2154.9h0M1170.8 2193.1h0M1157.4 2201.2h0M1144.0 2169.2h0M1154.9 2244.3h0M1165.5 2280.7h0M1160.4 2273.2h0M1155.5 2213.7h0M1161.6 2217.2h0M1173.1 2227.8h0M1164.6 2130.8h0M1148.1 2176.0h0M1167.3 2188.9h0M1163.3 2181.7h0M1182.2 2179.1h0M1146.7 2166.4h0M1154.3 2150.4h0M1166.8 2289.5h0M1161.4 2277.5h0M1150.1 2259.2h0M1171.1 2172.6h0M1182.3 2161.8h0M1167.9 2233.8h0M1179.6 2193.2h0M1181.2 2198.5h0M1136.3 2156.2h0M1142.4 2204.1h0M1151.0 2204.1h0M1154.3 2162.5h0M1178.0 2164.3h0M1157.4 2248.9h0M1168.6 2178.9h0M1173.2 2222.2h0M1171.5 2174.8h0M1152.7 2270.4h0M1181.0 2188.7h0M1136.8 2195.1h0M1144.1 2172.1h0M1180.7 2217.2h0M1170.6 2166.7h0M1163.1 2144.3h0M1147.5 2230.7h0M1169.6 2213.7h0M1161.2 2146.0h0M1170.6 2184.6h0M1151.8 2141.7h0M1163.0 2268.6h0M1155.5 2139.6h0M1146.9 2190.3h0M1146.9 2281.9h0M1145.6 2198.8h0M1147.3 2189.2h0M1181.1 2227.1h0M1158.2 2223.1h0M1155.6 2246.1h0M1147.7 2277.2h0M1143.9 2227.7h0M1143.7 2173.9h0M1170.7 2177.4h0M1156.6 2169.0h0M1170.2 2187.1h0M1163.6 2168.8h0M1153.9 2157.2h0M1165.8 2188.5h0M1174.1 2219.2h0M1150.9 2153.5h0M1147.5 2208.5h0M1178.0 2109.9h0M1159.0 2198.2h0M1173.3 2216.8h0M1150.7 2210.6h0M1161.8 2252.6h0M1147.8 2251.5h0M1165.3 2225.2h0M1145.0 2200.6h0M1167.7 2169.4h0M1158.4 2251.9h0M1159.1 2232.1h0M1165.9 2207.9h0M1146.3 2172.4h0M1149.5 2220.6h0M1167.3 2238.6h0M1146.9 2110.2h0M1144.8 2173.0h0M1139.7 2191.7h0M1180.0 2187.4h0M1158.0 2163.6h0M1166.4 2174.8h0M1177.9 2222.3h0M1176.5 2144.3h0M1139.0 2228.6h0M1152.9 2176.8h0M1171.0 2246.1h0M1169.7 2239.2h0M1170.7 2245.3h0M1143.8 2165.8h0M1174.0 2285.3h0M1166.2 2201.9h0M1161.0 2226.8h0M1175.4 2088.2h0M1149.8 2266.5h0M1145.5 2244.6h0M1169.4 2250.9h0M1140.9 2205.0h0M1145.4 2156.5h0M1165.2 2204.8h0M1138.2 2114.0h0M1137.4 2177.8h0M1165.0 2139.1h0M1139.1 2232.8h0M1149.8 2269.4h0M1166.1 2173.8h0M1177.0 2204.6h0M1151.7 2227.8h0M1153.8 2174.8h0M1169.5 2124.4h0M1173.8 2140.8h0M1147.5 2191.2h0M1145.5 2165.4h0M1141.6 2172.2h0M1155.7 2224.1h0M1160.2 2187.3h0M1139.8 2175.6h0M1172.6 2221.8h0M1144.9 2244.4h0M1157.0 2192.1h0M1165.7 2110.7h0M1154.2 2213.5h0M1163.0 2257.3h0M1157.7 2208.0h0M1167.3 2238.9h0M1157.4 2165.5h0M1169.6 2210.9h0M1175.8 2184.0h0M1138.9 2226.4h0M1162.6 2255.3h0M1143.6 2224.3h0M1171.1 2226.4h0M1146.9 2233.5h0M1182.5 2260.9h0M1144.8 2169.8h0M1138.0 2228.3h0M1174.6 2161.1h0M1150.5 2188.5h0M1161.8 2245.7h0M1174.4 2165.9h0M1178.5 2201.7h0M1164.8 2273.5h0M1149.9 2179.8h0M1161.9 2198.9h0M1182.0 2145.1h0M1179.8 2226.3h0M1152.8 2158.1h0M1181.0 2187.8h0M1174.3 2239.5h0M1137.8 2221.2h0M1138.8 2261.3h0M1172.7 2182.6h0M1152.7 2194.1h0M1152.9 2236.2h0M1142.4 2235.1h0M1176.9 2176.3h0M1165.2 2121.0h0M1157.9 2164.2h0M1156.2 2203.6h0M1153.8 2180.9h0M1144.8 2187.4h0M1154.8 2149.8h0M1161.8 2204.6h0M1166.1 2224.9h0M1165.7 2224.7h0M1181.8 2239.9h0M1146.0 2233.6h0M1137.1 2261.5h0M1170.0 2204.4h0M1137.5 2190.5h0M1139.5 2161.2h0M1159.1 2133.8h0M1139.4 2225.9h0M1156.7 2133.2h0M1149.8 2123.0h0M1155.2 2144.6h0M1171.4 2208.4h0M1148.6 2158.6h0M1164.9 2202.0h0M1180.6 2215.7h0M1160.1 2242.6h0M1157.0 2161.9h0M1147.6 2203.6h0M1171.5 2161.6h0M1180.8 2172.1h0M1154.9 2154.0h0M1175.4 2155.8h0M1143.7 2270.6h0M1182.7 2212.4h0M1179.2 2219.8h0M1142.3 2166.1h0M1166.0 2163.3h0M1148.5 2153.9h0M1151.1 2282.3h0M1149.3 2221.5h0M1139.0 2149.5h0M1137.4 2215.1h0M1180.9 2250.8h0M1163.8 2234.0h0M1179.1 2153.1h0M1180.2 2187.6h0M1178.9 2173.6h0M1177.7 2217.8h0M1159.4 2233.8h0M1152.4 2135.1h0M1166.8 2192.6h0M1142.6 2187.6h0M1165.1 2224.1h0M1166.6 2264.3h0M1165.3 2137.7h0M1144.8 2206.5h0M1146.8 2235.3h0M1144.7 2201.2h0M1177.6 2222.7h0M1154.9 2218.3h0M1167.6 2169.7h0M1170.8 2197.2h0M1177.4 2239.5h0M1153.4 2189.1h0M1178.4 2232.8h0M1169.8 2174.4h0M1145.1 2151.8h0M1172.9 2245.2h0M1173.2 2250.3h0M1171.9 2173.6h0M1153.2 2171.6h0M1141.3 2162.5h0M1166.0 2195.0h0M1150.7 2245.7h0M1173.4 2220.5h0M1138.5 2131.3h0M1157.9 2200.3h0M1177.5 2216.1h0M1170.0 2243.6h0M1180.2 2173.6h0M1147.9 2281.6h0M1138.6 2186.1h0M1139.1 2178.7h0M1175.6 2236.7h0M1151.1 2208.8h0M1182.2 2266.0h0M1165.0 2137.3h0M1166.3 2199.7h0M1159.0 2200.6h0M1147.9 2170.9h0M1170.2 2220.8h0M1137.1 2263.3h0M1167.7 2241.5h0M1166.0 2227.4h0M1172.6 2196.6h0M1137.3 2195.0h0M1178.1 2189.9h0M1177.5 2238.5h0M1153.2 2133.2h0M1139.8 2124.7h0M1153.4 2103.1h0M1140.9 2262.6h0M1182.2 2252.4h0M1172.3 2249.1h0M1170.3 2113.6h0M1164.2 2280.0h0M1153.7 2136.8h0M1153.3 2192.3h0M1138.2 2184.5h0M1177.8 2268.9h0M1183.0 2207.4h0M1137.1 2222.6h0M1181.1 2218.2h0M1140.8 2236.8h0M1183.1 2256.1h0M1156.8 2243.6h0M1181.0 2172.7h0M1152.2 2250.4h0M1154.1 2159.6h0M1138.6 2197.3h0M1175.8 2208.1h0M1149.4 2276.6h0M1157.3 2160.0h0M1142.7 2189.5h0M1151.5 2280.6h0M1166.7 2268.3h0M1145.9 2262.7h0M1142.7 2105.4h0M1144.1 2162.7h0M1151.7 2166.3h0M1163.5 2235.7h0M1143.7 2180.0h0M1165.0 2194.4h0M1152.8 2210.1h0M1147.6 2240.9h0M1156.1 2223.1h0M1136.3 2221.3h0M1172.0 2228.3h0M1152.8 2133.1h0M1163.9 2179.4h0M1173.2 2189.4h0M1159.5 2240.1h0M1173.3 2176.9h0M1138.3 2169.6h0M1161.5 2183.6h0M1159.2 2242.1h0M1182.6 2238.1h0M1169.1 2162.2h0M1140.5 2175.8h0M1145.3 2178.1h0M1147.0 2242.0h0M1177.1 2285.6h0M1148.1 2225.3h0M1180.7 2214.3h0M1153.3 2164.4h0M1176.2 2199.7h0M1142.2 2240.0h0M1140.2 2238.6h0M1161.0 2179.5h0M1160.5 2278.2h0M1179.8 2216.0h0M1138.5 2143.6h0M1161.1 2182.8h0M1148.8 2215.7h0M1157.4 2198.1h0M1164.8 2138.9h0M1152.4 2119.8h0M1162.7 2173.9h0M1166.2 2243.7h0M1170.0 2210.8h0M1143.4 2286.2h0M1167.0 2171.4h0M1146.0 2263.5h0M1151.6 2268.5h0M1170.1 2095.7h0M1161.1 2142.4h0M1180.1 2088.9h0M1148.4 2188.7h0M1149.8 2133.0h0M1145.0 2222.5h0M1179.2 2234.5h0M1158.7 2216.8h0M1165.8 2177.0h0M1180.3 2178.6h0M1165.9 2180.7h0M1172.0 2163.7h0M1179.0 2146.9h0M1169.9 2124.4h0M1180.1 2241.7h0M1164.1 2231.5h0M1148.7 2191.3h0M1151.0 2157.8h0M1178.2 2182.2h0M1137.4 2167.9h0M1155.2 2161.2h0M1151.6 2250.5h0M1160.1 2229.5h0M1137.5 2266.5h0M1157.5 2153.9h0M1138.8 2261.4h0M1140.4 2255.9h0M1168.1 2163.7h0M1158.0 2236.2h0M1137.0 2209.8h0M1166.3 2172.1h0M1152.6 2248.0h0M1159.8 2206.4h0M1150.9 2211.9h0M1137.9 2254.3h0M1173.6 2211.1h0M1154.7 2164.5h0M1169.7 2171.5h0M1144.6 2167.7h0M1161.1 2268.2h0M1168.8 2160.7h0M1180.4 2164.0h0M1152.0 2195.6h0M1140.3 2222.7h0M1167.0 2190.9h0M1136.3 2185.7h0M1168.7 2236.4h0M1182.7 2188.6h0M1160.1 2129.8h0M1148.4 2159.8h0M1137.3 2196.0h0M1174.7 2207.0h0M1146.2 2239.3h0M1157.2 2189.9h0M1153.7 2232.7h0M1136.4 2251.9h0M1165.9 2231.1h0M1174.1 2175.0h0M1180.2 2235.4h0M1146.8 2232.0h0M1176.8 2141.3h0M1141.2 2167.3h0M1166.1 2141.3h0M1171.5 2213.1h0M1136.8 2259.0h0M1146.7 2147.5h0M1144.0 2217.9h0M1165.5 2206.7h0M1156.7 2221.9h0M1141.8 2221.4h0M1169.2 2249.5h0M1166.9 2166.8h0M1181.9 2091.3h0M1179.0 2214.1h0M1154.2 2203.3h0M1137.4 2225.9h0M1141.8 2223.3h0M1157.5 2269.7h0M1152.4 2246.2h0M1173.4 2170.7h0M1144.1 2230.0h0M1174.4 2174.5h0M1170.9 2250.5h0M1142.0 2153.8h0M1175.1 2254.7h0M1174.7 2264.9h0M1174.8 2188.5h0M1152.3 2257.9h0M1152.8 2135.2h0M1165.4 2230.9h0M1139.6 2254.0h0M1161.1 2161.6h0M1176.4 2262.1h0M1156.2 2150.1h0M1139.3 2110.5h0M1181.0 2185.8h0M1141.2 2248.7h0M1149.5 2234.1h0M1154.8 2194.0h0M1166.2 2169.3h0M1151.4 2154.2h0M1159.3 2146.1h0M1168.1 2218.3h0M1182.2 2175.2h0M1138.6 2230.9h0M1147.4 2214.6h0M1158.9 2179.0h0M1144.2 2194.7h0M1165.6 2168.5h0M1141.5 2216.9h0M1180.7 2197.5h0M1163.3 2230.5h0M1151.4 2237.9h0M1150.3 2175.6h0M1137.2 2161.3h0M1164.5 2243.0h0M1182.6 2236.7h0M1180.2 2240.4h0M1143.5 2154.1h0M1137.5 2149.8h0M1162.2 2251.4h0M1176.3 2119.4h0M1168.7 2231.6h0M1174.7 2135.7h0M1170.8 2178.9h0M1161.7 2227.1h0M1170.4 2207.2h0M1169.1 2169.4h0M1155.5 2182.5h0M1174.9 2222.8h0M1144.4 2214.3h0M1145.8 2183.6h0M1138.5 2198.3h0M1149.5 2169.6h0M1145.9 2202.1h0M1139.8 2143.4h0M1158.3 2228.9h0M1175.4 2217.8h0M1173.2 2161.5h0M1168.5 2167.7h0M1138.8 2203.6h0M1155.7 2201.9h0M1167.9 2240.5h0M1143.3 2130.5h0M1147.4 2270.1h0M1173.6 2195.2h0M1161.7 2146.2h0M1181.2 2176.3h0M1165.6 2186.4h0M1151.8 2280.8h0M1145.2 2238.6h0M1154.5 2085.8h0M1163.7 2178.8h0M1171.0 2226.8h0M1173.7 2242.1h0M1153.4 2221.3h0M1146.3 2141.2h0M1154.4 2153.7h0M1137.1 2223.6h0M1142.0 2214.1h0M1155.9 2278.0h0M1163.9 2255.4h0M1155.0 2230.0h0M1174.8 2261.2h0M1174.4 2137.2h0M1143.9 2245.3h0M1161.7 2249.6h0M1149.8 2225.1h0M1145.4 2158.1h0M1181.2 2186.2h0M1163.3 2157.6h0M1168.2 2199.9h0M1145.2 2137.2h0M1163.5 2234.4h0M1176.5 2182.3h0M1182.3 2157.0h0M1159.4 2250.3h0M1149.4 2177.7h0M1175.7 2247.3h0M1156.4 2269.4h0M1140.2 2272.0h0M1144.3 2198.0h0M1175.3 2235.6h0M1165.5 2247.0h0M1137.0 2227.7h0M1157.3 2162.3h0M1150.8 2169.1h0M1176.7 2140.1h0M1165.9 2286.7h0M1175.9 2151.9h0M1160.1 2238.1h0M1169.5 2135.1h0M1163.9 2232.7h0M1171.9 2155.5h0M1151.3 2223.4h0M1160.1 2145.8h0M1174.8 2184.7h0M1159.8 2187.6h0M1140.9 2132.6h0M1172.4 2233.3h0M1148.3 2253.9h0M1156.2 2198.3h0M1153.4 2175.2h0M1154.6 2138.5h0M1146.7 2241.5h0M1166.7 2151.8h0M1146.3 2120.6h0M1167.6 2216.9h0M1165.8 2280.6h0M1161.1 2212.8h0M1176.1 2197.0h0M1145.6 2244.0h0M1182.6 2140.2h0M1174.2 2229.7h0M1163.4 2070.3h0M1180.7 2183.5h0M1163.6 2259.4h0M1164.8 2248.1h0M1156.9 2266.6h0M1142.5 2147.1h0M1164.4 2153.3h0M1142.1 2168.7h0M1171.5 2168.9h0M1156.8 2199.7h0M1167.3 2152.3h0M1171.6 2156.1h0M1157.3 2175.6h0M1154.7 2151.2h0M1140.7 2211.8h0M1156.3 2208.8h0M1171.1 2188.4h0M1177.2 2154.1h0M1163.7 2250.5h0M1175.6 2155.6h0M1140.2 2159.3h0M1169.9 2184.5h0M1176.7 2210.2h0M1179.5 2185.2h0M1152.1 2247.4h0M1182.6 2275.9h0M1152.0 2169.3h0M1178.8 2221.3h0M1139.7 2180.0h0M1145.4 2219.5h0M1167.0 2186.7h0M1148.9 2235.7h0M1156.1 2230.1h0M1160.3 2176.6h0M1145.7 2188.8h0M1149.5 2248.4h0M1166.8 2200.6h0M1175.6 2201.9h0M1177.6 2061.8h0M1167.0 2151.2h0M1154.9 2179.8h0M1146.1 2226.9h0M1159.0 2220.1h0M1155.7 2178.6h0M1146.5 2255.4h0M1145.4 2245.9h0M1136.2 2205.0h0M1157.5 2158.9h0M1182.8 2270.5h0M1150.9 2217.0h0M1170.8 2177.4h0M1138.7 2183.7h0M1149.4 2154.8h0M1147.8 2211.5h0M1146.6 2150.2h0M1164.6 2196.7h0M1180.2 2166.1h0M1163.0 2247.7h0M1139.1 2185.0h0M1149.5 2174.6h0M1162.0 2268.9h0M1166.3 2158.5h0M1161.9 2219.2h0M1170.2 2153.7h0" fill="none" stroke="#000" stroke-width="1.7" stroke-linecap="round"/>
<path d="M1390.3 2269.4h0M1389.7 2216.0h0M1407.8 2270.0h0M1388.5 2207.9h0M1380.6 2213.2h0M1382.1 2194.3h0M1399.4 2218.8h0M1390.1 2181.0h0M1410.1 2251.7h0M1382.6 2229.0h0M1388.7 2157.0h0M1411.2 2238.1h0M1402.4 2225.0h0M1395.0 2196.8h0M1391.3 2196.7h0M1386.2 2183.2h0M1410.8 2176.2h0M1372.5 2138.2h0M1389.7 2180.6h0M1411.5 2239.2h0M1382.3 2229.9h0M1395.7 2183.6h0M1380.1 2262.7h0M1400.8 2185.2h0M1385.7 2254.1h0M1390.4 2211.4h0M1413.8 2259.6h0M1372.5 2203.7h0M1368.6 2265.1h0M1395.8 2216.6h0M1378.7 2165.6h0M1377.0 2204.6h0M1401.0 2179.8h0M1396.2 2184.3h0M1379.4 2270.4h0M1369.9 2230.0h0M1405.6 2197.5h0M1371.0 2223.4h0M1386.9 2228.7h0M1383.5 2253.2h0M1391.9 2238.4h0M1400.0 2110.4h0M1382.8 2263.8h0M1402.8 2152.8h0M1395.2 2201.1h0M1393.4 2220.8h0M1410.6 2229.3h0M1412.2 2194.5h0M1398.7 2201.5h0M1368.1 2232.3h0M1392.0 2160.8h0M1380.0 2215.1h0M1400.3 2158.6h0M1402.7 2153.6h0M1389.2 2191.6h0M1395.5 2248.1h0M1390.0 2202.9h0M1387.0 2159.9h0M1400.0 2221.8h0M1402.4 2184.4h0M1408.5 2212.0h0M1373.7 2279.8h0M1384.1 2261.9h0M1381.5 2135.1h0M1378.3 2221.8h0M1392.5 2247.3h0M1373.0 2154.1h0M1404.1 2282.1h0M1374.5 2204.3h0M1371.8 2212.2h0M1372.9 2196.0h0M1391.3 2279.2h0M1401.1 2216.0h0M1395.7 2223.9h0M1383.0 2202.5h0M1409.1 2182.1h0M1371.8 2174.7h0M1389.2 2159.3h0M1380.6 2195.8h0M1391.7 2165.7h0M1412.7 2139.8h0M1399.7 2162.5h0M1411.3 2258.9h0M1380.3 2217.7h0M1412.1 2163.9h0M1373.6 2206.8h0M1413.1 2165.7h0M1394.6 2243.3h0M1376.9 2180.3h0M1373.8 2218.2h0M1388.9 2157.7h0M1398.8 2177.4h0M1369.9 2177.3h0M1401.8 2221.8h0M1393.0 2136.8h0M1392.1 2146.0h0M1406.9 2209.0h0M1379.4 2162.1h0M1371.6 2172.5h0M1410.0 2188.0h0M1404.2 2231.9h0M1397.1 2218.1h0M1376.9 2268.6h0M1406.4 2243.4h0M1395.5 2257.3h0M1404.8 2234.4h0M1371.1 2208.8h0M1394.3 2166.0h0M1392.2 2152.8h0M1390.7 2274.2h0M1388.5 2176.2h0M1396.2 2151.3h0M1402.4 2215.2h0M1377.4 2142.3h0M1395.9 2178.1h0M1379.3 2201.6h0M1401.6 2136.7h0M1393.1 2158.1h0M1389.1 2221.3h0M1411.1 2231.3h0M1384.4 2233.3h0M1376.9 2225.3h0M1389.3 2241.1h0M1403.3 2265.4h0M1413.8 2110.7h0M1401.3 2262.2h0M1373.6 2171.5h0M1401.6 2231.7h0M1399.4 2192.3h0M1409.4 2184.9h0M1380.7 2158.2h0M1390.1 2175.8h0M1376.6 2149.4h0M1389.0 2218.5h0M1382.7 2223.4h0M1411.0 2136.8h0M1414.0 2149.7h0M1405.7 2225.2h0M1377.0 2222.7h0M1373.2 2201.3h0M1409.9 2268.7h0M1399.2 2217.5h0M1379.5 2170.7h0M1401.9 2216.2h0M1371.6 2268.2h0M1386.8 2263.3h0M1395.9 2244.5h0M1378.7 2212.3h0M1395.1 2170.4h0M1411.3 2223.5h0M1407.6 2227.5h0M1404.0 2178.1h0M1400.0 2275.6h0M1405.9 2158.5h0M1373.7 2151.8h0M1400.7 2204.2h0M1378.0 2209.1h0M1409.5 2266.3h0M1404.7 2179.1h0M1385.4 2232.8h0M1405.1 2219.2h0M1413.1 2217.4h0M1402.0 2218.6h0M1371.8 2270.7h0M1393.2 2145.0h0M1402.8 2254.4h0M1378.6 2248.8h0M1396.2 2196.0h0M1372.3 2206.8h0M1379.0 2273.0h0M1403.0 2175.4h0M1405.8 2173.3h0M1404.5 2167.1h0M1371.2 2143.8h0M1384.9 2252.1h0M1380.1 2236.4h0M1399.1 2145.2h0M1396.8 2245.6h0M1412.8 2181.0h0M1406.1 2193.4h0M1399.2 2224.6h0M1382.9 2180.8h0M1372.1 2210.5h0M1388.0 2213.4h0M1383.7 2184.0h0M1373.4 2208.3h0M1392.5 2159.0h0M1410.0 2178.0h0M1405.6 2246.9h0M1376.0 2262.2h0M1369.7 2228.5h0M1405.3 2204.4h0M1384.7 2238.2h0M1369.0 2222.4h0M1410.1 2210.2h0M1402.3 2171.3h0M1375.9 2164.4h0M1382.1 2194.1h0M1404.0 2285.2h0M1381.8 2225.2h0M1370.5 2188.9h0M1375.9 2245.4h0M1392.5 2252.1h0M1404.5 2256.3h0M1411.9 2250.1h0M1403.2 2176.1h0M1397.2 2240.5h0M1405.2 2155.6h0M1370.3 2130.0h0M1402.5 2217.1h0M1409.4 2143.9h0M1381.9 2207.6h0M1398.9 2237.9h0M1394.8 2264.0h0M1392.4 2249.0h0M1371.8 2207.6h0M1387.3 2138.5h0M1393.0 2249.6h0M1381.2 2206.9h0M1407.0 2137.1h0M1411.1 2157.5h0M1400.4 2219.9h0M1373.1 2253.5h0M1411.3 2218.6h0M1406.8 2141.2h0M1398.3 2103.7h0M1398.6 2264.8h0M1405.9 2246.1h0M1396.6 2275.0h0M1408.4 2156.3h0M1405.6 2143.0h0M1401.3 2275.6h0M1381.5 2226.8h0M1403.5 2190.9h0M1413.8 2183.8h0M1381.1 2200.8h0M1402.4 2255.5h0M1402.1 2229.8h0M1413.7 2156.1h0M1401.6 2245.0h0M1409.8 2248.7h0M1392.7 2239.4h0M1390.9 2288.6h0M1393.6 2187.5h0M1412.4 2181.0h0M1371.5 2248.6h0M1379.4 2282.4h0M1409.6 2162.1h0M1380.8 2261.1h0M1399.4 2187.3h0M1374.2 2212.6h0M1409.7 2137.4h0M1397.5 2173.0h0M1369.2 2221.8h0M1383.9 2207.3h0M1383.5 2149.7h0M1385.5 2189.4h0M1373.6 2139.3h0M1392.0 2263.1h0M1400.8 2209.4h0M1406.3 2265.7h0M1406.4 2172.8h0M1398.3 2201.2h0M1406.3 2160.2h0M1377.1 2223.6h0M1381.4 2250.3h0M1377.1 2253.0h0M1382.3 2254.3h0M1410.5 2167.9h0M1403.7 2173.9h0M1377.7 2155.2h0M1383.1 2173.5h0M1412.1 2201.4h0M1398.7 2253.7h0M1400.8 2233.1h0M1390.4 2156.6h0M1410.5 2183.9h0M1412.5 2155.5h0M1395.9 2164.4h0M1401.9 2172.1h0M1374.4 2159.3h0M1383.5 2194.9h0M1402.2 2221.5h0M1383.9 2170.0h0M1404.3 2201.2h0M1403.9 2144.2h0M1395.1 2204.9h0M1402.3 2166.0h0M1382.2 2183.7h0M1393.9 2245.1h0M1410.2 2239.3h0M1377.6 2215.6h0M1393.6 2233.9h0M1394.7 2177.3h0M1408.8 2220.5h0M1375.9 2239.3h0M1398.5 2197.2h0M1378.9 2230.5h0M1396.5 2249.0h0M1382.1 2259.2h0M1376.2 2135.5h0M1396.0 2253.3h0M1369.5 2253.9h0M1375.0 2183.1h0M1368.2 2152.2h0M1401.8 2153.2h0M1398.3 2164.3h0M1393.0 2216.6h0M1406.3 2253.8h0M1371.9 2267.7h0M1387.9 2164.1h0M1371.1 2195.6h0M1397.8 2218.0h0M1386.3 2254.9h0M1408.8 2147.3h0M1387.3 2199.8h0M1397.1 2163.0h0M1399.2 2255.3h0M1404.3 2139.9h0M1391.9 2243.2h0M1379.1 2221.1h0M1372.9 2233.6h0M1412.3 2198.2h0M1379.0 2188.4h0M1411.6 2185.8h0M1372.6 2155.0h0M1403.1 2151.9h0M1368.5 2144.3h0M1384.2 2198.4h0M1390.5 2182.8h0M1407.5 2161.7h0M1391.5 2181.5h0M1399.3 2262.8h0M1378.4 2184.3h0M1385.9 2157.1h0M1394.5 2182.4h0M1403.0 2156.4h0M1405.7 2198.0h0M1388.0 2216.6h0M1370.8 2261.0h0M1396.9 2129.4h0M1405.5 2232.1h0M1376.2 2257.3h0M1378.7 2274.7h0M1376.4 2217.9h0M1384.8 2273.0h0M1378.2 2267.3h0M1382.6 2234.0h0M1390.3 2249.1h0M1368.6 2239.9h0M1384.5 2235.6h0M1401.6 2187.9h0M1368.8 2168.6h0M1407.9 2211.2h0M1408.0 2165.3h0M1378.1 2260.9h0M1404.0 2268.7h0M1372.2 2222.2h0M1390.2 2165.8h0M1379.3 2202.8h0M1410.6 2213.5h0M1370.0 2218.0h0M1374.7 2278.1h0M1390.6 2184.0h0M1395.3 2173.8h0M1413.0 2133.8h0M1397.2 2262.5h0M1405.2 2272.2h0M1405.1 2170.7h0M1407.8 2161.2h0M1371.4 2249.5h0M1395.2 2198.4h0M1398.4 2250.6h0M1409.0 2170.3h0M1409.0 2140.4h0M1403.5 2185.6h0M1410.7 2162.6h0M1412.9 2223.7h0M1406.4 2235.4h0M1402.0 2208.5h0M1413.3 2154.1h0M1412.6 2249.9h0M1386.4 2200.1h0M1381.3 2233.1h0M1392.1 2224.1h0M1380.9 2222.5h0M1386.9 2160.0h0M1403.7 2169.3h0M1380.8 2205.8h0M1398.9 2151.7h0M1379.2 2168.6h0M1409.3 2268.5h0M1400.1 2264.2h0M1380.0 2170.6h0M1410.9 2248.5h0M1401.1 2230.7h0M1377.9 2171.5h0M1388.9 2219.1h0M1402.5 2180.1h0M1382.5 2170.5h0M1411.1 2156.9h0M1379.9 2248.6h0M1408.5 2193.5h0M1385.8 2130.6h0M1399.0 2247.4h0M1394.7 2186.6h0M1404.1 2226.3h0M1371.6 2192.3h0M1386.4 2226.7h0M1402.3 2111.8h0M1376.2 2167.0h0M1371.0 2169.0h0M1382.5 2149.6h0M1384.3 2206.5h0M1390.5 2170.3h0M1381.3 2226.9h0M1373.8 2176.1h0M1382.0 2278.4h0M1394.0 2248.5h0M1403.0 2243.5h0M1401.3 2148.6h0M1402.2 2222.4h0M1402.1 2136.7h0M1413.6 2182.7h0M1396.9 2201.8h0M1401.6 2184.0h0M1369.1 2160.4h0M1384.9 2167.0h0M1406.2 2250.2h0M1378.5 2197.9h0M1389.4 2223.3h0M1393.2 2221.3h0M1401.5 2233.9h0M1392.9 2165.8h0M1387.5 2273.9h0M1369.4 2194.6h0M1396.0 2179.0h0M1390.7 2120.1h0M1375.5 2178.1h0M1372.8 2267.5h0M1380.5 2145.3h0M1401.5 2270.1h0M1388.5 2190.0h0M1384.9 2178.1h0M1413.1 2231.5h0M1404.5 2147.8h0M1400.9 2156.8h0M1372.4 2157.5h0M1381.5 2153.5h0M1375.7 2193.8h0M1409.0 2217.1h0M1404.3 2147.9h0M1398.2 2177.5h0M1378.1 2216.5h0M1383.3 2165.7h0M1406.4 2254.1h0M1395.8 2204.6h0M1383.4 2218.7h0M1396.9 2197.9h0M1368.9 2243.0h0M1375.0 2197.5h0M1411.2 2274.7h0M1393.7 2135.0h0M1399.3 2215.2h0M1389.7 2280.5h0M1386.0 2197.1h0M1406.7 2198.7h0M1392.4 2152.2h0M1368.3 2241.9h0M1411.8 2233.5h0M1397.2 2242.7h0M1414.0 2189.2h0M1390.1 2113.7h0M1398.1 2158.0h0M1397.5 2145.8h0M1399.0 2201.4h0M1391.3 2253.2h0M1373.1 2172.0h0M1398.0 2203.5h0M1398.7 2281.4h0M1373.8 2242.0h0M1397.7 2222.2h0M1378.6 2259.9h0M1402.4 2143.4h0M1373.8 2218.9h0M1402.2 2177.2h0M1373.9 2220.7h0M1400.3 2203.8h0M1400.7 2206.5h0M1381.2 2227.6h0M1374.6 2186.5h0M1377.5 2205.9h0M1396.2 2209.7h0M1388.6 2217.3h0M1408.4 2176.3h0M1386.0 2243.3h0M1397.0 2168.8h0M1398.9 2163.5h0M1372.2 2282.0h0M1392.9 2131.5h0M1402.4 2231.4h0M1390.7 2209.8h0M1382.6 2186.1h0M1407.5 2174.5h0M1384.8 2265.1h0M1406.8 2225.0h0M1385.4 2268.9h0M1408.5 2201.6h0M1401.4 2185.0h0M1381.0 2205.8h0M1383.0 2274.7h0M1398.5 2162.8h0M1382.3 2188.0h0M1393.6 2270.5h0M1413.7 2247.4h0M1404.7 2179.8h0M1375.6 2249.5h0M1398.3 2186.6h0M1396.8 2253.4h0M1403.4 2199.2h0M1397.4 2231.8h0M1401.5 2239.0h0M1370.4 2213.1h0M1393.4 2150.5h0M1398.1 2201.1h0M1383.1 2275.8h0M1371.0 2253.8h0M1401.3 2141.0h0M1402.3 2158.8h0M1378.5 2221.0h0M1368.1 2230.5h0M1393.4 2201.4h0M1407.8 2190.2h0M1406.5 2230.5h0M1404.0 2250.9h0M1407.9 2215.5h0M1378.4 2245.2h0M1401.2 2155.2h0M1402.4 2239.9h0M1371.0 2236.0h0M1388.5 2185.6h0M1375.9 2187.7h0M1408.0 2236.9h0M1395.8 2286.1h0M1407.4 2159.0h0M1410.5 2167.8h0M1406.5 2145.5h0M1404.7 2189.4h0M1394.1 2262.1h0M1381.3 2202.4h0M1392.4 2240.7h0M1398.3 2143.3h0M1395.9 2189.9h0M1369.4 2274.5h0M1388.7 2249.9h0M1388.4 2252.0h0M1410.9 2218.2h0M1380.0 2250.8h0M1406.2 2208.6h0M1371.6 2265.9h0M1374.4 2245.0h0M1393.1 2175.4h0M1409.1 2191.5h0M1399.3 2236.7h0M1386.0 2115.5h0M1406.7 2216.5h0M1399.8 2176.3h0M1402.8 2277.0h0M1373.9 2137.0h0M1372.8 2269.7h0M1371.4 2183.9h0M1410.9 2141.7h0M1409.4 2193.7h0M1372.5 2113.7h0M1402.3 2242.1h0M1403.2 2162.4h0M1371.6 2223.2h0M1392.8 2196.0h0M1392.7 2191.8h0M1386.4 2210.6h0M1369.2 2205.8h0M1394.0 2253.0h0M1379.3 2203.8h0M1381.7 2195.1h0M1380.5 2275.5h0M1395.5 2240.9h0M1393.0 2220.9h0M1407.1 2279.1h0M1390.6 2266.0h0M1375.2 2209.1h0M1383.7 2182.5h0M1403.2 2108.7h0M1386.6 2173.0h0M1413.1 2186.2h0M1368.4 2210.4h0M1402.3 2223.7h0M1385.1 2153.9h0M1406.3 2222.6h0M1402.5 2210.7h0M1396.2 2239.2h0M1398.1 2245.8h0M1368.4 2216.8h0M1370.8 2195.5h0M1384.6 2182.4h0M1394.9 2165.1h0M1412.5 2214.8h0M1374.0 2137.8h0M1369.3 2177.5h0M1386.7 2232.8h0M1395.2 2196.9h0M1368.7 2143.5h0M1413.5 2252.6h0M1374.0 2147.2h0M1410.6 2085.8h0M1398.7 2232.8h0M1401.5 2236.3h0M1376.1 2258.8h0M1370.2 2215.8h0M1399.7 2213.6h0M1385.2 2165.4h0M1399.6 2218.4h0M1411.5 2208.7h0M1401.6 2149.1h0M1386.2 2202.9h0M1391.2 2243.9h0M1388.7 2178.4h0M1410.2 2159.9h0M1407.5 2258.7h0M1375.3 2162.5h0M1414.0 2130.8h0M1382.0 2163.2h0M1386.7 2242.6h0M1377.9 2116.3h0M1411.8 2227.3h0M1395.1 2197.6h0M1413.2 2158.4h0M1391.5 2245.2h0M1374.4 2190.6h0M1379.8 2146.7h0M1409.1 2145.6h0M1410.3 2239.0h0M1391.8 2285.8h0M1393.1 2217.4h0M1379.7 2221.2h0M1389.7 2273.2h0M1397.2 2259.1h0M1398.5 2209.7h0M1371.0 2193.3h0M1409.3 2171.0h0M1406.1 2208.3h0M1398.4 2229.6h0M1378.0 2217.5h0M1405.3 2190.0h0M1404.8 2250.7h0M1390.5 2188.7h0M1399.3 2144.0h0M1397.2 2202.9h0M1384.8 2223.3h0M1410.8 2225.6h0M1370.3 2222.0h0M1408.4 2242.5h0M1372.7 2137.1h0M1405.6 2141.7h0M1383.8 2167.2h0M1369.9 2219.1h0M1368.2 2235.6h0M1399.5 2179.0h0M1371.7 2140.6h0M1372.4 2216.7h0M1378.5 2186.5h0M1378.1 2121.2h0M1412.2 2250.1h0M1402.1 2265.6h0M1371.6 2177.8h0M1374.7 2224.1h0M1396.4 2274.2h0M1383.6 2166.8h0M1382.2 2158.7h0M1413.2 2151.4h0M1409.9 2216.8h0M1389.4 2233.7h0M1380.0 2236.5h0M1404.8 2211.1h0M1381.5 2259.9h0M1386.6 2263.7h0M1405.6 2222.8h0M1411.1 2208.9h0M1371.8 2249.5h0M1411.1 2158.1h0M1374.5 2252.8h0M1405.9 2157.3h0M1370.9 2209.3h0M1371.4 2170.0h0M1375.7 2223.3h0M1368.7 2259.7h0M1414.1 2170.7h0M1373.5 2273.1h0M1414.1 2269.0h0M1397.2 2155.9h0M1373.9 2264.0h0M1378.9 2196.1h0M1394.7 2256.6h0M1409.7 2166.0h0M1403.7 2224.3h0M1382.9 2179.1h0M1404.4 2252.4h0M1383.0 2269.7h0M1379.2 2215.6h0M1394.5 2281.6h0M1379.5 2219.9h0M1405.2 2160.3h0M1408.7 2230.6h0M1382.4 2170.7h0M1399.7 2248.9h0M1391.1 2209.3h0M1399.3 2101.3h0M1368.3 2256.7h0M1412.0 2252.7h0M1382.3 2162.6h0M1404.4 2233.2h0M1372.2 2173.4h0M1370.2 2139.1h0M1378.7 2275.7h0M1399.3 2174.0h0M1399.2 2154.4h0M1378.6 2174.8h0M1374.6 2224.7h0M1386.5 2162.4h0M1373.2 2257.8h0M1383.0 2244.2h0M1398.7 2265.2h0M1404.1 2238.7h0M1413.2 2186.0h0M1369.1 2215.2h0M1386.9 2211.0h0M1390.5 2170.0h0M1375.0 2163.0h0M1376.1 2214.1h0M1403.2 2172.8h0M1407.7 2236.6h0M1389.0 2258.5h0M1408.7 2157.2h0M1382.5 2259.7h0M1375.0 2265.8h0M1402.2 2238.0h0M1413.8 2162.7h0M1401.0 2268.5h0M1403.1 2228.4h0M1403.4 2159.0h0M1396.5 2274.6h0M1378.3 2261.4h0M1379.8 2266.0h0M1406.1 2147.0h0M1389.5 2159.3h0M1407.1 2214.5h0M1395.8 2277.3h0M1413.7 2221.6h0M1405.9 2154.6h0M1385.9 2221.4h0M1385.1 2248.4h0M1410.4 2260.2h0M1384.6 2224.7h0M1384.6 2149.7h0M1408.3 2218.2h0M1388.5 2213.2h0M1400.5 2174.1h0M1394.3 2176.3h0M1391.6 2269.3h0M1399.8 2137.9h0M1400.7 2209.6h0M1406.7 2202.9h0M1408.6 2223.4h0M1405.9 2237.8h0M1401.1 2234.3h0M1391.1 2186.0h0M1395.2 2285.3h0M1396.3 2254.5h0M1392.4 2112.1h0M1385.3 2161.1h0M1397.4 2266.9h0M1385.4 2164.3h0M1405.6 2227.8h0M1375.9 2170.5h0M1396.5 2132.9h0M1402.9 2182.4h0M1391.1 2214.9h0M1407.6 2286.4h0M1369.9 2212.4h0M1407.0 2232.5h0M1381.7 2256.5h0M1374.2 2226.6h0M1372.8 2236.2h0M1413.5 2253.0h0M1404.3 2204.1h0M1397.8 2237.7h0M1388.5 2265.6h0M1374.0 2229.4h0M1413.8 2214.3h0M1376.6 2206.3h0M1394.9 2220.2h0M1383.1 2275.6h0M1379.7 2197.1h0M1372.6 2173.8h0M1409.9 2167.5h0M1379.4 2168.2h0M1372.8 2137.5h0M1403.3 2201.9h0M1403.6 2231.3h0M1404.8 2217.8h0M1371.7 2228.7h0M1386.9 2095.1h0M1406.4 2147.8h0M1407.0 2220.3h0M1388.7 2170.4h0M1386.9 2189.8h0M1376.5 2209.4h0M1410.1 2273.5h0M1383.2 2215.4h0M1407.4 2162.9h0M1376.5 2163.5h0M1397.1 2192.8h0M1413.4 2261.4h0M1377.3 2232.8h0M1411.8 2193.6h0M1389.2 2235.4h0M1384.8 2198.8h0M1376.7 2136.6h0M1403.1 2245.7h0M1378.4 2246.4h0M1374.0 2159.1h0M1390.9 2184.2h0M1407.0 2107.1h0M1381.3 2200.6h0M1370.4 2223.7h0M1386.4 2274.8h0M1381.2 2183.7h0M1385.2 2243.2h0M1370.4 2251.6h0M1384.1 2220.9h0M1413.6 2166.7h0M1392.2 2232.1h0M1406.7 2216.5h0M1369.3 2168.9h0M1406.7 2247.2h0M1370.0 2257.4h0M1376.9 2218.0h0M1401.3 2196.9h0M1385.0 2217.8h0M1393.2 2120.4h0M1397.7 2153.7h0M1391.7 2258.4h0M1404.3 2199.5h0M1399.9 2162.8h0M1375.1 2122.1h0M1407.2 2168.9h0M1372.6 2251.9h0M1406.4 2234.2h0M1400.1 2244.6h0M1398.7 2245.5h0M1375.4 2211.2h0M1389.4 2208.0h0M1404.9 2174.9h0M1413.4 2264.2h0M1396.9 2168.4h0M1403.6 2185.2h0M1398.5 2179.1h0M1368.3 2154.8h0M1389.6 2168.2h0M1383.2 2155.5h0M1405.9 2235.8h0M1409.1 2262.5h0M1394.7 2175.6h0M1370.7 2206.3h0M1411.1 2196.4h0M1371.0 2109.0h0M1410.2 2269.5h0M1369.0 2192.5h0M1385.8 2183.3h0M1369.6 2160.5h0M1399.4 2230.0h0M1400.8 2179.5h0M1412.2 2196.4h0M1379.6 2210.9h0M1397.2 2261.3h0M1411.0 2243.8h0M1388.3 2193.1h0M1394.2 2184.6h0M1410.7 2221.7h0M1402.5 2143.2h0M1382.0 2223.4h0M1370.2 2210.6h0M1404.7 2211.7h0M1411.9 2192.4h0M1405.8 2158.3h0M1404.1 2160.2h0M1371.2 2197.2h0M1387.3 2185.5h0M1381.3 2236.2h0M1392.8 2100.3h0M1395.2 2157.8h0M1385.0 2151.4h0M1395.8 2199.4h0M1376.2 2253.1h0M1380.5 2184.0h0M1385.2 2161.1h0M1371.2 2175.9h0M1370.3 2195.9h0M1410.8 2152.7h0M1413.7 2157.9h0M1402.5 2193.4h0M1389.7 2224.6h0M1412.1 2274.2h0M1384.6 2240.1h0M1387.7 2225.7h0M1374.5 2289.8h0M1391.6 2252.6h0M1397.7 2231.0h0M1374.8 2152.3h0M1373.3 2139.0h0M1398.2 2267.1h0M1390.6 2150.7h0M1383.0 2145.4h0M1399.5 2265.0h0M1396.3 2209.5h0M1399.5 2183.1h0M1399.8 2248.8h0M1399.9 2204.4h0M1381.4 2212.3h0M1378.6 2195.6h0M1408.2 2129.3h0M1375.8 2200.4h0M1377.1 2229.7h0M1400.0 2270.0h0M1412.3 2161.7h0M1379.2 2268.5h0M1382.3 2225.5h0M1379.2 2141.7h0M1410.3 2192.1h0M1370.4 2218.4h0M1403.5 2282.8h0M1375.2 2185.6h0M1410.9 2216.5h0M1374.5 2190.0h0M1378.7 2256.0h0M1369.3 2237.3h0M1372.0 2205.8h0M1412.1 2146.2h0M1390.3 2231.0h0M1400.7 2229.9h0M1406.2 2224.8h0M1393.8 2249.6h0M1369.8 2197.0h0M1412.9 2226.8h0M1378.3 2165.6h0M1386.0 2149.7h0M1394.7 2264.2h0M1386.9 2225.4h0M1392.5 2175.9h0M1400.5 2236.6h0M1401.2 2174.3h0M1411.6 2178.8h0M1400.4 2193.5h0M1370.4 2146.1h0M1413.8 2222.7h0M1404.2 2269.2h0M1402.0 2123.9h0M1372.2 2159.4h0M1386.4 2153.7h0M1383.6 2174.3h0M1369.4 2229.8h0M1376.3 2238.4h0M1382.9 2235.8h0M1411.3 2155.6h0M1412.3 2187.0h0M1412.2 2176.8h0M1409.5 2217.7h0M1410.9 2228.7h0M1380.1 2214.4h0M1403.3 2261.1h0M1414.1 2167.8h0M1387.2 2203.7h0M1396.4 2175.9h0M1410.6 2207.4h0M1403.6 2217.2h0M1408.7 2171.1h0M1380.8 2177.7h0M1402.5 2182.9h0M1387.1 2222.8h0M1389.4 2181.1h0M1388.9 2202.5h0M1407.2 2187.5h0M1403.5 2232.3h0M1380.2 2251.2h0M1398.3 2159.3h0M1401.3 2209.0h0M1378.5 2122.1h0M1393.4 2249.0h0M1390.9 2280.6h0M1390.5 2123.9h0M1400.5 2166.1h0M1403.8 2230.7h0M1371.8 2175.9h0M1403.9 2265.7h0M1403.8 2164.0h0M1382.4 2242.2h0M1406.4 2163.1h0M1412.7 2213.6h0M1393.3 2236.8h0M1412.8 2163.6h0M1402.8 2213.6h0M1370.6 2248.6h0M1393.3 2266.7h0M1385.8 2256.7h0M1394.6 2193.6h0M1374.8 2249.7h0M1395.5 2241.7h0M1407.9 2246.9h0M1401.3 2267.1h0M1373.4 2228.6h0M1394.8 2212.7h0M1395.1 2192.2h0M1399.1 2155.2h0M1408.0 2249.8h0M1386.9 2231.2h0M1401.8 2081.2h0M1400.9 2219.4h0M1399.4 2251.0h0M1374.9 2199.1h0M1371.0 2261.6h0M1399.2 2247.5h0M1369.4 2244.0h0M1405.3 2150.1h0M1389.9 2166.2h0M1394.2 2188.1h0M1399.4 2132.7h0M1412.5 2201.8h0M1380.9 2159.9h0M1371.6 2216.1h0M1406.1 2136.2h0M1392.9 2284.9h0M1381.2 2217.7h0M1404.8 2231.4h0M1381.4 2220.0h0M1381.2 2252.0h0M1407.7 2117.0h0M1389.0 2260.8h0M1368.8 2171.9h0M1376.8 2181.0h0M1407.0 2270.7h0M1397.4 2221.1h0M1406.9 2255.7h0M1405.4 2221.7h0M1398.3 2218.8h0M1408.8 2201.3h0M1391.3 2168.2h0M1382.8 2283.5h0M1411.5 2207.5h0M1385.5 2184.8h0M1374.8 2268.6h0M1404.3 2266.4h0M1391.1 2241.9h0M1370.5 2193.8h0M1381.8 2255.9h0M1379.7 2273.8h0M1407.3 2225.1h0M1381.9 2263.0h0M1413.9 2219.0h0M1406.2 2253.2h0M1379.2 2182.0h0M1410.4 2218.1h0M1391.2 2148.0h0M1381.8 2248.0h0M1409.5 2155.5h0M1380.4 2218.3h0M1400.6 2159.8h0M1369.8 2269.6h0M1378.1 2245.3h0M1387.7 2210.8h0M1373.7 2238.0h0M1396.6 2182.1h0M1410.3 2200.9h0M1392.2 2172.1h0M1408.5 2242.0h0M1382.6 2228.2h0M1408.6 2176.7h0M1410.4 2141.4h0M1386.1 2157.2h0M1400.6 2267.7h0M1405.7 2226.4h0M1403.7 2148.7h0M1404.9 2151.5h0M1403.2 2272.8h0M1410.6 2205.6h0M1380.1 2180.8h0M1386.6 2257.3h0M1387.3 2259.5h0M1395.4 2245.9h0M1412.9 2145.5h0M1384.2 2156.2h0M1407.6 2209.0h0M1407.3 2214.5h0M1407.6 2232.7h0M1392.2 2204.1h0M1401.8 2241.3h0M1368.1 2170.3h0M1402.9 2184.4h0M1383.1 2235.6h0M1371.0 2240.1h0M1402.2 2196.7h0M1386.6 2281.8h0M1373.6 2181.9h0M1388.2 2276.2h0M1368.7 2221.9h0M1375.8 2269.8h0M1381.6 2151.4h0M1372.5 2194.8h0M1374.1 2196.4h0M1370.9 2199.8h0M1392.3 2120.0h0M1374.7 2171.2h0M1385.0 2176.6h0M1404.9 2234.8h0M1382.1 2249.9h0M1370.3 2218.0h0M1369.8 2253.1h0M1367.9 2233.9h0M1399.5 2175.6h0M1373.0 2227.8h0M1410.8 2244.3h0M1394.5 2204.8h0M1387.5 2200.8h0M1370.5 2245.6h0M1395.4 2169.9h0M1400.6 2199.6h0M1401.7 2153.4h0M1383.5 2205.9h0M1398.7 2120.0h0M1381.3 2247.4h0M1392.6 2186.1h0M1372.2 2220.2h0M1376.2 2163.7h0M1395.4 2185.2h0M1379.2 2198.3h0M1375.4 2256.1h0M1373.1 2211.3h0M1389.3 2254.6h0M1385.9 2209.4h0M1387.6 2167.8h0M1372.1 2255.8h0M1397.8 2277.5h0M1396.6 2170.8h0M1404.3 2224.7h0M1402.8 2196.1h0M1368.0 2166.2h0M1383.2 2266.3h0M1385.3 2255.8h0M1373.6 2153.2h0M1410.1 2206.3h0M1370.9 2270.6h0M1403.5 2241.5h0M1379.4 2150.1h0M1397.7 2247.0h0M1368.4 2178.2h0M1392.7 2235.9h0M1409.1 2103.4h0M1368.9 2242.9h0M1368.2 2138.4h0M1378.7 2160.0h0M1391.4 2192.7h0M1385.0 2273.6h0M1392.7 2225.1h0M1374.4 2278.3h0M1396.6 2217.6h0M1393.0 2245.6h0M1376.4 2224.9h0M1373.7 2220.4h0M1388.2 2216.6h0M1373.8 2238.7h0M1395.9 2233.8h0M1387.5 2172.1h0M1381.8 2231.5h0M1379.8 2216.4h0M1383.9 2238.5h0M1397.6 2130.0h0M1377.4 2197.1h0M1395.4 2237.9h0M1413.3 2176.9h0M1399.6 2188.3h0M1380.9 2266.3h0M1405.2 2186.5h0M1383.1 2241.0h0M1371.1 2222.7h0M1405.5 2261.9h0M1397.7 2202.7h0M1413.5 2251.2h0M1385.5 2229.1h0M1401.8 2224.8h0M1409.5 2184.7h0M1388.2 2227.9h0M1371.6 2170.9h0M1408.4 2182.5h0M1396.3 2229.0h0M1399.1 2264.6h0M1396.3 2173.6h0M1388.9 2200.8h0M1370.6 2222.7h0M1403.3 2163.9h0M1405.1 2144.3h0M1404.6 2152.4h0M1393.8 2267.3h0M1383.5 2215.3h0M1389.5 2194.7h0M1401.1 2213.7h0M1377.7 2143.6h0M1389.1 2222.4h0M1385.0 2245.8h0M1379.4 2217.0h0M1377.9 2175.9h0M1413.3 2165.4h0M1388.3 2153.7h0M1372.8 2236.1h0M1409.5 2240.7h0M1376.0 2162.2h0M1381.1 2154.7h0M1377.4 2176.1h0M1392.0 2265.9h0M1412.8 2201.6h0M1384.2 2238.3h0M1381.1 2169.2h0M1407.7 2263.1h0M1389.2 2224.2h0M1371.2 2233.3h0M1383.1 2282.3h0M1392.1 2253.1h0M1396.3 2251.5h0M1378.6 2161.0h0M1401.9 2138.7h0M1382.9 2215.8h0M1405.8 2193.0h0M1407.2 2236.4h0M1382.1 2180.5h0M1386.1 2169.2h0M1410.8 2276.3h0M1388.7 2153.9h0M1368.1 2158.6h0M1376.2 2218.3h0M1410.3 2264.2h0M1397.3 2196.1h0M1390.6 2226.9h0M1374.5 2242.7h0M1384.5 2102.9h0M1383.4 2141.6h0M1371.6 2218.5h0M1381.6 2188.2h0M1381.6 2183.8h0M1393.9 2208.0h0M1414.0 2177.2h0M1400.7 2172.2h0M1368.6 2150.3h0M1385.1 2214.8h0M1388.1 2224.1h0M1409.0 2240.4h0M1389.6 2213.3h0M1401.2 2213.8h0M1398.0 2152.3h0M1407.5 2196.8h0M1395.8 2252.4h0M1396.8 2200.9h0M1386.3 2228.2h0M1373.1 2253.5h0M1404.3 2178.5h0M1408.6 2255.3h0M1391.6 2208.6h0M1376.3 2210.5h0M1369.9 2252.5h0M1374.6 2165.1h0M1385.5 2197.9h0M1368.7 2214.2h0M1405.5 2184.6h0M1393.3 2196.5h0M1406.1 2168.9h0M1371.8 2195.5h0M1411.5 2221.7h0M1404.6 2144.8h0M1369.3 2136.2h0M1386.6 2267.9h0M1411.6 2212.8h0M1403.6 2181.4h0M1404.1 2209.0h0M1409.7 2166.9h0M1410.4 2209.7h0M1405.5 2258.2h0M1369.7 2283.3h0M1390.1 2184.5h0M1379.1 2228.6h0M1396.5 2212.4h0M1380.3 2209.4h0M1399.4 2164.8h0M1406.9 2186.6h0M1394.7 2167.7h0M1369.6 2203.0h0M1404.9 2165.9h0M1369.9 2200.2h0M1411.0 2244.1h0M1383.0 2150.3h0M1402.7 2115.8h0M1383.9 2176.1h0M1378.5 2143.4h0M1401.1 2200.6h0M1398.1 2203.9h0M1386.2 2229.8h0M1404.5 2226.3h0M1401.8 2172.2h0M1395.9 2225.5h0M1372.8 2137.4h0M1370.0 2144.3h0M1373.7 2230.5h0M1376.3 2168.6h0M1369.9 2267.9h0M1379.3 2187.3h0M1389.6 2183.0h0M1378.6 2235.4h0M1398.3 2188.1h0M1374.5 2163.2h0M1403.1 2222.6h0M1373.5 2257.0h0M1370.9 2253.0h0M1374.9 2242.3h0M1371.4 2249.2h0M1410.7 2240.2h0M1409.0 2277.6h0M1378.5 2224.2h0M1375.6 2225.5h0M1371.0 2149.1h0M1402.6 2252.3h0M1371.9 2199.5h0M1376.0 2219.8h0M1399.1 2131.4h0M1373.1 2260.4h0M1395.2 2254.1h0M1410.0 2183.7h0M1401.9 2187.5h0M1384.6 2184.1h0M1381.4 2231.3h0M1395.5 2215.9h0M1407.5 2242.7h0M1372.3 2209.7h0M1390.6 2193.7h0M1376.8 2140.4h0M1405.1 2137.0h0M1369.6 2206.4h0M1403.5 2211.7h0M1382.1 2250.2h0M1398.8 2240.9h0M1397.0 2228.1h0M1388.7 2247.3h0M1407.5 2207.1h0M1398.5 2157.9h0M1378.6 2229.4h0M1408.4 2277.9h0M1396.0 2227.9h0M1388.5 2233.7h0M1402.0 2167.2h0M1368.0 2143.9h0M1397.1 2176.7h0M1387.4 2231.4h0M1383.3 2172.0h0M1405.2 2208.1h0M1395.5 2217.6h0M1369.6 2190.5h0M1375.0 2228.1h0M1402.2 2242.3h0M1414.0 2231.2h0M1391.8 2223.4h0M1374.1 2182.6h0M1396.9 2182.3h0M1376.0 2202.2h0M1369.5 2189.3h0M1368.2 2185.2h0M1411.1 2214.5h0M1402.5 2223.7h0M1383.3 2186.9h0M1408.4 2148.7h0M1391.6 2251.9h0M1386.8 2254.7h0M1410.1 2278.8h0M1406.4 2244.0h0M1393.9 2241.4h0M1370.2 2201.5h0M1408.1 2239.3h0M1403.3 2131.5h0M1389.9 2222.0h0M1406.8 2256.7h0M1379.5 2168.8h0M1389.5 2233.9h0M1394.8 2145.2h0M1378.8 2202.2h0M1370.6 2196.0h0M1375.3 2167.7h0M1404.9 2233.8h0M1406.0 2191.0h0M1394.4 2265.6h0M1384.7 2201.0h0M1402.2 2149.0h0M1384.2 2203.4h0M1386.8 2216.8h0M1406.7 2203.8h0M1411.6 2235.8h0M1378.6 2265.0h0M1402.1 2208.3h0M1370.1 2148.5h0M1375.5 2144.8h0M1375.0 2254.2h0M1403.5 2189.3h0M1412.8 2148.9h0M1384.7 2146.7h0M1402.9 2149.4h0M1390.8 2258.8h0M1381.1 2144.7h0M1386.4 2207.5h0M1385.2 2223.3h0M1402.3 2215.5h0M1378.2 2151.9h0M1408.4 2254.6h0M1405.0 2188.4h0M1406.5 2179.9h0M1368.3 2274.3h0M1399.8 2269.4h0M1398.2 2220.2h0M1393.2 2168.6h0M1387.1 2238.9h0M1404.1 2201.0h0M1394.7 2244.8h0M1391.8 2233.0h0M1387.7 2212.3h0M1403.4 2127.2h0M1413.8 2244.4h0M1375.0 2180.6h0M1373.2 2212.2h0M1374.6 2181.1h0M1400.3 2231.2h0M1412.2 2254.7h0M1376.6 2218.0h0M1374.1 2166.5h0M1407.9 2204.7h0M1391.0 2234.8h0M1388.2 2267.5h0M1405.9 2124.4h0M1379.7 2204.8h0M1383.6 2195.5h0M1413.3 2211.8h0M1408.1 2243.0h0M1406.3 2219.2h0M1403.2 2242.9h0M1385.6 2254.1h0M1392.4 2238.0h0M1396.7 2170.4h0M1395.3 2257.0h0M1371.9 2175.0h0M1376.6 2262.6h0M1381.2 2172.8h0M1382.0 2180.0h0M1378.3 2170.7h0M1387.9 2215.2h0M1403.3 2166.5h0M1377.2 2290.5h0M1400.1 2211.4h0M1405.1 2089.8h0M1410.0 2150.6h0M1369.3 2237.5h0M1375.5 2248.7h0M1398.4 2091.6h0M1396.5 2203.4h0M1405.3 2196.1h0M1400.9 2162.3h0M1411.1 2245.4h0M1371.9 2247.4h0M1390.9 2171.0h0M1373.8 2156.1h0M1375.4 2278.7h0M1373.8 2201.6h0M1378.3 2191.9h0M1396.1 2185.7h0M1381.8 2198.3h0M1412.5 2180.0h0M1379.1 2192.4h0M1391.5 2171.5h0M1406.4 2150.7h0M1403.6 2213.5h0M1412.6 2222.8h0M1383.2 2142.3h0M1408.5 2281.7h0M1388.8 2274.1h0M1405.7 2222.8h0M1382.9 2231.5h0M1401.5 2083.4h0M1385.2 2214.6h0M1406.1 2134.5h0M1380.9 2232.2h0M1395.2 2198.3h0M1378.5 2192.4h0M1394.6 2165.0h0M1396.0 2200.2h0M1399.3 2210.7h0M1411.7 2222.7h0M1392.8 2172.8h0M1412.7 2205.1h0M1372.7 2187.0h0M1373.6 2204.7h0M1369.8 2285.9h0M1379.7 2202.7h0M1382.8 2189.3h0M1402.5 2168.3h0M1373.2 2181.0h0M1408.5 2188.3h0M1404.5 2202.2h0M1398.6 2164.0h0M1404.2 2134.2h0M1407.2 2169.7h0M1400.1 2248.1h0M1370.2 2253.5h0M1395.2 2196.6h0M1410.1 2276.3h0M1404.4 2171.1h0M1396.1 2198.1h0M1392.3 2251.9h0M1405.0 2234.3h0M1402.3 2273.8h0M1385.9 2178.5h0M1393.5 2224.7h0M1374.1 2162.3h0M1404.6 2205.1h0M1402.5 2196.7h0M1410.6 2253.7h0M1371.1 2187.8h0M1383.2 2182.5h0M1387.6 2226.6h0M1393.5 2204.3h0M1412.1 2244.8h0M1390.2 2256.7h0M1391.1 2154.9h0M1412.1 2257.4h0M1382.4 2261.3h0M1405.4 2143.5h0M1372.5 2205.8h0M1405.3 2194.2h0M1399.8 2154.8h0M1399.8 2179.0h0M1407.5 2223.5h0M1387.4 2232.8h0M1406.0 2243.2h0M1380.7 2177.5h0M1382.8 2141.1h0M1402.3 2249.1h0M1371.8 2223.8h0M1391.5 2257.7h0M1413.3 2247.7h0M1368.7 2204.7h0M1405.2 2181.8h0M1373.0 2169.9h0M1368.5 2183.5h0M1412.8 2168.0h0M1405.9 2179.0h0M1374.1 2242.2h0M1407.7 2238.7h0M1413.6 2272.8h0M1370.8 2233.9h0M1378.6 2175.6h0M1410.9 2238.3h0M1377.7 2168.0h0M1396.9 2288.4h0M1370.2 2194.1h0M1375.0 2143.7h0M1374.3 2267.9h0M1384.4 2157.5h0M1376.6 2163.9h0M1375.5 2161.3h0M1382.2 2164.8h0M1383.3 2258.1h0M1369.4 2134.3h0M1395.1 2156.6h0M1406.2 2227.7h0M1381.5 2144.4h0M1389.2 2154.0h0M1383.2 2276.8h0M1402.8 2203.0h0M1390.6 2281.9h0M1398.1 2168.8h0M1393.4 2239.2h0M1397.4 2207.0h0M1406.6 2177.9h0M1369.3 2162.4h0M1406.9 2271.9h0M1400.7 2162.5h0M1395.7 2235.2h0M1383.3 2147.2h0M1394.1 2148.4h0M1384.2 2218.8h0M1368.6 2165.7h0M1386.6 2212.3h0M1378.6 2171.3h0M1373.6 2212.9h0M1400.7 2247.5h0M1387.8 2220.1h0M1410.9 2210.6h0M1380.9 2266.9h0M1398.5 2220.2h0M1389.0 2176.5h0M1384.9 2193.0h0M1386.5 2260.4h0M1368.9 2248.5h0M1375.0 2187.8h0M1411.4 2257.7h0M1381.6 2240.1h0M1373.5 2234.8h0M1408.6 2222.4h0M1386.4 2201.4h0M1383.7 2154.1h0M1409.2 2174.4h0M1376.6 2247.0h0M1395.9 2266.5h0M1386.4 2195.7h0M1370.0 2206.7h0M1375.9 2139.5h0M1402.9 2177.0h0M1388.0 2250.1h0M1394.0 2219.7h0M1378.5 2218.1h0M1387.3 2239.4h0M1384.3 2198.4h0M1414.1 2282.6h0M1371.3 2166.5h0M1408.9 2249.6h0M1374.0 2273.7h0M1404.2 2254.8h0M1404.5 2273.3h0M1378.2 2181.9h0M1411.6 2194.9h0M1405.6 2191.2h0M1384.7 2241.8h0M1403.2 2230.6h0M1410.3 2176.4h0M1392.7 2216.2h0M1383.8 2172.8h0M1374.3 2200.3h0M1402.7 2210.1h0M1400.4 2142.2h0M1389.9 2156.9h0M1381.8 2231.9h0M1412.5 2167.3h0M1411.9 2186.1h0M1374.4 2132.0h0M1385.2 2279.4h0M1394.4 2180.4h0M1381.7 2166.2h0M1386.3 2206.4h0M1404.7 2276.1h0M1397.6 2179.7h0M1380.1 2211.0h0M1411.3 2241.3h0M1403.8 2268.1h0M1397.3 2222.1h0M1394.4 2165.7h0M1391.6 2184.1h0M1382.3 2243.7h0M1389.5 2228.4h0M1383.9 2214.5h0M1378.6 2209.0h0M1381.6 2167.8h0M1381.1 2196.0h0M1379.7 2193.9h0M1388.1 2249.8h0M1387.4 2154.1h0M1405.2 2139.9h0M1394.2 2119.4h0M1394.0 2163.7h0M1381.8 2269.1h0M1377.3 2233.0h0M1371.7 2235.4h0M1404.4 2178.9h0M1369.1 2146.9h0M1377.0 2152.6h0M1388.8 2268.0h0M1413.5 2169.3h0M1380.5 2214.6h0M1371.6 2183.6h0M1387.5 2211.8h0M1400.2 2196.9h0M1410.3 2226.0h0M1406.4 2236.4h0M1371.4 2167.1h0M1399.2 2178.6h0M1403.0 2246.6h0M1390.6 2237.4h0M1409.6 2203.3h0M1376.6 2197.8h0M1377.5 2140.6h0M1411.4 2144.5h0M1388.4 2244.1h0M1403.4 2159.9h0M1408.6 2232.7h0M1400.4 2187.5h0M1372.8 2216.0h0M1403.6 2220.3h0M1404.8 2180.0h0M1368.4 2203.3h0M1404.6 2223.6h0M1390.9 2209.2h0M1378.5 2200.7h0M1388.2 2234.3h0M1370.0 2243.5h0M1410.6 2224.5h0M1398.6 2218.7h0M1388.0 2148.5h0M1385.4 2176.7h0M1403.8 2116.8h0M1408.4 2256.1h0M1388.7 2209.6h0M1402.1 2236.4h0M1382.0 2173.5h0M1372.3 2174.1h0M1408.2 2227.4h0M1392.5 2184.0h0M1411.0 2158.2h0M1391.2 2188.3h0M1412.6 2171.1h0M1412.7 2201.0h0M1388.5 2240.7h0M1410.2 2173.6h0M1387.2 2224.0h0M1386.0 2247.9h0M1389.4 2286.6h0M1400.9 2195.9h0M1408.6 2142.4h0M1388.4 2178.0h0M1411.1 2176.4h0M1380.5 2169.9h0M1370.3 2199.2h0M1376.0 2245.7h0M1369.9 2154.8h0M1389.2 2204.0h0M1392.8 2221.3h0M1407.4 2185.5h0M1378.8 2149.7h0M1379.0 2155.6h0M1388.9 2252.1h0M1368.6 2189.2h0M1399.5 2195.9h0M1389.1 2158.4h0M1394.7 2198.8h0M1386.2 2249.1h0M1372.0 2116.4h0M1379.2 2260.2h0M1405.2 2246.9h0M1393.9 2243.7h0M1384.2 2196.4h0M1403.4 2253.6h0M1410.7 2192.0h0M1412.8 2174.7h0M1383.5 2262.5h0M1374.8 2224.1h0M1388.0 2252.2h0M1401.1 2267.3h0M1412.0 2232.1h0M1380.6 2191.0h0M1375.1 2204.1h0M1396.1 2173.7h0M1395.6 2149.0h0M1409.0 2248.6h0M1395.9 2277.1h0M1382.8 2205.7h0M1409.3 2222.8h0M1403.3 2187.1h0M1411.4 2203.2h0M1375.9 2182.5h0M1378.8 2190.7h0M1406.8 2226.9h0M1396.9 2227.2h0M1409.5 2138.5h0M1401.7 2151.8h0M1379.8 2245.5h0M1389.1 2121.7h0M1370.2 2203.2h0M1385.4 2181.3h0M1405.7 2234.1h0M1379.8 2205.5h0M1375.6 2271.2h0M1382.1 2250.9h0M1394.8 2203.5h0M1404.4 2214.3h0M1378.9 2273.4h0M1391.0 2221.4h0M1384.1 2256.9h0M1405.2 2162.6h0M1402.2 2233.9h0M1396.6 2226.1h0M1406.1 2169.2h0M1377.6 2237.6h0M1384.4 2222.2h0M1370.8 2200.7h0M1406.2 2179.9h0M1413.5 2191.0h0M1391.0 2207.4h0M1381.6 2224.1h0M1406.3 2207.5h0M1407.3 2174.2h0M1404.3 2238.3h0M1396.2 2255.9h0M1373.1 2194.3h0M1409.7 2247.0h0M1368.4 2227.2h0M1388.8 2272.7h0M1373.8 2156.6h0M1377.5 2169.7h0M1391.5 2165.4h0M1379.8 2251.8h0M1399.0 2243.3h0M1374.6 2164.5h0M1370.9 2247.4h0M1411.5 2204.2h0M1391.6 2181.2h0M1406.8 2169.5h0M1391.3 2250.1h0M1376.5 2238.8h0M1412.9 2251.7h0M1399.5 2260.3h0M1401.5 2204.2h0M1409.3 2221.1h0M1370.8 2252.7h0M1399.4 2217.2h0M1405.6 2251.5h0M1393.0 2129.9h0M1402.0 2137.1h0M1406.6 2166.1h0M1410.8 2212.8h0M1408.9 2158.9h0M1374.5 2245.8h0M1371.0 2272.5h0M1400.5 2196.5h0M1377.6 2148.7h0M1370.9 2240.7h0M1368.9 2225.5h0M1372.8 2220.1h0M1386.9 2176.4h0M1385.0 2201.3h0M1412.3 2139.1h0M1389.4 2212.8h0M1383.4 2171.7h0M1409.1 2251.6h0M1368.9 2163.1h0M1412.3 2174.6h0M1370.4 2235.7h0M1370.3 2165.2h0M1383.0 2260.6h0M1368.8 2168.9h0M1389.3 2230.7h0M1384.4 2167.7h0M1375.9 2249.6h0M1372.3 2269.8h0M1380.6 2218.2h0M1377.4 2277.6h0M1401.3 2284.5h0M1394.1 2130.0h0M1374.9 2135.3h0M1407.7 2194.1h0M1409.0 2146.8h0M1400.9 2223.2h0M1395.0 2225.8h0M1388.9 2154.4h0M1408.3 2233.0h0M1379.7 2121.9h0M1393.6 2181.7h0M1395.0 2170.7h0M1398.3 2182.8h0M1406.6 2167.3h0M1401.1 2248.8h0M1411.9 2138.3h0M1371.9 2277.1h0M1395.0 2209.1h0M1370.0 2212.8h0M1409.9 2180.0h0M1410.2 2208.5h0M1396.8 2188.7h0M1408.1 2203.0h0M1400.3 2219.4h0M1387.1 2188.9h0M1406.0 2186.6h0M1401.3 2262.4h0M1398.3 2251.4h0M1403.5 2201.3h0M1369.5 2198.8h0M1408.1 2279.9h0M1368.1 2193.2h0M1391.7 2253.0h0M1369.0 2288.8h0M1404.0 2163.2h0M1401.8 2203.8h0M1384.0 2251.4h0M1400.7 2141.4h0M1412.4 2232.6h0M1383.0 2286.6h0M1395.8 2216.3h0M1382.2 2263.7h0M1376.5 2128.1h0M1409.9 2253.6h0M1378.0 2230.7h0M1391.0 2231.8h0M1368.1 2122.2h0M1397.8 2205.9h0M1387.7 2248.2h0M1406.9 2231.4h0M1411.1 2191.2h0M1403.5 2280.2h0M1413.0 2173.8h0M1396.8 2188.8h0M1377.2 2191.7h0M1398.2 2271.6h0M1373.0 2218.1h0M1381.5 2207.8h0M1382.5 2235.7h0M1385.7 2191.6h0M1390.5 2216.3h0M1386.4 2254.2h0M1399.5 2263.6h0M1379.7 2237.2h0M1372.9 2213.1h0M1370.7 2165.8h0M1404.1 2220.9h0M1370.5 2249.5h0M1398.8 2285.0h0M1374.2 2259.1h0M1413.0 2148.5h0M1408.4 2224.5h0M1376.7 2170.7h0M1371.8 2257.6h0M1373.5 2287.6h0M1401.4 2147.7h0M1392.2 2217.5h0M1376.1 2170.4h0M1377.4 2211.5h0M1413.5 2245.1h0M1378.9 2247.7h0M1376.9 2230.1h0M1376.5 2166.6h0M1387.9 2179.0h0M1400.4 2225.0h0M1394.0 2169.8h0M1404.1 2230.7h0M1388.3 2255.6h0M1407.8 2243.4h0M1402.3 2160.9h0M1404.2 2271.9h0M1388.9 2127.4h0M1371.1 2190.3h0M1401.9 2223.8h0M1405.9 2179.9h0M1377.7 2270.5h0M1387.6 2166.2h0M1383.3 2186.4h0M1400.8 2227.6h0M1409.6 2206.8h0M1406.3 2179.8h0M1394.6 2165.9h0M1387.1 2194.8h0M1377.0 2228.9h0M1386.3 2159.2h0M1393.5 2230.2h0M1404.4 2153.0h0M1368.0 2155.1h0M1402.9 2256.0h0M1408.5 2207.7h0M1386.3 2224.9h0M1378.6 2192.2h0M1410.7 2287.1h0M1368.5 2162.0h0M1381.4 2251.3h0M1385.6 2196.9h0M1408.0 2264.3h0M1398.2 2189.4h0M1389.2 2177.8h0M1389.5 2263.5h0M1409.5 2219.4h0M1381.9 2154.0h0M1368.4 2246.3h0M1371.7 2238.9h0M1405.4 2237.6h0M1369.0 2245.6h0M1393.9 2203.6h0M1399.0 2160.8h0M1381.0 2250.3h0M1391.3 2268.2h0M1375.2 2128.0h0M1378.8 2223.1h0M1409.0 2201.5h0M1392.3 2252.0h0M1403.1 2192.0h0M1386.1 2234.5h0M1374.8 2232.5h0M1376.4 2153.2h0M1412.7 2182.4h0M1390.9 2265.1h0M1369.8 2255.8h0M1396.7 2191.1h0M1373.0 2190.1h0M1389.8 2222.7h0M1370.2 2258.9h0M1411.7 2235.1h0M1408.7 2164.9h0M1380.8 2211.1h0M1394.5 2195.7h0M1398.0 2272.0h0M1402.2 2184.3h0M1390.9 2160.7h0M1393.1 2167.6h0M1387.2 2258.9h0M1373.9 2270.3h0M1410.0 2215.7h0M1412.2 2175.8h0M1390.5 2210.4h0M1402.4 2227.4h0M1399.8 2201.0h0M1388.0 2158.5h0M1390.2 2201.1h0M1381.9 2254.3h0M1413.5 2249.6h0M1370.9 2173.6h0M1387.2 2164.8h0M1369.1 2159.0h0M1372.2 2200.9h0M1405.6 2210.0h0M1412.3 2179.5h0M1392.3 2225.1h0M1370.3 2267.9h0M1404.3 2146.2h0M1390.8 2206.1h0M1385.7 2198.0h0M1369.9 2218.9h0M1382.4 2229.0h0M1374.5 2184.2h0M1389.1 2091.3h0M1407.3 2247.5h0M1385.5 2161.3h0M1412.0 2158.1h0M1374.7 2145.9h0M1413.0 2207.9h0M1370.8 2126.4h0M1374.8 2172.8h0M1395.0 2170.5h0M1390.7 2239.3h0M1400.9 2161.9h0M1409.7 2223.2h0M1384.5 2163.8h0M1374.1 2145.8h0M1406.0 2198.6h0M1408.4 2237.6h0M1394.0 2245.0h0M1392.1 2262.6h0M1392.4 2182.5h0M1406.3 2212.9h0M1396.0 2172.2h0M1375.2 2157.0h0M1394.4 2216.5h0M1378.8 2275.4h0M1371.5 2200.1h0M1399.0 2205.5h0M1413.2 2151.6h0M1371.6 2218.4h0M1383.7 2196.2h0M1375.6 2144.2h0M1412.9 2229.1h0M1385.0 2136.6h0M1387.5 2189.1h0M1411.6 2202.4h0M1381.3 2213.4h0M1384.5 2160.2h0M1369.3 2261.5h0M1378.9 2158.6h0M1374.7 2179.5h0M1405.0 2220.0h0M1387.2 2193.4h0M1378.5 2154.6h0M1394.5 2171.6h0M1384.0 2267.4h0M1390.3 2196.4h0M1380.4 2234.1h0M1387.8 2268.1h0M1412.3 2228.1h0M1381.6 2232.5h0M1405.1 2235.1h0M1396.8 2149.2h0M1389.6 2285.4h0M1413.8 2142.5h0M1368.3 2223.8h0M1375.2 2183.6h0M1392.3 2180.6h0M1374.0 2261.9h0M1386.7 2270.6h0M1379.5 2168.9h0M1373.6 2257.4h0M1414.0 2250.7h0M1414.1 2240.7h0M1403.9 2256.8h0M1410.2 2209.2h0M1405.0 2220.1h0M1383.2 2192.5h0M1411.5 2119.4h0M1406.8 2186.2h0M1376.2 2151.8h0M1388.3 2287.9h0M1397.6 2233.4h0M1393.5 2231.0h0M1405.8 2181.7h0M1405.7 2167.4h0M1396.6 2205.2h0M1370.5 2184.1h0M1396.4 2227.7h0M1393.9 2112.4h0M1407.6 2165.5h0M1375.9 2126.5h0M1382.0 2185.5h0M1402.7 2253.9h0M1410.3 2209.0h0M1396.1 2226.4h0M1378.7 2173.8h0M1390.7 2198.0h0M1401.5 2169.3h0M1378.9 2227.4h0M1394.7 2204.9h0M1376.7 2197.7h0M1372.6 2167.6h0M1413.6 2232.6h0M1413.3 2250.0h0M1377.0 2159.8h0M1393.7 2164.4h0M1410.4 2176.4h0M1389.7 2147.5h0M1391.9 2117.5h0M1395.1 2197.5h0M1386.8 2178.9h0M1401.7 2227.5h0M1413.5 2260.3h0M1405.1 2220.4h0M1386.2 2209.0h0M1405.0 2140.0h0M1403.9 2251.9h0M1403.3 2170.6h0M1403.6 2237.2h0M1411.5 2144.0h0M1413.3 2238.8h0M1394.6 2241.7h0M1377.0 2272.0h0M1377.6 2240.0h0M1414.1 2149.5h0M1412.9 2191.1h0M1375.5 2259.0h0M1371.7 2237.1h0M1395.9 2252.6h0M1399.5 2278.7h0M1384.6 2197.4h0M1384.7 2227.1h0M1405.3 2250.4h0M1378.3 2218.1h0M1382.5 2248.7h0M1405.4 2241.5h0M1370.2 2248.1h0M1379.8 2174.3h0M1376.5 2189.6h0M1374.7 2225.1h0M1387.0 2181.6h0M1391.1 2169.8h0M1370.4 2223.8h0M1381.5 2239.0h0M1412.6 2197.7h0M1401.2 2201.3h0M1397.7 2168.0h0M1369.7 2160.8h0M1374.8 2264.6h0M1405.0 2264.4h0M1387.4 2151.0h0M1403.6 2247.3h0M1386.5 2194.5h0M1410.0 2253.7h0M1372.4 2251.6h0M1403.0 2176.6h0M1406.0 2225.8h0M1408.6 2203.1h0M1405.6 2259.9h0M1381.0 2190.6h0M1375.6 2143.4h0M1378.0 2273.9h0M1391.2 2147.1h0M1392.2 2225.8h0M1376.0 2205.6h0M1390.2 2260.6h0M1403.4 2220.5h0M1369.4 2230.0h0M1397.5 2209.4h0M1377.3 2264.8h0M1387.9 2228.8h0M1394.2 2243.6h0M1395.6 2200.2h0M1383.0 2233.2h0M1368.9 2200.8h0M1368.5 2192.3h0M1376.8 2200.8h0M1406.4 2251.3h0M1395.5 2242.3h0M1386.4 2152.8h0M1413.5 2182.5h0M1400.7 2199.8h0M1383.4 2221.3h0M1381.6 2216.7h0M1382.0 2180.7h0M1377.2 2202.2h0M1414.2 2210.2h0M1385.2 2253.9h0M1390.6 2184.5h0M1385.0 2230.0h0M1411.6 2173.7h0M1386.2 2226.1h0M1396.9 2161.2h0M1393.4 2250.8h0M1385.8 2218.6h0M1373.6 2199.6h0M1368.8 2232.0h0M1390.5 2200.3h0M1411.7 2241.3h0M1378.5 2216.2h0M1401.5 2239.5h0M1396.8 2194.4h0M1389.6 2257.1h0M1386.2 2142.1h0M1411.2 2228.9h0M1374.6 2231.8h0M1395.7 2140.4h0M1403.9 2184.8h0M1403.8 2192.8h0M1408.6 2249.9h0M1377.8 2132.8h0M1379.6 2252.5h0M1374.8 2205.3h0M1394.5 2149.4h0M1385.7 2249.6h0M1386.0 2241.6h0M1388.0 2144.8h0M1382.0 2171.4h0M1403.9 2128.4h0M1380.5 2215.8h0M1370.9 2246.3h0M1390.2 2131.0h0M1389.6 2168.8h0M1405.3 2241.4h0M1399.2 2186.9h0M1405.6 2165.1h0M1372.8 2213.9h0M1408.8 2148.0h0M1368.0 2221.0h0M1397.7 2257.1h0M1392.5 2189.9h0M1393.0 2159.7h0M1386.6 2253.5h0M1412.7 2144.4h0M1378.9 2233.9h0M1410.2 2246.7h0M1412.9 2175.8h0M1391.2 2142.0h0M1393.8 2237.0h0M1400.7 2196.8h0M1382.1 2200.5h0M1412.4 2160.4h0M1391.4 2190.3h0M1393.0 2236.0h0M1368.8 2184.5h0M1412.2 2250.5h0M1375.8 2139.7h0M1399.3 2215.4h0M1379.5 2149.1h0M1411.3 2224.8h0M1376.4 2265.9h0M1409.8 2186.3h0M1381.0 2183.7h0M1378.8 2174.0h0M1381.9 2200.9h0M1388.5 2210.1h0M1396.2 2177.5h0M1375.1 2175.9h0M1373.6 2191.6h0M1372.9 2260.5h0M1392.3 2181.0h0M1406.6 2268.4h0M1376.8 2257.2h0M1412.6 2158.8h0M1380.0 2239.9h0M1390.5 2234.1h0M1377.3 2201.6h0M1401.6 2182.1h0M1391.9 2237.8h0M1389.1 2170.7h0M1378.4 2228.0h0M1387.1 2184.1h0M1409.0 2183.6h0M1398.7 2204.8h0M1413.7 2218.4h0M1384.6 2245.7h0M1413.0 2231.7h0M1396.9 2188.6h0M1384.7 2172.4h0M1397.6 2243.6h0M1406.7 2201.2h0M1380.2 2228.3h0M1379.8 2191.5h0M1385.6 2221.7h0M1371.9 2199.1h0M1410.7 2201.8h0M1374.6 2182.5h0M1371.2 2202.5h0M1403.0 2234.8h0M1395.2 2173.0h0M1375.6 2286.4h0M1401.1 2141.1h0M1370.9 2256.9h0M1400.6 2146.8h0M1371.0 2182.9h0M1392.8 2258.8h0M1382.4 2165.1h0M1395.6 2216.2h0M1397.0 2251.1h0M1378.8 2267.4h0M1402.5 2147.3h0M1375.6 2214.0h0M1399.8 2128.3h0M1409.9 2225.6h0M1372.3 2177.8h0M1369.1 2257.7h0M1386.9 2226.4h0M1408.6 2205.1h0M1392.4 2233.5h0M1383.1 2233.4h0M1414.2 2199.1h0M1386.4 2259.7h0M1379.2 2220.4h0M1372.5 2273.8h0M1373.4 2165.3h0M1392.9 2241.7h0M1403.5 2151.4h0M1410.8 2232.0h0M1370.5 2197.9h0M1379.3 2259.4h0M1373.7 2240.9h0M1409.9 2150.5h0M1407.8 2208.9h0M1379.6 2180.5h0M1384.5 2193.6h0M1381.0 2225.0h0M1387.7 2253.0h0M1395.0 2170.2h0M1392.5 2210.5h0M1399.5 2191.2h0M1373.4 2181.3h0M1411.1 2139.9h0M1380.6 2200.1h0M1392.2 2231.8h0M1393.6 2176.7h0M1397.7 2166.9h0M1393.8 2245.1h0M1410.1 2229.0h0M1410.0 2259.4h0M1402.3 2170.0h0M1368.4 2263.2h0M1370.1 2138.3h0M1397.8 2225.0h0M1413.8 2144.7h0M1378.1 2231.0h0M1400.0 2193.4h0M1396.5 2167.2h0M1400.3 2220.0h0M1374.3 2177.0h0M1412.8 2147.5h0M1401.4 2104.2h0M1398.9 2201.9h0M1411.3 2172.8h0M1376.8 2196.9h0M1410.8 2233.0h0M1368.0 2163.9h0M1384.7 2204.5h0M1371.1 2137.7h0M1411.4 2274.0h0M1387.8 2136.5h0M1389.6 2142.6h0M1393.7 2243.6h0M1378.1 2231.5h0M1402.1 2244.0h0M1385.6 2243.4h0M1392.6 2175.7h0M1407.2 2207.9h0M1370.1 2167.1h0M1401.6 2253.1h0M1405.3 2182.7h0M1396.8 2220.9h0M1372.7 2204.5h0M1404.6 2187.9h0M1379.1 2251.8h0M1395.8 2178.9h0M1413.1 2254.6h0M1406.1 2207.7h0M1370.3 2259.3h0M1388.6 2227.4h0M1376.0 2213.9h0M1368.3 2139.6h0M1406.4 2168.0h0M1374.8 2270.8h0M1369.6 2160.7h0M1387.9 2203.0h0M1377.3 2167.7h0M1390.1 2166.2h0M1400.3 2261.1h0M1398.6 2210.1h0M1389.1 2202.3h0M1391.0 2254.8h0M1402.4 2243.9h0M1379.3 2280.4h0M1377.6 2123.2h0M1383.3 2213.9h0M1382.6 2263.9h0M1380.3 2229.9h0M1377.1 2165.9h0M1405.7 2219.5h0M1371.7 2127.9h0M1398.4 2199.8h0M1400.0 2170.7h0M1370.8 2125.1h0M1403.9 2215.6h0M1413.5 2272.6h0M1408.5 2203.4h0M1384.5 2152.3h0M1390.0 2208.4h0M1404.1 2208.3h0M1373.8 2264.4h0M1384.1 2243.0h0M1388.2 2140.8h0M1403.3 2095.2h0M1375.0 2184.8h0M1406.2 2216.4h0M1405.0 2241.4h0M1406.2 2253.1h0M1390.8 2160.3h0M1412.4 2207.9h0M1376.7 2163.9h0M1385.1 2256.1h0M1380.7 2136.3h0M1413.0 2206.6h0M1391.7 2285.0h0M1401.7 2151.4h0M1393.2 2156.3h0M1400.7 2117.8h0M1398.9 2186.5h0M1406.8 2202.1h0M1375.9 2220.6h0M1386.5 2192.1h0M1381.0 2257.3h0M1372.4 2247.2h0M1406.4 2246.6h0M1386.1 2235.6h0M1382.1 2260.7h0M1407.1 2209.0h0M1378.3 2204.1h0M1407.4 2212.5h0M1371.3 2223.4h0M1369.3 2207.4h0M1398.4 2238.8h0M1373.4 2244.8h0M1371.6 2194.3h0M1379.1 2239.3h0M1376.8 2271.6h0M1373.7 2170.9h0M1393.0 2262.3h0M1409.9 2197.6h0M1398.5 2255.1h0M1406.4 2164.2h0M1399.4 2208.2h0M1374.3 2196.8h0M1406.3 2178.8h0M1386.1 2216.2h0M1372.7 2219.7h0M1399.6 2210.2h0M1403.8 2142.0h0M1386.0 2249.5h0M1376.0 2214.6h0M1384.6 2224.0h0M1396.8 2201.5h0M1405.2 2108.8h0M1370.5 2158.6h0M1396.8 2176.1h0M1412.3 2130.8h0M1385.5 2232.9h0M1400.8 2224.1h0M1409.8 2149.4h0M1410.2 2185.3h0M1392.8 2225.5h0M1392.4 2151.1h0M1384.3 2176.4h0M1413.2 2257.6h0M1368.9 2215.5h0M1372.4 2195.7h0M1376.4 2223.7h0M1372.1 2148.8h0M1400.9 2151.1h0M1369.2 2175.3h0M1391.2 2242.4h0M1373.7 2180.2h0M1393.8 2277.5h0M1400.0 2210.2h0M1412.8 2192.3h0M1400.0 2236.2h0M1406.9 2090.9h0M1369.6 2213.3h0M1400.0 2142.5h0M1391.9 2250.0h0M1397.5 2211.5h0M1388.0 2232.1h0M1381.7 2200.1h0M1408.8 2186.2h0M1410.4 2118.2h0M1395.2 2177.1h0M1413.2 2243.0h0M1402.8 2201.8h0M1395.6 2146.7h0M1393.7 2218.6h0M1395.3 2253.7h0M1388.4 2173.9h0M1386.2 2255.3h0M1407.3 2147.9h0M1373.1 2231.4h0M1410.6 2217.4h0M1380.3 2238.8h0M1403.4 2241.1h0M1410.8 2219.9h0M1388.2 2176.4h0M1408.3 2225.7h0M1395.4 2164.7h0M1376.4 2202.3h0M1399.3 2182.5h0M1385.1 2247.6h0M1395.5 2199.9h0M1399.2 2155.6h0M1369.4 2149.5h0M1383.2 2212.3h0M1403.6 2195.8h0M1396.0 2266.3h0M1370.5 2151.8h0M1400.8 2247.3h0M1369.5 2202.9h0M1397.4 2189.9h0M1371.3 2182.4h0M1371.6 2208.9h0M1408.7 2128.2h0M1368.8 2138.7h0M1398.0 2209.5h0M1375.4 2240.9h0M1401.7 2211.4h0M1389.6 2154.1h0M1378.8 2202.3h0M1368.8 2228.6h0M1412.5 2245.6h0M1401.7 2218.0h0M1407.2 2227.0h0M1414.2 2192.4h0M1381.4 2204.4h0M1378.1 2242.5h0M1387.6 2279.9h0M1403.6 2186.2h0M1405.7 2151.6h0M1377.4 2144.6h0M1407.7 2253.2h0M1384.3 2148.6h0M1407.3 2161.3h0M1392.7 2184.1h0M1409.3 2172.6h0M1411.7 2264.3h0M1407.0 2178.1h0M1391.8 2251.7h0M1387.8 2213.0h0M1393.4 2172.9h0M1397.6 2270.6h0M1387.7 2289.5h0M1412.0 2209.5h0M1379.8 2206.7h0M1409.9 2120.5h0M1395.0 2210.6h0M1408.4 2187.9h0M1396.8 2166.4h0M1401.1 2285.6h0M1382.7 2180.0h0M1409.0 2205.4h0M1383.6 2246.9h0M1392.5 2242.4h0M1387.8 2197.9h0M1379.4 2172.9h0M1410.8 2183.3h0M1393.1 2160.3h0M1383.9 2176.1h0M1390.9 2184.7h0M1408.5 2259.4h0M1399.2 2250.6h0M1392.6 2185.6h0M1378.3 2250.4h0M1413.3 2162.5h0M1378.1 2233.3h0M1378.1 2182.1h0M1401.1 2181.3h0M1390.3 2264.8h0M1375.0 2202.3h0M1411.5 2259.7h0M1413.8 2213.1h0M1410.6 2156.5h0M1410.2 2270.7h0M1376.7 2230.2h0M1377.5 2204.3h0M1395.7 2248.9h0M1386.6 2158.6h0M1388.7 2224.5h0M1374.0 2209.1h0M1398.9 2163.1h0M1368.5 2134.2h0M1408.5 2201.2h0M1414.2 2112.3h0M1388.6 2120.5h0M1385.8 2273.2h0M1381.6 2200.9h0M1376.9 2222.6h0M1377.5 2207.0h0M1377.9 2147.1h0M1402.4 2202.4h0M1372.9 2197.7h0M1399.4 2178.3h0M1402.8 2178.0h0M1410.1 2161.8h0M1411.4 2207.7h0M1397.7 2239.3h0M1403.4 2232.0h0M1402.7 2268.7h0M1380.8 2186.3h0M1376.4 2158.4h0M1413.3 2137.2h0M1388.2 2211.8h0M1374.5 2157.6h0M1404.0 2206.6h0M1370.6 2228.3h0M1388.8 2197.6h0M1379.6 2244.2h0M1410.6 2163.4h0M1378.6 2160.3h0M1413.2 2242.5h0M1412.1 2274.9h0M1380.0 2179.0h0M1374.4 2233.9h0M1399.3 2195.2h0M1396.5 2212.0h0M1394.6 2231.8h0M1370.0 2200.1h0M1407.2 2226.8h0M1382.8 2250.5h0M1401.6 2098.7h0M1404.0 2139.8h0M1391.3 2189.6h0M1389.6 2215.6h0M1404.0 2218.0h0M1412.0 2230.5h0M1378.1 2187.3h0M1374.1 2227.2h0M1394.4 2179.7h0M1407.6 2186.4h0M1391.8 2249.2h0M1405.2 2174.2h0M1374.9 2202.6h0M1412.4 2132.6h0M1377.1 2189.9h0M1396.9 2263.4h0M1374.2 2202.0h0M1373.9 2249.4h0M1371.3 2231.1h0M1394.9 2224.2h0M1391.4 2182.3h0M1372.8 2201.9h0M1373.9 2157.5h0M1411.3 2259.5h0M1389.5 2240.5h0M1373.1 2172.2h0M1369.3 2154.6h0M1414.0 2152.7h0M1382.8 2204.2h0M1379.4 2157.6h0M1408.7 2261.3h0M1386.0 2173.8h0M1378.9 2233.5h0M1404.3 2215.9h0M1381.9 2132.9h0M1407.2 2265.0h0M1384.8 2239.1h0M1411.9 2229.6h0M1389.2 2228.9h0M1368.1 2231.7h0M1407.4 2234.8h0M1395.2 2157.4h0M1387.0 2186.7h0M1374.6 2221.7h0M1375.9 2155.4h0M1397.0 2274.1h0M1388.9 2165.4h0M1412.0 2161.5h0M1390.7 2160.8h0M1413.0 2209.2h0M1396.2 2181.4h0M1407.7 2221.2h0M1378.9 2239.6h0M1391.3 2183.2h0M1394.9 2169.3h0M1376.3 2157.5h0M1401.0 2169.1h0M1407.0 2155.2h0M1409.0 2222.7h0M1400.0 2258.1h0M1387.0 2268.6h0M1392.5 2251.1h0M1407.4 2233.5h0M1410.8 2239.7h0M1403.7 2206.1h0M1383.3 2168.4h0M1410.6 2248.6h0M1376.7 2189.3h0M1393.8 2238.1h0M1412.6 2260.7h0M1390.3 2229.2h0M1388.4 2148.2h0M1374.3 2214.3h0M1379.9 2222.7h0M1400.3 2099.7h0M1384.0 2171.3h0M1385.9 2198.2h0M1392.5 2157.7h0M1371.8 2166.9h0M1410.3 2245.6h0M1369.8 2274.3h0M1382.0 2235.2h0M1376.8 2247.5h0M1398.6 2165.7h0M1380.9 2194.1h0M1385.0 2245.3h0M1393.3 2193.6h0M1380.0 2172.7h0M1389.0 2205.8h0M1379.0 2173.6h0M1373.5 2169.1h0M1406.7 2201.5h0M1378.1 2173.6h0M1388.8 2255.3h0M1393.8 2171.4h0M1395.3 2259.6h0M1374.5 2243.8h0M1386.1 2253.4h0M1406.1 2253.2h0M1400.3 2190.8h0M1381.4 2206.2h0M1394.9 2214.7h0M1392.9 2171.2h0M1385.7 2249.9h0M1412.9 2215.3h0M1370.2 2249.4h0M1385.2 2247.9h0M1402.2 2241.0h0M1387.0 2230.1h0M1400.8 2131.3h0M1371.7 2256.7h0M1389.1 2183.1h0M1376.7 2161.8h0M1383.9 2254.3h0M1373.2 2186.6h0M1398.9 2201.8h0M1398.6 2248.5h0M1413.9 2201.2h0M1396.7 2225.2h0M1390.9 2218.5h0M1399.7 2187.2h0M1405.2 2206.7h0M1384.3 2242.2h0M1406.3 2200.4h0M1374.7 2217.6h0M1402.9 2127.2h0M1378.3 2138.7h0M1378.0 2111.7h0M1369.0 2150.5h0M1369.9 2190.8h0M1384.2 2177.6h0M1399.3 2204.3h0M1407.9 2207.3h0M1375.8 2244.3h0M1378.1 2221.7h0M1409.9 2118.4h0M1376.4 2163.9h0M1412.7 2231.6h0M1392.1 2193.7h0M1391.6 2205.2h0M1387.3 2160.4h0M1407.2 2190.0h0M1376.2 2155.6h0M1374.4 2141.4h0M1402.8 2262.8h0M1399.5 2240.1h0M1373.0 2190.4h0M1378.8 2184.2h0M1373.7 2216.9h0M1390.8 2182.1h0M1394.7 2178.9h0M1380.8 2233.8h0M1410.2 2255.4h0M1394.7 2247.6h0M1402.2 2204.4h0M1383.2 2170.4h0M1393.2 2209.9h0M1391.2 2144.0h0M1409.0 2261.0h0M1387.7 2189.0h0M1414.2 2163.5h0M1391.1 2148.0h0M1369.0 2159.1h0M1371.2 2158.5h0M1380.8 2265.7h0M1408.9 2248.9h0M1404.9 2251.6h0M1383.9 2179.8h0M1376.6 2252.8h0M1392.5 2143.0h0M1413.9 2238.0h0M1375.3 2169.0h0M1381.6 2238.3h0M1388.7 2189.2h0M1408.8 2223.4h0M1412.7 2168.5h0M1372.2 2152.1h0M1408.6 2196.9h0M1412.1 2180.3h0M1411.5 2217.0h0M1371.9 2207.7h0M1393.6 2182.2h0M1402.8 2212.2h0M1378.0 2166.7h0M1381.8 2220.2h0M1373.7 2179.5h0M1375.2 2231.7h0M1401.5 2175.5h0M1407.0 2259.3h0M1407.5 2165.3h0M1406.4 2263.5h0M1386.9 2266.8h0M1369.6 2167.8h0M1396.5 2263.0h0M1404.8 2271.6h0M1392.1 2286.6h0M1392.2 2261.4h0M1394.5 2175.2h0M1379.3 2241.8h0M1376.8 2244.1h0M1410.1 2239.4h0M1372.7 2210.5h0M1404.5 2172.5h0M1381.6 2179.9h0M1379.5 2173.2h0M1393.5 2137.2h0M1400.4 2133.5h0M1388.4 2226.3h0M1391.2 2190.2h0M1395.1 2264.6h0M1368.0 2217.7h0M1372.0 2145.3h0M1371.7 2161.7h0M1384.0 2153.1h0M1404.4 2194.4h0M1413.6 2163.8h0M1378.6 2150.1h0M1371.7 2169.3h0M1391.3 2177.4h0M1396.8 2173.4h0M1398.1 2206.4h0M1390.9 2187.0h0M1379.3 2170.0h0M1413.6 2244.8h0M1369.1 2204.4h0M1395.2 2182.3h0M1393.7 2238.6h0M1405.4 2267.4h0M1387.9 2226.0h0M1373.5 2158.6h0M1387.7 2146.2h0M1390.2 2140.6h0M1395.1 2142.1h0M1410.9 2169.1h0M1376.8 2196.6h0M1395.5 2131.1h0M1401.3 2254.6h0M1379.6 2240.6h0M1399.5 2238.4h0M1368.8 2241.6h0M1369.0 2155.1h0M1396.3 2287.9h0M1374.8 2223.2h0M1374.1 2211.8h0M1385.8 2242.6h0M1387.5 2198.0h0M1399.5 2217.6h0M1370.3 2233.7h0M1387.6 2244.6h0M1401.2 2248.5h0M1369.0 2174.4h0M1396.5 2161.6h0M1374.3 2188.1h0M1408.3 2234.6h0M1406.6 2278.9h0M1393.0 2240.0h0M1404.3 2193.1h0M1408.7 2172.5h0M1399.6 2237.8h0M1372.8 2174.0h0M1384.8 2278.6h0M1413.8 2131.7h0M1413.3 2250.9h0M1373.1 2194.0h0M1403.9 2229.0h0M1408.0 2187.9h0M1379.2 2157.9h0M1381.0 2214.9h0M1375.1 2192.9h0M1374.7 2223.3h0M1407.1 2196.4h0M1393.8 2200.6h0M1389.7 2238.2h0M1387.8 2248.9h0M1388.4 2167.4h0M1387.5 2139.8h0M1385.2 2174.6h0M1413.9 2157.3h0M1387.2 2208.0h0M1405.5 2162.9h0M1370.2 2182.2h0M1396.8 2167.3h0M1400.7 2246.3h0M1408.3 2232.0h0M1384.0 2165.3h0M1405.2 2249.6h0M1390.1 2264.0h0M1391.8 2205.2h0M1372.5 2285.6h0M1386.1 2191.9h0M1407.1 2127.5h0M1406.4 2241.0h0M1377.5 2194.2h0M1398.4 2137.7h0M1393.9 2230.4h0M1390.9 2160.3h0M1382.5 2226.5h0M1411.4 2123.8h0M1383.1 2194.1h0M1369.8 2226.2h0M1387.1 2279.2h0M1413.3 2179.6h0M1409.9 2233.8h0M1395.9 2216.2h0M1405.3 2211.6h0M1382.9 2246.1h0M1392.5 2137.3h0M1382.4 2190.9h0M1392.6 2171.9h0M1384.1 2193.3h0M1379.3 2278.2h0M1373.9 2260.8h0M1397.8 2288.4h0M1378.7 2157.8h0M1382.8 2202.9h0M1400.8 2143.5h0M1412.1 2181.4h0M1414.0 2167.0h0M1374.6 2162.3h0M1411.5 2196.8h0M1412.3 2234.1h0M1371.9 2150.2h0M1409.9 2158.7h0M1403.0 2221.4h0M1400.3 2201.6h0M1370.3 2157.4h0M1384.8 2154.9h0M1376.9 2276.9h0M1407.5 2146.9h0M1370.6 2170.9h0M1377.7 2230.7h0M1408.5 2219.4h0M1414.3 2277.6h0M1379.9 2224.5h0M1389.7 2222.8h0M1368.7 2198.6h0M1395.3 2182.7h0M1411.3 2147.5h0M1390.3 2122.2h0M1381.4 2277.9h0M1382.6 2170.5h0M1397.7 2156.1h0M1392.0 2240.6h0M1414.3 2211.8h0M1382.5 2161.5h0M1401.2 2235.3h0M1378.9 2215.0h0M1370.4 2206.0h0M1401.2 2166.8h0M1393.8 2243.4h0M1374.1 2219.3h0M1413.2 2168.6h0M1391.7 2227.2h0M1397.1 2181.0h0M1404.4 2206.9h0M1387.0 2203.7h0M1386.6 2248.3h0M1398.6 2196.0h0M1389.5 2264.9h0M1410.7 2230.1h0M1386.8 2196.4h0M1388.5 2188.8h0M1404.1 2165.4h0M1386.9 2169.5h0M1382.3 2219.2h0M1398.3 2209.5h0M1404.4 2252.1h0M1371.8 2197.8h0M1374.4 2173.3h0M1408.9 2213.3h0M1390.6 2246.6h0M1395.0 2201.1h0M1374.5 2240.7h0M1406.0 2247.2h0M1389.0 2248.3h0M1413.0 2154.3h0M1402.4 2172.4h0M1396.9 2200.1h0M1376.3 2273.9h0M1403.3 2288.4h0M1399.2 2154.6h0M1400.7 2233.9h0M1392.9 2155.2h0M1404.3 2185.5h0M1391.2 2170.6h0M1375.5 2165.9h0M1385.3 2180.6h0M1383.8 2208.8h0M1370.3 2231.9h0M1388.7 2176.7h0M1373.0 2257.8h0M1390.0 2218.8h0M1379.1 2234.3h0M1390.8 2160.5h0M1394.9 2144.0h0M1394.9 2154.5h0M1401.0 2219.7h0M1368.4 2239.2h0M1411.9 2237.2h0M1400.0 2277.5h0M1381.5 2249.9h0M1385.3 2201.4h0M1413.8 2217.7h0M1393.5 2227.3h0M1378.8 2242.6h0M1403.9 2234.2h0M1400.2 2184.3h0M1373.4 2208.6h0M1392.7 2160.2h0M1376.9 2172.9h0M1414.0 2240.2h0M1396.6 2145.9h0M1408.1 2257.6h0M1376.1 2201.8h0M1383.0 2152.0h0M1372.7 2218.8h0M1392.9 2253.8h0M1391.5 2164.4h0M1389.0 2209.9h0M1410.5 2155.9h0M1374.8 2177.5h0M1413.4 2147.6h0M1384.1 2184.3h0M1405.0 2191.5h0M1377.3 2249.9h0M1381.3 2242.9h0M1401.5 2222.5h0M1395.2 2221.8h0M1400.4 2209.6h0M1393.4 2219.6h0M1406.8 2170.7h0M1376.3 2162.8h0M1393.8 2175.3h0M1395.4 2228.0h0M1390.1 2173.8h0M1370.6 2192.1h0M1401.6 2225.9h0M1375.1 2216.1h0M1384.1 2214.5h0M1406.7 2245.8h0M1411.4 2201.8h0M1389.4 2222.4h0M1388.8 2171.3h0M1377.3 2208.5h0M1404.1 2224.0h0M1388.5 2251.2h0M1393.6 2173.6h0M1379.4 2248.3h0M1409.3 2259.3h0M1372.1 2214.9h0M1379.0 2207.9h0M1394.8 2191.2h0M1401.5 2176.9h0M1378.8 2191.4h0M1380.0 2280.8h0M1395.6 2158.6h0M1377.4 2262.3h0M1374.1 2241.3h0M1404.8 2233.1h0M1382.5 2267.7h0M1412.1 2235.4h0M1410.7 2210.9h0M1376.7 2179.1h0M1381.3 2250.5h0M1371.6 2193.0h0M1405.1 2244.9h0M1409.6 2229.4h0M1382.3 2222.3h0M1409.3 2160.2h0M1401.5 2232.5h0M1409.5 2207.7h0M1391.8 2160.7h0M1386.7 2166.9h0M1404.1 2156.5h0M1389.3 2232.6h0M1411.5 2219.7h0M1375.6 2170.6h0M1386.3 2192.1h0M1387.3 2244.5h0M1409.3 2247.3h0M1385.5 2153.4h0M1388.8 2202.7h0M1382.0 2232.8h0M1395.6 2163.7h0M1405.4 2287.4h0M1401.6 2190.2h0M1376.1 2138.5h0M1370.8 2260.1h0M1398.2 2217.5h0M1375.1 2270.6h0M1380.7 2249.2h0M1408.1 2208.5h0M1369.5 2188.4h0M1400.5 2170.1h0M1408.2 2283.3h0M1398.8 2155.0h0M1403.0 2143.0h0M1402.4 2174.1h0M1392.6 2178.1h0M1385.6 2131.1h0M1414.1 2233.2h0M1393.8 2250.7h0M1410.7 2267.2h0M1370.0 2236.9h0M1402.5 2113.2h0M1414.3 2221.6h0M1401.8 2170.8h0M1387.0 2143.5h0M1385.6 2128.0h0M1368.9 2165.8h0M1393.4 2235.1h0M1378.8 2237.0h0M1374.5 2164.2h0M1383.7 2232.2h0M1389.5 2231.8h0M1387.6 2225.9h0M1388.4 2128.8h0M1392.0 2226.7h0M1375.9 2211.5h0M1404.2 2143.9h0M1384.9 2261.2h0M1377.7 2212.2h0M1379.4 2205.3h0M1383.6 2124.6h0M1377.2 2220.2h0M1387.4 2161.5h0M1375.6 2266.8h0M1411.7 2153.8h0M1368.1 2259.1h0M1382.9 2191.0h0M1397.1 2239.3h0M1381.5 2136.3h0M1402.0 2245.9h0M1393.6 2192.9h0M1388.3 2181.1h0M1408.0 2229.1h0M1390.2 2186.5h0M1412.8 2201.6h0" fill="none" stroke="#000" stroke-width="1.7" stroke-linecap="round"/>
<path d="M1021.4 2035.5V2309.6H1530.4M1021.4 2078.3h-4M1021.4 2139.5h-4M1021.4 2201.2h-4M1021.4 2262.4h-4M1159.2 2309.6v4M1391.1 2309.6v4" fill="none" stroke="#222" stroke-width="1.3"/>
<g font-family="Liberation Sans, sans-serif" font-size="20" fill="#111" text-anchor="end">
<text x="1014.5" y="2085.5">4</text>
<text x="1014.5" y="2146.7">3</text>
<text x="1014.5" y="2208.4">2</text>
<text x="1014.5" y="2269.6">1</text>
</g>
<text transform="translate(992.5 2172.3) rotate(-90)" font-family="Liberation Sans, sans-serif" font-size="23" text-anchor="middle" fill="#111">Expression Level</text>
<text x="1275" y="2387.7" font-family="Liberation Sans, sans-serif" font-size="23" text-anchor="middle" fill="#111">Identity</text>
<text x="1159" y="2342" font-family="Liberation Serif, serif" font-weight="bold" font-size="19.5" text-anchor="middle" fill="#111">WT</text>
<text x="1366" y="2342" font-family="Liberation Serif, serif" font-weight="bold" font-size="19.5" fill="#111">PKP2<tspan font-weight="normal" font-size="12" dy="-7">+/-</tspan></text>
<text x="1280" y="2077" font-family="Liberation Serif, serif" font-size="22" text-anchor="middle" fill="#111">**</text>
<path d="M1269.2 2080.3H1291" stroke="#111" stroke-width="2"/>
<rect x="1546.8" y="2154.9" width="16.4" height="16.4" fill="#e0736e" stroke="#333" stroke-width="0.7"/><rect x="1546.8" y="2172.3" width="16.4" height="16.4" fill="#4d8a93" stroke="#333" stroke-width="0.7"/>
<text x="1571.7" y="2167" font-family="Liberation Serif, serif" font-weight="bold" font-size="10" fill="#111">WT</text>
<text x="1571.7" y="2184.7" font-family="Liberation Serif, serif" font-weight="bold" font-size="10" fill="#111">PKP2<tspan font-weight="normal" font-size="6" dy="-3.5">+/-</tspan></text>
</svg>
</body></html>
